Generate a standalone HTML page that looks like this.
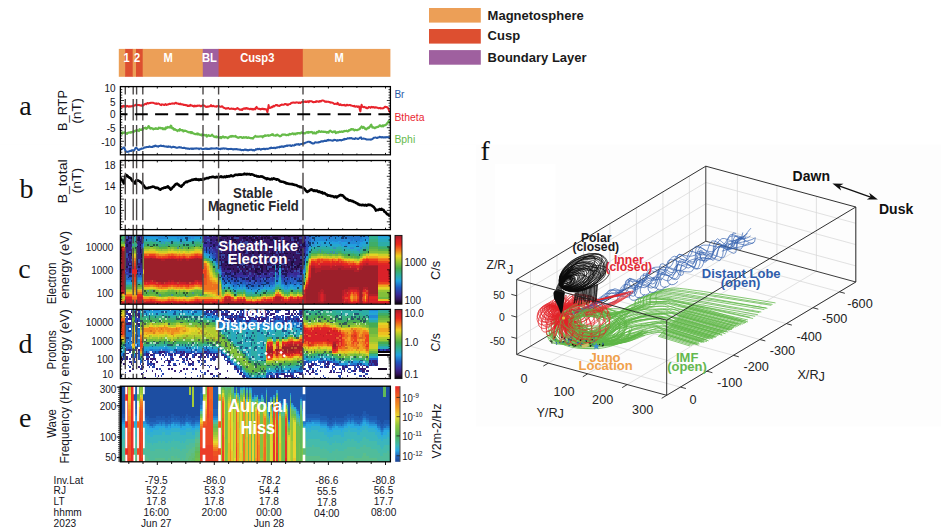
<!DOCTYPE html>
<html><head><meta charset="utf-8"><title>Figure</title>
<style>
html,body{margin:0;padding:0;background:#fff;}
body{width:941px;height:532px;overflow:hidden;font-family:"Liberation Sans",sans-serif;}
svg{display:block;position:absolute;left:0;top:0;}
text{font-family:"Liberation Sans",sans-serif;}
.se{font-family:"Liberation Serif",serif;}
</style></head><body>
<svg width="941" height="532" viewBox="0 0 941 532">
<rect x="0" y="144.6" width="941" height="282" fill="#fdfdfd"/>
<rect x="0" y="144.6" width="476" height="282" fill="#fff"/>
<rect x="495" y="164" width="60.5" height="80" fill="#fff"/>
<path fill="none" stroke="#d9d9d9" stroke-width="0.8" d="M530.5 346.3l150 40.8M530.5 346.3l0-75.1M557 330.4l149.9 40.8M557 330.4l0-75M583.5 314.5l149.9 40.8M583.5 314.5l0-75M609.9 298.6l150 40.9M609.9 298.6l0-75M636.4 282.8l150 40.8M636.4 282.8l0-75M662.9 266.9l150 40.8M662.9 266.9l0-75M689.4 251l150 40.8M689.4 251l0-75M548.3 363.1l189.1-113.3M737.4 249.8l0-75M587.7 373.8l189.2-113.3M776.9 260.5l0-75M627.2 384.6l189.2-113.3M816.4 271.3l0-75.1M666.7 395.3l189.1-113.3M855.8 282l0-75M516.7 338.4l189.1-113.3M705.8 225.1l150 40.8M516.7 317.1l189.1-113.3M705.8 203.8l150 40.8M516.7 295.8l189.1-113.3M705.8 182.5l150 40.8"/>
<path fill="none" stroke="#262626" stroke-width="0.9" d="M705.8 241.2l0-75M705.8 241.2l150 40.8M516.7 354.5l189.1-113.3"/>
<path fill="none" stroke="#5db646" stroke-width="0.75" stroke-linejoin="round" d="M565.9 323.4l2.8 2.2 3.7 3.3 4.4 4 4.9 4 5 3.8 5 2.9 4.7 1.8 4.4 .3 4.5-.7 4.5-1.5 4.5-1.8 4.5-2 4.4-1.8 4.4-1.4 4.4-.9 4.6-1 4.7-.8 4.4-.8 4.2-.6 3.7-.4 3.2-.2 2.5 0 2 .4 1.6 .5 1.3 .6 1 .7 .8 .5 .8 .4 30.5 9.4M564.6 322.4l2.2 2 2.9 2.8 3.6 3.4 3.9 3.5 4.3 3.3 4.4 2.7 4.5 1.8 4.8 .7 5.2 .1 5.5-.4 5.6-.7 5.6-1 5.4-1 5-.8 4.9-.8 4.8-1 4.8-1.2 4.6-1.1 4.2-1 3.8-.8 3.2-.5 2.6 0 2 .3 1.6 .5 1.3 .7 1 .7 .8 .6 .7 .3 30.8 9.6M562.7 315.3l1.6 2.6 2 3.6 2.4 4.4 2.7 4.5 3.2 4.3 3.7 3.6 4 2.5 4.8 1.2 5.4 .5 6-.2 6.3-.5 6.2-.9 6.1-.9 5.6-.8 5.3-1 5.5-1.3 5.3-1.5 5.1-1.6 4.7-1.4 4.2-1.1 3.5-.7 2.8-.1 2.1 .2 1.6 .6 1.2 .7 .9 .7 .7 .6 .7 .4 33.2 10.3M566.2 318.5l.8 2.5 .8 3.6 1 4.3 1.3 4.5 1.9 4.1 2.6 3.3 3.4 2.1 4.7 .6 5.9-.3 6.7-1.1 7.1-1.6 7-1.7 6.6-1.7 5.9-1.4 5.2-1.3 5-1.4 4.8-1.5 4.5-1.5 4.1-1.3 3.6-1 3.2-.7 2.6-.1 2 .3 1.6 .5 1.3 .7 .9 .7 .8 .7 .8 .3 40 12.4M567.5 319.9l2 2.5 2.5 3.8 3 4.4 3.5 4.6 3.7 4.2 3.8 3.3 4 1.9 4.1 .3 4.5-1 4.7-1.8 4.9-2.2 4.8-2.5 4.8-2.2 4.6-1.7 4.5-1.4 4.7-1.3 4.6-1.3 4.5-1.1 4.2-1 3.8-.8 3.1-.5 2.6 0 2 .3 1.6 .5 1.3 .7 1 .7 .8 .6 .7 .3 42.1 13M564.8 318.1l4 2.5 5.5 3.8 6.7 4.4 7.1 4.6 7 4.3 6.5 3.4 5.3 2 4.1 .6 3.4-.6 2.8-1.3 2.6-1.8 2.6-2 2.9-1.9 3.5-1.3 4.3-1.1 4.8-1.1 5.1-1.1 5.2-1 4.9-.9 4.4-.6 3.5-.4 2.7 0 2 .3 1.6 .6 1.3 .6 .9 .7 .8 .5 .7 .4 33.5 10.3M565 317l1 2.7 1.2 3.9 1.4 4.6 1.8 4.7 2.2 4.3 2.9 3.4 3.6 1.8 4.5-.1 5.6-1.4 6.2-2.4 6.5-2.8 6.6-3 6.3-2.6 5.6-1.8 5.3-1.1 5.2-.8 5-.6 4.8-.3 4.4-.3 3.9-.1 3.4 0 2.6 .1 2.1 .4 1.6 .5 1.2 .6 1 .6 .8 .5 .7 .3 44.5 13.6M563.7 324.6l3 1.8 4.1 2.6 4.9 3.1 5.4 3.2 5.6 2.9 5.4 2.3 5.1 1.3 4.7 .2 4.8-.7 4.8-1.2 4.8-1.6 4.7-1.7 4.7-1.6 4.5-1.4 4.6-1.2 4.8-1.4 4.7-1.4 4.5-1.3 4.3-1.2 3.8-.9 3.2-.6 2.5-.1 2 .2 1.6 .6 1.3 .7 1 .7 .8 .6 .8 .3 37.2 11.4M566.9 310.4l3.6 3.1 5.1 4.4 6 5.3 6.6 5.5 6.7 5.2 6.3 4.2 5.6 2.7 5 1 4.8-.1 4.6-1.1 4.5-1.5 4.3-1.8 4.1-1.7 4-1.3 4-1.1 3.9-1.3 3.7-1.3 3.6-1.3 3.3-1.1 3-.9 2.7-.5 2.2-.1 1.9 .3 1.7 .5 1.3 .7 1.1 .7 1 .6 .8 .3 36.4 11.1M554.6 323.2l4.5 1.6 6.3 2.4 7.5 2.8 8.1 2.9 7.9 2.7 7.2 1.9 5.9 .9 4.4-.2 3.6-1.2 2.9-1.8 2.6-2.2 2.6-2.2 2.8-2.1 3.3-1.5 4-1.1 4.5-1 4.8-.9 4.7-.8 4.5-.6 4-.5 3.2-.2 2.6 0 2 .4 1.6 .5 1.3 .6 1 .6 .8 .6 .7 .3 46.3 14M568.6 319.1l3.6 2.3 5 3.3 5.9 3.9 6.3 4 6.4 3.7 5.9 2.8 4.9 1.4 3.9 0 3.3-1.2 2.8-2.1 2.7-2.5 2.8-2.5 3-2.3 3.6-1.7 4.3-1.1 5-1 5.3-.8 5.3-.7 5-.5 4.5-.4 3.6-.2 2.7 .1 2.1 .3 1.6 .5 1.2 .7 .9 .6 .8 .5 .7 .3 41 12.4M569 323.1l2.8 2 3.8 3 4.5 3.5 4.9 3.5 5.1 3.3 4.8 2.4 4.4 1.2 3.9-.2 3.7-1.3 3.6-2 3.6-2.5 3.6-2.6 3.7-2.4 4-1.8 4.4-1.5 4.9-1.5 5-1.3 5-1.2 4.8-1.1 4.2-.8 3.4-.5 2.6-.1 2.1 .3 1.6 .5 1.2 .7 1 .7 .8 .5 .7 .4 45.8 13.8M563.6 315l3.5 2.4 4.9 3.5 5.9 4.1 6.3 4.2 6.5 4 6.1 3.1 5.5 1.8 4.9 .4 4.7-.6 4.5-1.4 4.4-1.8 4.3-2 4.2-1.9 4.3-1.4 4.4-1.2 4.5-1.2 4.5-1.2 4.3-1.2 4.1-1 3.6-.7 3.1-.5 2.5-.1 2 .3 1.6 .6 1.3 .6 1 .7 .8 .5 .8 .4 41.7 12.4M564.2 318.1l3.5 2.5 4.9 3.7 5.7 4.3 6.3 4.5 6.4 4.1 6.1 3.2 5.3 1.7 4.8 0 4.5-1.2 4.4-2.1 4.2-2.6 4.1-2.7 4.2-2.5 4.3-1.9 4.4-1.5 4.7-1.3 4.8-1.3 4.6-1.2 4.3-.9 3.8-.7 3.3-.5 2.5-.1 2.1 .3 1.6 .5 1.2 .7 1 .6 .8 .6 .8 .4 42.6 12.6M566.8 316.3l2.2 2.6 2.8 3.9 3.5 4.6 3.9 4.7 4.2 4.3 4.3 3.1 4.5 1.5 4.7-.5 5.2-2.1 5.5-3.2 5.6-3.6 5.5-3.7 5.3-3.3 4.8-2.2 4.4-1.3 4.3-.9 4.2-.5 3.8-.3 3.6-.1 3.3 0 2.8 0 2.4 .1 1.9 .4 1.6 .5 1.4 .5 1 .6 .9 .5 .8 .3 50.5 14.9M556.7 315.3l3.7 2.6 5.3 3.8 6.3 4.6 6.7 4.6 6.8 4.3 6.2 3.2 5.3 1.6 4.2-.1 3.5-1.5 3.2-2.5 2.9-3 3-3.1 3.3-2.8 3.8-2.1 4.5-1.4 5.1-1.3 5.4-1.2 5.4-1 5.1-.7 4.5-.6 3.6-.4 2.8 0 2.1 .2 1.6 .6 1.2 .6 .9 .6 .7 .6 .7 .3 52.2 15.4M569.3 323.2l3.6 1.7 5.1 2.4 6 2.9 6.4 2.9 6.4 2.6 6 1.8 5 .7 4-.7 3.5-1.8 3-2.4 2.9-2.9 2.8-2.9 3.1-2.6 3.4-1.9 3.9-1.3 4.3-1 4.4-.9 4.5-.7 4.2-.4 3.8-.4 3.1-.2 2.5 .1 2 .3 1.6 .5 1.3 .6 1 .6 .9 .5 .7 .3 49.7 14.5M559.2 321.2l1.8 1.9 2.2 2.8 2.6 3.3 3.1 3.3 3.7 3 4.4 2.1 5 .8 6.3-.8 7.6-2 8.4-2.8 8.6-3.2 8.5-3.3 7.6-2.9 6.5-2 5.2-1.4 4.5-1 3.9-.8 3.4-.5 3-.4 2.8-.2 2.5-.2 2.4 .1 1.9 .3 1.6 .5 1.4 .6 1.1 .6 .9 .5 .7 .3 49.1 14.3M572.8 328.5l2.2 1.3 2.9 2.1 3.5 2.4 3.8 2.5 4.1 2 4 1.3 4 .2 3.8-1.2 4-2.2 4.1-3.1 4.2-3.4 4.1-3.4 4.3-3 4.2-2.2 4.4-1.6 4.7-1.2 4.8-1 4.6-.7 4.5-.5 3.9-.3 3.2-.3 2.6 0 2.1 .3 1.6 .5 1.2 .6 1 .7 .8 .5 .7 .3 56.2 16.2M559.6 323.5l2.2 1.5 2.7 2.2 3.3 2.7 3.8 2.7 4.3 2.3 4.6 1.5 4.9 .4 5.5-1 6.4-2.2 6.8-3 7-3.4 6.9-3.3 6.4-2.8 5.7-2.1 5-1.2 4.6-.9 4.3-.5 3.9-.3 3.6-.1 3.2 0 2.9 0 2.4 .1 2 .3 1.6 .5 1.3 .6 1.1 .5 .8 .5 .8 .3 54.4 15.6M568.3 325.2l1.1 1.7 1.1 2.6 1.3 3.1 1.8 3.1 2.3 2.7 3 1.8 3.9 .4 5.1-1.3 6.3-2.6 7.1-3.5 7.4-3.9 7.5-3.9 7-3.5 6.1-2.5 5.4-1.6 5.2-1.2 5-.9 4.6-.6 4.1-.3 3.8-.3 3.2-.1 2.6 0 2.1 .3 1.6 .5 1.2 .6 1 .6 .8 .5 .7 .3 53.1 15.1M563.4 322.2l1.4 2 1.5 2.9 1.9 3.5 2.3 3.6 2.9 3.1 3.7 2.3 4.5 .9 5.8-.7 7.1-2 8-2.8 8.3-3.3 8.3-3.4 7.7-2.9 6.7-2.2 5.9-1.6 5.6-1.2 5.2-1.1 4.8-.8 4.4-.6 3.9-.5 3.3-.3 2.7 0 2.1 .3 1.6 .5 1.2 .6 .9 .6 .8 .5 .7 .4 48.9 13.7M564.3 318.5l2.3 1.9 2.9 2.9 3.6 3.4 3.9 3.4 4.3 3 4.5 2.1 4.4 .7 4.7-.9 5-2.3 5.3-3.2 5.4-3.7 5.4-3.6 5.3-3.2 5-2.2 5-1.4 5.2-1 5.2-.6 4.9-.4 4.6-.1 4.1-.1 3.5-.1 2.7 .1 2.1 .4 1.5 .4 1.3 .6 .9 .6 .8 .4 .7 .3 57.5 16.1M567.9 320.4l1.7 1.9 2.2 2.9 2.6 3.4 3.1 3.5 3.5 3 4 2.1 4.4 .8 5.2-.9 6.1-2.3 6.6-3.1 6.9-3.5 6.8-3.6 6.3-3.2 5.6-2.3 4.9-1.6 4.6-1.3 4.2-1 4-.7 3.6-.6 3.2-.4 2.8-.3 2.5 0 2 .3 1.6 .5 1.3 .6 1 .6 .9 .5 .7 .3 58 16.1M564.6 313.9l1.2 2.4 1.3 3.6 1.7 4.2 2.1 4.4 2.7 3.8 3.6 2.9 4.6 1.2 6-.6 7.6-2.1 8.4-3.1 8.9-3.6 8.8-3.7 8.1-3.2 7-2.3 6-1.4 5.5-1.1 5.1-.7 4.7-.5 4.1-.3 3.7-.2 3.3-.2 2.7 .1 2.1 .3 1.6 .5 1.2 .5 .9 .6 .8 .5 .7 .3 50.6 13.9M569.3 321.1l2.7 1.7 3.5 2.6 4.1 3.1 4.7 3.1 5 2.6 5.1 1.8 5 .5 5.3-1.2 5.8-2.5 6.1-3.3 6.1-3.8 5.9-3.7 5.5-3.4 5-2.4 4.4-1.5 4-1.2 3.7-.9 3.4-.6 3.2-.4 2.8-.2 2.6-.2 2.2 0 2 .3 1.6 .5 1.3 .6 1.2 .5 .9 .5 .8 .3 57.4 15.7M568.2 320.7l1.3 1.7 1.4 2.6 1.7 3.1 2.2 3.2 2.8 2.7 3.6 1.8 4.5 .6 6.1-1 7.5-2.3 8.5-3.2 8.9-3.5 8.7-3.6 7.9-3.1 6.8-2.3 5.5-1.5 5-1.2 4.4-.8 3.9-.6 3.4-.5 3.2-.2 2.8-.2 2.5 0 2 .3 1.6 .4 1.3 .6 1 .6 .9 .5 .7 .3 53.7 14.5M564.5 328.4l1.9 1 2.4 1.7 2.9 1.9 3.3 1.8 3.7 1.4 4.1 .7 4.4-.5 4.9-1.9 5.7-3.1 6-4 6.3-4.3 6.3-4.2 6-3.6 5.5-2.6 5.2-1.6 5.2-1.1 5-.6 4.8-.2 4.4-.1 3.9 0 3.3 0 2.7 .1 2 .3 1.6 .5 1.3 .5 .9 .5 .8 .5 .7 .3 63 16.8M561.1 317.9l2.3 1.8 2.9 2.9 3.4 3.4 4 3.5 4.4 2.9 4.7 2.1 5.1 .6 5.8-1.1 6.5-2.5 7.1-3.3 7.2-3.9 7.1-3.9 6.6-3.4 5.8-2.5 5.2-1.7 4.8-1.3 4.4-.9 4.1-.7 3.7-.5 3.3-.4 2.9-.2 2.5-.1 2 .3 1.6 .4 1.3 .6 1 .6 .9 .5 .7 .3 61.2 16.2M564.5 319.2l1 2.1 .9 3.1 1.2 3.7 1.6 3.8 2.3 3.2 3.4 2.2 4.5 .6 6.4-1.2 8.1-2.8 9.1-3.8 9.7-4.4 9.5-4.3 8.8-3.8 7.3-2.7 6.1-1.8 5.4-1.3 4.9-1 4.3-.7 3.9-.4 3.4-.3 3.1-.2 2.7-.1 2 .3 1.6 .4 1.3 .6 .9 .6 .8 .5 .7 .3 54.5 14.3M569 319.5l3.6 1.7 4.9 2.6 5.8 3.1 6.3 3 6.3 2.6 5.9 1.6 5 .3 4.2-1.5 3.8-3 3.5-3.9 3.2-4.3 3.3-4.3 3.4-3.7 3.6-2.7 4-1.8 4.4-1.2 4.4-.8 4.5-.5 4.2-.3 3.7-.2 3.1-.1 2.5 0 2 .3 1.6 .4 1.3 .6 1 .5 .9 .5 .7 .3 66.2 17.2M564.5 320.1l1 1.8 1 2.8 1.2 3.3 1.7 3.2 2.4 2.7 3.5 1.8 4.8 .2 6.7-1.7 8.6-3.3 9.8-4.3 10.2-4.8 10-4.7 9-4.1 7.3-2.9 5.6-1.7 4.7-1.1 3.8-.7 3.2-.3 2.8 0 2.5 0 2.4 0 2.4 0 1.9 .3 1.6 .4 1.4 .5 1.1 .6 .9 .4 .7 .3 61.2 15.5M571.7 318.8l2.6 1.9 3.4 3 4 3.5 4.5 3.5 4.6 3 4.6 1.9 4.2 .3 4.1-1.7 4-3.3 4-4.5 4-4.9 4.1-4.8 4.2-4.3 4.2-3 4.6-2 4.9-1.3 5-.9 5-.5 4.6-.3 4.2-.2 3.4-.2 2.6 0 2.1 .3 1.6 .4 1.2 .5 1 .6 .8 .4 .7 .3 69.7 17.4M569.4 318.9l1.1 1.9 1 3 1.3 3.5 1.8 3.5 2.4 2.9 3.3 1.8 4.3 .2 5.9-1.9 7.4-3.6 8.3-4.8 8.8-5.3 8.7-5.2 8.1-4.5 6.9-3.1 6-1.9 5.5-1.1 5-.6 4.6-.2 4.1 .1 3.7 .1 3.2 0 2.7 .1 2.1 .3 1.6 .4 1.2 .5 .9 .5 .8 .4 .7 .3 61.2 14.9M571.6 317.6l2.8 1.9 3.9 2.9 4.6 3.4 5.1 3.5 5.3 2.9 5.2 1.8 4.8 .2 4.7-1.9 4.7-3.5 4.7-4.7 4.8-5.1 4.6-5.1 4.5-4.4 4.3-3.1 4.2-1.8 4.2-1.2 4.1-.6 4-.3 3.6 0 3.3 0 2.9 0 2.3 0 2 .3 1.6 .4 1.3 .5 1.1 .5 .9 .4 .8 .3 73.3 17.5M570 316.9l1.4 1.9 1.6 3.1 2 3.6 2.4 3.5 2.9 3 3.4 1.9 3.9 .2 4.8-1.9 5.8-3.6 6.3-4.8 6.6-5.3 6.6-5.2 6.3-4.5 5.8-3.2 5.3-1.9 5.4-1.2 5.2-.7 4.9-.3 4.5 0 4 0 3.4 0 2.7 0 2.1 .3 1.6 .4 1.2 .4 .9 .5 .8 .5 .7 .2 73.5 17.2M566.1 317.1l2.1 1.8 2.6 2.9 3.1 3.4 3.6 3.3 4.2 2.8 4.6 1.7 5.2 .1 6.1-1.8 7.1-3.6 7.9-4.6 8-5.2 7.8-5 7.2-4.4 6.1-3.1 5.2-1.8 4.4-1.1 4-.6 3.5-.3 3.2 0 2.8 .1 2.7 0 2.3 0 2 .3 1.6 .4 1.3 .4 1.1 .5 .9 .4 .8 .3 70.4 16M569.6 319.3l2.2 1.8 2.8 2.8 3.4 3.3 3.9 3.2 4.3 2.7 4.6 1.5 4.8-.2 5.4-2.3 6.3-4.1 6.6-5.3 6.8-5.9 6.7-5.7 6.1-4.9 5.4-3.5 4.7-2.1 4.3-1.4 3.9-.7 3.6-.3 3.2 0 2.9 0 2.7 0 2.3-.1 1.9 .3 1.6 .4 1.4 .4 1.1 .5 .9 .4 .8 .3 76.1 16.9M567.4 321.4l1.7 1.4 2 2.2 2.4 2.6 2.9 2.5 3.4 1.9 3.9 1 4.6-.5 5.6-2.3 6.6-4 7.3-5 7.6-5.4 7.5-5.3 7-4.6 6.1-3.2 5.4-1.9 5.1-1.1 4.7-.5 4.3 0 3.9 .2 3.5 .2 3.1 0 2.6 .1 2 .2 1.6 .4 1.3 .4 .9 .5 .9 .4 .7 .2 77.1 16.7M609.4 319.7l1.8-1.3 2.6-1.9 3.1-2.1 3.2-2.2 2.9-2.1 2.5-1.5 2-1.1 1.8-.8 1.6-.6 1.4-.4 1.2-.5 1-.6 .6-.7 .2-.8-.1-.8 0-.7 .1-.7 .4-.5 .8-.5 .9-.4 1.1-.4 1.2-.3 1.3-.2 1.4-.2 1.4-.2 1.3-.1 1.5-.1 1.7 0 2 .1 2.6 .2 3.5 .4 4.4 .7 4.8 .7 4.6 .7 3.9 .7 2.8 .4 78.3 14.4M608.4 318l2-.7 2.8-1.1 3.2-1.3 3.4-1.3 3.1-1.3 2.6-1 2.1-.8 1.8-.6 1.6-.6 1.4-.6 1.2-.6 .9-.8 .6-1 .2-1.1-.1-1.2 0-1.2 .1-1.1 .4-1 .9-.8 1-.7 1.2-.6 1.3-.5 1.5-.4 1.4-.4 1.5-.2 1.3-.2 1.5-.1 1.6 .1 2.1 .1 2.5 .2 3.5 .4 4.4 .6 4.8 .7 4.6 .7 4 .6 2.7 .4 80.4 14.1M599.5 308.1l3.4 .2 4.9 .2 5.7 .2 5.9 .2 5.2 .1 4.1-.2 2.7-.3 2.1-.6 1.4-.7 1.1-.7 .9-.8 .8-.9 .5-.8 .2-1-.1-1.1 0-1 .1-1 .5-.8 .9-.7 1.1-.6 1.4-.5 1.4-.4 1.6-.4 1.5-.3 1.5-.2 1.3-.2 1.5 0 1.6 0 2.1 .1 2.5 .2 3.5 .4 4.4 .6 4.8 .6 4.6 .7 3.9 .6 2.8 .4 78.1 13.2M601.9 316.1l3.4-.9 4.9-1.3 5.6-1.5 5.8-1.5 5.3-1.5 4-1.1 2.7-.9 2-.7 1.5-.6 1.1-.5 .9-.6 .8-.7 .5-1 .2-1-.1-1.1-.1-1.1 .1-1 .6-.9 1-.7 1.2-.6 1.5-.6 1.6-.5 1.6-.4 1.6-.3 1.5-.2 1.4-.2 1.4 0 1.7 0 2 .1 2.5 .2 3.5 .4 4.4 .6 4.8 .7 4.6 .7 4 .6 2.7 .4 77.2 13.6M600.1 317.9l4-1.1 5.6-1.5 6.6-1.8 6.7-1.8 6.1-1.7 4.5-1.4 3-.9 2.1-.7 1.4-.5 1-.5 .8-.6 .7-.8 .6-1 .1-1.2-.1-1.3-.1-1.2 .1-1.2 .6-1 1.1-.8 1.3-.8 1.6-.7 1.8-.5 1.7-.5 1.7-.4 1.5-.2 1.4-.2 1.4-.1 1.7 .1 2 .1 2.5 .2 3.5 .4 4.4 .5 4.8 .7 4.6 .6 3.9 .6 2.8 .3 76.8 12.5M598.3 314.6l4.2-.5 6.1-.8 7-.8 7.2-.9 6.4-.9 4.8-.8 3.2-.7 2.1-.5 1.4-.6 .9-.6 .7-.7 .7-.9 .6-1.2 .1-1.4-.1-1.6-.1-1.5 .1-1.5 .6-1.2 1.2-1 1.5-1 1.7-.8 1.8-.7 1.9-.6 1.8-.4 1.5-.4 1.4-.1 1.4-.1 1.6 0 2 .2 2.6 .2 3.5 .4 4.3 .5 4.8 .6 4.6 .6 4 .6 2.8 .4 77.6 12.2M600.9 317.4l4.2-1 6.2-1.5 7.2-1.7 7.3-1.9 6.5-1.6 4.9-1.3 3.2-1 2.1-.6 1.4-.5 .9-.5 .6-.6 .8-.8 .5-1.2 .1-1.4-.1-1.5-.1-1.5 .1-1.4 .7-1.2 1.2-1 1.6-.9 1.8-.7 2-.7 2-.6 1.8-.4 1.6-.3 1.4-.2 1.4-.1 1.6 .1 2 .1 2.5 .3 3.5 .4 4.4 .6 4.8 .6 4.6 .7 3.9 .6 2.8 .5 75.1 13.1M606.5 318.6l4-.9 5.7-1.3 6.7-1.5 6.8-1.6 6.1-1.5 4.5-1.2 3.1-.8 2.1-.6 1.4-.4 .9-.5 .8-.7 .7-1 .6-1.3 .1-1.8-.2-1.9-.1-1.9 .2-1.8 .6-1.5 1.3-1.2 1.7-1.2 2-1 2.1-.9 2.1-.7 1.9-.6 1.6-.4 1.4-.2 1.4 0 1.6 0 2 .2 2.5 .2 3.5 .4 4.4 .5 4.8 .6 4.6 .6 3.9 .6 2.8 .3 75.2 11.7M607.8 315.4l3.9-.9 5.6-1.2 6.6-1.5 6.7-1.6 6-1.4 4.5-1.2 3-.8 2.1-.6 1.4-.5 1-.5 .8-.7 .7-.9 .6-1.2 0-1.6-.1-1.6-.1-1.7 .1-1.6 .7-1.3 1.4-1.1 1.8-1 2.1-.9 2.2-.8 2.2-.6 2-.5 1.7-.4 1.4-.1 1.4-.1 1.6 .1 1.9 .1 2.5 .2 3.5 .4 4.4 .5 4.8 .6 4.6 .7 3.9 .5 2.8 .4 75 11.8M606.5 315.8l4.7-.9 6.9-1.3 7.9-1.6 8.1-1.6 7.2-1.4 5.3-1.2 3.4-.9 2.2-.6 1.4-.4 .8-.5 .6-.7 .6-.9 .6-1.4 0-1.6-.2-1.8-.1-1.9 .2-1.7 .7-1.4 1.5-1.2 1.9-1.1 2.2-1 2.4-.9 2.3-.7 2-.5 1.7-.4 1.5-.2 1.4 0 1.5 .1 1.9 .1 2.5 .2 3.5 .4 4.4 .5 4.8 .7 4.6 .6 4 .5 2.7 .4 71.9 11.4M658 336.2l32 9.8M659 335.3l32.8 10M659.9 334.3l33.6 10.2M660.9 333.3l34.4 10.5M661.9 332.4l35.1 10.7M662.8 331.4l36 11M663.8 330.4l36.7 11.2M664.8 329.5l37.5 11.4M665.8 328.5l38.3 11.7M666.7 327.5l39.1 12M667.7 326.6l39.9 12.1M668.7 325.6l40.6 12.4M669.6 324.6l41.5 12.7M670.6 323.7l42.2 12.8M671.6 322.7l43 13.1M672.5 321.7l43.9 13.4M673.5 320.8l44.6 13.6M674.5 319.8l45.4 13.8M675.5 318.8l46.1 14.1M676.4 317.9l47 14.3M677.4 316.9l47.8 14.6M678.4 315.9l48.5 14.8M679.3 315l49.4 15M680.3 314l50.1 15.3M681.3 313l50.9 15.5M682.2 312.1l51.7 15.7M683.2 311.1l52.5 16M684.2 310.1l53.3 16.3M685.2 309.1l54 16.5M686.1 308.2l54.9 16.7M687.1 307.2l55.6 17M688.1 306.2l56.4 17.3M689 305.3l57.2 17.4M690 304.3l58 17.7M609.9 323.2l.5 2.4-.5 2.4-1.5 2.3-2.3 2.2-3.2 1.8-3.9 1.5-4.4 1.1-4.6 .6-4.8 0-4.6-.4-4.3-.9-3.8-1.3-3.2-1.8-2.3-2-1.3-2.3-.4-2.4 .6-2.4 1.6-2.3 2.5-2.1 3.3-1.8 3.9-1.5 4.4-1 4.7-.5 4.8 0 4.6 .4 4.2 1 3.8 1.4 3 1.8 2.2 2.1M624.7 328.3l-1.3 3.1-2.2 3-3.2 2.8-4 2.5-4.6 2.2-5.2 1.7-5.5 1.3-5.8 .8-5.7 .3-5.6-.3-5.3-.8-4.7-1.4-4.1-1.8-3.4-2.2-2.4-2.5-1.4-2.8-.5-3 .6-3.1 1.5-3 2.6-2.9 3.4-2.8 4.2-2.4 4.8-2.1 5.3-1.6 5.6-1.2 5.8-.6 5.7-.1 5.5 .4 5.2 1M610.8 331.1l-2.1 2.3-2.9 2-3.7 1.6-4.2 1.2-4.7 .8-5 .3-5.1-.2-5-.6-4.9-1.1-4.5-1.6-4.1-1.9-3.4-2.1-2.6-2.5-1.8-2.6-1-2.6 0-2.7 .9-2.5 1.7-2.4 2.7-2.1 3.3-1.8 4-1.4 4.5-1 4.9-.5 5 0 5.1 .4 5 1 4.7 1.3 4.3 1.7 3.6 2.1M625.3 332.4l-2.9 3.5-4.1 3.2-5.1 2.7-6 2.2-6.6 1.6-6.9 .9-7 .1-6.7-.6-6.2-1.3-5.5-2-4.5-2.5-3.3-3.1-2.1-3.3-.7-3.6 .8-3.7 2.1-3.6 3.3-3.4 4.6-3 5.5-2.5 6.2-2 6.8-1.3 6.9-.6 6.9 .2 6.6 .9 6 1.5 5.1 2.2 4 2.8 2.9 3.2 1.5 3.4M629.3 330.6l-1.5 3.7-2.8 3.3-4.1 2.9-5.1 2.3-6 1.6-6.7 1-7.2 .2-7.3-.6-7.2-1.2-6.8-2-6.2-2.6-5.3-3.1-4.3-3.4-3.1-3.8-1.7-3.9-.4-3.9 1-3.7 2.4-3.5 3.7-3 4.8-2.5 5.8-1.9 6.5-1.1 7.1-.5 7.2 .3 7.3 1.1 7 1.7 6.4 2.4 5.6 2.9 4.6 3.4M630.8 330.5l-1.2 3.2-2.1 3.1-3.1 2.8-3.9 2.6-4.6 2.3-5.3 1.8-5.7 1.3-6.1 .9-6.2 .3-6.2-.2-6-.8-5.7-1.2-5.2-1.7-4.6-2.2-3.8-2.5-2.9-2.8-2.1-3-1.1-3.2 0-3.3 1-3.2 1.9-3.2 2.9-2.9 3.8-2.6 4.5-2.3 5.1-1.9 5.6-1.5 6-.9 6.2-.5 6.2 .1M629.5 329.4l.2 3.7-1.3 3.4-2.7 3.2-3.9 2.6-5 2-5.9 1.3-6.5 .6-6.9-.2-6.9-.9-6.7-1.7-6.2-2.3-5.4-2.9-4.4-3.3-3.2-3.6-1.9-3.7-.4-3.7 .9-3.6 2.4-3.2 3.6-2.7 4.8-2.2 5.7-1.5 6.4-.7 6.8 0 7 .8 6.7 1.5 6.4 2.2 5.6 2.7 4.6 3.2 3.5 3.6M619 326.3l-1.5 2.5-2.5 2.3-3.2 2.1-4 1.8-4.4 1.4-4.8 .9-5 .3-4.8-.1-4.6-.6-4.1-1.1-3.5-1.6-2.7-1.9-1.8-2.3-.8-2.4 .1-2.5 1.2-2.6 2.1-2.4 3-2.2 3.7-1.9 4.3-1.5 4.7-1.1 4.9-.6 4.9-.1 4.7 .5 4.3 .9 3.8 1.4 3 1.8 2.1 2.2 1.2 2.3M624.4 322.8l.9 3.9-.7 4.1-2.2 3.9-3.8 3.8-5 3.3-6.1 2.8-6.9 2.1-7.5 1.4-7.6 .5-7.5-.3-7-1.2-6.3-1.9-5.1-2.6-3.9-3.2-2.5-3.7-.9-3.9 .7-4 2.3-4 3.7-3.7 5-3.4 6.2-2.7 6.9-2.2 7.5-1.3 7.6-.5 7.5 .3 7 1.2 6.2 1.9 5.2 2.6 3.9 3.2M613.7 326.6l0 2.6-.8 2.6-1.8 2.5-2.6 2.3-3.4 2-4 1.7-4.4 1.3-4.9 .9-5 .4-5-.1-4.8-.5-4.6-1-4-1.4-3.5-1.8-2.7-2.1-1.9-2.4-.9-2.5-.1-2.5 .8-2.6 1.8-2.5 2.6-2.3 3.3-2 4-1.7 4.4-1.4 4.9-.9 5-.4 5 .1 4.8 .5 4.6 1M612.7 327.8l-.9 2.6-2 2.5-2.8 2.4-3.5 2.1-4.3 1.7-4.6 1.3-5 .9-5 .3-4.9-.2-4.6-.7-4.1-1.1-3.4-1.7-2.7-2-1.7-2.3-.8-2.4 .2-2.6 1.2-2.7 2.1-2.5 3-2.3 3.8-2 4.3-1.6 4.8-1.2 4.9-.7 5.1-.2 4.8 .3 4.5 .8 4 1.3 3.2 1.7 2.5 2.1M616 327.5l-1.1 3-2.2 2.8-3.2 2.4-4.2 2-4.8 1.6-5.4 .9-5.8 .5-5.9-.2-5.9-.8-5.6-1.3-5-1.8-4.4-2.3-3.6-2.6-2.6-2.9-1.5-3.1-.4-3.1 .8-3 1.9-2.8 2.9-2.6 3.8-2.1 4.7-1.7 5.2-1.2 5.7-.6 5.9 0 5.9 .6 5.7 1.1 5.3 1.7 4.6 2.1 3.8 2.6M615 333.8l-2.6 2.9-3.7 2.4-4.6 1.9-5.5 1.2-6.1 .6-6.3-.1-6.4-.8-6.1-1.5-5.7-2.1-5-2.5-4-3-2.9-3.2-1.7-3.4-.3-3.4 .9-3.3 2.2-2.9 3.4-2.5 4.4-2.1 5.3-1.4 5.9-.8 6.3-.1 6.4 .7 6.2 1.2 5.9 1.9 5.1 2.5 4.3 2.9 3.2 3.1 2.1 3.4 .7 3.4M628.4 323.7l-1.1 3.1-2.2 3.1-3.2 2.9-4.2 2.7-4.8 2.2-5.5 1.8-5.7 1.2-5.8 .6-5.8 0-5.3-.6-4.9-1.2-4.1-1.8-3.1-2.2-2.2-2.6-1-2.9 .1-3.1 1.2-3.1 2.4-3.1 3.4-2.9 4.2-2.6 5-2.1 5.4-1.7 5.8-1.2 5.8-.5 5.7 .1 5.3 .6 4.8 1.3 4 1.8 3 2.3M610.7 325.2l-.1 2.1-.9 2-1.7 1.9-2.4 1.7-3.1 1.4-3.6 1-3.9 .7-4.1 .2-4.3-.1-4.1-.6-3.9-1-3.4-1.3-3-1.6-2.3-1.9-1.5-2-.8-2.1 0-2.2 .9-2 1.7-1.9 2.4-1.7 3-1.4 3.5-1.1 3.9-.7 4.2-.2 4.2 .1 4.1 .6 3.9 .9 3.5 1.3 3 1.6M624.8 323.7l-.3 2.6-1.1 2.6-2 2.5-2.7 2.4-3.3 2.1-3.9 1.8-4.4 1.6-4.8 1.1-4.9 .7-5 .3-4.9-.2-4.7-.6-4.4-1-3.9-1.4-3.2-1.7-2.6-2.1-1.9-2.3-1-2.5-.2-2.5 .7-2.7 1.4-2.5 2.3-2.5 3-2.3 3.6-2 4.1-1.7 4.6-1.4 4.8-.9 5-.6 5-.1M624.9 334.1l-2.8 2.6-3.7 2.2-4.6 1.7-5.3 1.1-5.7 .6-5.9-.1-6-.7-5.7-1.3-5.2-1.8-4.5-2.4-3.6-2.6-2.6-3-1.4-3.1-.3-3.1 .9-3 2.1-2.8 3.2-2.4 4.2-2 4.9-1.5 5.5-.9 5.8-.3 6 .4 5.9 1 5.5 1.5 4.9 2.1 4.1 2.5 3.2 2.8 2.1 3 .9 3.1M619.2 324.1l.6 3.8-.9 3.9-2.4 3.7-3.9 3.4-5.1 2.9-6.1 2.3-6.8 1.7-7.3 .8-7.5 .1-7.2-.8-6.8-1.5-5.9-2.3-4.9-2.9-3.5-3.3-2.2-3.7-.6-3.8 .9-3.9 2.4-3.7 3.9-3.4 5.1-2.9 6.1-2.3 6.9-1.7 7.3-.8 7.4 0 7.3 .7 6.7 1.6 5.9 2.2 4.9 2.9 3.5 3.3M618.4 331.6l-2.1 1.7-2.8 1.3-3.3 .9-3.7 .6-4 .2-4.1-.2-4.1-.7-3.9-1-3.6-1.4-3.2-1.6-2.6-1.9-2-2-1.2-2.1-.5-2.2 .4-2 1.1-2 1.9-1.7 2.5-1.4 3.1-1.1 3.6-.7 3.9-.3 4 0 4.2 .5 4 .9 3.7 1.2 3.4 1.6 2.8 1.8 2.2 2 1.5 2.1M621.6 333.9l-1.6 3.1-2.8 2.8-3.9 2.3-4.8 1.8-5.5 1.1-6.1 .5-6.4-.2-6.5-.9-6.2-1.5-5.7-2.2-5-2.6-4.2-3-3-3.3-1.9-3.4-.7-3.4 .7-3.3 1.9-3.1 3.1-2.7 4.1-2.1 5-1.6 5.8-1 6.2-.3 6.4 .4 6.4 1.1 6.1 1.6 5.6 2.3 4.8 2.7 3.8 3.1 2.8 3.4M607.4 324.2l.4 1.9-.4 2-1 2-1.8 1.8-2.4 1.6-3 1.4-3.4 1.1-3.7 .8-3.9 .4-4 0-3.9-.4-3.7-.7-3.3-1-2.8-1.4-2.3-1.6-1.6-1.8-.9-1.9-.2-2 .6-2 1.3-1.9 2-1.8 2.6-1.5 3.1-1.3 3.5-1 3.9-.7 3.9-.2 4 .1 3.8 .4 3.6 .8M608.1 326.5l-.1 2.4-1.1 2.4-2 2.2-2.9 2-3.5 1.7-4.1 1.3-4.5 .8-4.7 .4-4.7-.1-4.6-.6-4.2-1-3.7-1.5-3-1.8-2.2-2.1-1.3-2.3-.3-2.4 .6-2.4 1.5-2.3 2.4-2.1 3.2-1.8 3.9-1.5 4.3-1.1 4.6-.7 4.7-.1 4.7 .3 4.4 .8 4 1.3 3.3 1.6 2.7 2M626.6 324.1l-.4 4.3-2 4.3-3.7 3.9-5.2 3.6-6.4 2.9-7.3 2.3-7.9 1.3-8.1 .5-8-.4-7.5-1.3-6.6-2.2-5.4-2.9-4.1-3.5-2.4-4-.7-4.2 1-4.3 2.7-4.1 4.3-3.9 5.6-3.3 6.8-2.7 7.6-1.9 8-1.1 8.1-.1 7.8 .8 7.2 1.6 6.2 2.5 5 3.1 3.4 3.7 1.8 4.1M622.6 332.3l-1.9 3.3-3.2 3-4.2 2.5-5.1 2.1-5.9 1.4-6.4 .8-6.6 .1-6.6-.5-6.3-1.2-5.8-1.9-5.1-2.4-4.1-2.8-3-3.1-1.7-3.4-.5-3.5 .8-3.4 2.1-3.2 3.3-2.9 4.4-2.5 5.3-1.9 6-1.4 6.4-.7 6.6 0 6.6 .7 6.2 1.3 5.7 1.9 5 2.5 3.9 2.9 2.8 3.2M620.1 326.7l-.1 2.7-1 2.5-1.9 2.2-2.7 2-3.3 1.7-4 1.3-4.5 .8-4.8 .4-5-.1-5.1-.6-4.9-1-4.7-1.4-4.3-1.8-3.8-2.2-3.1-2.4-2.4-2.5-1.5-2.7-.7-2.7 .2-2.6 1.1-2.5 1.9-2.2 2.7-2 3.4-1.6 4.1-1.3 4.5-.8 4.8-.3 5 .1 5.1 .6 4.9 1.1M631.8 326.8l-.1 2.8-1 2.9-1.9 2.7-2.7 2.4-3.4 2.3-4.2 1.8-4.6 1.5-5.2 1.1-5.3 .6-5.6 .2-5.5-.4-5.3-.8-5-1.2-4.6-1.7-4-2-3.3-2.3-2.5-2.6-1.7-2.7-.8-2.9 .2-2.9 1-2.8 1.9-2.7 2.7-2.5 3.5-2.2 4.2-1.8 4.7-1.5 5.1-1.1 5.4-.6 5.5-.1M555.7 332.8l.4 .7 .4 1 .5 1.3 .9 1.2 1.5 1.3 2.3 1 3.3 .9 4.2 .8 4.7 .8 5.2 .7 5.2 .5 5.1 .4 5.1 .3 5.3 .2 5.4 .1 5.5-.1 5.2-.4 5.1-.8 5-1.3 5.2-1.9 5.1-2.2 4.7-2.2 3.9-1.9 2.8-1.2M551.1 329.7l.4 1.3 .3 1.8 .6 2.1 .9 2.2 1.5 2 2.3 1.5 3.3 1.2 4.3 .9 4.8 .7 5.2 .6 5.2 .4 5 .4 4.8 .2 4.8 .3 4.9 .1 4.9-.1 4.9-.4 4.8-.9 5.2-1.7 5.6-2.3 5.6-2.7 5.2-2.6 4.3-2.3 3.2-1.6M546.5 333.5l.5 .8 .4 1.1 .6 1.4 1 1.3 1.4 1.3 2.1 1.1 2.8 .8 3.3 .7 3.7 .6 4.3 .5 4.7 .4 5.3 .3 6.2 .2 7.2 .1 7.6 0 7.7-.1 7-.4 5.9-.6 4.9-1.2 4.2-1.6 3.7-1.8 3.1-1.9 2.5-1.5 1.9-1.1M554.3 330.8l.4 1.4 .3 2.1 .6 2.3 .9 2.4 1.5 2.1 2.3 1.6 3.1 .9 3.8 .6 4.3 .3 4.9 .1 5.1-.1 5.5 0 6-.1 6.8-.1 7.2-.2 7.1-.4 6.5-.6 5.6-.9 4.7-1.5 4.2-1.9 3.6-2.1 3.1-2.2 2.5-1.8 2-1.3M549.3 333.2l.4 .9 .4 1.3 .5 1.5 .9 1.6 1.5 1.4 2.3 1.2 3.3 1 4.2 .8 4.7 .7 5.1 .6 5.2 .4 5 .3 4.9 .1 5.1 0 5.1-.2 5.2-.3 5-.6 5-.9 5.2-1.4 5.4-2 5.4-2.1 5-2.2 4.2-1.8 3-1.3M551.2 330.1l.4 1.4 .4 2.1 .6 2.5 .9 2.4 1.5 2.3 2.2 1.6 3 1.2 3.6 .9 4.2 .6 4.7 .4 5 .2 5.2-.1 5.9-.3 6.5-.5 7-.8 6.8-1 6.4-1.1 5.6-1.2 4.9-1.4 4.5-1.8 4-2 3.5-1.8 3-1.6 2.2-1.2M548.6 330.7l.4 1.4 .2 2.1 .4 2.5 .9 2.4 1.5 2.2 2.6 1.5 3.8 .9 5 .4 5.6 .2 6 0 6-.2 5.4-.2 5.2-.4 5.2-.4 5-.7 5-.7 4.9-.8 4.6-.7 4.7-.9 4.7-1 4.6-1.1 4.2-1 3.5-.9 2.6-.6M553.1 331.9l.5 1.1 .4 1.6 .6 1.8 .9 1.9 1.5 1.8 2.1 1.3 2.9 1 3.5 .7 4 .6 4.4 .4 4.9 .3 5.1 .2 5.8 0 6.6-.2 6.9-.2 7-.5 6.5-.5 5.7-.7 4.9-1 4.7-1.3 4.2-1.4 3.6-1.4 3-1.2 2.3-.8M549.3 329.5l.4 1.3 .3 1.8 .4 2.2 .9 2.3 1.5 2 2.5 1.7 3.6 1.2 4.5 1.1 5.2 1 5.6 .7 5.7 .5 5.6 .3 5.7-.1 6-.3 6.2-.5 6.1-.7 5.7-.9 5-1 4.6-1.4 4.2-1.8 3.9-1.9 3.4-1.9 2.9-1.6 2.1-1.2M553.5 330.2l.4 1.2 .4 1.8 .7 2 .9 2.1 1.4 1.9 2.2 1.5 2.8 1.1 3.5 .8 4 .7 4.4 .5 4.6 .4 4.8 .3 5.3 .3 5.7 .3 6 .2 6-.1 5.9-.4 5.4-.9 5.3-1.7 5.4-2.3 5.2-2.7 4.8-2.7 3.9-2.4 3-1.5M546.4 331.1l.4 1.4 .4 2.1 .5 2.4 1 2.4 1.4 2.1 2.3 1.4 3.2 .8 4.1 .4 4.6 0 4.9-.1 5.1-.3 4.9-.3 4.8-.3 5.1-.4 5.1-.6 5.2-.6 5.1-.7 5-.8 5.2-.9 5.6-1.2 5.6-1.3 5.1-1.2 4.3-1 3.1-.7M549.5 332.9l.4 .8 .3 1.2 .5 1.3 .9 1.4 1.5 1.3 2.4 1 3.6 .8 4.5 .7 5.1 .5 5.5 .5 5.6 .4 5.2 .4 5.1 .3 5.1 .4 5.2 .3 5.2 .2 5-.2 4.8-.6 4.9-1.1 5.1-1.8 5-2 4.5-2.1 3.8-1.8 2.8-1.2M550.6 333.6l.5 .8 .4 1.1 .6 1.2 .9 1.4 1.5 1.2 2.1 1.1 2.9 .9 3.5 .8 4 .8 4.4 .6 4.8 .5 5.2 .4 5.7 .2 6.6 .1 6.9 0 7-.2 6.5-.5 5.6-.8 5-1.4 4.6-1.9 4.3-2.3 3.7-2.2 3-1.9 2.3-1.3M551.2 333.3l.4 1 .4 1.3 .5 1.6 .9 1.6 1.5 1.5 2.3 1.2 3.1 1 3.9 1 4.5 .8 4.9 .7 5.1 .5 5.2 .3 5.7 0 6.2-.1 6.4-.3 6.4-.5 6.1-.7 5.3-.8 4.9-1.2 4.7-1.6 4.3-1.7 3.8-1.6 3.1-1.5 2.4-1"/>
<path fill="none" stroke="#3361b0" stroke-width="0.68" stroke-linejoin="round" d="M574.6 313.2l2.7-.9 3.9-1.3 4.5-1.5 4.9-1.4 5.7-1.6 6.6-1.8 6.1-1.6 4.3-1.1 2.5-.3 1.6-2.3 .8-4 1.3-3.1 1.5-2.5 2.5-.3 3 .7 3.6 2.3 2.9 .8 2.1-1.3 .6-4.7 1.1-3.4 .7-4.3 2.2-1.1 3.2 1.3 3.1 1.1 3.6 2.4 2.9 .7 2.3-.9 1.2-3.3 .9-3.8 .8-4.3 1.7-1.9 2.7 .1 3.2 1.4 3.8 2.5 3.2 1.5 2.1-1.2 1.7-2.1 .8-4.1 1-3.8 1.6-2.4 2.4-.4 3.2 1.2 3.6 2.4 3.3 1.5 2.8 .4 1.3-3 .7-4.3 1-3.7 1.5-2.6 2.4-.5 4.1 3.2 3.6 2.4 3.6 2.1 1.9-1.6 1.3-2.9 1-3.7 1.3-3.2 1.5-2.5 2.9 .6 3.6 2.4 3.6 2.2 3.4 1.7 2.2-.9 1-3.8 .3-5.1 1-3.8 1.8-1.8 2.9 .5 3.8 2.7 3.3 1.7 2.9 .5 1.9-1.6 .7-4.4M577.2 313l1.8-1.1 2.5-1.6 3.5-1.9 4.4-2.1 6.5-2.7 8.1-3.2 7.7-3 5.3-2.1 1.9-1.8 1.8-1.9 3 .9 3.4 1.9 3 .9 3.1 1 2.1-1.1 1.4-3 .7-4.3 .7-4.2 1.2-3.4 2.5-.2 3.7 2.4 3.6 2.2 3.8 2.6 3 .9 1.7-2 1.2-3.2 1-3.7 .8-4.2 1.3-2.9 3.2 1.3 3.6 2.2 4.1 3.4 2.9 .6 2.3-.7 1.6-2.5 1.2-3.3 .1-5.5 1-3.7 1.8-1.9 3.2 1.2 3.6 2.2 4 3.2 2.8 .4 1.5-2.5 1.2-3.3 .1-5.6 1.1-3.6 1.8-1.8 2.9 .6 3.6 2.2 4 3.1 3.4 1.8 2.9 .7 1.5-2.5 1.4-2.8 .6-4.6 .9-3.9 1.4-2.9 2.3-.7 3.5 2.1 3.9 2.9 3 .8 2.7 .1 1.5-2.4 1.4-2.9 .7-4.4 1.2-3.1M577.2 311.6l1.5-.7 2-1 2.6-1.2 3.2-1.5 4.4-2.1 5.4-2.5 5.2-2.4 3.5-1.6 2.1-1.1 2.3-.9 2.4-.5 2.7 .2 2.5-.2 2.8 .4 2.4-.5 2.1-1.4 1.5-2.3 1.6-2.3 1.7-2.2 2.2-1 2-1.3 2.7 .1 3 .8 3 .8 2.8 .5 2.1-1.3 1.8-1.7 1.6-2.3 1.4-2.8 1.6-2.3 2.5-.2 3 .8 2.8 .3 3.5 2 3 .9 2.1-1.3 1.9-1.6 1.4-2.6 1.4-2.9 1.9-1.7 2.2-1 3.1 1.1 2.8 .5 2.8 .3 2.6 0 2.1-1.2 1.5-2.5 1.3-3.1 1.1-3.3 1.8-1.9 2.3-.8 2-1.3 2.8 .3 2.8 .5 2.9 .5 2.4-.4 2.1-1.2 1.7-2 .8-4.2 1-3.7 2-1.4 2.6-.2 2.8 .6 3.4 1.7 2.9 .5 2.4-.5 1.6-2.2 .9-4 1.4-2.7 1.5-2.6M573 311.2l2-.6 2.8-.7 3.7-1.1 4.5-1.6 6.3-2.5 7.9-3.3 7.4-3.1 5.1-2.1 2.2-1 2.3-.7 2.9 .6 3.2 1.3 3.1 1 2.4-.3 1.8-2.1 1.8-1.9 1.4-2.6 1.1-3.4 1.8-1.9 1.8-1.9 3.3 1.6 3.1 1.1 3 .7 3.2 1.5 2.3-.8 1.8-1.8 1.5-2.7 1.1-3.5 1.5-2.5 1.9-1.6 2.1-1.2 2.9 .7 3.6 2 3.2 1.5 2.7 .2 1.9-1.6 1.2-3.4 1.3-3 1-3.6 1.9-1.7 2.5-.4 2.6 .1 3.4 1.8 3.2 1.2 3 .9 2.4-.4 1.8-1.9 1.4-2.8 1-3.6 1.3-3 1.6-2.5 2.3-.8 2.8 .6 3.2 1.3 3 .9 3.3 1.4 2.2-.9 1.4-2.7 1.2-3.4 1-3.6 1.4-2.9 2-1.3 2.4-.6 2.2-.9 3.5 2 2.9 .7 2.9 .7 2.2-1.1 2.1-1.1M576.9 313.7l1.6-1 2.1-1.3 2.9-1.7 4.1-2.1 6.1-2.9 7.7-3.5 7.4-3.3 5.1-2.2 1.7-2 2.2-1.1 2.7 .1 2.7 .4 2.8 .4 2.8 .3 2.3-.8 2-1.4 1.9-1.6 1.1-3.5 1.5-2.6 2.1-1 3 .8 3.2 1.2 2.7 .4 2-1.6 1.6-2.3 1.6-2.3 1.5-2.5 1.7-2.1 2.5-.4 2.7 .3 2.9 .7 2.9 .6 2.5-.4 1.9-1.7 1.3-3 1.1-3.3 2-1.5 2.1-1.2 2.9 .6 3.3 1.7 3.2 1.2 2.2-1 1.8-1.9 1.6-2.2 1.3-2.9 1.8-1.9 2.4-.6 2.8 .5 2.6-.2 3 .9 2.5-.2 1.8-1.9 1.2-3.3 1.2-3.3 1.9-1.5 1.9-1.7 2.2-.9 3 .8 3.1 1.2 2.8 .4 2.3-.9 1.7-1.9 1.5-2.7 1.3-2.9 2-1.4 2.4-.6 3.2 1.4M570.9 314.5l3.7-1 5.3-1.5 5.7-1.7 4.6-1.8 3.3-2.1 2.8-2.4 2.1-2.2 1.6-1.5 1.8-1.7 2-1.5 2.3-.7 2.8 .4 2.6-.1 2.3-.7 2.2-1 2.3-.8 2-1.4 1.7-2.2 2.1-1.1 1.9-1.5 2.7 0 2.7 .4 3.1 1 2.5-.2 2.3-.8 1.7-2.2 1.4-2.6 1.6-2.5 1.8-1.9 2.1-1.1 2.7 .1 2.6 0 3.3 1.5 2.6-.1 2.4-.4 1.8-1.8 1.4-2.9 1.3-2.9 1.5-2.6 2.1-1.3 3 .9 3.1 1.2 2.9 .7 2.9 .5 2-1.4 2.1-1.1 1.2-3.3 1.2-3.3 2-1.4 2.2-.9 2.4-.6 2.5-.2 3.2 1.4 2.8 .4 2.7 .1 2.3-.7 2-1.4 1.6-2.4 1.2-3.1 1.6-2.3 1.7-2.2 1.9-1.6 2.7 .1 3.1 1 3.2 1.4 2.6 0 2.2-.9 1.8-1.9 1.3-3.1 1.4-2.7 1.8-1.8 2.3-.9 2.1-1 2.2-1M576.9 311.4l1.3-.7 1.7-.9 2.4-1.1 3-1.4 4.3-2 5.4-2.3 5.1-2.2 3.6-1.6 2.1-1.2 1.5-2.4 1.4-2.8 2-1.5 1.9-1.6 2.2-1 3 .9 3.1 1.1 2.6-.2 1.6-2.1 1.9-1.8 1.1-3.4 1.3-2.9 2.1-1.4 2.9 .7 3.1 1.2 3.2 1.2 2.9 .6 1.8-1.7 1.4-2.8 1.3-3.1 1.2-3.2 2.2-.9 2.9 .6 2.9 .6 3.3 1.5 2.6 0 1.5-2.5 1.1-3.5 1.1-3.5 1.2-3.2 2.1-1.2 2.7 .1 3 .9 3.2 1.4 3 .9 2.5-.3 1.7-2.3 1.1-3.4 1.2-3.2 1.6-2.3 2.6 0 3.2 1.3 3.1 1.2 3.1 .9 2.4-.4 1.9-1.7 1.2-3.1 1.2-3.5 1.2-3.1 1.7-2.2 2.6 .1 3.3 1.5 3.7 2.4 2.9 .8 2.2-1.1 .9-3.9 1.1-3.4 1.6-2.4 2.4-.5 3.1 1.1 3.9 3M573.6 311.2l2.9-.7 4.3-1.1 4.6-1.4 4.2-1.7 3.8-2.4 3.8-2.9 3.4-2.8 2.3-1.9 2.1-1.2 1.8-1.9 2.8 .4 2.3-.6 2.6-.2 2.3-.6 2.5-.3 2-1.5 1.7-2.1 1.2-3.1 2.1-1.3 1.8-1.7 2.2-1.2 2.7 .3 2.7 .1 2.8 .4 2.4-.4 2.3-.8 1.9-1.7 1.4-2.7 1.4-2.7 1.8-1.9 1.6-2.4 1.9-1.6 2.5-.4 2.5-.1 2.6-.2 2.8 .5 2.7 .3 2.5-.4 2.1-1.1 1.6-2.4 1.3-3.1 1.4-2.6 1.9-1.7 1.8-1.9 2.7 .2 3 .9 2.8 .3 2.8 .4 2.4-.4 2.4-.7 1.6-2.1 1.5-2.6 1.5-2.6 1.7-2.2 2.3-.6 2.7 .1 2.6-.1 2.8 .6 3 .8 2.8 .5 2.4-.5 2.2-1.1 2-1.4 1.7-2 1.5-2.6 1.7-2.2 2.1-1.1 2.6-.1 2.9 .7 3 .9 3 .9 2.4-.6M570.8 313.5l3.5-.6 4.9-.9 5.6-1.3 5.4-2.1 5.6-3.6 6.1-4.6 5.5-4.4 3.8-3.1 3.1 1 2.4-.4 2.1-1 1.4-2.8 1.4-2.8 1.9-1.8 2.3-.7 2.8 .5 3.5 1.9 3 .9 2.5-.3 1.3-3 1-3.7 .8-4.1 2-1.5 2.9 .6 3.9 3 3.3 1.5 2.6 .1 1.7-2.3 .9-3.9 1-3.7 2-1.4 2.8 .4 2.9 .7 3.6 2.2 2.8 .5 2.2-1.1 1.2-3.1 1-3.6 1-3.9 2.1-1.1 2.3-.7 3.2 1.2 3.6 2.2 2.9 .8 2.1-1.4 1.1-3.3 .9-3.9 1.3-3 2.4-.6 3.6 2.4 3.5 1.8 3 .9 1.9-1.7 1.1-3.4 .8-4.1 1.5-2.7 1.9-1.6 3 1 4 3 3.3 1.7 2.6 0 1.5-2.6 .9-4.1 .9-3.8 1.6-2.2 2.8 .2 2.9 .8 2.8 .3M575.7 311.6l2.4-.7 3.4-1 3.9-1.3 3.7-1.4 3.8-1.7 4-2.1 3.5-1.9 2.5-1.3 2.1-1.3 1.1-3.4 1.4-2.7 1.5-2.5 2.6-.2 2.7 .2 3.7 2.5 2.8 .3 1.9-1.5 1.4-2.8 .8-4.1 1-3.8 1.9-1.5 3.5 1.8 4.4 4 3.5 2.1 2.3-.6 1-3.9 .4-5 .8-4.1 2.8 .4 3.8 2.6 3.5 2.1 3.2 1.4 1.8-2 0-5.9 .6-4.6 1.2-3.4 2.3-.6 3.5 1.9 3.9 3 3.5 1.9 2.1-1 .4-5.2 .4-4.9 .9-3.9 2.1-1.3 3.4 1.9 4 3 3.8 2.7 2.7 .2 1.4-2.8 .6-4.7 .2-5.3 1.6-2.4 2.7 .2 3.8 2.6 3.8 2.6 3.4 1.9 2-1.5 .3-5.2 .8-4.1 1.4-2.8 1.9-1.8 3.8 2.7 4.1 3.5 3.7 2.5 2.2-1.1 .8-4.2-.1-6 1.2-3.3 2.9 .7M573.9 314.3l2.4-1.3 3.3-1.7 4-2.3 4.2-2.5 4.8-3.4 5.5-4.1 5.1-3.8 3.5-2.6 1.9-1.6 2.2-1.1 2.6 0 2.9 .6 2.7 .2 2.9 .6 1.8-1.9 1.4-2.7 .9-3.8 1.5-2.7 1.8-1.9 3.1 1.2 3.4 1.7 3 1 2.8 .3 2.1-1.2 1.3-2.9 1.1-3.6 1.3-2.9 1.5-2.5 2.2-1 2.7 .1 3.4 1.7 3.4 1.7 2.8 .5 1.8-1.8 1.1-3.4 1.5-2.5 1.2-3.4 1.5-2.5 1.9-1.7 2.2-.9 3.1 1.1 3.4 1.6 3.4 2 2.3-.7 1.8-2 1.5-2.6 1.6-2.3 .9-3.8 1.7-2.1 2.1-1.2 3.1 1.1 3.2 1.2 3.6 2.2 3 .8 2.7 .4 1.9-1.7 1.6-2.4 1.1-3.5 1.5-2.4 1.9-1.7 1.9-1.6 2.6-.1 3.1 1.1 3 .9 3.4 1.7 2.7 .1 2.1-1.2 1.7-1.9 1.4-3 .9-3.7M683.4 271.4l-.1 2.2-.8 1.4-1.3 .4-1.7-.7-1.6-1.7-1.2-2.4-.6-2.5 .1-2.1 .9-1.4 1.4-.2 1.7 .9M705.6 256.8l.1 2.1-.6 1.3-1.1 .3-1.5-.8-1.4-1.7-1.1-2.2-.6-2.3 0-2 .7-1.2 1.1-.1 1.5 .8M653.9 277.3l-.5 1.8-1.3 1.3-1.6 .6-1.8-.3-1.5-1-1-1.6-.2-1.9 .6-1.7 1.3-1.2 1.7-.5 1.8 .4M634.6 285.2l.2 2-.5 1.3-1 .2-1.3-.8-1.4-1.7-1.1-2.3-.7-2.4-.1-1.9 .6-1.1 1.1-.1 1.3 .9M706.9 258.4l-.1 2.1-.7 1.3-1.3 .4-1.6-.7-1.5-1.6-1.2-2.2-.5-2.4 .1-2 .9-1.3 1.3-.2 1.6 .8M735.9 243.4l2.4-1.4 2.4-2 2.3-2.4 2.2-2.6 2.2-2.6 1.9-2.4 1.7-1.9M731 242l2.4-1 2.6-1.1 2.6-1.1 2.6-1.1 2.4-1.3 2.1-1.4 1.9-1.5M726.8 242.4l2.8-.9 3.6-.8 4.1-.7 4.1-.7 3.8-.8 3.2-1.1 2.2-1.5M724 246l3.2-1 4.6-1 5.4-.9 5.5-1.1 5.2-1.2 4.1-1.3 2.6-1.5M721.9 251.2l3.3-1.1 4.8-1.1 5.6-1.2 5.8-1.2 5.4-1.4 4.4-1.5 2.7-1.5"/>
<path fill="none" stroke="#2c5aa8" stroke-width="0.7" d="M630.5 292l-1 2.5-.1 2.2 .6 1.8 1.3 1.3 1.7 .5 2-.1 2.3-1.1 2.2-2.1M635.7 289.4l-1 2.5-.1 2.2 .6 1.8 1.3 1.2 1.7 .6 2-.1 2.2-1.1 2.3-2.1M641.4 286.8l-1 2.5-.1 2.2 .6 1.8 1.3 1.3 1.7 .5 2-.1 2.3-1.1 2.2-2.1M649.2 284.2l-1 2.5-.1 2.2 .6 1.8 1.2 1.2 1.8 .6 2-.1 2.2-1.1 2.3-2.1M656.8 281.6l-1 2.5-.2 2.2 .7 1.8 1.2 1.3 1.7 .5 2.1-.1 2.2-1.1 2.3-2.1M661.5 279l-1 2.5-.1 2.2 .6 1.8 1.3 1.3 1.7 .5 2-.1 2.2-1.1 2.3-2.1M668.9 276.4l-1 2.5-.2 2.2 .7 1.8 1.2 1.2 1.7 .6 2.1-.1 2.2-1.1 2.3-2.1"/>
<path fill="none" stroke="#e32228" stroke-width="0.7" stroke-linejoin="round" d="M560.6 314.4l-.9 2.5-1.6 3.4-2.4 3.8-3 3.7-3.3 2.8-3.1 1.5-2.7-.2-1.7-1.8-.6-3.3 .5-4.3 1.7-4.7 2.6-4.4 3.2-3.6 3.2-2.4 3-.9 2.5 .4 1.7 1.3 .9 1.9 .4 1.7M560.7 314.6l-.8 2.8-1.4 3.9-1.9 4.5-2.3 4.3-2.4 3.5-2.3 2-1.8 .2-1.2-1.7-.3-3.5 .7-4.7 1.4-5.3 2.1-5.1 2.4-4.3 2.4-3 2.2-1.5 1.7 .1 1.1 1.3 .6 1.8 .2 1.8M560.7 314.7l-.6 3.1-.9 4.4-1.1 5.1-1.4 5-1.3 4.1-1.1 2.5-.8 .5-.3-1.6 .2-3.7 .7-5.1 1.1-5.8 1.3-5.9 1.4-4.9 1.2-3.6 1-1.9 .7-.2 .4 1.2 0 1.8-.1 1.9M560.8 314.8l-.3 3.4-.4 4.8-.3 5.6-.1 5.5 .1 4.6 .3 2.9 .5 .7 .7-1.6 .8-3.8 .7-5.5 .6-6.3 .4-6.4 .1-5.5-.2-4.1-.4-2.2-.5-.4-.6 1.1-.6 2-.4 1.9M560.9 315l0 3.5 .2 5.1 .7 5.9 1.2 5.9 1.7 4.9 1.9 3.2 2 .8 1.8-1.7 1.4-4 .8-5.8 .1-6.7-.7-6.8-1.3-5.9-1.8-4.3-2-2.4-1.9-.5-1.7 1.2-1.2 2-.8 2.1M561 315l.2 3.7 1 5.3 1.7 6.1 2.6 6 3.3 5 3.6 3.2 3.5 .8 2.9-1.8 2.1-4.3 .8-6-.5-7-1.8-7-2.8-6-3.4-4.4-3.6-2.4-3.4-.4-2.7 1.2-2 2.2-1.1 2.2M561 315.1l.6 3.7 1.6 5.3 2.7 6.1 3.9 6 4.8 4.9 5.2 2.9 4.9 .6 4.1-2.1 2.6-4.4 .8-6.2-1.1-7.1-2.8-7-4.2-6-5-4.2-5.1-2.2-4.7-.2-3.8 1.5-2.5 2.3-1.5 2.3M561.1 315.1l.9 3.7 2.1 5.2 3.6 5.9 5 5.6 6.1 4.6 6.4 2.5 6.2 .2 5-2.4 3.1-4.7 .8-6.3-1.5-7-3.8-6.8-5.3-5.7-6.4-3.8-6.4-1.8-5.8 .2-4.7 1.8-3.1 2.5-1.7 2.5M561.2 315l1 3.7 2.5 4.9 4.2 5.5 5.9 5.2 7 3.9 7.5 2 7-.4 5.7-2.8 3.4-4.9 .9-6.3-1.9-6.8-4.4-6.4-6.3-5.1-7.3-3.3-7.4-1.2-6.7 .8-5.2 2.1-3.5 2.8-1.9 2.6M561.2 315l1.2 3.4 2.7 4.6 4.6 5 6.3 4.5 7.6 3.2 8 1.3 7.5-1 6-3.3 3.7-5.1 .8-6.2-2.1-6.4-4.8-5.9-6.8-4.4-7.8-2.5-8-.5-7.1 1.3-5.6 2.5-3.7 3.1-2 2.6M561.2 314.9l1.2 3.2 2.8 4.1 4.6 4.4 6.4 3.7 7.7 2.4 8.1 .5 7.5-1.7 6.1-3.6 3.7-5.3 .8-6-2.2-6-4.9-5.1-6.8-3.7-7.9-1.7-8 .3-7.2 1.9-5.6 2.9-3.8 3.3-2 2.7M561.2 314.8l1.1 2.9 2.7 3.6 4.4 3.7 6.1 2.9 7.3 1.6 7.7-.3 7.2-2.3 5.7-4 3.6-5.3 .7-5.8-2-5.5-4.6-4.4-6.6-2.8-7.5-.9-7.7 1-6.8 2.5-5.3 3.4-3.6 3.4-1.9 2.8M561.2 314.6l1 2.6 2.3 3.2 4 3 5.4 2.1 6.5 .8 7-1.1 6.5-2.8 5.2-4.3 3.1-5.3 .8-5.4-1.8-5-4.1-3.6-5.9-2-6.8-.1-6.8 1.7-6.2 3-4.8 3.6-3.3 3.5-1.7 2.8M561.1 314.5l.8 2.3 2 2.6 3.3 2.4 4.5 1.5 5.5 0 5.9-1.6 5.5-3.3 4.4-4.5 2.7-5.1 .7-5.1-1.5-4.4-3.4-3-4.9-1.2-5.7 .6-5.8 2.2-5.2 3.4-4.1 3.8-2.8 3.6-1.5 2.7M561.1 314.3l.5 2 1.5 2.3 2.5 1.8 3.5 .8 4.3-.5 4.6-2.1 4.3-3.5 3.6-4.5 2.2-5 .7-4.7-1.1-3.8-2.6-2.3-3.8-.6-4.5 1.1-4.5 2.6-4.1 3.5-3.3 3.9-2.2 3.6-1.3 2.6M561 314.2l.4 1.7 .9 1.9 1.7 1.3 2.5 .4 3-.9 3.2-2.4 3.2-3.6 2.6-4.4 1.7-4.7 .5-4.3-.6-3.3-1.7-1.8-2.7-.2-3.1 1.5-3.3 2.8-3 3.7-2.4 3.8-1.6 3.4-.9 2.5M561 314l.1 1.5 .5 1.6 .9 1 1.4 0 1.8-1.1 2-2.5 1.9-3.5 1.7-4.3 1.2-4.3 .5-3.9-.2-2.8-.9-1.5-1.5 .2-1.9 1.7-2 2.9-1.9 3.5-1.6 3.7-1.1 3.2-.6 2.3M560.9 313.9l-.1 1.3 .1 1.3 .2 .8 .5-.2 .7-1.2 .8-2.5 1-3.4 .9-3.9 .7-4 .5-3.4 .1-2.5-.2-1.1-.5 .3-.8 1.7-.9 2.8-.9 3.4-.8 3.4-.6 3-.4 2.1M560.9 313.8l-.3 1.2-.3 1.1-.3 .6-.3-.3-.3-1.2 0-2.3 0-3.1 .2-3.6 .4-3.6 .4-3.2 .4-2.1 .4-.9 .3 .4 .2 1.6 0 2.7 0 3.1-.2 3.1-.2 2.7-.2 2M560.8 313.7l-.3 1.1-.6 .9-.8 .6-.9-.3-1-1.1-.9-2.1-.6-2.8-.3-3.3 0-3.3 .4-2.8 .7-1.9 .8-.8 1 .4 .9 1.5 .8 2.4 .6 2.8 .3 2.9 .2 2.4 0 1.8M560.8 313.7l-.4 .9-.9 .9-1.1 .5-1.4-.1-1.5-1-1.5-1.9-1.2-2.5-.7-3-.2-2.9 .3-2.6 .9-1.8 1.2-.7 1.5 .3 1.5 1.3 1.4 2.2 1.1 2.5 .7 2.6 .4 2.2 .1 1.5M560.8 313.6l-.5 .9-1 .9-1.5 .6-1.8-.1-1.9-.8-1.9-1.6-1.6-2.3-1.1-2.7-.4-2.7 .3-2.4 1-1.7 1.5-.8 1.9 .2 2 1.2 1.8 1.8 1.5 2.3 1.1 2.4 .6 2 .2 1.4M560.8 313.6l-.6 .9-1.2 .9-1.7 .7-2.1 .1-2.3-.7-2.3-1.4-2-2-1.3-2.5-.6-2.6 .3-2.2 1.2-1.7 1.8-.9 2.2 0 2.4 1 2.2 1.6 1.8 2.1 1.3 2.1 .8 1.9 .3 1.3M560.8 313.6l-.7 1-1.3 1-1.9 .7-2.4 .3-2.7-.4-2.7-1.2-2.3-1.9-1.5-2.3-.7-2.5 .3-2.2 1.2-1.8 2.1-1 2.5-.2 2.7 .7 2.6 1.5 2.1 1.9 1.6 2 .9 1.7 .3 1.4M560.7 313.7l-.7 1-1.5 1.2-2.1 .9-2.7 .5-3.1-.2-3-.9-2.5-1.7-1.9-2.3-.8-2.4 .3-2.4 1.4-1.9 2.3-1.3 2.9-.4 3.1 .5 2.9 1.3 2.4 1.7 1.7 1.9 1.1 1.7 .4 1.3M560.7 313.7l-.8 1.2-1.6 1.4-2.4 1.2-3 .8-3.4 .1-3.3-.7-2.9-1.5-2.1-2.2-.9-2.5 .4-2.6 1.5-2.2 2.6-1.5 3.1-.7 3.5 .2 3.2 1 2.7 1.6 1.9 1.8 1.2 1.8 .5 1.3M560.7 313.8l-.9 1.4-1.8 1.6-2.6 1.6-3.2 1.2-3.7 .5-3.7-.4-3.1-1.3-2.2-2.2-1-2.6 .3-2.8 1.7-2.6 2.8-1.9 3.5-1.1 3.7-.1 3.5 .7 3 1.4 2.1 1.8 1.3 1.8 .5 1.4M560.7 313.9l-1 1.6-1.9 2-2.7 2.1-3.5 1.7-3.9 .9-3.8 0-3.3-1.1-2.4-2.1-1-2.8 .4-3.1 1.8-3 3-2.4 3.6-1.6 4-.6 3.7 .4 3.1 1.2 2.2 1.7 1.3 1.8 .6 1.5M560.6 314.1l-1 1.8-1.9 2.5-2.8 2.6-3.5 2.2-3.9 1.5-3.9 .4-3.3-.8-2.4-2-.9-3 .4-3.4 1.9-3.5 3-3.1 3.7-2.2 4-1.1 3.7 0 3.1 1 2.3 1.6 1.3 1.8 .5 1.6M560.6 314.2l-1 2.2-1.8 2.9-2.7 3.2-3.4 2.9-3.7 2.2-3.7 .9-3.1-.5-2.1-1.9-.9-3.2 .5-3.8 1.8-4.1 3-3.7 3.5-2.9 3.8-1.7 3.5-.5 2.9 .7 2.1 1.5 1.2 1.9 .4 1.6M560.7 314.3l-.7 2.3-1.3 3.2-1.9 3.6-2.3 3.4-2.5 2.8-2.4 1.5-1.9 .1-1.3-1.6-.4-2.9 .5-3.9 1.4-4.3 2-4.2 2.5-3.4 2.4-2.4 2.3-1 1.8 .2 1.2 1.1 .7 1.6 .2 1.5M560.8 314.5l-.5 2.7-.8 3.8-1 4.4-1.1 4.3-1.2 3.6-.9 2.2-.6 .4-.3-1.4 .2-3.2 .6-4.4 .9-5.1 1.1-5 1.2-4.3 1.1-3.1 .8-1.7 .6-.1 .3 .9 0 1.7-.1 1.6M560.9 314.6l-.2 3.1 0 4.3 .2 4.9 .5 5 .7 4.1 1 2.7 1.1 .7 1.1-1.4 1-3.4 .6-4.9 .3-5.7-.1-5.7-.6-5-.8-3.6-1.1-2-1.1-.4-1 .9-.7 1.7-.6 1.8M561 314.8l.2 3.2 .8 4.5 1.6 5.3 2.3 5.2 2.8 4.4 3.1 2.7 3.1 .7 2.6-1.6 1.8-3.7 .7-5.2-.5-6.1-1.6-6-2.4-5.2-3-3.8-3.2-2.1-2.9-.3-2.4 1-1.7 1.9-.9 1.9M561.1 314.8l.6 3.2 1.6 4.6 2.8 5.2 3.9 5 4.7 4.1 5.2 2.4 4.8 .3 3.9-1.9 2.5-4 .8-5.4-1.2-6.1-2.9-6-4.2-5-4.9-3.5-5.1-1.7-4.6 0-3.6 1.4-2.5 2.1-1.4 2M561.1 314.8l1 3.1 2.1 4.2 3.7 4.8 5.1 4.5 6.1 3.4 6.4 1.7 6.1-.4 4.9-2.4 3-4.3 .8-5.4-1.7-5.9-3.8-5.5-5.4-4.4-6.4-2.8-6.4-1-5.8 .6-4.5 1.9-3.1 2.4-1.6 2.2M561.2 314.7l1 2.8 2.4 3.8 4 4 5.6 3.6 6.6 2.4 7 .7 6.6-1.1 5.2-3 3.2-4.5 .8-5.3-1.9-5.4-4.2-4.7-5.9-3.5-6.9-1.8-7-.1-6.2 1.4-4.9 2.4-3.3 2.7-1.7 2.4M561.2 314.5l.9 2.5 2.3 3.2 3.8 3.1 5.3 2.6 6.3 1.3 6.6-.3 6.3-2 4.9-3.5 3.1-4.6 .6-5-1.7-4.7-4-3.8-5.7-2.4-6.5-.7-6.6 .9-5.8 2.1-4.7 2.9-3.1 3-1.6 2.4M561.1 314.3l.8 2.1 1.9 2.5 3.1 2.4 4.3 1.5 5.2 .3 5.6-1.2 5.1-2.6 4.2-3.9 2.6-4.5 .6-4.6-1.4-3.9-3.3-2.9-4.6-1.3-5.4 .2-5.5 1.7-4.9 2.8-3.9 3.2-2.6 3.1-1.4 2.4M561.1 314.1l.5 1.8 1.2 1.9 2.2 1.6 3 .7 3.7-.5 3.9-1.8 3.7-3 3.1-4 1.9-4.2 .5-4.1-.9-3.3-2.2-2-3.3-.5-3.8 1-3.9 2.2-3.5 3.1-2.9 3.4-1.9 3-1 2.3M561 314l.2 1.3 .6 1.5 1.1 1 1.6 .2 2.1-1 2.2-2.1 2.2-3.1 1.8-3.7 1.2-3.9 .5-3.6-.3-2.6-1.2-1.4-1.7 .1-2.2 1.3-2.2 2.5-2.1 3.1-1.7 3.3-1.2 2.9-.6 2M560.9 313.8l0 1.1 0 1.1 .2 .7 .4-.1 .5-1.1 .8-2.1 .7-3 .8-3.4 .6-3.4 .4-3 .2-2.1-.2-1-.4 .3-.7 1.5-.7 2.4-.8 2.9-.7 3-.5 2.6-.3 1.8M560.9 313.7l-.3 .9-.4 .9-.5 .5-.6-.2-.5-1.1-.5-1.9-.3-2.6 0-2.9 .1-3 .4-2.5 .4-1.8 .6-.7 .6 .4 .5 1.3 .4 2.2 .3 2.6 .1 2.6-.1 2.2 0 1.5M560.8 313.6l-.4 .8-.7 .8-1 .4-1.2-.1-1.3-.9-1.3-1.6-1-2.2-.7-2.5-.2-2.6 .3-2.2 .8-1.5 1.1-.7 1.2 .3 1.4 1.2 1.2 1.8 .9 2.2 .7 2.2 .3 1.9 .1 1.4M560.8 313.5l-.5 .8-.9 .8-1.4 .5-1.7 0-1.8-.6-1.9-1.3-1.5-1.9-1.1-2.2-.4-2.3 .3-2 .9-1.4 1.4-.7 1.8 .1 1.9 .9 1.8 1.5 1.4 1.8 1 2 .6 1.6 .3 1.2M560.8 313.5l-.6 .9-1.1 .8-1.7 .7-2.1 .2-2.3-.3-2.3-1.1-2-1.6-1.4-2-.6-2.1 .3-2 1.1-1.5 1.8-.9 2.2-.1 2.3 .6 2.3 1.2 1.8 1.7 1.3 1.7 .8 1.5 .3 1.2M560.8 313.6l-.7 .9-1.3 1.1-2 1-2.5 .6-2.8-.1-2.7-.7-2.4-1.4-1.7-1.9-.7-2.2 .3-2.1 1.2-1.8 2.1-1.2 2.7-.4 2.8 .3 2.6 .9 2.2 1.5 1.7 1.6 .9 1.5 .4 1.1M560.7 313.7l-.8 1.2-1.5 1.4-2.2 1.4-2.9 1.1-3.2 .4-3.1-.4-2.7-1.1-2-1.9-.8-2.2 .3-2.5 1.5-2.2 2.4-1.7 3-.9 3.2-.2 3.1 .7 2.5 1.2 1.8 1.5 1.1 1.6 .5 1.2M560.7 313.9l-.9 1.5-1.6 1.9-2.4 2-3.1 1.7-3.4 1.1-3.3 .1-2.9-.8-2.1-1.8-.8-2.5 .3-2.8 1.6-2.8 2.6-2.4 3.3-1.6 3.4-.8 3.2 .2 2.7 1 2 1.4 1.1 1.6 .5 1.3M560.7 314.1l-.9 1.9-1.6 2.5-2.3 2.8-2.9 2.5-3.2 1.9-3.2 .8-2.7-.5-1.8-1.6-.8-2.7 .5-3.4 1.6-3.5 2.5-3.3 3-2.5 3.3-1.5 3-.3 2.5 .6 1.8 1.2 1 1.6 .5 1.5M560.8 314.1l-.6 2-.9 2.8-1.3 3.2-1.5 3.1-1.7 2.5-1.5 1.4-1.3 .2-.7-1.2-.2-2.4 .5-3.4 1-3.7 1.4-3.7 1.6-3.1 1.6-2.1 1.5-1.1 1.1 0 .8 .9 .4 1.3 0 1.3M560.9 314.3l-.3 2.4-.2 3.3-.3 3.9-.1 3.9 0 3.2 .2 2.1 .4 .5 .4-1.2 .6-2.6 .5-3.9 .4-4.5 .3-4.4 .1-3.9-.1-2.8-.2-1.6-.4-.2-.4 .7-.4 1.4-.2 1.4M561 314.4l.1 2.6 .6 3.7 1.1 4.3 1.7 4.2 2.1 3.5 2.4 2.3 2.3 .5 1.9-1.2 1.4-3 .6-4.2-.3-4.9-1.2-4.9-1.8-4.2-2.2-3.1-2.4-1.7-2.2-.3-1.8 .8-1.3 1.5-.7 1.6M561.1 314.5l.5 2.6 1.4 3.7 2.4 4.1 3.3 4.1 4 3.3 4.4 1.9 4.1 .2 3.3-1.7 2.1-3.2 .6-4.4-1-5-2.5-4.8-3.6-4-4.2-2.8-4.3-1.4-3.8 .1-3.1 1.2-2.1 1.7-1.2 1.7M561.1 314.4l.8 2.5 1.9 3.3 3.1 3.7 4.4 3.3 5.2 2.5 5.5 1.1 5.2-.5 4.1-2.2 2.6-3.5 .6-4.4-1.5-4.6-3.3-4.3-4.6-3.3-5.4-2-5.5-.6-4.9 .8-3.8 1.7-2.6 2-1.4 1.9M561.1 314.3l.9 2.1 1.9 2.8 3.2 2.8 4.4 2.4 5.3 1.4 5.6 .1 5.3-1.4 4.1-2.7 2.6-3.7 .5-4.2-1.5-4-3.3-3.4-4.8-2.3-5.4-.9-5.6 .4-4.9 1.6-3.9 2.2-2.6 2.3-1.4 2M561.1 314.1l.7 1.8 1.5 2.1 2.6 1.9 3.7 1.3 4.3 .4 4.7-.9 4.3-2.1 3.5-3.1 2.1-3.7 .5-3.7-1.2-3.3-2.7-2.5-3.9-1.1-4.5 .1-4.6 1.3-4.1 2.2-3.3 2.6-2.1 2.5-1.2 1.9M561 313.9l.4 1.4 1 1.5 1.6 1.2 2.3 .5 2.8-.5 3-1.5 2.9-2.5 2.3-3.1 1.5-3.5 .5-3.2-.7-2.6-1.7-1.6-2.5-.3-2.9 .8-3 1.9-2.7 2.5-2.2 2.8-1.5 2.4-.8 1.9M561 313.7l0 1.1 .3 1 .6 .7 1 0 1.1-.8 1.3-1.7 1.4-2.5 1.1-3 .8-3 .4-2.7-.2-2-.6-.9-1 .1-1.2 1.2-1.3 2-1.3 2.5-1 2.6-.8 2.2-.4 1.6M560.9 313.6l-.2 .8-.2 .8-.2 .4-.2-.2-.1-.8-.1-1.7 .1-2.2 .1-2.5 .3-2.6 .3-2.1 .3-1.6 .2-.6 .2 .3 .1 1.1 .1 1.9-.1 2.2-.1 2.2-.2 1.9-.1 1.4M560.9 313.5l-.3 .6-.6 .7-.8 .3-.9-.1-1-.7-1-1.3-.8-1.9-.5-2.1-.1-2.1 .3-1.8 .5-1.2 .9-.6 1 .3 1 .9 .9 1.5 .7 1.9 .5 1.8 .2 1.6 .1 1.1M560.8 313.4l-.4 .7-.7 .6-1.2 .4-1.4 .1-1.6-.5-1.5-1.1-1.3-1.4-.9-1.8-.4-1.8 .2-1.6 .8-1.2 1.2-.6 1.5 0 1.6 .7 1.5 1.2 1.2 1.5 .9 1.6 .5 1.3 .2 1M560.8 313.5l-.5 .6-1 .8-1.4 .6-1.8 .3-2.1-.2-2-.7-1.7-1.3-1.2-1.6-.6-1.7 .3-1.6 .9-1.3 1.6-.8 1.9-.2 2 .4 2 .9 1.6 1.3 1.2 1.3 .7 1.3 .3 .9M560.8 313.5l-.6 .9-1.2 1.1-1.7 1-2.3 .6-2.4 .2-2.5-.4-2.1-1-1.5-1.5-.7-1.8 .3-1.9 1.1-1.6 1.9-1.2 2.3-.7 2.5 .1 2.4 .6 2 1.1 1.4 1.2 .9 1.3 .3 .9M560.8 313.7l-.7 1.2-1.4 1.5-1.9 1.6-2.5 1.3-2.7 .8-2.8 0-2.3-.7-1.7-1.4-.7-2 .3-2.3 1.3-2.2 2.1-1.9 2.6-1.2 2.8-.6 2.6 .2 2.2 .8 1.6 1.2 .9 1.3 .4 1M560.7 313.9l-.6 1.6-1.3 2.1-1.9 2.3-2.3 2.2-2.6 1.6-2.5 .7-2.1-.3-1.5-1.3-.6-2.2 .4-2.8 1.3-3 2-2.7 2.5-2.1 2.5-1.3 2.4-.4 2 .4 1.4 1.1 .8 1.3 .4 1.1M560.8 313.8l-.5 1.4-.8 1.9-1.3 2.1-1.5 2.1-1.7 1.6-1.6 .9-1.3-.1-.9-.9-.3-1.8 .3-2.4 .9-2.6 1.3-2.5 1.7-2.1 1.6-1.3 1.6-.6 1.2 .2 .9 .7 .4 1 .2 .9M560.9 314l-.3 1.7-.4 2.5-.4 2.8-.5 2.8-.5 2.3-.3 1.5-.2 .3 .1-.8 .2-2.1 .4-2.8 .5-3.3 .5-3.2 .5-2.8 .4-2.1 .3-1.1 .1-.1 0 .6-.1 1-.1 1M561 314.1l0 2 .4 2.8 .6 3.2 1.1 3.3 1.3 2.7 1.5 1.7 1.6 .4 1.3-.9 .9-2.2 .4-3.2-.1-3.8-.7-3.7-1.1-3.2-1.4-2.4-1.6-1.3-1.4-.3-1.2 .7-.9 1.1-.5 1.2M561 314.1l.5 2.1 1 2.8 1.8 3.2 2.5 3.1 3.1 2.6 3.3 1.4 3.1 .2 2.5-1.2 1.7-2.5 .4-3.4-.7-3.8-1.9-3.8-2.7-3.1-3.2-2.1-3.3-1.1-3 .1-2.3 .8-1.6 1.4-.9 1.3M561.1 314.1l.6 1.8 1.5 2.6 2.4 2.7 3.4 2.5 4.1 1.8 4.3 .8 4-.5 3.2-1.7 2-2.7 .5-3.4-1.2-3.5-2.5-3.2-3.7-2.5-4.2-1.4-4.2-.4-3.8 .7-3 1.3-2.1 1.6-1 1.4M561.1 314l.6 1.5 1.5 2 2.4 2 3.3 1.6 3.9 .9 4.2-.2 3.9-1.2 3.1-2.1 1.9-2.9 .5-3.1-1.2-3-2.5-2.4-3.5-1.5-4.1-.5-4.1 .5-3.7 1.3-3 1.8-1.9 1.9-1 1.5M561.1 313.8l.4 1.2 1 1.4 1.7 1.3 2.5 .7 2.9 0 3.1-.9 2.9-1.8 2.3-2.4 1.5-2.8 .4-2.7-.8-2.3-1.8-1.6-2.6-.6-3 .3-3.1 1.2-2.8 1.9-2.1 2-1.5 2-.8 1.4M561 313.6l.2 .9 .4 1 .8 .7 1.2 .1 1.5-.5 1.6-1.3 1.5-2 1.3-2.3 .8-2.5 .4-2.3-.3-1.7-.9-.9-1.2-.1-1.6 .9-1.6 1.5-1.4 2-1.2 2-.9 1.8-.4 1.4M560.9 313.5l0 .6-.1 .7 0 .4 .1-.1 .2-.7 .2-1.3 .3-1.8 .4-2.1 .3-2 .2-1.8 .2-1.3 0-.6-.1 .3-.2 .9-.3 1.5-.3 1.7-.3 1.8-.2 1.6-.2 1.1M560.9 313.4l-.2 .5-.4 .5-.5 .3-.7-.1-.7-.6-.6-1.1-.5-1.4-.3-1.7-.1-1.7 .2-1.4 .4-1 .6-.4 .7 .2 .7 .8 .6 1.2 .4 1.4 .3 1.5 .2 1.2 0 .9M560.9 313.3l-.3 .5-.6 .5-.9 .3-1.1 0-1.2-.3-1.1-.8-1-1.2-.7-1.3-.3-1.4 .2-1.3 .5-.9 1-.5 1.1 .1 1.2 .5 1.2 1 .9 1.1 .6 1.2 .4 1 .2 .8M560.9 313.4l-.4 .5-.8 .6-1.1 .5-1.5 .3-1.6-.2-1.6-.5-1.3-1-1-1.2-.4-1.3 .1-1.3 .8-1 1.2-.6 1.5-.2 1.6 .3 1.6 .7 1.3 .9 .9 1 .5 1 .3 .7M560.8 313.4l-.5 .8-.9 .9-1.4 .8-1.8 .6-1.9 .3-2-.2-1.7-.8-1.2-1.1-.5-1.4 .2-1.5 .9-1.4 1.5-1.1 1.8-.5 2-.1 1.9 .4 1.6 .8 1.2 .9 .7 1 .2 .7M560.8 313.6l-.5 1-1.1 1.4-1.5 1.4-1.9 1.2-2.1 .9-2.1 .2-1.8-.4-1.2-1.1-.6-1.6 .3-1.9 1-1.9 1.6-1.7 2-1.2 2.2-.6 2-.1 1.7 .6 1.2 .8 .7 1 .3 .9M560.9 313.6l-.3 1.1-.4 1.6-.6 1.8-.8 1.7-.7 1.5-.7 .8-.5 .1-.3-.6-.1-1.3 .3-1.9 .5-2.1 .6-2 .8-1.8 .7-1.2 .7-.6 .5-.1 .3 .5 .1 .7 0 .7M560.9 313.7l0 1.4 .1 1.9 .3 2.2 .4 2.2 .6 1.9 .6 1.2 .8 .3 .6-.6 .5-1.5 .3-2.2 .1-2.6-.3-2.5-.4-2.2-.7-1.7-.7-.9-.7-.1-.6 .4-.4 .7-.3 .8M561 313.8l.3 1.4 .7 2 1.2 2.3 1.6 2.2 2.1 1.8 2.2 1.1 2 .1 1.7-.8 1.1-1.7 .3-2.4-.5-2.7-1.2-2.6-1.8-2.2-2.1-1.6-2.2-.7-2 0-1.5 .5-1.1 1-.6 .9M561.1 313.7l.4 1.4 1 1.7 1.8 1.9 2.4 1.7 2.8 1.3 3 .5 2.9-.4 2.2-1.2 1.4-1.9 .3-2.4-.8-2.4-1.8-2.3-2.5-1.7-3-.9-3-.2-2.7 .4-2.1 1-1.4 1.1-.7 1M561.1 313.6l.4 1.1 .9 1.3 1.6 1.3 2.3 1 2.6 .4 2.8-.2 2.6-1 2.1-1.6 1.3-2 .3-2.1-.7-2-1.7-1.5-2.4-1-2.7-.2-2.8 .5-2.5 1.1-2 1.3-1.3 1.3-.7 1.1M561 313.5l.3 .8 .5 .8 1 .7 1.3 .4 1.7-.2 1.8-.8 1.6-1.3 1.4-1.7 .9-1.9 .2-1.8-.4-1.5-1-.9-1.5-.2-1.7 .4-1.8 1-1.5 1.3-1.3 1.5-.9 1.3-.4 1M561 313.4l0 .5 .1 .5 .2 .4 .4 0 .5-.5 .5-.9 .6-1.4 .5-1.5 .4-1.6 .2-1.4 0-1-.3-.5-.4 .1-.5 .7-.6 1-.5 1.4-.5 1.3-.3 1.2-.2 .8M560.9 313.3l-.1 .4-.2 .3-.3 .2-.3 0-.4-.5-.3-.8-.2-1.1-.1-1.2 0-1.2 .1-1.1 .3-.7 .3-.4 .4 .2 .3 .6 .3 .9 .2 1.1 .1 1 0 1 0 .6M560.9 313.2l-.2 .4-.4 .3-.6 .2-.7 0-.8-.3-.8-.5-.7-.9-.4-.9-.2-1 .1-.9 .4-.6 .6-.4 .8 .1 .8 .4 .8 .7 .6 .8 .4 .8 .3 .8 .1 .5M560.9 313.3l-.3 .3-.5 .5-.8 .3-1 .2-1.2-.1-1.1-.3-1-.7-.7-.8-.3-1 .1-.9 .6-.7 .8-.4 1.1-.2 1.2 .2 1 .5 1 .6 .6 .8 .4 .6 .2 .5M560.9 313.3l-.4 .6-.7 .7-1 .6-1.3 .6-1.4 .2-1.4-.1-1.2-.5-.9-.8-.4-1 .2-1.1 .6-1 1.1-.8 1.4-.5 1.4-.1 1.4 .2 1.1 .5 .9 .7 .5 .6 .2 .6M560.9 313.5l-.4 .8-.7 1.1-1 1.2-1.3 1-1.5 .8-1.3 .4-1.2-.2-.9-.8-.3-1.1 .2-1.5 .7-1.5 1.1-1.4 1.4-1.1 1.4-.6 1.3-.2 1.1 .3 .8 .6 .5 .7 .2 .6M561 313l4.8-.1 4 .8 3.3 1.5 2.4 1.8 1.7 1.9M561 313l0 2.9-1 2.3-1.3 1.9-.9 1.7 .3 1.7M561 313l3.2 .6 2.3 1.1 1.8 1.4 1.4 1.7 1.3 1.8M561 313l3.2 5.1 1.2 4.9 .2 4.5-.1 3.6 .6 2.5M561 313l4.1-.1 3.4 .6 2.8 1.3 2.1 1.6 1.5 1.8M561 313l1.5 5.2-.4 4.6-1.1 3.9-.9 3.2 .2 2.2M561 313l4.8 2.2 3.5 2.8 2.4 3.1 1.7 2.9 1.3 2.3M561 313l3 5 1.1 4.9 0 4.4-.2 3.6 .6 2.5M561 313l-.4 4.2-1.7 3.4-2.2 2.6-1.5 2.1 0 1.9M561 313l3 4.7 1.2 4.6 .2 4.2 0 3.5 .6 2.4M561 313l-.4 4.6-1.8 3.6-2.2 2.9-1.6 2.3 0 1.9M561 313l2.4 6.4 .2 6-1 5.2-.9 4 .2 2.6M561 313l1.1 3-.2 2.7-.6 2.3-.4 2.1 .5 1.8M561 313l-.6 4.7-2 3.7-2.5 2.9-1.8 2.3-.1 2M561 313l3.4 2.8 2 2.9 1.1 3 .8 2.7 .9 2.1M561 313l-.8 6.1-2.7 4.9-3.1 3.8-2.4 2.9-.3 2.1M561 313l3.5 3.7 1.8 3.9 .9 3.7 .5 3.1 .8 2.4M561 313l-.3 4.4-1.8 3.4-2.1 2.7-1.6 2.2 .1 1.9M561 313l0 3.6-1.2 2.9-1.6 2.4-1.2 2 .3 1.8M561 313l2.5 2.7 1.3 2.8 .5 2.6 .4 2.4 .8 2.1M561 313l4.4 2.1 3.1 2.6 2.1 2.8 1.5 2.7 1.3 2.2M561 313l1.9 3.3 .6 3.1-.2 2.9-.1 2.4 .6 2.1M561 313l6.4 2.2 4.9 3.3 3.6 3.7 2.5 3.5 1.5 2.5M561 313l3.3 1.4 2.4 1.8 1.6 2 1.3 2 1.1 1.9M561 313l6.2 1.9 4.7 3 3.5 3.4 2.5 3.3 1.5 2.4M561 313l2.9 2.9 1.6 3 .8 2.9 .5 2.6 .8 2.2M561 311l6-3.3 6.7-2.6 7.3-1.9 7.6-1.6 7.9-1.4 8-1.3 7.8-1.5 7.7-1.9M620 295.5l.5 .9-.9 1.2-2.2 1.7-3.5 2-4.9 2.4-6.3 2.6-7.7 2.8-9 2.9M561 311l6-3 6.8-2.5 7.3-2.1 7.9-1.8 8.1-1.6 8.4-1.6 8.6-1.8 8.5-2M622.6 294.6l.4 .9-1.2 1.4-2.6 2-4 2.4-5.4 2.7-6.7 2.9-7.9 3-9.2 3.1M561 311l6-2.8 6.8-2.4 7.5-2.1 8-1.9 8.5-1.9 8.8-1.8 9.2-2 9.4-2.1M625.2 294l.2 1-1.4 1.6-3 2.2-4.5 2.6-5.9 3-7.1 3.1-8.2 3.3-9.3 3.2M561 311l6-2.5 6.9-2.3 7.5-2.2 8.2-2.2 8.8-2 9.3-2.1 9.9-2.2 10.2-2.3M627.8 293.2l.1 1-1.7 1.8-3.5 2.5-4.9 2.9-6.4 3.3-7.5 3.5-8.5 3.5-9.4 3.3M561 311l6-2.3 6.9-2.2 7.6-2.3 8.4-2.3 9.1-2.4 9.8-2.4 10.5-2.5 11.1-2.6M630.4 292l0 1.1-2 2-3.9 2.8-5.4 3.4-6.8 3.6-8 3.8-8.8 3.8-9.5 3.5M561 311l6-2 6.9-2.2 7.8-2.4 8.5-2.5 9.5-2.6 10.2-2.8 11.1-2.8 12-2.8M633 290.9l-.1 1.2-2.3 2.2-4.3 3.1-5.9 3.7-7.3 4.1-8.4 4.1-9.1 4.1-9.6 3.6"/>
<path fill="none" stroke="#5db646" stroke-width="0.55" d="M595.3 329.6l-1.9 .9-2.2 .6-2.2 .4-2.2 .1-2.3-.2-2.2-.5-2-.7-1.9-.9-1.7-1.2-1.3-1.3-1.1-1.5-.7-1.6-.3-1.6 0-1.7 .4-1.6 .8-1.6 1.1-1.4 1.4-1.3 1.7-1.2 1.9-.9 2.1-.6M618.1 320.7l-1.8 1.5-3.3 1.4-4.6 1.1-5.5 .7-6.2 .4-6.3 0-6.1-.4-5.5-.8-4.5-1.2-3.1-1.3-1.7-1.6 0-1.6 1.6-1.5 3.2-1.4 4.4-1.1 5.5-.9 6.1-.4 6.3 0 6.2 .4 5.5 .7 4.6 1.1M600.6 319.6l-.7 2.1-1 1.9-1.5 1.7-1.7 1.4-1.9 1-2.2 .6-2.2 .2-2.2-.2-2.1-.7-1.9-1-1.7-1.4-1.4-1.6-1.1-2-.6-2-.3-2.2 .2-2.2 .7-2.1 1-1.9 1.4-1.7 1.7-1.4 1.9-1.1M584.3 328.1l-2.6-.4-2.4-.6-2-.7-1.7-.9-1.3-1-.8-1.1-.3-1.1 .2-1.1 .7-1.1 1.1-1 1.6-.9 2-.8 2.3-.6 2.5-.5 2.7-.2 2.8-.1 2.7 .1 2.7 .4 2.4 .5 2.2 .7 1.8 .9M588 331.3l-3.9 .1-3.8-.3-3.7-.5-3.5-.8-3.3-1-2.9-1.3-2.4-1.5-2-1.6-1.5-1.7-.9-1.9-.4-1.9 .2-1.9 .8-1.8 1.3-1.8 1.9-1.7 2.4-1.5 2.8-1.3 3.1-1.1 3.5-.9 3.6-.5 3.8-.4M608.8 324.5l-2.1 1.2-2.6 1.1-3.1 .9-3.4 .7-3.7 .4-3.7 .1-3.8-.1-3.7-.4-3.4-.6-3.1-.9-2.6-1.1-2.1-1.3-1.6-1.4-.9-1.5-.2-1.5 .4-1.5 1.1-1.5 1.7-1.4 2.3-1.2 2.7-1 3.2-.8M598.6 329.1l-1.6 1.2-1.7 .9-1.9 .5-2 .2-1.9-.2-1.9-.6-1.7-.9-1.6-1.2-1.3-1.4-1.1-1.7-.8-1.9-.4-2 0-2 .2-2 .7-2 .9-1.7 1.2-1.6 1.5-1.3 1.7-1.1 1.9-.6 1.9-.4M591.8 335.6l-1.5 .1-1.4-.2-1.5-.5-1.4-.7-1.3-1.1-1.1-1.2-1-1.5-.9-1.6-.7-1.8-.4-1.9-.3-2-.1-2 .2-2 .4-1.9 .5-1.8 .8-1.8 .9-1.5 1.1-1.4 1.3-1.1 1.3-.9 1.4-.6M615.4 333.8l-3.1 1.8-3.6 1.3-3.8 1-4.1 .6-4.1 .1-4.1-.3-4-.7-3.7-1.2-3.4-1.5-2.9-1.9-2.4-2.2-1.7-2.4-1.1-2.5-.4-2.6 .3-2.6 1-2.6 1.6-2.4 2.3-2.2 2.8-1.9 3.3-1.6 3.7-1.2M617 322.5l-2.4 1.4-3 1.3-3.7 1-4 .6-4.2 .4-4.4 0-4.2-.4-4-.7-3.6-1-3-1.3-2.4-1.4-1.6-1.7-.7-1.7 0-1.8 .9-1.7 1.8-1.6 2.4-1.5 3.1-1.2 3.7-1 4-.6 4.3-.3M605.3 334.4l-4.1 3-5.1 2.4-6 1.4-6.2 .4-6.3-.7-5.7-1.6-5-2.5-3.8-3.2-2.4-3.8-.8-4 .8-4 2.3-3.7 3.7-3.3 5-2.5 5.7-1.7 6.2-.6 6.3 .3 6 1.4 5.2 2.3 4.1 3 2.8 3.7M603.5 324.3l-.6 2-1.6 1.8-2.5 1.6-3.2 1.2-3.8 .8-4 .2-4-.3-3.8-.7-3.2-1.2-2.5-1.6-1.6-1.9-.5-2 .5-1.9 1.5-1.9 2.4-1.6 3.2-1.2 3.8-.8 4-.3 4 .2 3.8 .7 3.3 1.2M579.6 334.2l-3.2-.8-2.9-1.1-2.7-1.4-2.4-1.7-2-1.8-1.6-2.1-1.1-2.1-.7-2.3-.2-2.3 .3-2.3 .8-2.2 1.2-2.2 1.7-2 2.1-1.8 2.5-1.6 2.8-1.3 3-1.1 3.2-.7 3.3-.5 3.4-.1 3.4 .3M597.6 331.5l-2.1 .1-2.1-.3-2.1-.5-1.8-.7-1.7-1-1.4-1.1-1-1.3-.8-1.4-.3-1.5 0-1.5 .3-1.5 .8-1.4 1.1-1.3 1.4-1.2 1.6-.9 1.9-.8 2-.5 2.1-.2 2.1 0 2.1 .3 2 .6M599.6 331.8l-4.4 .4-4.5 .1-4.6-.2-4.3-.5-3.9-.9-3.4-1-2.7-1.4-2-1.4-1.1-1.6-.2-1.6 .7-1.6 1.5-1.6 2.4-1.4 3.1-1.2 3.6-.9 4.2-.7 4.4-.4 4.6 0 4.5 .2 4.3 .6 3.8 .8M586.7 340.1l-2.2-.6-2.1-1.1-1.9-1.8-1.5-2.2-1.2-2.5-.8-2.9-.3-2.9 .2-3 .6-2.9 1.1-2.7 1.4-2.3 1.8-1.9 2-1.3 2.2-.8 2.3-.2 2.3 .5 2.1 1 1.9 1.7 1.6 2 1.3 2.5 .9 2.8"/>
<path fill="none" stroke="#0b0b0b" stroke-width="0.75" stroke-linejoin="round" d="M567.2 281.9l.2 .6-.1 .7-.3 .7-.4 .7-.7 .7-.8 .5-.9 .5-.9 .3-.9 .2-.8-.1-.7-.2-.5-.4-.3-.5-.1-.6 .2-.7 .4-.7 .6-.7 .7-.6 .9-.6 .9-.3 .9-.3 .8 0 .8 .1 .6 .3 .4 .4M571 279.7l.3 .9-.1 .9-.4 1.1-.7 1-1 1-1.2 .8-1.3 .7-1.3 .4-1.3 .2-1.2 0-1-.3-.7-.6-.4-.7-.1-.9 .2-1 .6-1.1 .8-1 1.1-.9 1.2-.8 1.4-.5 1.3-.4 1.3 0 1 .1 .9 .5 .6 .6M573.5 278.7l.3 1-.1 1.2-.5 1.3-.8 1.3-1.2 1.2-1.5 1-1.6 .8-1.6 .6-1.6 .2-1.5 0-1.2-.4-.9-.7-.5-.9-.2-1.2 .3-1.2 .7-1.3 1.1-1.2 1.3-1.2 1.5-.9 1.7-.7 1.6-.4 1.6-.1 1.3 .2 1.1 .6 .7 .8M575 277.2l.4 1.3-.1 1.4-.5 1.6-1 1.5-1.4 1.4-1.7 1.3-1.9 .9-1.9 .7-1.9 .2-1.7-.1-1.5-.5-1.1-.8-.6-1.2-.2-1.3 .3-1.5 .8-1.6 1.2-1.5 1.6-1.3 1.8-1.1 1.9-.8 1.9-.5 1.9-.1 1.6 .4 1.2 .6 .9 1M577.1 276.1l.4 1.4-.1 1.7-.6 1.7-1.2 1.7-1.5 1.6-1.9 1.4-2.2 1.1-2.2 .8-2.1 .3-2-.2-1.6-.5-1.2-1-.8-1.2-.1-1.6 .3-1.7 .9-1.7 1.4-1.7 1.8-1.5 2-1.2 2.2-1 2.2-.5 2-.1 1.8 .4 1.5 .7 1 1.1M579 274.9l.5 1.6-.1 1.9-.7 1.9-1.2 2-1.8 1.8-2.1 1.5-2.4 1.2-2.4 .8-2.4 .4-2.2-.2-1.9-.6-1.3-1.1-.9-1.5-.2-1.7 .4-1.9 1-1.9 1.5-1.9 2-1.7 2.2-1.4 2.5-1.1 2.4-.5 2.3-.1 2.1 .4 1.6 .9 1.1 1.2M580.7 274.3l.5 1.7-.1 1.9-.9 2-1.4 2.1-1.9 1.9-2.4 1.7-2.6 1.4-2.6 .9-2.7 .4-2.3-.1-2-.6-1.4-1.1-.9-1.5-.2-1.8 .5-2 1.2-2.1 1.7-2 2.1-1.8 2.5-1.6 2.7-1.1 2.6-.7 2.5-.1 2.2 .3 1.7 .9 1.2 1.3M582.5 273.1l.6 1.8-.2 2.1-.9 2.2-1.5 2.3-2.1 2.1-2.6 1.8-2.8 1.5-2.9 1-2.8 .4-2.6-.1-2.1-.7-1.6-1.2-1-1.6-.2-2 .5-2.2 1.3-2.3 1.8-2.2 2.4-1.9 2.7-1.7 2.8-1.2 2.9-.8 2.8-.1 2.4 .4 1.8 .9 1.3 1.5M583.9 271.9l.6 1.9-.2 2.3-1 2.4-1.6 2.4-2.3 2.3-2.7 2-3.1 1.5-3.1 1.1-3.1 .5-2.7-.1-2.3-.8-1.7-1.2-1-1.8-.3-2.1 .6-2.4 1.3-2.4 2-2.4 2.5-2.1 3-1.8 3.1-1.3 3.1-.8 2.9-.2 2.6 .4 2 1 1.4 1.6M586.2 271.5l.6 2.1-.2 2.3-1 2.6-1.8 2.6-2.4 2.4-3 2.1-3.2 1.7-3.4 1.2-3.2 .5-3-.1-2.4-.8-1.8-1.3-1.1-1.9-.2-2.2 .6-2.5 1.4-2.6 2.1-2.6 2.7-2.2 3.2-2 3.3-1.4 3.3-.8 3.2-.2 2.7 .4 2.1 1.1 1.5 1.6M588.3 270.5l.7 2.3-.1 2.7-1 2.8-1.9 2.8-2.5 2.7-3.2 2.3-3.4 1.7-3.6 1.2-3.5 .5-3.2-.2-2.7-.9-2-1.6-1.2-2.1-.3-2.5 .6-2.8 1.4-2.9 2.3-2.7 2.8-2.5 3.3-2 3.6-1.5 3.6-.9 3.3-.1 3 .6 2.4 1.2 1.6 1.9M589.7 269l.8 2.4-.2 2.9-1.1 2.9-1.9 3-2.7 2.8-3.3 2.4-3.7 1.9-3.8 1.3-3.7 .5-3.4-.2-2.8-1-2.1-1.6-1.3-2.3-.3-2.6 .6-2.9 1.6-3 2.3-2.9 3.1-2.7 3.5-2.1 3.7-1.6 3.8-.9 3.6-.2 3.1 .6 2.5 1.3 1.7 2M590.7 268.6l.7 2.4-.2 2.9-1.2 3-2.2 3.1-2.9 2.9-3.5 2.5-3.8 2-4 1.3-3.9 .7-3.5-.2-2.9-.9-2.1-1.6-1.3-2.2-.3-2.6 .8-3 1.7-3.1 2.5-3 3.2-2.7 3.7-2.3 4-1.7 3.9-1 3.7-.2 3.3 .5 2.5 1.3 1.8 1.9M592.2 267.4l.9 2.7-.2 3.2-1.2 3.3-2.1 3.3-3 3.1-3.7 2.7-4.1 2.1-4.2 1.3-4.1 .6-3.7-.3-3.2-1-2.3-1.9-1.4-2.4-.4-3 .7-3.3 1.7-3.3 2.6-3.2 3.4-2.9 3.9-2.4 4.1-1.8 4.2-1 4-.1 3.5 .6 2.7 1.5 1.9 2.2M593.8 267.1l.9 2.8-.2 3.2-1.3 3.5-2.3 3.4-3.1 3.2-3.9 2.8-4.2 2.2-4.4 1.5-4.3 .6-3.9-.2-3.3-1.1-2.4-1.9-1.5-2.5-.3-3.1 .7-3.4 1.8-3.4 2.8-3.4 3.5-3 4.1-2.5 4.3-1.9 4.4-1 4.2-.2 3.6 .7 2.9 1.4 1.9 2.3M595.1 266.5l.9 2.8-.3 3.3-1.4 3.5-2.4 3.5-3.3 3.3-4.1 2.9-4.4 2.3-4.6 1.6-4.4 .7-4.1-.2-3.3-1-2.5-1.9-1.5-2.5-.3-3.1 .9-3.4 1.9-3.5 2.9-3.5 3.7-3.1 4.3-2.6 4.5-2 4.6-1.1 4.3-.3 3.7 .6 2.9 1.5 2 2.2M596.4 265.7l.9 2.9-.2 3.4-1.5 3.7-2.5 3.7-3.5 3.4-4.2 3.1-4.6 2.4-4.8 1.6-4.6 .7-4.3-.1-3.5-1.1-2.6-2-1.5-2.6-.3-3.3 .9-3.5 2-3.7 3-3.6 3.9-3.3 4.4-2.7 4.8-2.1 4.7-1.2 4.5-.2 3.9 .6 3 1.5 2.1 2.4M598 264.4l1 3.2-.2 3.6-1.5 3.9-2.6 3.9-3.6 3.6-4.3 3.2-4.8 2.5-5 1.6-4.9 .8-4.4-.3-3.7-1.2-2.7-2.1-1.7-2.8-.3-3.5 .8-3.8 2.1-3.9 3.1-3.8 4-3.4 4.6-2.8 5-2.1 4.9-1.2 4.7-.3 4.1 .8 3.2 1.6 2.2 2.5M599.6 263.2l1 3.2-.3 3.7-1.5 4-2.8 4-3.7 3.7-4.5 3.3-5 2.6-5.2 1.7-5 .8-4.6-.2-3.8-1.2-2.8-2.1-1.7-2.9-.3-3.5 .9-3.9 2.2-4 3.2-3.9 4.2-3.6 4.8-2.9 5.1-2.2 5.1-1.3 4.9-.3 4.2 .7 3.3 1.7 2.3 2.6M601.2 262.6l1.1 3.5-.2 4-1.5 4.2-2.8 4.3-3.9 3.9-4.6 3.4-5.2 2.7-5.4 1.8-5.3 .7-4.7-.4-4.1-1.3-3-2.4-1.8-3.2-.4-3.7 .8-4.2 2.2-4.3 3.4-4.1 4.2-3.7 5-3.1 5.3-2.2 5.4-1.3 5.1-.2 4.4 .9 3.5 1.9 2.5 2.8M602.7 261.6l1.1 3.5-.3 4-1.6 4.4-2.9 4.3-4 4-4.9 3.5-5.3 2.8-5.6 1.9-5.4 .8-4.9-.3-4.1-1.3-3-2.4-1.8-3.1-.5-3.8 1-4.2 2.3-4.4 3.5-4.2 4.4-3.8 5.2-3.2 5.5-2.3 5.5-1.4 5.2-.2 4.6 .8 3.6 1.8 2.4 2.8M604.1 261.5l1.2 3.7-.2 4.3-1.7 4.5-3 4.5-4.1 4.2-5 3.7-5.5 2.8-5.8 1.9-5.6 .8-5.1-.3-4.3-1.5-3.2-2.5-1.9-3.4-.5-4 1-4.5 2.3-4.5 3.6-4.4 4.5-4 5.4-3.3 5.7-2.4 5.7-1.3 5.4-.2 4.7 .9 3.8 2 2.6 3M605.4 259.8l1.2 3.9-.2 4.4-1.7 4.7-3.1 4.6-4.2 4.4-5.2 3.8-5.7 2.9-5.9 1.9-5.8 .9-5.3-.4-4.4-1.5-3.3-2.6-2-3.5-.5-4.1 1-4.6 2.4-4.7 3.7-4.6 4.7-4.1 5.5-3.3 5.8-2.5 5.9-1.4 5.6-.2 4.9 .9 3.9 2.1 2.7 3M606.5 259.5l1.3 3.8-.4 4.4-1.8 4.7-3.2 4.7-4.4 4.4-5.3 3.9-5.9 3-6.1 2.1-5.9 .9-5.4-.3-4.5-1.4-3.3-2.5-2-3.5-.4-4.1 1.1-4.6 2.5-4.7 3.8-4.6 4.9-4.2 5.7-3.5 6-2.6 6.1-1.4 5.7-.4 5 .9 3.9 2 2.6 3M596.8 266.3l.5 2.7-1.1 3.3-2.5 3.7-3.9 3.7-4.7 3.3-5.3 2.7-5.2 1.9-4.9 .8-3.9-.3-2.8-1.3-1.3-2.3 .3-3.1 1.8-3.5 3.3-3.7 4.3-3.5 5.1-3.1 5.3-2.3 5.1-1.3 4.4-.3 3.4 .8 2.1 1.8M599.2 273l-.2 2.3-1.8 2.6-3.2 2.7-4.5 2.6-5.2 2.3-5.6 1.7-5.4 1.1-4.7 .2-3.7-.6-2.2-1.3-.7-2 1-2.4 2.5-2.7 3.9-2.7 4.9-2.5 5.5-2 5.5-1.4 5.1-.7 4.3 .2 3 1 1.5 1.6M578.7 275.7l.2 1.2-.4 1.6-1.2 1.8-1.9 1.8-2.2 1.7-2.5 1.5-2.5 1-2.4 .5-1.9 0-1.3-.6-.7-1 .2-1.5 .8-1.7 1.5-1.8 2.1-1.8 2.4-1.6 2.5-1.2 2.5-.8 2.1-.2 1.7 .3 1 .8M593.1 272.3l.4 2.7-1.1 3-2.4 3.2-3.4 2.9-4.3 2.5-4.7 1.8-4.7 1-4.2 0-3.5-.8-2.4-1.8-1-2.4 .3-2.9 1.8-3.1 2.9-3.1 3.9-2.7 4.6-2.2 4.7-1.4 4.5-.5 3.9 .4 3 1.3 1.7 2.1M594.4 257.2l.8 2.3-.7 3.4-2.1 4.2-3.4 4.6-4.3 4.5-4.9 4.2-5 3.3-4.8 2.3-3.9 .9-2.9-.4-1.6-1.7 0-2.9 1.4-3.8 2.8-4.5 3.9-4.6 4.7-4.4 5-3.8 4.9-2.8 4.4-1.6 3.5-.3 2.2 1.1M605.5 271.9l-.2 2.9-2 3.3-3.8 3.3-5.2 3.1-6.1 2.6-6.5 1.9-6.3 .9-5.6-.1-4.3-1-2.7-1.9-.9-2.6 1.1-3.2 3-3.3 4.5-3.3 5.7-2.8 6.4-2.3 6.5-1.4 6-.5 5 .6 3.6 1.5 1.8 2.3M593.3 271l.1 2.1-1.3 2.5-2.6 2.7-3.6 2.8-4.3 2.5-4.7 2-4.6 1.4-4.2 .7-3.2-.2-2.2-1-.8-1.7 .6-2.3 2-2.7 3.1-2.7 4-2.7 4.6-2.3 4.7-1.8 4.4-1 3.8-.2 2.7 .6 1.5 1.3M603.4 263.2l1 4-.9 4.7-2.8 4.9-4.3 4.7-5.6 4-6.3 3.1-6.4 1.8-6 .4-5.1-1-3.6-2.4-2-3.6 0-4.3 1.8-4.9 3.6-4.8 5.1-4.4 5.9-3.7 6.5-2.4 6.3-1.2 5.6 .4 4.4 1.7 2.8 3M600.3 272.2l.3 3.5-1.4 3.8-3 3.7-4.4 3.4-5.3 2.7-5.8 1.7-5.7 .7-5.2-.4-4.1-1.6-2.8-2.5-1.1-3.2 .6-3.7 2.2-3.8 3.8-3.6 4.8-3.1 5.6-2.2 5.8-1.3 5.6-.1 4.7 1 3.5 2.1 1.9 2.9M601.4 255.5l.8 2.8-1 4-2.8 4.6-4.2 5-5.3 4.9-5.9 4.4-6.1 3.4-5.6 2.1-4.7 .8-3.3-.8-1.7-2.2 .1-3.4 1.9-4.3 3.5-4.9 4.8-5 5.7-4.7 6.1-3.9 5.9-2.8 5.2-1.5 4 0 2.6 1.5M589.2 279.3l-.1 2.1-1.4 2.2-2.4 2.1-3.2 1.9-3.9 1.3-4 .8-3.9 .2-3.5-.5-2.7-1.2-1.6-1.6-.5-2 .8-2.2 1.9-2.2 2.8-2 3.6-1.6 4-1.1 4.1-.5 3.7 .2 3.1 .8 2.2 1.4 1 1.9M609.3 270.7l-.1 3.3-2.2 3.7-4.1 3.7-5.6 3.4-6.6 2.9-7.1 2-6.9 1-6.1-.2-4.8-1.2-2.9-2.2-1-3 1.2-3.6 3.1-3.7 5-3.6 6.2-3.2 6.9-2.5 7.1-1.5 6.5-.4 5.5 .7 3.9 1.7 2 2.7M585 275.9l.2 1.9-.8 2.1-1.8 2.2-2.6 2.1-3.2 1.8-3.4 1.3-3.5 .8-3.1 .1-2.5-.6-1.7-1.1-.7-1.7 .3-2 1.4-2.2 2.2-2.2 2.9-1.9 3.4-1.6 3.5-1.1 3.3-.4 2.8 .2 2.1 .9 1.2 1.4M571.8 280.6l.1 1.5-1.3 1.9-2.2 1.8-2.7 1.3-2.5 .6-1.8-.4-.7-1.2 .6-1.8 1.8-1.9 2.5-1.6 2.7-.9 2.2-.1 1.3 .8M571 279.7l.1 1.3-.9 1.6-1.7 1.5-2.2 1.1-2.1 .3-1.5-.4-.6-1.1 .5-1.5 1.3-1.6 2-1.3 2.2-.7 1.8 0 1.1 .8M572.4 277.8l.2 2-1.3 2.3-2.5 2.2-3.1 1.5-3 .5-2.2-.7-.9-1.6 .6-2.2 2-2.3 2.8-1.9 3.1-1 2.7 .1 1.6 1.1M570.9 277.9l.1 1.3-.9 1.5-1.7 1.5-2.1 1-2 .3-1.4-.4-.6-1 .4-1.5 1.3-1.5 1.9-1.3 2.1-.7 1.8 0 1.1 .8M571.6 279.2l.2 1.5-.9 1.7-1.7 1.6-2.2 1-2.2 .3-1.6-.5-.7-1.3 .4-1.7 1.3-1.7 2-1.3 2.3-.7 1.9 .1 1.2 1M572.2 277.8l.1 1.3-1 1.7-1.9 1.5-2.2 1.1-2.2 .4-1.5-.4-.7-1.1 .5-1.5 1.5-1.6 2.1-1.4 2.3-.8 1.9 0 1.1 .8M570.7 277l.1 1.1-.8 1.3-1.5 1.2-1.8 .9-1.7 .3-1.2-.3-.5-.8 .3-1.3 1.2-1.3 1.7-1.1 1.8-.6 1.5 0 .9 .6M574.4 277.1l.2 2.4-1.5 2.9-3 2.6-3.7 1.8-3.6 .5-2.7-.8-1.2-2.1 .7-2.7 2.3-2.8 3.4-2.3 3.8-1.2 3.3 .2 2 1.5M573.3 277.3l.1 1.3-1 1.6-1.7 1.6-2.2 1-2.2 .4-1.5-.4-.6-1.1 .5-1.5 1.4-1.6 2-1.3 2.2-.8 1.9 0 1.1 .8M574.9 279.2l0 2-1.6 2.4-2.9 2.4-3.5 1.7-3.4 .8-2.3-.5-.9-1.6 .8-2.2 2.3-2.5 3.3-2.1 3.6-1.3 2.9-.1 1.7 1M575.3 292.4l-.6 5.7-.8 5.7M575.9 292.7l-.6 5.1-.8 5.2M576.9 290.7l-.6 4.9-.8 5M577.6 291.3l-.6 6-.8 6M578.5 291.2l-.6 4.2-.8 4.2M579.1 290.5l-.6 5-.8 5M580.1 290.7l-.6 7-.8 7.1M581.3 289.6l-.6 5.2-.8 5.3M582.4 289.3l-.6 5.6-.8 5.6M582.7 288.6l-.6 7.9-.8 7.8M584.1 288.9l-.6 5.4-.8 5.4M584.7 287.6l-.6 6.4-.8 6.3M585.4 288.8l-.6 6.4-.8 6.5M586.3 288.5l-.6 6.6-.8 6.6M587 287.1l-.6 7.3-.8 7.4M588.1 287.7l-.6 8.5-.8 8.5M589.2 287.9l-.6 7-.8 7M590 286.7l-.6 7.1-.8 7.1M590.6 287.1l-.6 8.1-.8 8.1M591.5 286.8l-.6 6.5-.8 6.6M592.4 285.6l-.6 7.6-.8 7.6M593.5 286.3l-.6 8.6-.8 8.5M594.7 284.6l-.6 9-.8 9M595.1 285.1l-.6 7.9-.8 7.8M596.2 284.7l-.6 9.4-.8 9.4M597 284l-.6 8.8-.8 8.9M597.5 284.2l-.6 8-.8 8.1M556 296l0-1.4 0-2 .1-2.3 .5-2.3 .9-2.2 1.2-2.2 1.4-2.3 1.4-2.3 1.7-2.5 1.9-2.6 1.7-2.3 1.2-1.6M556.5 296l0-1.3 .1-1.9 .2-2.3 .5-2.2 .9-2.3 1.2-2.5 1.4-2.5 1.5-2.4 1.7-2.5 2-2.7 1.8-2.3 1.2-1.6M557 296l.1-1.3 .1-1.8 .2-2.1 .6-2.2 .9-2.4 1.3-2.7 1.4-2.7 1.5-2.6 1.8-2.6 2-2.7 1.8-2.3 1.3-1.6M557.5 296l.1-1.2 .2-1.7 .3-2 .6-2.2 1-2.5 1.2-2.9 1.5-3 1.5-2.7 1.8-2.7 2.1-2.6 1.9-2.4 1.3-1.6M558 296l.2-1.1 .2-1.6 .3-1.9 .7-2.2 1-2.7 1.3-3 1.4-3.2 1.6-2.9 1.9-2.7 2.1-2.7 1.9-2.4 1.4-1.6M558.5 296l.2-1 .3-1.5 .4-1.8 .7-2.2 1-2.8 1.3-3.3 1.5-3.3 1.6-3.1 1.9-2.8 2.2-2.7 2-2.4 1.4-1.6M559 296l.2-.9 .4-1.4 .4-1.7 .8-2.2 1.1-2.9 1.3-3.5 1.5-3.6 1.6-3.2 2-2.9 2.2-2.7 2.1-2.4 1.4-1.6M559.5 296l.3-.9 .3-1.2 .6-1.6 .8-2.2 1.1-3 1.3-3.7 1.6-3.8 1.6-3.4 2-2.9 2.3-2.8 2.1-2.4 1.5-1.6"/>
<path fill="#0b0b0b" d="M553.4 293 Q554.4 289.6 558.4 289.4 L563.4 290.4 Q565.6 291.6 564.6 294.4 L564 300.6 L562.6 310.8 L561 314 L558.2 306.4 L554 298.6 Z"/>
<rect x="599" y="343.9" width="1.2" height="1.2" fill="#111"/><rect x="602.3" y="342.7" width="1.2" height="1.2" fill="#2c5aa8"/><rect x="585.2" y="340" width="1.2" height="1.2" fill="#2c5aa8"/><rect x="549.9" y="340.4" width="1.2" height="1.2" fill="#111"/><rect x="551.3" y="342.3" width="1.2" height="1.2" fill="#111"/><rect x="555.7" y="341.9" width="1.2" height="1.2" fill="#2c5aa8"/><rect x="568.1" y="340.3" width="1.2" height="1.2" fill="#2c5aa8"/><rect x="568.3" y="338.6" width="1.2" height="1.2" fill="#111"/><rect x="585.8" y="340.6" width="1.2" height="1.2" fill="#111"/><rect x="602.5" y="343.8" width="1.2" height="1.2" fill="#2c5aa8"/><rect x="556" y="343.5" width="1.2" height="1.2" fill="#2c5aa8"/><rect x="589.4" y="342.6" width="1.2" height="1.2" fill="#111"/><rect x="601.9" y="345.1" width="1.2" height="1.2" fill="#111"/><rect x="559.1" y="342" width="1.2" height="1.2" fill="#2c5aa8"/><rect x="593.5" y="337.3" width="1.2" height="1.2" fill="#2c5aa8"/><rect x="591.6" y="339.1" width="1.2" height="1.2" fill="#111"/><rect x="570.4" y="339.4" width="1.2" height="1.2" fill="#111"/><rect x="570.6" y="338.9" width="1.2" height="1.2" fill="#2c5aa8"/><rect x="568.2" y="338.5" width="1.2" height="1.2" fill="#2c5aa8"/><rect x="554.2" y="336.5" width="1.2" height="1.2" fill="#111"/><rect x="563.2" y="341.1" width="1.2" height="1.2" fill="#111"/><rect x="577" y="342" width="1.2" height="1.2" fill="#2c5aa8"/><rect x="593.6" y="340.3" width="1.2" height="1.2" fill="#2c5aa8"/><rect x="590.2" y="344.9" width="1.2" height="1.2" fill="#111"/><rect x="573.5" y="345.5" width="1.2" height="1.2" fill="#111"/><rect x="570.2" y="336.7" width="1.2" height="1.2" fill="#2c5aa8"/><rect x="584.8" y="345.2" width="1.2" height="1.2" fill="#2c5aa8"/><rect x="574.9" y="345.1" width="1.2" height="1.2" fill="#111"/><rect x="561.2" y="336.7" width="1.2" height="1.2" fill="#111"/><rect x="592.1" y="343.6" width="1.2" height="1.2" fill="#2c5aa8"/><rect x="554.9" y="339.1" width="1.2" height="1.2" fill="#2c5aa8"/><rect x="589.8" y="345.5" width="1.2" height="1.2" fill="#111"/><rect x="571.9" y="344" width="1.2" height="1.2" fill="#111"/><rect x="568.6" y="345" width="1.2" height="1.2" fill="#2c5aa8"/><rect x="565" y="339.1" width="1.2" height="1.2" fill="#2c5aa8"/><rect x="551.1" y="340.7" width="1.2" height="1.2" fill="#111"/><rect x="564" y="337.5" width="1.2" height="1.2" fill="#111"/><rect x="581.2" y="342.8" width="1.2" height="1.2" fill="#2c5aa8"/><rect x="580.1" y="344.7" width="1.2" height="1.2" fill="#2c5aa8"/><rect x="579.9" y="339.6" width="1.2" height="1.2" fill="#111"/><rect x="602.7" y="344.5" width="1.2" height="1.2" fill="#111"/><rect x="577.6" y="342.1" width="1.2" height="1.2" fill="#2c5aa8"/><rect x="567.4" y="342.2" width="1.2" height="1.2" fill="#2c5aa8"/><rect x="596" y="344.2" width="1.2" height="1.2" fill="#111"/><rect x="572.5" y="344.4" width="1.2" height="1.2" fill="#111"/><rect x="562" y="341.6" width="1.2" height="1.2" fill="#2c5aa8"/>
<rect x="582" y="344.2" width="7" height="3.2" fill="#c9c26a" transform="rotate(-18 585 346)"/>
<path d="M596.2 342.6 l1 2.4 l2.6 0.2 l-2 1.6 l0.8 2.6 l-2.4 -1.5 l-2.2 1.5 l0.7 -2.6 l-2 -1.6 l2.6 -0.2z" fill="#3d8ecf"/>
<circle cx="563.6" cy="318" r="1.6" fill="#e8c040"/>
<path fill="none" stroke="#262626" stroke-width="0.95" d="M516.7 354.5l0-75M516.7 354.5l150 40.8M666.7 395.3l189.1-113.3M516.7 279.5l150 40.8M516.7 279.5l189.1-113.3M705.8 166.2l150 40.8M666.7 320.3l189.1-113.3M666.7 395.3l0-75M855.8 282l0-75"/>
<path fill="none" stroke="#262626" stroke-width="0.9" d="M680.5 387.1l5.4 1.4M706.9 371.2l5.5 1.5M733.4 355.3l5.4 1.5M759.9 339.5l5.4 1.4M786.4 323.6l5.4 1.5M812.9 307.7l5.4 1.5M839.4 291.8l5.4 1.5M548.3 363.1l-5 3M587.7 373.8l-4.9 3M627.2 384.6l-5 3M666.7 395.3l-5 3M516.7 338.4l-5.4-1.4M516.7 317.1l-5.4-1.5M516.7 295.8l-5.4-1.5"/>
<text x="693" y="404" font-size="12.7" fill="#222" text-anchor="middle">0</text>
<text x="729.7" y="387.2" font-size="12.7" fill="#222" text-anchor="middle">-100</text>
<text x="756.2" y="371" font-size="12.7" fill="#222" text-anchor="middle">-200</text>
<text x="782.4" y="355.2" font-size="12.7" fill="#222" text-anchor="middle">-300</text>
<text x="809.2" y="341" font-size="12.7" fill="#222" text-anchor="middle">-400</text>
<text x="834.6" y="323.2" font-size="12.7" fill="#222" text-anchor="middle">-500</text>
<text x="860" y="308.2" font-size="12.7" fill="#222" text-anchor="middle">-600</text>
<text x="524" y="383" font-size="12.7" fill="#222" text-anchor="middle">0</text>
<text x="564" y="396.4" font-size="12.7" fill="#222" text-anchor="middle">100</text>
<text x="602.7" y="404.4" font-size="12.7" fill="#222" text-anchor="middle">200</text>
<text x="642.7" y="414.4" font-size="12.7" fill="#222" text-anchor="middle">300</text>
<text x="504.8" y="298.8" font-size="10.4" fill="#222" text-anchor="end">50</text>
<text x="504.8" y="321" font-size="10.4" fill="#222" text-anchor="end">0</text>
<text x="504.8" y="345.4" font-size="10.4" fill="#222" text-anchor="end">-50</text>
<text x="797.4" y="378.9" font-size="12.7" fill="#222">X/R<tspan dy="2.1">J</tspan></text>
<text x="536.4" y="416.6" font-size="12.7" fill="#222">Y/R<tspan dy="1.6">J</tspan></text>
<text x="486.6" y="268.9" font-size="12.1" fill="#222">Z/R<tspan dx="1.2" dy="4.7">J</tspan></text>
<text x="596.2" y="242.4" font-size="12.2" fill="#1a1a1e" text-anchor="middle" font-weight="bold">Polar</text>
<text x="595.8" y="251.2" font-size="12.2" fill="#1a1a1e" text-anchor="middle" font-weight="bold">(closed)</text>
<text x="628.8" y="263.6" font-size="12.2" fill="#e32a36" text-anchor="middle" font-weight="bold">Inner</text>
<text x="628.8" y="271.4" font-size="12.2" fill="#e32a36" text-anchor="middle" font-weight="bold">(closed)</text>
<text x="741.2" y="277.8" font-size="13" fill="#2f5cab" text-anchor="middle" font-weight="bold">Distant Lobe</text>
<text x="740.6" y="286.8" font-size="13" fill="#2f5cab" text-anchor="middle" font-weight="bold">(open)</text>
<text x="687.2" y="362" font-size="13" fill="#63b84e" text-anchor="middle" font-weight="bold">IMF</text>
<text x="687" y="370.6" font-size="13" fill="#63b84e" text-anchor="middle" font-weight="bold">(open)</text>
<text x="605" y="361.6" font-size="13" fill="#f0a04a" text-anchor="middle" font-weight="bold">Juno</text>
<text x="605.6" y="370.2" font-size="13" fill="#f0a04a" text-anchor="middle" font-weight="bold">Location</text>
<text x="792.6" y="180.8" font-size="14" fill="#111" font-weight="bold">Dawn</text>
<text x="879" y="213.8" font-size="14" fill="#111" font-weight="bold">Dusk</text>
<line x1="836.2" y1="184.9" x2="874.1" y2="198.3" stroke="#111" stroke-width="1.3"/>
<path fill="#111" d="M832.4 183.6L841.1 190.5L839.6 186.1L843.5 183.7Z"/>
<path fill="#111" d="M877.9 199.6L866.8 199.5L870.7 197.1L869.2 192.7Z"/>
<g shape-rendering="crispEdges">
<g transform="translate(121.2 235.4) scale(1.5000 1.7200)" stroke-width="1.02" fill="none">
<path stroke="#351662" d="M66 0v2M67 0v9M68 0v19M69 0v19M70 0v19M71 0v18M72 0v19M73 0v19M74 0v20M75 0v20M76 0v21M77 0v21M78 0v20M79 0v20M80 0v20M81 0v21M82 0v20M83 0v21M84 0v22M85 0v22M86 0v22M87 0v21M88 0v22M89 0v22M90 0v22M91 0v21M92 0v21M93 0v21M94 0v21M95 0v20M96 0v20M97 0v21M98 0v20M99 0v20M100 0v20M101 0v20M102 0v20M103 0v17M104 0v18M105 0v17M106 0v17M107 0v19M108 0v19M109 0v20M110 0v20M111 0v21M112 0v20M113 0v19M114 0v19M115 0v20M116 0v20M117 0v20M118 0v19M119 0v20M120 0v20M121 0v19"/>
<path stroke="#371e78" d="M3 0v18M4 0v18M5 0v18M6 0v18M7 0v18M11 0v17M12 0v17M13 0v17M14 0v17M59 0v1M60 0v2M61 0v3M62 0v4M63 0v6M64 0v8M65 0v9M66 2v14M67 9v9M68 19v2M69 19v2M70 19v1M71 18v2M72 19v1M73 19v1M74 20v1M75 20v1M76 21v1M77 21v1M78 20v1M79 20v2M80 20v1M81 21v1M82 20v1M83 21v1M84 22v1M85 22v1M86 22v1M87 21v1M88 22v1M89 22v1M90 22v1M91 21v1M92 21v2M93 21v2M94 21v1M95 20v2M96 20v1M97 21v1M98 20v2M99 20v2M100 20v2M101 20v2M102 20v1M104 18v1M105 17v2M107 19v1M108 19v2M109 20v2M110 20v2M111 21v1M112 20v1M113 19v1M114 19v2M115 20v1M116 20v1M117 20v1M118 19v1M119 20v1M120 20v1M121 19v1M122 0v8"/>
<path stroke="#39268e" d="M3 18v2M4 18v2M5 18v2M6 18v2M7 18v2M11 17v2M12 17v2M13 17v2M14 17v2M55 0v4M56 0v4M57 0v4M58 0v5M59 1v6M60 2v6M61 3v5M62 4v4M63 6v3M64 8v2M65 9v5M67 18v1M68 21v1M69 21v1M70 20v1M71 20v1M72 20v1M73 20v2M74 21v1M75 21v2M76 22v2M77 22v2M78 21v2M79 22v1M80 21v2M81 22v1M82 21v1M83 22v1M84 23v1M85 23v1M86 23v1M87 22v2M88 23v2M89 23v1M90 23v1M91 22v2M92 23v1M93 23v1M94 22v1M95 22v1M96 21v2M97 22v2M98 22v1M99 22v1M100 22v1M101 22v1M102 21v1M104 19v1M105 19v1M107 20v2M108 21v1M109 22v1M110 22v1M111 22v1M112 21v2M113 20v2M114 21v1M115 21v1M116 21v2M117 21v2M118 20v2M119 21v1M120 21v1M121 20v2M122 8v5M123 0v2"/>
<path stroke="#36309e" d="M3 20v2M4 20v2M5 20v2M6 20v2M7 20v2M11 19v2M12 19v2M13 19v2M14 19v2M55 4v4M56 4v4M57 4v4M58 5v3M59 7v1M61 8v1M62 8v1M63 9v1M64 10v3M65 14v1M66 16v1M67 19v1M68 22v1M69 22v1M70 21v2M71 21v1M72 21v2M73 22v1M74 22v2M75 23v1M76 24v1M77 24v1M78 23v1M79 23v1M80 23v1M81 23v2M82 22v2M83 23v2M84 24v2M85 24v2M86 24v2M87 24v1M88 25v1M89 24v2M90 24v2M91 24v1M92 24v1M93 24v1M94 23v2M95 23v1M96 23v1M97 24v1M98 23v2M99 23v1M100 23v1M101 23v2M102 22v2M104 20v2M105 20v1M107 22v1M108 22v1M109 23v2M110 23v1M111 23v2M112 23v1M113 22v1M114 22v1M115 22v2M116 23v1M117 23v1M118 22v1M119 22v2M120 22v2M121 22v1M122 13v2M123 2v6"/>
<path stroke="#303ca8" d="M3 22v1M4 22v1M5 22v1M6 22v1M7 22v1M11 21v1M12 21v1M13 21v1M14 21v1M59 8v1M60 8v1M61 9v1M62 9v1M63 10v2M64 13v1M65 15v1M67 20v1M68 23v1M69 23v1M70 23v1M71 22v1M72 23v1M73 23v1M74 24v1M75 24v1M76 25v1M77 25v1M78 24v1M79 24v1M80 24v1M81 25v1M82 24v1M83 25v1M84 26v1M85 26v1M86 26v1M87 25v1M88 26v1M89 26v1M90 26v1M91 25v1M92 25v2M93 25v2M94 25v1M95 24v1M96 24v1M97 25v1M98 25v1M99 24v1M100 24v1M101 25v1M102 24v1M104 22v1M105 21v1M107 23v1M108 23v2M109 25v1M110 24v1M111 25v1M112 24v1M113 23v1M114 23v1M115 24v1M116 24v1M117 24v1M118 23v1M119 24v1M120 24v1M121 23v1M122 15v1M123 8v2M124 0v4"/>
<path stroke="#2948b2" d="M3 23v1M4 23v1M5 23v1M6 23v1M7 23v1M11 22v1M12 22v1M13 22v1M14 22v1M55 8v1M56 8v1M57 8v1M58 8v1M60 9v1M61 10v1M62 10v2M63 12v1M64 14v1M66 17v1M68 24v1M69 24v2M70 24v1M71 23v2M72 24v1M73 24v1M74 25v1M75 25v1M76 26v1M77 26v1M78 25v1M79 25v1M80 25v1M81 26v1M82 25v1M83 26v1M84 27v1M85 27v1M86 27v1M87 26v1M88 27v1M89 27v1M90 27v1M91 26v1M92 27v1M93 27v1M94 26v1M95 25v1M96 25v1M97 26v1M98 26v1M99 25v2M100 25v1M101 26v1M102 25v1M104 23v1M105 22v1M107 24v1M108 25v1M109 26v1M110 25v1M111 26v1M112 25v1M113 24v1M114 24v1M115 25v1M116 25v1M117 25v1M118 24v1M119 25v1M120 25v1M121 24v1M122 16v1M123 10v2M124 4v3M125 0v2"/>
<path stroke="#2254bc" d="M3 24v1M4 24v1M5 24v1M6 24v1M7 24v1M11 23v1M12 23v1M13 23v1M14 23v1M15 0v2M59 9v1M60 10v1M61 11v1M62 12v1M63 13v1M65 16v1M66 18v1M67 21v1M68 25v1M69 26v1M70 25v1M71 25v1M72 25v1M73 25v1M74 26v1M75 26v1M76 27v1M77 27v1M78 26v1M79 26v1M80 26v1M81 27v1M82 26v1M83 27v1M84 28v1M85 28v1M86 28v1M87 27v1M88 28v1M89 28v1M90 28v1M91 27v1M92 28v1M93 28v1M94 27v1M95 26v1M96 26v1M97 27v1M98 27v1M99 27v1M100 26v1M101 27v1M102 26v1M104 24v1M105 23v1M107 25v1M108 26v1M109 27v1M110 26v1M111 27v1M112 26v1M113 25v1M114 25v1M115 26v1M116 26v1M117 26v1M118 25v1M119 26v1M120 26v1M121 25v1M122 17v1M123 12v1M124 7v2M125 2v3"/>
<path stroke="#2064c5" d="M3 25v1M4 25v1M5 25v1M6 25v1M7 25v1M15 2v1M57 9v1M58 9v1M59 10v1M60 11v1M61 12v1M62 13v1M63 14v1M64 15v1M67 22v1M68 26v1M69 27v1M70 26v1M71 26v1M72 26v1M73 26v1M74 27v1M75 27v1M76 28v1M77 28v1M78 27v1M79 27v2M80 27v1M81 28v1M82 27v1M83 28v1M84 29v1M85 29v1M86 29v1M87 28v1M88 29v1M89 29v1M90 29v1M91 28v1M92 29v1M93 29v1M94 28v1M95 27v1M96 27v1M97 28v1M98 28v1M99 28v1M100 27v2M101 28v1M102 27v1M104 25v1M105 24v1M107 26v1M108 27v1M109 28v1M110 27v1M111 28v1M112 27v1M113 26v1M114 26v2M115 27v1M116 27v1M117 27v1M118 26v1M119 27v1M120 27v1M121 26v1M122 18v1M123 13v1M124 9v2M125 5v2M126 0v3"/>
<path stroke="#2178cd" d="M11 24v1M12 24v1M13 24v1M14 24v1M15 3v1M55 9v1M56 9v1M58 10v1M65 17v1M66 19v1M67 23v1M68 27v1M70 27v1M72 27v1M73 27v1M74 28v1M75 28v1M76 29v1M77 29v1M78 28v1M80 28v1M81 29v1M82 28v1M83 29v1M84 30v1M85 30v1M86 30v1M87 29v1M88 30v1M89 30v1M90 30v1M91 29v1M94 29v1M95 28v1M96 28v1M97 29v1M101 29v1M102 28v1M104 26v1M105 25v1M107 27v1M110 28v1M111 29v1M112 28v1M113 27v1M115 28v1M116 28v1M117 28v1M118 27v1M119 28v1M120 28v1M121 27v1M122 19v1M123 14v1M124 11v1M125 7v1M126 3v2M127 0v1M128 0v1M129 0v1M130 0v1M131 0v1M132 0v1M133 0v1M134 0v1M135 0v1M136 0v1M137 0v1M138 0v1M139 0v1M140 0v1M141 0v1M142 0v1M143 0v1M144 0v1M145 0v1M146 0v1M147 0v1M148 0v2M149 0v2M150 0v2M151 0v2M152 0v2M153 0v3M154 0v3M155 0v2M156 0v3M157 0v3M158 0v3M159 0v3M160 0v2M161 0v1M162 0v1M163 0v1"/>
<path stroke="#218bd6" d="M3 26v1M4 26v1M5 26v1M6 26v1M7 26v1M11 25v1M12 25v1M13 25v1M14 25v1M15 4v1M16 0v1M17 0v1M18 0v1M19 0v1M20 0v1M21 0v1M22 0v1M23 0v1M24 0v1M25 0v2M26 0v2M27 0v2M28 0v2M29 0v2M30 0v2M31 0v1M32 0v1M33 0v1M34 0v1M35 0v1M36 0v1M37 0v1M38 0v2M39 0v1M40 0v2M41 0v2M42 0v1M43 0v2M44 0v2M45 0v2M46 0v2M47 0v1M48 0v1M49 0v1M50 0v1M51 0v1M52 0v1M53 0v1M54 0v1M57 10v1M59 11v1M60 12v1M61 13v1M62 14v1M63 15v1M64 16v1M66 20v1M67 24v1M69 28v1M71 27v1M73 28v1M74 29v1M75 29v1M76 30v1M77 30v1M78 29v1M79 29v1M80 29v1M82 29v1M87 30v1M88 31v1M89 31v1M91 30v1M92 30v1M93 30v1M94 30v1M95 29v1M96 29v1M97 30v1M98 29v1M99 29v1M100 29v1M104 27v1M105 26v1M107 28v1M108 28v1M109 29v1M110 29v1M111 30v1M112 29v1M113 28v1M114 28v1M115 29v1M116 29v1M117 29v1M118 28v1M119 29v1M121 28v1M122 20v1M125 8v1M126 5v2M127 1v3M128 1v3M129 1v3M130 1v3M131 1v2M132 1v2M133 1v2M134 1v2M135 1v2M136 1v2M137 1v2M138 1v2M139 1v2M140 1v3M141 1v2M142 1v2M143 1v3M144 1v3M145 1v2M146 1v2M147 1v3M148 2v2M149 2v2M150 2v2M151 2v3M152 2v3M153 3v2M154 3v2M155 2v3M156 3v2M157 3v2M158 3v3M159 3v2M160 2v2M161 1v3M162 1v2M163 1v2M164 0v2M165 0v3"/>
<path stroke="#229fde" d="M15 5v1M16 1v1M17 1v1M18 1v1M19 1v1M20 1v1M21 1v1M22 1v1M23 1v1M24 1v1M25 2v1M26 2v1M27 2v1M28 2v1M29 2v1M30 2v1M31 1v1M32 1v1M33 1v1M34 1v1M35 1v1M36 1v1M37 1v1M38 2v1M39 1v1M40 2v1M41 2v1M42 1v1M43 2v1M44 2v1M45 2v1M46 2v1M47 1v1M48 1v1M49 1v1M50 1v1M51 1v1M52 1v1M53 1v1M54 1v1M55 10v1M56 10v1M58 11v1M59 12v1M60 13v1M61 14v1M65 18v1M68 28v1M69 29v1M70 28v1M71 28v1M72 28v1M73 29v1M75 30v1M76 31v1M77 31v1M78 30v1M79 30v1M80 30v1M81 30v1M83 30v1M84 31v1M85 31v1M86 31v1M87 31v1M88 32v1M90 31v1M91 31v1M92 31v1M93 31v1M95 30v1M96 30v1M97 31v1M98 30v1M99 30v1M100 30v1M101 30v1M102 29v1M105 27v1M107 29v1M108 29v1M109 30v1M110 30v1M112 30v1M113 29v1M114 29v1M116 30v1M117 30v1M118 29v1M120 29v1M121 29v1M122 21v2M123 15v1M124 12v1M125 9v1M126 7v1M127 4v1M128 4v1M129 4v1M130 4v1M131 3v2M132 3v2M133 3v2M134 3v1M135 3v2M136 3v2M137 3v2M138 3v2M139 3v2M140 4v1M141 3v2M142 3v2M143 4v1M144 4v1M145 3v2M146 3v2M147 4v1M148 4v2M149 4v2M150 4v2M151 5v1M152 5v1M153 5v1M154 5v1M155 5v1M156 5v2M157 5v2M158 6v1M159 5v2M160 4v2M161 4v1M162 3v2M163 3v1M164 2v2M165 3v1M172 0v1M173 0v1M174 0v1M175 0v1M176 0v1M177 0v1M178 0v1M179 0v1"/>
<path stroke="#25a7d0" d="M3 27v1M4 27v1M5 27v1M6 27v1M7 27v1M8 0v1M9 0v1M10 0v1M11 26v1M12 26v1M13 26v1M14 26v1M15 6v1M23 2v1M24 2v1M31 2v1M32 2v1M33 2v1M34 2v1M35 2v1M36 2v1M37 2v1M39 2v1M42 2v1M45 3v1M47 2v1M48 2v1M49 2v1M53 2v1M54 2v1M55 11v1M56 11v1M57 11v1M58 12v1M63 16v1M64 17v1M65 19v1M66 21v1M67 25v1M68 29v1M69 30v1M70 29v1M71 29v1M72 29v1M74 30v1M79 31v1M81 31v1M82 30v1M83 31v1M84 32v1M85 32v1M86 32v1M89 32v1M90 32v1M92 32v1M93 32v1M94 31v1M98 31v1M99 31v1M100 31v1M101 31v1M102 30v1M103 17v5M104 28v1M106 17v5M108 30v1M109 31v1M111 31v1M114 30v1M115 30v1M119 30v1M120 30v1M122 23v1M123 16v1M125 10v1M126 8v1M127 5v2M128 5v2M129 5v2M130 5v2M131 5v1M132 5v1M133 5v1M134 4v2M135 5v1M136 5v1M137 5v1M138 5v1M139 5v2M140 5v2M141 5v1M142 5v1M143 5v2M144 5v2M145 5v1M146 5v1M147 5v2M148 6v1M149 6v1M150 6v1M151 6v2M152 6v2M153 6v2M154 6v2M155 6v2M156 7v1M157 7v1M158 7v2M159 7v1M160 6v1M161 5v2M162 5v1M163 4v2M164 4v1M165 4v2M172 1v1M173 1v1M174 1v1M175 1v1M176 1v1M177 1v1M178 1v1M179 1v1"/>
<path stroke="#29aabb" d="M8 1v1M9 1v1M10 1v1M15 7v1M16 2v1M17 2v1M18 2v1M19 2v1M20 2v1M21 2v1M22 2v1M24 3v1M25 3v1M26 3v1M27 3v1M28 3v1M29 3v1M30 3v1M31 3v1M33 3v1M36 3v1M37 3v1M38 3v1M40 3v1M41 3v1M43 3v1M44 3v1M46 3v1M47 3v1M48 3v1M50 2v1M51 2v1M52 2v1M57 12v1M59 13v1M60 14v1M62 15v1M64 18v1M66 22v1M67 26v1M68 30v1M73 30v1M75 31v1M76 32v1M77 32v1M78 31v1M80 31v1M87 32v1M88 33v1M91 32v1M95 31v1M96 31v1M97 32v1M103 22v8M105 28v1M106 22v8M107 30v1M110 31v1M112 31v1M113 30v1M116 31v1M117 31v1M118 30v1M121 30v1M122 24v1M123 17v1M124 13v1M125 11v1M126 9v1M129 7v1M131 6v1M132 6v1M133 6v1M134 6v1M135 6v1M136 6v1M137 6v1M138 6v1M140 7v1M141 6v1M142 6v1M145 6v1M146 6v1M148 7v1M149 7v1M150 7v1M151 8v1M153 8v1M154 8v1M155 8v1M156 8v1M157 8v1M159 8v1M160 7v1M161 7v1M162 6v1M163 6v1M164 5v1M172 2v2M173 2v2M174 2v2M175 2v2M176 2v2M177 2v2M178 2v2M179 2v2"/>
<path stroke="#2dada6" d="M3 28v1M4 28v1M5 28v1M6 28v1M7 28v1M8 2v1M9 2v1M10 2v1M11 27v1M12 27v1M13 27v1M14 27v1M16 3v1M17 3v1M18 3v1M19 3v1M21 3v1M22 3v1M23 3v1M27 4v1M28 4v1M29 4v1M32 3v1M34 3v1M35 3v1M38 4v1M39 3v1M40 4v1M42 3v1M44 4v1M45 4v1M49 3v1M50 3v1M52 3v1M53 3v1M54 3v1M55 12v1M56 12v1M63 17v1M65 20v1M70 30v1M72 30v1M74 31v1M81 32v1M82 31v1M83 32v1M84 33v1M85 33v1M86 33v1M89 33v1M90 33v1M92 33v1M94 32v1M98 32v1M101 32v1M102 31v1M104 29v1M109 32v1M111 32v1M115 31v1M119 31v1M120 31v1M122 25v1M123 18v1M124 14v1M127 7v1M128 7v1M130 7v1M131 7v1M132 7v1M133 7v1M134 7v1M135 7v1M136 7v1M137 7v1M138 7v1M139 7v1M141 7v1M142 7v1M143 7v1M144 7v1M145 7v1M146 7v1M147 7v1M148 8v1M149 8v1M150 8v1M152 8v1M154 9v1M156 9v1M157 9v1M158 9v1M159 9v1M160 8v1M162 7v1M163 7v1M164 6v1M165 6v1M172 4v2M173 4v2M174 4v2M175 4v2M176 4v2M177 4v2M178 4v2M179 4v2"/>
<path stroke="#32b091" d="M8 3v1M9 3v1M10 3v1M15 8v1M20 3v1M24 4v1M25 4v1M26 4v1M30 4v1M31 4v1M32 4v1M33 4v1M34 4v1M35 4v1M36 4v1M37 4v1M39 4v1M41 4v1M42 4v1M43 4v1M46 4v1M47 4v1M48 4v1M51 3v1M53 4v1M54 4v1M58 13v1M59 14v1M61 15v1M62 16v1M63 18v1M64 19v1M66 23v1M67 27v1M68 31v1M69 31v1M71 30v1M73 31v1M76 33v1M77 33v1M78 32v1M79 32v1M80 32v1M87 33v1M91 33v1M93 33v1M95 32v1M96 32v1M99 32v1M100 32v1M103 30v1M105 29v1M106 30v1M108 31v1M110 32v1M112 32v1M113 31v1M114 31v1M118 31v1M123 19v1M125 12v1M126 10v1M127 8v1M128 8v1M129 8v1M130 8v1M131 8v1M133 8v1M135 8v1M136 8v1M137 8v1M138 8v1M139 8v1M140 8v1M141 8v1M142 8v1M143 8v1M144 8v1M145 8v1M146 8v1M147 8v1M148 9v1M149 9v1M150 9v1M151 9v1M152 9v1M153 9v1M155 9v1M156 10v1M157 10v1M158 10v1M159 10v1M160 9v1M161 8v1M164 7v1M165 7v1M166 0v2M167 0v2M168 0v2M169 0v2M170 0v2M171 0v2"/>
<path stroke="#38af7c" d="M0 0v1M1 0v1M2 0v1M3 29v1M4 29v1M5 29v1M6 29v1M7 29v1M8 4v2M9 4v2M10 4v2M11 28v1M12 28v1M13 28v1M14 28v1M15 9v1M16 4v1M17 4v1M18 4v1M19 4v1M20 4v1M21 4v1M22 4v1M23 4v1M24 5v1M25 5v1M26 5v1M27 5v1M28 5v1M29 5v1M30 5v1M31 5v1M33 5v1M36 5v1M37 5v1M38 5v1M40 5v1M41 5v1M42 5v1M43 5v1M44 5v1M45 5v1M46 5v1M47 5v1M48 5v1M49 4v1M50 4v1M51 4v1M52 4v1M57 13v1M62 17v1M64 20v1M65 21v1M70 31v1M72 31v1M74 32v1M75 32v1M81 33v1M82 32v1M83 33v1M84 34v1M85 34v1M86 34v1M88 34v1M89 34v1M90 34v1M94 33v1M97 33v1M102 32v1M104 30v1M107 31v1M111 33v1M115 32v1M116 32v1M117 32v1M119 32v1M120 32v1M121 31v1M122 26v1M123 20v1M124 15v1M127 9v1M128 9v1M129 9v1M130 9v1M132 8v1M133 9v1M134 8v1M136 9v1M137 9v1M138 9v1M139 9v1M140 9v1M142 9v1M143 9v1M144 9v1M147 9v1M149 10v1M150 10v1M151 10v1M152 10v1M153 10v1M154 10v1M155 10v1M157 11v1M158 11v1M161 9v1M162 8v1M163 8v1M164 8v1M165 8v1M166 2v2M167 2v2M168 2v2M169 2v2M170 2v2M171 2v2M172 6v1M173 6v1M174 6v1M175 6v1M176 6v1M177 6v1M178 6v1M179 6v1"/>
<path stroke="#3fad67" d="M0 1v3M1 1v3M2 1v3M8 6v1M9 6v1M10 6v1M16 5v1M17 5v1M18 5v1M19 5v1M20 5v1M21 5v1M22 5v1M23 5v1M26 6v1M27 6v1M28 6v1M29 6v1M32 5v1M34 5v1M35 5v1M38 6v1M39 5v1M40 6v1M43 6v1M44 6v1M45 6v1M46 6v1M49 5v1M50 5v1M52 5v1M53 5v1M54 5v1M55 13v1M56 13v1M58 14v1M63 19v1M64 21v1M65 22v1M66 24v1M67 28v1M68 32v1M69 32v1M71 31v1M79 33v1M92 34v1M93 34v1M95 33v1M98 33v1M99 33v1M100 33v1M101 33v1M105 30v1M108 32v1M109 33v1M110 33v1M114 32v1M123 21v1M125 13v1M126 11v1M131 9v1M132 9v1M134 9v1M135 9v1M141 9v1M145 9v1M146 9v1M148 10v1M153 11v1M154 11v1M156 11v1M159 11v1M160 10v1M162 9v1M163 9v1M166 4v2M167 4v2M168 4v2M169 4v2M170 4v2M171 4v2M172 7v1M173 7v1M174 7v1M175 7v1M176 7v1M177 7v1M178 7v1M179 7v1"/>
<path stroke="#46ac52" d="M3 30v1M4 30v1M5 30v1M6 30v1M7 30v1M8 7v1M9 7v1M10 7v1M15 10v1M24 6v1M25 6v1M30 6v1M31 6v1M32 6v1M32 34v1M33 6v1M34 6v1M34 34v1M35 6v1M35 34v1M36 6v1M37 6v1M39 6v1M39 34v1M41 6v1M42 6v1M42 34v1M47 6v1M48 6v1M51 5v1M53 6v1M53 34v1M54 6v1M54 34v1M60 15v1M61 16v1M62 18v1M63 20v1M67 29v1M73 32v1M75 33v1M76 34v1M77 34v1M78 33v1M80 33v1M87 34v1M88 35v1M91 34v1M96 33v1M103 31v1M106 31v1M112 33v1M113 32v1M117 33v1M118 32v1M122 27v1M123 22v1M124 16v1M127 10v1M128 10v1M129 10v1M130 10v1M137 10v1M139 10v1M140 10v1M142 10v1M143 10v1M144 10v1M147 10v1M149 11v1M150 11v1M151 11v1M152 11v1M155 11v1M158 12v1M161 10v1M164 9v1M165 9v1M166 6v1M167 6v1M168 6v1M169 6v1M170 6v1M171 6v1"/>
<path stroke="#58b147" d="M0 4v1M1 4v1M2 4v1M8 8v1M9 8v1M10 8v1M11 29v1M12 29v1M13 29v1M14 29v1M15 11v1M16 6v1M16 33v2M17 6v1M17 33v2M18 6v1M18 33v2M19 6v1M19 33v1M20 6v1M20 32v2M21 6v1M21 33v1M22 6v1M22 33v1M23 6v1M23 33v2M24 33v2M25 33v2M26 7v1M26 34v1M27 7v1M27 34v2M28 7v1M28 34v1M29 7v1M29 34v1M30 7v1M30 33v2M31 33v2M32 33v1M33 33v2M34 33v1M35 33v1M36 33v2M37 33v2M38 7v1M38 34v1M39 33v1M40 7v1M40 34v1M41 7v1M41 33v2M42 33v1M43 7v1M43 33v2M44 7v1M44 34v2M45 7v1M45 34v2M46 7v1M46 33v2M47 33v2M48 33v2M49 6v1M49 33v2M50 6v1M50 33v1M51 6v1M51 32v2M52 6v1M52 33v2M53 33v1M54 33v1M57 14v1M61 17v1M62 19v1M63 21v1M64 22v1M65 23v1M66 25v1M68 33v1M74 33v1M82 33v1M83 34v1M84 35v1M85 35v1M86 35v1M89 35v1M94 34v1M97 34v1M102 33v1M104 31v1M107 32v1M111 34v1M115 33v1M116 33v1M119 33v1M121 32v1M123 23v2M124 17v1M126 12v1M131 10v1M132 10v1M133 10v1M134 10v1M135 10v1M136 10v1M138 10v1M141 10v1M145 10v1M146 10v1M148 11v1M154 12v1M156 12v1M157 12v1M159 12v1M160 11v1M162 10v1M163 10v1M166 7v1M167 7v1M168 7v1M169 7v1M170 7v1M171 7v1M172 8v1M173 8v1M174 8v1M175 8v1M176 8v1M177 8v1M178 8v1M179 8v1"/>
<path stroke="#6db841" d="M16 32v1M17 32v1M18 32v1M19 32v1M19 34v1M20 34v1M21 32v1M21 34v1M22 32v1M22 34v1M23 32v1M24 7v1M25 7v1M26 33v1M26 35v1M27 33v1M28 33v1M28 35v1M29 33v1M29 35v1M31 7v1M32 32v1M33 7v1M34 32v1M35 32v1M36 7v1M37 7v1M38 33v1M38 35v1M39 7v1M39 32v1M40 33v1M40 35v1M42 7v1M43 35v1M44 33v1M45 33v1M46 35v1M47 7v1M48 7v1M49 32v1M50 32v1M50 34v1M52 32v1M53 32v1M54 7v1M54 32v1M55 14v1M56 14v1M59 15v1M60 16v1M61 18v1M62 20v1M63 22v1M64 23v1M67 30v1M69 33v1M70 32v1M71 32v1M72 32v1M81 34v1M90 35v1M92 35v1M93 35v1M98 34v1M99 34v1M101 34v1M108 33v1M109 34v1M120 33v1M122 28v1M125 14v1M127 11v1M128 11v1M129 11v1M130 11v1M139 11v1M140 11v1M143 11v1M144 11v1M147 11v1M149 12v1M150 12v1M151 12v1M152 12v1M153 12v1M155 12v1M158 13v1M161 11v1M165 10v1M166 8v1M167 8v1M168 8v1M169 8v1M170 8v1M171 8v1M172 36v1M173 36v1M174 36v1M175 36v1M176 36v1M177 36v1M178 36v1M179 36v1"/>
<path stroke="#83c03a" d="M3 31v1M4 31v1M5 31v1M6 31v1M7 31v1M8 9v1M9 9v1M10 9v1M11 30v1M12 30v1M13 30v1M14 30v1M15 12v1M16 7v1M17 7v1M18 7v1M19 7v1M22 7v1M23 7v1M24 32v1M25 32v1M25 35v1M27 8v1M28 8v1M30 35v1M31 32v1M31 35v1M32 7v1M33 32v1M34 7v1M35 7v1M36 32v1M37 32v1M37 35v1M41 35v1M42 32v1M44 8v1M45 8v1M47 32v1M47 35v1M48 32v1M49 7v1M51 34v1M52 7v1M53 7v1M55 34v1M56 34v1M57 34v1M60 17v1M61 19v1M62 21v1M65 24v1M66 26v1M67 31v1M68 34v1M76 35v1M78 34v1M79 34v1M87 35v1M91 35v1M95 34v1M96 34v1M100 34v1M103 32v1M105 31v1M106 32v1M110 34v1M112 34v1M114 33v1M118 33v1M123 25v1M124 18v2M131 11v1M133 11v1M135 11v1M136 11v1M137 11v1M138 11v1M141 11v1M142 11v1M145 11v1M146 11v1M148 12v1M156 13v1M157 13v1M159 13v1M160 12v1M164 10v1M166 9v1M167 9v1M168 9v1M169 9v1M170 9v1M171 9v1M172 9v1M172 33v3M173 9v1M173 33v3M174 9v1M174 33v3M175 9v1M175 33v3M176 9v1M176 33v3M177 9v1M177 33v3M178 9v1M178 33v3M179 9v1M179 33v3"/>
<path stroke="#98c733" d="M0 5v1M0 35v1M1 5v1M1 35v1M2 5v1M2 35v1M15 13v1M15 32v3M19 31v1M20 7v1M20 31v1M21 7v1M21 31v1M22 31v1M24 8v1M24 35v1M25 8v1M26 8v1M26 32v1M27 32v1M28 32v1M29 8v1M29 32v1M30 8v1M30 32v1M31 8v1M33 8v1M33 35v1M36 8v1M36 35v1M37 8v1M38 8v1M38 32v1M39 35v1M40 8v1M40 32v1M41 8v1M41 32v1M42 8v1M42 35v1M43 8v1M43 32v1M46 8v1M46 32v1M47 8v1M48 8v1M48 35v1M50 7v1M50 31v1M51 7v1M51 31v1M55 35v1M56 35v1M58 15v1M58 34v1M60 18v1M61 20v1M62 22v1M63 23v1M64 24v1M67 32v1M73 33v1M75 34v1M77 35v1M80 34v1M88 36v1M97 35v1M107 33v1M111 35v1M113 33v1M115 34v1M116 34v1M117 34v1M121 33v1M124 20v1M125 15v1M126 13v1M132 11v1M134 11v1M151 13v1M153 13v1M154 13v1M155 13v1M162 11v1M163 11v1M172 10v1M172 32v1M173 10v1M173 32v1M174 10v1M174 32v1M175 10v1M175 32v1M176 10v1M176 32v1M177 10v1M177 32v1M178 10v1M178 32v1M179 10v1M179 32v1"/>
<path stroke="#b1cb2e" d="M0 36v1M1 36v1M2 36v1M3 32v1M4 32v1M5 32v1M6 32v1M7 32v1M8 10v1M9 10v1M10 10v1M15 31v1M16 8v1M16 31v1M17 8v1M17 31v1M18 8v1M18 31v1M23 8v1M23 31v1M32 8v1M32 31v1M32 35v1M34 8v1M34 31v1M34 35v1M35 8v1M35 31v1M35 35v1M39 8v1M44 32v1M45 9v1M45 32v1M49 8v1M49 31v1M52 31v1M53 8v1M53 31v1M53 35v1M54 8v1M54 35v1M57 35v1M58 35v1M59 16v1M59 34v2M60 19v1M60 35v1M61 21v1M62 23v1M63 24v1M65 25v1M66 27v1M67 33v1M70 33v1M72 33v1M74 34v1M81 35v1M82 34v1M83 35v1M84 36v1M85 36v1M86 36v1M89 36v1M90 36v1M94 35v1M102 34v1M104 32v1M119 34v1M120 34v1M122 29v1M123 26v1M124 21v1M127 12v1M128 12v1M129 12v1M130 12v1M137 12v1M139 12v1M140 12v1M143 12v1M144 12v1M147 12v1M149 13v1M150 13v1M152 13v1M158 14v1M161 12v1M165 11v1M166 10v1M167 10v1M168 10v1M169 10v1M170 10v1M171 10v1"/>
<path stroke="#cbcf29" d="M11 31v1M12 31v1M13 31v1M14 31v1M15 14v6M15 30v1M16 35v1M17 35v1M18 35v1M19 8v1M19 35v1M20 8v1M21 8v1M22 8v1M22 35v1M23 35v1M24 31v1M25 9v1M26 9v1M27 9v1M27 36v1M28 9v1M28 36v1M29 9v1M30 9v1M31 9v1M33 31v1M36 31v1M38 9v1M39 31v1M40 9v1M41 9v1M42 31v1M43 9v1M44 9v1M44 36v1M45 36v1M46 9v1M48 31v1M49 35v1M50 8v1M51 8v1M52 8v1M52 35v1M54 31v1M59 17v2M60 20v1M60 34v1M61 22v1M61 34v2M62 24v1M62 35v1M63 35v1M64 25v1M64 35v1M66 36v1M67 34v1M68 35v1M69 34v1M71 33v1M79 35v1M92 36v1M93 36v1M98 35v1M99 35v1M100 35v1M101 35v1M108 34v1M109 35v1M114 34v1M124 22v2M125 16v1M131 12v1M132 12v1M133 12v1M135 12v1M136 12v1M138 12v1M141 12v1M142 12v1M145 12v1M146 12v1M148 13v1M156 14v1M157 14v1M159 14v1M160 13v1M164 11v1M172 11v1M172 31v1M173 11v1M173 31v1M174 11v1M174 31v1M175 11v1M175 31v1M176 11v1M176 31v1M177 11v1M177 31v1M178 11v1M178 31v1M179 11v1M179 31v1"/>
<path stroke="#e4d324" d="M8 11v1M9 11v1M10 11v1M15 20v3M15 29v1M15 35v1M20 30v1M20 35v1M21 30v1M21 35v1M24 9v1M25 31v1M25 36v1M26 31v1M26 36v1M29 31v1M29 36v1M30 31v1M30 36v1M31 31v1M32 9v1M33 9v1M34 9v1M35 9v1M36 9v1M37 9v1M37 31v1M38 31v1M38 36v1M39 9v1M40 31v1M40 36v1M41 31v1M41 36v1M42 9v1M43 31v1M43 36v1M46 31v1M46 36v1M47 9v1M47 31v1M48 9v1M50 30v1M50 35v1M51 30v1M51 35v1M53 9v1M54 9v1M55 33v1M56 33v1M57 15v1M57 33v1M58 16v1M59 19v1M60 21v2M61 23v1M62 34v1M63 25v1M65 26v1M65 35v1M66 28v1M76 36v1M78 35v1M87 36v1M91 36v1M95 35v1M96 35v1M103 33v1M105 32v1M106 33v1M110 35v1M112 35v1M118 34v1M123 27v1M125 17v1M126 14v1M134 12v1M151 14v1M153 14v1M154 14v1M155 14v1M162 12v1M163 12v1M166 11v1M167 11v1M168 11v1M169 11v1M170 11v1M171 11v1M172 30v1M173 30v1M174 30v1M175 30v1M176 30v1M177 30v1M178 30v1M179 30v1"/>
<path stroke="#edc121" d="M0 6v1M0 34v1M1 6v1M1 34v1M2 6v1M2 34v1M3 33v1M4 33v1M5 33v1M6 33v1M7 33v1M8 12v1M8 33v1M9 12v1M9 33v1M10 12v1M10 33v1M15 23v3M15 27v2M16 9v1M16 30v1M17 9v1M17 30v1M18 9v1M18 30v1M19 9v1M19 30v1M20 9v1M21 9v1M22 9v1M22 30v1M23 9v1M23 30v1M24 36v1M26 10v1M27 10v1M27 31v1M28 10v1M28 31v1M29 10v1M30 10v1M31 36v1M33 36v1M34 30v1M36 36v1M37 36v1M38 10v1M39 36v1M40 10v1M41 10v1M42 36v1M43 10v1M44 10v1M44 31v1M45 10v1M45 31v1M46 10v1M47 36v1M48 36v1M49 9v1M49 30v1M50 9v1M51 9v1M52 9v1M52 30v1M55 15v1M56 15v1M58 17v1M58 33v1M59 20v2M59 33v1M60 23v1M60 33v1M61 24v2M62 25v1M62 36v1M63 26v1M63 34v1M63 36v1M64 26v1M64 36v1M65 36v1M66 29v4M67 35v1M73 34v1M74 35v1M75 35v1M77 36v1M80 35v1M82 35v1M88 37v1M97 36v1M107 34v1M111 36v1M113 34v1M115 35v1M116 35v1M117 35v1M121 34v1M122 30v1M124 24v1M125 18v1M127 13v1M128 13v1M129 13v1M130 13v1M139 13v1M140 13v1M143 13v1M144 13v1M147 13v1M149 14v1M150 14v1M152 14v1M158 15v1M161 13v1M163 35v2M165 12v1M172 12v1M172 37v1M173 12v1M173 37v1M174 12v1M174 37v1M175 12v1M175 37v1M176 12v1M176 37v1M177 12v1M177 37v1M178 12v1M178 37v1M179 12v1M179 37v1"/>
<path stroke="#eea620" d="M0 37v1M1 37v1M2 37v1M8 32v1M8 34v1M9 32v1M9 34v1M10 32v1M10 34v1M11 32v1M12 32v1M13 32v1M14 32v1M15 26v1M16 36v1M17 36v1M18 36v1M23 36v1M24 10v1M24 30v1M25 10v1M31 10v1M32 10v1M32 30v1M32 36v1M33 10v1M33 30v1M34 36v1M35 10v1M35 30v1M35 36v1M36 10v1M36 30v1M37 10v1M39 10v1M39 30v1M42 10v1M42 30v1M44 37v1M45 37v1M47 10v1M48 10v1M48 30v1M49 36v1M52 36v1M53 10v1M53 30v1M53 36v1M54 10v1M54 30v1M54 36v1M55 36v1M56 36v1M57 36v1M58 18v2M58 36v1M59 22v2M59 36v1M60 24v2M60 36v1M61 26v1M61 33v1M61 36v1M62 26v1M62 33v1M63 33v1M64 27v1M64 34v1M65 27v1M66 33v3M70 34v1M72 34v1M81 36v1M83 36v1M84 37v1M85 37v1M86 37v1M89 37v1M90 37v1M94 36v1M102 35v1M104 33v1M119 35v1M120 35v1M123 28v1M124 25v1M125 19v1M126 15v1M131 13v1M133 13v1M135 13v1M136 13v1M137 13v1M138 13v1M141 13v1M142 13v1M146 13v1M154 35v2M156 15v1M157 15v1M160 14v1M164 12v1M166 12v1M167 12v1M168 12v1M169 12v1M170 12v1M171 12v1M172 29v1M173 29v1M174 29v1M175 29v1M176 29v1M177 29v1M178 29v1M179 29v1"/>
<path stroke="#ef8b1f" d="M8 13v1M8 30v2M8 35v1M9 13v1M9 30v2M9 35v1M10 13v1M10 30v2M10 35v1M16 10v1M17 10v1M18 10v1M19 10v1M19 36v1M20 10v1M20 29v1M20 36v1M21 10v1M21 29v1M21 36v1M22 10v1M22 36v1M23 10v1M25 30v1M25 37v1M26 11v1M26 30v1M26 37v1M27 11v1M27 37v1M28 11v1M28 30v1M28 37v1M29 11v1M29 30v1M29 37v1M30 30v1M30 37v1M31 30v1M34 10v1M37 30v1M38 11v1M38 30v1M38 37v1M40 11v1M40 30v1M40 37v1M41 30v1M41 37v1M43 11v1M43 30v1M43 37v1M44 11v1M45 11v1M46 11v1M46 30v1M46 37v1M47 30v1M49 10v1M50 10v1M50 29v1M50 36v1M51 29v1M51 36v1M52 10v1M55 32v1M56 32v1M57 16v2M57 32v1M58 20v3M58 32v1M59 24v2M59 32v1M60 26v1M60 32v1M61 27v1M61 32v1M62 27v1M62 32v1M63 27v1M63 32v1M64 31v3M65 28v7M67 36v1M68 36v1M69 35v1M71 34v1M92 37v1M93 37v1M98 36v1M99 36v1M101 36v1M108 35v1M109 36v1M125 20v2M132 13v1M134 13v1M145 13v1M148 14v1M153 15v1M153 35v2M154 15v1M154 34v1M154 37v1M157 35v2M159 15v1M162 13v1M163 13v1M163 34v1M163 37v1M172 13v1M173 13v1M174 13v1M175 13v1M176 13v1M177 13v1M178 13v1M179 13v1"/>
<path stroke="#ef721f" d="M3 34v1M4 34v1M5 34v1M6 34v1M7 34v1M8 14v1M8 29v1M8 36v1M9 14v1M9 29v1M9 36v1M10 14v1M10 29v1M10 36v1M11 33v1M12 33v1M13 33v1M14 33v1M15 36v1M16 29v1M17 29v1M18 29v1M19 29v1M22 29v1M23 29v1M24 11v1M24 37v1M25 11v1M27 30v1M30 11v1M31 11v1M31 37v1M33 11v1M33 37v1M34 29v1M36 11v1M36 37v1M37 11v1M37 37v1M39 11v1M39 37v1M41 11v1M42 11v1M42 37v1M44 30v1M45 30v1M47 11v1M47 37v1M48 11v1M48 37v1M49 29v1M51 10v1M52 29v1M55 16v2M55 29v3M56 16v2M56 29v3M57 18v1M57 29v3M58 23v9M59 26v6M60 27v5M61 28v4M62 28v4M63 28v4M64 28v3M66 37v1M67 37v1M79 36v1M87 37v1M95 36v1M96 36v1M100 36v1M105 33v1M110 36v1M114 35v1M124 26v1M125 22v1M126 16v1M127 14v1M128 14v1M129 14v1M130 14v1M139 14v1M140 14v1M143 14v1M144 14v1M147 14v1M151 15v1M152 15v1M155 15v1M155 35v2M156 35v2M157 34v1M157 37v1M158 16v1M161 14v1M165 13v1M166 13v1M167 13v1M168 13v1M169 13v1M170 13v1M171 13v1M172 14v1M172 28v1M173 14v1M173 28v1M174 14v1M174 28v1M175 14v1M175 28v1M176 14v1M176 28v1M177 14v1M177 28v1M178 14v1M178 28v1M179 14v1M179 28v1"/>
<path stroke="#ed591f" d="M8 15v1M8 27v2M8 37v1M9 15v1M9 27v2M9 37v1M10 15v1M10 27v2M10 37v1M16 11v1M17 11v1M18 11v1M23 11v1M23 37v1M24 29v1M27 12v1M32 11v1M32 29v1M32 37v1M33 29v1M34 11v1M34 37v1M35 11v1M35 29v1M35 37v1M36 29v1M37 29v1M39 29v1M42 29v1M44 12v1M45 12v1M45 38v1M47 29v1M48 29v1M49 11v1M49 37v1M52 11v1M53 11v1M53 29v1M53 37v1M54 11v1M54 29v1M54 37v1M55 18v2M55 25v4M56 18v2M56 25v4M57 19v10M67 38v1M73 35v1M75 36v1M76 37v1M77 37v1M78 36v1M80 36v1M88 38v1M91 37v1M103 34v1M106 34v1M112 36v1M113 35v1M117 36v1M118 35v1M122 31v1M123 29v1M125 23v1M133 14v1M135 14v1M136 14v1M137 14v1M138 14v1M142 14v1M146 14v1M149 15v1M150 15v1M153 34v1M153 37v1M155 34v1M155 37v1M156 34v1M156 37v1M157 16v1M160 15v1M162 35v2M163 33v1M163 38v1M164 13v1"/>
<path stroke="#ec411e" d="M0 7v1M0 38v1M1 7v1M1 38v1M2 7v1M2 38v1M3 35v1M4 35v1M5 35v1M6 35v1M7 35v1M8 16v2M8 24v3M9 16v2M9 24v3M10 16v2M10 24v3M15 37v1M16 37v1M17 37v1M18 37v1M19 11v1M19 28v1M19 37v1M20 11v1M20 28v1M21 11v1M21 28v1M21 37v1M22 11v1M22 28v1M22 37v1M25 12v1M25 29v1M26 12v1M26 29v1M27 29v1M27 38v1M28 12v1M28 29v1M28 38v1M29 12v1M29 29v1M29 38v1M30 12v1M30 29v1M31 12v1M31 29v1M37 12v1M38 12v1M38 29v1M38 38v1M40 12v1M40 29v1M41 12v1M41 29v1M43 12v1M43 29v1M44 29v1M44 38v1M46 12v1M46 29v1M50 11v1M50 28v1M50 37v1M51 11v1M51 28v1M52 28v1M52 37v1M55 20v5M55 37v1M56 20v5M56 37v1M57 37v1M58 37v1M59 37v1M60 37v1M61 37v1M62 37v1M63 37v1M64 37v1M65 37v1M68 37v1M74 36v1M82 36v1M89 38v1M94 37v1M97 37v1M104 34v1M107 35v1M111 37v1M115 36v1M116 36v1M119 36v1M121 35v1M124 27v1M125 24v1M126 17v1M130 15v1M131 14v1M132 14v1M134 14v1M140 15v1M141 14v1M143 15v1M145 14v1M148 15v1M153 16v1M154 16v1M154 33v1M154 38v1M156 16v1M157 33v1M157 38v1M158 35v2M159 16v1M162 14v1M162 34v1M162 37v1M163 14v1M164 35v2M166 14v1M167 14v1M168 14v1M169 14v1M170 14v1M171 14v1M172 15v1M172 27v1M173 15v1M173 27v1M174 15v1M174 27v1M175 15v1M175 27v1M176 15v1M176 27v1M177 15v1M177 27v1M178 15v1M178 27v1M179 15v1M179 27v1"/>
<path stroke="#e92a1e" d="M0 33v1M1 33v1M2 33v1M8 18v1M8 22v2M8 38v1M9 18v1M9 22v2M9 38v1M10 18v1M10 22v2M10 38v1M11 34v1M12 34v1M13 34v1M14 34v1M16 28v1M17 28v1M18 28v1M20 37v1M23 28v1M24 12v1M25 38v1M26 38v1M30 38v1M31 38v1M32 12v1M32 28v1M33 12v1M34 28v1M35 12v1M35 28v1M36 12v1M37 38v1M39 12v1M39 28v1M40 38v1M41 38v1M42 12v1M43 38v1M45 29v1M46 38v1M47 12v1M47 38v1M48 12v1M49 28v1M51 37v1M53 12v1M53 28v1M54 12v1M54 28v1M66 38v1M70 35v1M72 35v1M81 37v1M83 37v1M84 38v1M85 38v1M86 38v1M90 38v1M101 37v1M102 36v1M109 37v1M120 36v1M125 25v1M126 18v2M127 15v1M128 15v1M129 15v1M131 15v1M132 15v1M133 15v1M135 15v1M136 15v1M137 15v1M138 15v1M139 15v1M142 15v1M144 15v1M147 15v1M149 16v1M150 16v1M151 16v1M152 16v1M152 35v2M153 33v1M153 38v1M155 16v1M155 33v1M155 38v1M156 33v1M156 38v1M158 17v1M158 34v1M158 37v1M161 15v1M162 33v1M162 38v1M164 14v1M164 34v1M164 37v1M165 14v1"/>
<path stroke="#e22523" d="M8 19v3M9 19v3M10 19v3M16 12v1M17 12v1M18 12v1M19 12v1M20 27v1M21 27v1M22 12v1M23 12v1M24 28v1M24 38v1M25 28v1M26 28v1M27 13v1M28 13v1M29 28v1M30 28v1M31 28v1M33 28v1M33 38v1M34 12v1M36 28v1M36 38v1M37 28v1M39 38v1M40 28v1M41 28v1M42 28v1M42 38v1M43 28v1M44 13v1M45 13v1M46 28v1M47 28v1M48 28v1M48 38v1M49 12v1M50 27v1M51 27v1M52 12v1M55 38v1M56 38v1M57 38v1M58 38v1M59 38v1M60 38v1M61 38v1M62 38v1M63 38v1M64 38v1M65 38v1M67 39v1M69 36v1M71 35v1M79 37v1M92 38v1M93 38v1M95 37v1M98 37v1M99 37v1M100 37v1M105 34v1M108 36v1M110 37v1M114 36v1M123 30v1M124 28v1M126 20v2M130 16v1M134 15v1M140 16v1M141 15v1M145 15v1M146 15v1M148 16v1M149 35v2M152 34v1M152 37v1M154 17v1M154 32v1M154 39v1M156 17v1M157 17v1M157 32v1M157 39v1M158 33v1M158 38v1M159 17v1M160 16v1M162 15v1M163 32v1M163 39v1M164 33v1M164 38v1M166 15v1M166 36v1M167 15v1M167 36v1M168 15v1M168 36v1M169 15v1M169 36v1M170 15v1M170 36v1M171 15v1M171 36v1M172 16v1M172 26v1M172 38v1M173 16v1M173 26v1M173 38v1M174 16v1M174 26v1M174 38v1M175 16v1M175 26v1M175 38v1M176 16v1M176 26v1M176 38v1M177 16v1M177 26v1M177 38v1M178 16v1M178 26v1M178 38v1M179 16v1M179 26v1M179 38v1"/>
<path stroke="#da2129" d="M0 8v1M0 39v1M1 8v1M1 39v1M2 8v1M2 39v1M3 36v1M4 36v1M5 36v1M6 36v1M7 36v1M8 39v1M9 39v1M10 39v1M11 35v1M12 35v1M13 35v1M14 35v1M15 38v1M16 27v1M16 38v1M17 27v1M17 38v1M18 27v1M18 38v1M19 27v1M19 38v1M20 12v1M21 12v1M21 38v1M22 27v1M22 38v1M23 27v1M23 38v1M25 13v1M26 13v1M27 28v1M27 39v1M28 28v1M28 39v1M29 13v1M29 39v1M30 13v1M31 13v1M32 27v1M32 38v1M33 13v1M34 27v1M34 38v1M35 27v1M35 38v1M36 13v1M37 13v1M38 13v1M38 28v1M38 39v1M40 13v1M41 13v1M43 13v1M44 28v1M44 39v1M45 28v1M45 39v1M46 13v1M47 13v1M49 27v1M49 38v1M50 12v1M50 38v1M51 12v1M52 27v1M52 38v1M53 27v1M53 38v1M54 27v1M54 38v1M55 39v1M56 39v1M57 39v1M58 39v1M66 39v1M68 38v2M73 36v1M76 38v1M78 37v1M87 38v1M91 38v1M96 37v1M103 35v1M106 35v1M112 37v1M113 36v1M118 36v1M122 32v1M125 26v1M126 22v2M127 16v1M128 16v1M129 16v1M130 17v1M131 16v2M132 16v1M133 16v2M134 16v1M134 34v4M135 16v1M136 16v1M137 16v1M138 16v1M139 16v1M140 17v1M141 16v1M142 16v1M143 16v1M144 16v1M145 16v1M146 16v1M147 16v1M148 17v1M149 17v1M149 34v1M149 37v1M150 17v1M150 34v4M151 17v1M151 35v2M152 17v1M152 33v1M152 38v1M153 17v1M153 32v1M153 39v1M155 17v1M155 32v1M155 39v1M156 32v1M156 39v1M157 18v1M158 18v1M161 16v1M162 32v1M162 39v1M163 15v1M164 15v1M165 15v1M166 16v1M166 35v1M166 37v2M167 16v1M167 35v1M167 37v2M168 16v1M168 35v1M168 37v2M169 16v1M169 35v1M169 37v2M170 16v1M170 35v1M170 37v2M171 16v1M171 35v1M171 37v2M172 17v9M172 39v1M173 17v9M173 39v1M174 17v9M174 39v1M175 17v9M175 39v1M176 17v9M176 39v1M177 17v9M177 39v1M178 17v9M178 39v1M179 17v9M179 39v1"/>
<path stroke="#c8202a" d="M0 32v1M1 32v1M2 32v1M3 37v2M4 37v2M5 37v2M6 37v2M7 37v2M11 36v2M12 36v2M13 36v2M14 36v2M15 39v1M20 26v1M20 38v1M24 13v1M24 27v1M24 39v1M25 27v1M25 39v1M26 27v1M26 39v1M30 27v1M30 39v1M31 27v1M31 39v1M32 13v1M32 39v1M33 27v1M33 39v1M34 13v1M35 13v1M35 39v1M36 27v1M36 39v1M37 27v1M37 39v1M39 13v1M39 27v1M39 39v1M40 27v1M40 39v1M41 27v1M41 39v1M42 13v1M42 27v1M42 39v1M43 27v1M43 39v1M46 27v1M46 39v1M47 27v1M47 39v1M48 13v1M48 27v1M48 39v1M50 26v1M51 26v1M51 38v1M53 13v1M53 39v1M54 13v1M54 39v1M59 39v1M60 39v1M61 39v1M62 39v1M63 39v1M64 39v1M65 39v1M69 37v1M70 36v1M71 36v1M72 36v1M74 37v1M75 37v1M77 38v1M79 38v1M80 37v1M81 38v1M82 37v1M83 38v1M84 39v1M85 39v1M86 39v1M88 39v1M89 39v1M90 39v1M92 39v1M93 39v1M94 38v1M95 38v1M97 38v1M98 38v1M99 38v1M100 38v1M101 38v1M102 37v1M104 35v1M105 35v1M107 36v1M108 37v1M109 38v1M110 38v1M111 38v1M114 37v1M115 37v1M116 37v1M117 37v1M119 37v1M120 37v1M121 36v1M124 29v1M125 27v1M126 24v1M127 17v1M128 17v1M129 17v1M130 18v1M131 18v1M132 17v2M133 18v1M133 34v4M134 17v1M134 33v1M134 38v1M135 17v1M135 34v4M136 17v1M137 17v1M138 17v1M139 17v1M140 18v1M141 17v1M142 17v1M143 17v1M144 17v1M145 17v1M146 17v1M147 17v1M148 35v2M149 18v1M149 32v2M149 38v2M150 18v1M150 33v1M150 38v1M151 18v1M151 33v2M151 37v2M152 18v1M152 32v1M152 39v1M153 18v1M153 31v1M154 18v1M154 31v1M155 18v1M155 31v1M156 18v1M156 31v1M157 31v1M158 19v1M158 32v1M158 39v1M159 18v1M160 17v1M161 17v1M161 34v4M162 16v1M162 31v1M163 16v1M163 31v1M164 32v1M164 39v1M165 16v1M166 39v1M167 39v1M168 39v1M169 39v1M170 39v1M171 39v1"/>
<path stroke="#b21f2a" d="M3 39v1M4 39v1M5 39v1M6 39v1M7 39v1M11 38v2M12 38v2M13 38v2M14 38v2M16 13v1M16 26v1M16 39v1M17 13v1M17 26v1M17 39v1M18 13v1M18 26v1M18 39v1M19 13v1M19 26v1M19 39v1M20 39v1M21 13v1M21 26v1M21 39v1M22 13v1M22 26v1M22 39v1M23 13v1M23 26v1M23 39v1M27 14v1M27 27v1M28 14v1M28 27v1M29 14v1M29 27v1M32 26v1M34 26v1M34 39v1M35 26v1M38 14v1M38 27v1M39 26v1M40 14v1M44 14v1M44 27v1M45 14v1M45 27v1M49 13v1M49 26v1M49 39v1M50 13v1M50 39v1M51 39v1M52 13v1M52 26v1M52 39v1M53 26v1M54 26v1M69 38v2M70 37v3M71 37v3M72 37v3M73 37v3M74 38v2M75 38v2M76 39v1M77 39v1M78 38v2M79 39v1M80 38v2M81 39v1M82 38v2M83 39v1M87 39v1M91 39v1M94 39v1M95 39v1M96 38v2M97 39v1M98 39v1M99 39v1M100 39v1M101 39v1M102 38v2M103 36v4M104 36v4M105 36v4M106 36v4M107 37v3M108 38v2M109 39v1M110 39v1M111 39v1M112 38v2M113 37v3M114 38v2M115 38v2M116 38v2M117 38v2M118 37v3M119 38v2M120 38v2M121 37v3M122 33v7M123 31v9M124 30v1M125 28v1M126 25v1M127 18v1M128 18v1M129 18v1M130 19v3M131 19v2M132 19v2M132 33v6M133 19v2M133 32v2M133 38v2M134 18v2M134 31v2M134 39v1M135 18v2M135 32v2M135 38v2M136 18v2M136 34v4M137 18v2M138 18v2M139 18v2M140 19v1M141 18v2M142 18v2M143 18v2M144 18v2M145 18v1M146 18v1M147 18v2M148 18v2M148 32v3M148 37v3M149 19v1M149 31v1M150 19v1M150 31v2M150 39v1M151 19v1M151 31v2M151 39v1M152 19v1M152 30v2M153 19v1M153 30v1M154 19v1M154 30v1M155 19v1M155 30v1M156 19v2M156 30v1M157 19v2M157 30v1M158 20v1M158 30v2M159 19v1M159 32v8M160 18v2M161 18v1M161 32v2M161 38v2M162 17v1M162 30v1M163 17v1M163 30v1M164 16v2M164 30v2M165 17v1M165 32v8M166 17v1M166 34v1M167 17v1M167 34v1M168 17v1M168 34v1M169 17v1M169 34v1M170 17v1M170 34v1M171 17v1M171 34v1"/>
<path stroke="#9c1f2a" d="M0 9v23M1 9v23M2 9v23M16 14v12M17 14v12M18 14v12M19 14v12M20 13v13M21 14v12M22 14v12M23 14v12M24 14v13M25 14v13M26 14v13M27 15v12M28 15v12M29 15v12M30 14v13M31 14v13M32 14v12M33 14v13M34 14v12M35 14v12M36 14v13M37 14v13M38 15v12M39 14v12M40 15v12M41 14v13M42 14v13M43 14v13M44 15v12M45 15v12M46 14v13M47 14v13M48 14v13M49 14v12M50 14v12M51 13v13M52 14v12M53 14v12M54 14v12M124 31v9M125 29v11M126 26v14M127 19v21M128 19v21M129 19v21M130 22v18M131 21v19M132 21v12M132 39v1M133 21v11M134 20v11M135 20v12M136 20v14M136 38v2M137 20v20M138 20v20M139 20v20M140 20v20M141 20v20M142 20v20M143 20v20M144 20v20M145 19v21M146 19v21M147 20v20M148 20v12M149 20v11M150 20v11M151 20v11M152 20v10M153 20v10M154 20v10M155 20v10M156 21v9M157 21v9M158 21v9M159 20v12M160 20v20M161 19v13M162 18v12M163 18v12M164 18v12M165 18v14M166 18v16M167 18v16M168 18v16M169 18v16M170 18v16M171 18v16"/>
<path stroke="#0a0520" stroke-opacity="0.55" d="M3 8v1M3 11v1M3 13v2M3 16v1M3 18v1M4 2v1M4 5v2M4 18v1M5 0v2M5 11v1M5 16v1M5 24v1M6 4v1M6 10v1M6 17v1M6 19v3M6 23v1M7 1v1M7 10v2M7 17v1M7 23v1M7 26v1M9 0v1M10 3v1M10 7v1M11 2v1M11 6v1M11 14v3M11 20v1M11 22v1M12 1v2M12 18v1M12 28v1M13 3v1M13 5v1M13 7v3M13 22v1M14 11v2M14 14v2M15 1v1M16 32v1M17 2v1M17 33v1M18 5v1M20 6v1M21 6v1M22 5v1M22 32v1M24 2v1M24 5v1M24 33v1M26 3v1M30 0v1M31 1v1M32 6v1M34 3v2M37 33v1M39 6v1M40 2v2M42 5v1M42 33v1M43 1v1M43 34v1M44 1v2M44 5v1M44 33v1M45 5v1M45 7v1M48 3v2M49 6v1M53 1v1M53 6v1M55 3v1M56 4v1M57 4v1M57 7v3M59 0v1M59 7v1M59 9v2M59 12v1M60 0v1M60 2v1M60 4v1M60 6v1M61 10v1M61 13v1M61 15v1M62 5v2M62 14v1M62 18v1M63 13v2M64 0v1M64 2v1M65 0v2M65 11v1M65 13v1M66 2v2M66 7v1M66 10v1M66 12v1M66 14v1M66 17v1M66 24v1M67 2v2M67 6v1M67 10v1M67 15v3M67 23v1M68 0v1M68 6v1M68 25v1M69 0v1M69 3v1M69 10v1M69 13v1M69 19v1M69 23v1M69 26v1M69 28v1M69 30v1M70 0v1M70 7v2M70 15v1M70 17v1M70 21v2M70 27v1M70 32v1M71 1v1M71 3v1M71 7v1M71 11v1M71 15v2M71 19v1M71 22v2M71 25v1M72 10v3M72 17v1M72 19v1M72 22v1M72 24v1M72 26v1M72 30v1M73 2v2M73 5v1M73 14v1M73 16v2M73 19v1M73 21v2M73 27v1M73 32v1M74 1v2M74 12v2M74 17v1M74 23v1M74 25v1M75 0v1M75 2v1M75 5v1M75 19v1M75 23v1M75 29v1M75 31v1M76 2v1M76 4v1M76 11v1M76 16v1M76 21v2M76 24v1M76 26v1M76 32v1M76 34v1M77 0v1M77 3v1M77 5v1M77 7v1M77 9v1M77 15v2M77 24v2M78 0v1M78 6v1M78 16v2M78 20v2M78 26v1M78 28v1M79 4v1M79 6v6M79 13v1M79 18v1M79 29v1M80 6v1M80 11v1M80 14v2M80 24v1M80 27v1M81 15v1M81 18v1M81 20v1M81 25v1M82 1v1M82 5v1M82 9v1M82 17v1M82 21v2M82 25v1M83 1v1M83 6v1M83 16v1M83 18v1M83 22v1M84 0v1M84 2v1M84 8v1M84 19v1M84 25v1M84 29v1M85 24v2M85 28v1M85 30v1M86 1v1M86 6v2M86 10v1M86 16v1M86 26v1M86 28v1M87 1v2M87 6v1M87 8v1M87 13v1M87 19v1M87 29v1M87 31v1M88 0v1M88 2v2M88 6v1M88 9v2M88 14v1M88 24v2M88 29v1M89 0v1M89 2v1M89 12v2M89 17v1M89 23v3M89 27v1M90 1v1M90 3v2M90 19v3M90 26v1M90 33v1M91 1v2M91 4v1M91 13v1M91 15v1M91 17v1M91 19v1M91 21v2M91 32v1M92 2v2M92 9v2M92 14v1M92 19v1M92 22v1M92 29v1M92 31v1M93 4v1M93 17v2M93 22v1M93 24v1M93 26v1M93 34v1M94 1v2M94 17v5M94 28v1M95 5v1M95 12v1M95 25v1M95 28v2M95 33v1M96 1v1M96 10v1M96 12v1M96 16v1M96 22v1M96 26v1M96 28v1M96 33v1M97 0v1M97 18v2M97 22v1M97 24v2M97 27v1M97 32v1M98 1v1M98 7v2M98 12v2M98 16v1M98 20v1M98 24v1M98 27v1M99 1v1M99 5v1M99 19v1M99 24v1M99 29v1M100 2v1M100 10v1M101 2v1M101 7v1M101 9v3M101 13v2M101 18v1M102 1v1M102 4v3M102 10v1M102 18v1M102 23v1M103 1v2M103 4v1M103 12v1M103 20v1M104 1v3M104 8v1M104 15v1M104 17v2M104 20v1M104 26v1M105 2v1M105 5v5M105 17v1M105 19v1M105 21v2M106 11v1M106 14v1M106 16v1M106 18v1M106 31v1M107 5v1M107 13v2M107 17v2M107 21v1M108 7v1M108 13v1M108 20v1M108 22v1M109 0v1M109 4v1M109 9v2M109 18v1M109 22v1M109 24v1M109 26v1M110 3v1M110 8v1M110 10v1M110 12v1M110 20v1M110 22v2M110 27v2M111 3v1M111 10v1M111 16v2M111 21v1M111 25v1M112 0v1M112 13v1M112 18v1M113 2v1M113 5v1M113 7v1M113 10v1M113 13v1M113 20v1M113 27v1M114 7v1M114 15v3M114 19v1M114 21v1M114 24v1M114 32v1M115 7v1M115 11v1M115 14v2M116 1v1M116 3v1M116 5v1M116 18v1M116 25v1M116 28v1M117 3v2M117 13v1M117 19v1M118 1v2M118 7v2M118 17v2M118 26v1M118 30v1M119 6v1M119 9v1M119 16v2M119 25v2M120 8v1M120 11v1M120 14v1M120 16v1M120 20v1M120 22v1M120 26v1M120 28v1M121 2v1M121 5v1M121 9v1M121 12v1M121 18v1M121 25v1M122 4v3M122 10v2M122 13v1M122 15v2M122 27v2M123 1v1M123 6v1M123 12v1M123 22v1M123 24v1M124 11v1M124 15v1M125 3v2M125 6v1M126 0v1M126 4v2M126 9v1M127 6v1M127 8v1M128 1v1M128 4v1M129 1v2M129 7v1M130 0v1M131 4v1M131 6v1M132 0v1M132 6v1M136 4v1M137 2v1M137 6v1M139 1v1M139 4v1M140 0v1M140 5v1M143 1v1M145 0v1M147 1v1M148 0v2M149 0v1M149 6v1M149 8v1M150 1v1M150 6v1M152 4v1M152 11v1M155 0v1M157 3v1M157 6v1M158 6v1M159 11v1M160 0v1M162 0v1M162 8v1M163 2v1M163 8v1M164 4v1M165 0v1M165 9v1"/>
<path stroke="#3c78d8" stroke-opacity="0.5" d="M2 2v1M3 0v1M3 5v2M3 17v1M3 20v1M3 30v1M4 0v2M4 10v3M4 21v1M4 23v2M4 28v1M5 3v1M5 13v2M5 18v1M6 0v1M6 2v1M6 9v1M6 16v1M7 7v1M7 14v1M7 22v1M8 5v1M10 6v1M11 3v1M11 5v1M11 10v1M11 19v1M11 23v1M11 25v1M12 14v2M12 21v1M13 1v1M13 23v1M13 25v1M14 5v3M14 26v1M17 1v1M18 32v1M19 5v1M21 2v1M21 32v1M22 3v1M24 0v1M25 0v1M26 6v1M26 34v1M27 1v1M27 4v1M28 3v1M29 4v1M31 5v1M32 3v1M33 0v1M33 4v1M34 34v1M35 3v1M37 0v1M38 7v1M39 0v1M40 4v1M41 7v1M42 4v1M44 35v1M47 0v1M48 0v2M48 33v1M49 5v1M53 3v2M53 34v1M55 2v1M55 4v1M56 7v1M57 3v1M57 10v2M58 0v1M58 2v1M58 7v1M58 10v1M59 2v2M60 7v1M60 10v3M61 0v1M61 6v1M61 8v1M63 3v1M63 10v1M63 20v1M64 6v2M64 19v1M65 5v1M65 20v1M66 0v1M66 15v2M66 22v1M66 25v1M67 9v1M67 11v2M67 20v2M68 4v1M68 11v1M68 13v1M68 15v1M68 21v1M68 28v1M68 30v1M69 2v1M69 5v2M69 11v2M69 21v1M69 24v1M70 23v1M71 5v1M71 26v1M72 4v1M72 15v1M72 29v1M73 1v1M73 9v1M73 20v1M74 5v1M74 11v1M74 14v1M74 16v1M74 27v1M75 4v1M75 8v1M75 12v1M75 22v1M75 25v1M75 32v1M76 1v1M76 7v1M76 13v1M77 1v1M77 11v1M77 34v1M78 1v1M78 5v1M78 7v1M78 13v1M78 18v1M79 19v1M79 21v1M79 25v1M79 27v1M79 30v1M80 3v3M80 16v1M80 20v1M81 2v1M81 5v1M81 11v1M81 16v2M81 30v1M82 4v1M82 16v1M82 18v1M83 3v2M83 10v1M83 13v1M83 15v1M83 24v1M84 3v2M84 9v2M84 14v1M84 17v1M84 20v1M84 24v1M84 27v1M85 0v1M85 12v1M85 14v2M85 23v1M85 31v1M86 15v1M86 19v1M86 21v2M86 27v1M87 0v1M87 3v1M87 5v1M87 24v1M87 26v1M87 30v1M87 34v1M88 11v1M88 17v2M88 26v1M89 1v1M89 8v1M89 14v1M89 19v1M89 22v1M89 28v1M89 32v1M90 8v1M90 13v1M90 27v1M90 31v1M91 0v1M91 23v1M91 30v1M92 4v2M92 15v1M92 18v1M93 0v1M93 3v1M93 14v1M93 19v1M93 21v1M93 23v1M94 4v2M94 25v1M94 29v2M95 2v1M95 8v1M95 22v1M96 4v1M96 8v1M96 11v1M96 15v1M96 25v1M97 5v1M97 15v2M97 29v1M98 15v1M98 18v2M98 29v1M99 9v1M99 18v1M99 22v1M99 25v1M100 0v1M100 18v1M100 21v1M100 24v1M100 30v1M101 6v1M101 12v1M101 17v1M101 21v1M101 27v1M102 2v1M102 11v1M102 14v1M102 16v1M102 24v1M102 28v2M102 32v1M103 14v1M103 16v1M103 25v1M104 7v1M104 9v2M104 12v1M104 22v1M105 11v1M105 14v1M105 20v1M106 6v2M106 9v1M106 23v1M107 1v2M107 16v1M107 26v2M108 1v1M108 4v1M108 8v2M108 16v1M108 19v1M109 5v1M109 11v1M109 21v1M109 28v1M109 30v1M110 17v1M110 24v1M110 31v1M111 6v1M111 8v1M111 19v1M111 24v1M111 28v1M112 5v1M112 14v1M113 18v1M113 24v2M114 1v2M114 6v1M115 2v1M115 4v1M115 12v1M115 16v1M115 18v1M115 24v2M115 28v1M116 6v1M116 8v1M116 14v1M116 17v1M116 20v1M116 26v2M116 31v1M117 2v1M117 9v2M118 4v1M118 6v1M118 10v1M118 20v1M118 23v1M118 28v1M119 1v1M119 8v1M119 10v1M119 19v3M119 23v1M119 28v1M119 30v1M120 1v1M120 5v1M120 12v2M120 17v1M120 23v1M120 27v1M121 13v1M122 12v1M123 2v1M123 20v1M124 0v5M124 9v1M125 2v1M125 7v1M125 13v1M126 1v1M127 1v1M127 4v1M128 2v1M128 5v1M129 4v2M131 8v1M133 5v1M133 8v2M135 1v1M135 10v1M136 1v1M137 1v1M138 10v1M140 1v1M140 9v1M141 1v1M141 10v1M142 3v1M142 7v1M142 9v2M143 7v1M144 10v1M146 0v1M146 2v1M146 4v1M147 3v1M147 5v1M148 2v2M149 10v1M150 5v1M151 1v1M151 6v1M153 0v1M153 2v2M153 7v1M154 7v1M155 4v1M155 7v1M156 0v1M157 1v1M158 8v1M159 8v2M160 3v1M160 7v1M161 6v1M163 7v1M165 1v1M165 7v1"/>
<path stroke="#ffd040" stroke-opacity="0.22" d="M0 6v1M0 39v1M3 33v1M7 32v1M9 14v1M10 38v1M11 31v1M15 32v1M15 36v1M16 9v1M16 38v1M17 27v1M18 11v1M19 30v1M21 26v1M22 36v1M23 39v1M24 12v1M24 27v1M26 29v1M26 32v1M27 29v1M27 31v1M27 38v1M28 8v1M29 27v1M32 30v1M34 8v1M34 39v1M36 31v1M38 27v1M38 30v1M39 9v1M39 36v1M41 37v1M42 36v1M42 38v1M45 12v1M45 32v1M45 36v1M46 9v1M46 27v1M46 29v1M49 28v1M51 27v1M54 10v1M54 31v1M55 17v2M55 21v1M55 25v1M57 33v1M58 34v1M59 33v1M60 25v1M60 39v1M61 29v1M62 25v1M63 35v1M63 37v1M64 36v1M65 31v1M66 32v1M66 38v1M67 32v1M71 33v1M71 36v1M74 37v1M75 37v1M82 34v1M87 36v1M89 38v1M95 37v1M96 38v1M101 37v1M103 34v1M105 34v1M107 37v1M115 36v1M121 35v1M122 31v1M122 33v1M124 22v1M126 13v1M129 14v1M132 16v1M133 15v1M134 15v1M139 12v1M142 14v1M143 13v1M143 17v1M144 14v1M146 12v1M146 15v1M148 12v1M149 38v1M150 36v1M151 15v1M151 33v1M151 36v1M152 16v1M153 18v1M154 33v1M154 38v1M156 33v1M157 16v1M158 19v1M161 33v1M161 36v2M162 33v1M163 13v1M163 31v1M164 32v1M164 34v1"/>
</g>
<g transform="translate(121.2 309.4) scale(1.5000 1.7300)" stroke-width="1.02" fill="none">
<path stroke="#080208" d="M172 24v1M172 26v1M173 24v1M173 26v1M174 24v1M174 26v1M175 24v1M175 26v1M176 24v1M176 26v1M177 24v1M177 26v1M178 24v1M178 26v1M179 24v1M179 26v1"/>
<path stroke="#180927" d="M172 34v1M173 34v1M174 34v1M175 34v1M176 34v1M177 34v1"/>
<path stroke="#371e78" d="M0 28v1M0 30v1M1 28v2M2 31v1M3 0v2M3 3v1M3 5v1M3 7v1M3 24v2M3 28v1M4 1v1M4 8v1M4 25v1M4 27v2M5 2v1M5 5v1M5 7v2M5 23v1M5 25v1M6 2v4M6 7v2M6 23v1M6 30v1M6 35v1M7 1v1M7 3v1M7 5v1M7 27v1M7 31v1M8 34v1M9 28v1M10 1v3M10 25v1M11 0v1M11 3v1M11 6v1M11 8v1M11 25v1M12 0v1M12 2v3M12 8v1M12 23v1M12 33v1M14 32v1M14 34v1M14 37v1M15 26v1M15 28v1M15 31v1M15 33v1M16 39v1M17 25v2M17 28v1M17 35v1M18 25v2M18 28v1M18 32v1M19 27v1M20 26v1M20 28v1M20 30v1M21 26v1M21 28v2M21 35v1M22 25v1M22 28v1M22 31v1M23 28v1M23 37v1M24 30v1M24 34v1M25 38v1M26 24v2M27 24v1M27 32v1M28 24v1M28 26v1M29 24v1M29 30v1M31 28v2M31 32v1M32 25v1M32 29v2M32 32v1M32 34v1M33 26v1M33 30v1M33 32v1M34 26v1M34 28v1M34 34v1M36 25v1M36 32v1M36 35v1M37 24v1M39 27v1M39 31v1M40 24v1M40 26v1M40 35v1M41 25v2M41 28v1M42 24v2M42 29v1M42 34v1M43 27v1M44 25v3M44 29v1M44 34v1M45 25v2M45 30v1M46 25v1M46 28v1M46 31v1M47 29v1M47 31v1M47 39v1M48 30v1M48 32v1M49 25v1M49 27v1M50 26v1M50 34v1M51 25v1M52 25v1M52 27v1M52 29v1M53 25v1M53 27v1M53 38v1M54 25v2M54 29v1M55 28v1M56 24v1M56 27v1M56 32v1M57 0v2M57 24v1M57 26v1M58 1v1M58 25v1M58 35v1M60 1v1M60 25v2M60 32v1M60 37v1M61 27v1M61 37v1M61 39v1M62 0v1M62 2v1M62 25v2M62 28v1M63 1v1M63 27v1M63 33v1M64 0v2M64 25v1M64 27v1M64 34v1M65 29v1M65 32v1M65 36v1M66 0v1M66 37v1M67 2v2M68 2v1M68 6v1M68 26v1M69 0v1M69 2v1M69 27v1M70 2v2M70 39v1M71 0v1M71 2v2M71 5v1M71 29v1M71 31v1M71 35v1M72 1v1M72 5v1M72 30v1M73 3v3M73 31v1M74 3v1M74 5v2M75 2v1M75 4v1M75 6v1M76 3v1M76 5v1M76 33v1M77 2v3M77 34v1M78 1v1M78 35v1M79 3v2M80 4v1M80 36v2M81 0v1M81 2v3M82 1v2M82 4v1M82 38v1M83 0v2M84 2v2M84 6v1M85 4v1M85 6v1M86 1v1M86 4v2M87 0v1M87 4v1M88 2v1M88 4v1M89 2v2M89 5v1M90 1v1M90 5v1M91 4v1M91 6v1M92 0v1M92 4v3M93 0v2M93 4v1M93 6v1M94 2v1M94 5v2M95 4v3M96 1v1M96 5v1M97 2v3M98 2v1M99 1v1M100 2v2M100 6v1M100 38v1M101 0v1M101 2v1M101 5v2M101 39v1M102 2v1M102 4v1M103 0v2M103 5v1M104 37v3M105 0v1M105 5v1M107 3v1M107 37v1M108 3v1M108 37v1M109 37v2M110 0v1M110 2v1M110 5v2M110 38v1M111 2v1M111 4v1M111 38v1M112 1v2M112 4v2M112 38v1M113 37v2M114 2v2M114 38v2M115 0v2M115 5v1M116 0v1M116 2v1M117 5v1M117 38v1M118 2v1M118 5v2M118 36v1M119 36v2M120 1v2M120 4v1M120 6v1M120 37v1M121 0v2M121 6v1M121 36v1M122 34v1M124 35v1M125 31v2M125 36v1M126 32v2M126 37v1M127 31v3M127 36v1M128 31v2M128 35v2M131 32v1M133 35v1M133 39v1M135 30v1M136 32v1M137 31v1M137 33v1M138 30v2M138 33v1M139 36v1M140 35v2M141 32v1M142 31v1M142 36v1M143 34v1M144 36v1M145 36v1M147 36v2M148 33v2M149 34v2M150 33v1M151 38v1M152 32v1M152 36v1M155 32v1M155 35v1M156 35v1M157 34v1M158 32v1M159 33v2M160 34v1M161 33v4M162 32v1M162 34v2M162 38v1M163 34v1M164 33v1M164 35v1M165 35v1M165 39v1M166 29v2M166 32v1M167 31v2M168 29v2M169 29v3M170 29v4M171 31v1M172 23v1M175 23v1M177 23v1M178 23v1"/>
<path stroke="#2948b2" d="M0 38v1M2 28v1M3 2v1M3 6v1M3 26v1M3 36v1M3 38v1M4 0v1M4 2v1M4 4v4M4 23v1M5 0v1M5 3v1M5 32v1M6 24v1M6 28v1M6 33v1M7 0v1M7 4v1M7 6v3M7 23v1M7 26v1M7 30v1M8 32v1M9 29v2M10 0v1M10 4v4M10 23v1M10 26v2M10 30v1M11 2v1M11 5v1M11 7v1M12 1v1M12 5v2M12 24v5M13 31v1M13 34v1M14 33v1M15 25v1M15 36v1M16 25v2M16 29v1M17 27v1M18 27v1M18 29v3M19 25v1M19 31v1M19 33v1M20 31v2M21 24v1M21 31v1M21 33v1M22 26v2M22 32v2M23 25v1M23 29v1M23 38v1M24 25v1M25 25v1M26 26v1M26 34v1M27 25v1M27 28v1M27 35v1M27 38v1M28 32v1M28 37v1M29 25v1M29 27v1M30 24v3M30 29v1M31 24v1M32 26v1M32 31v1M33 25v1M33 27v3M34 25v1M34 27v1M34 29v1M35 28v2M35 31v2M36 26v1M36 31v1M37 25v1M37 29v1M37 32v1M38 24v2M38 29v1M39 24v2M39 36v1M40 25v1M40 27v1M41 24v1M41 30v1M42 26v1M42 28v1M42 30v1M43 31v1M43 37v1M43 39v1M44 28v1M45 31v2M46 32v1M47 25v1M47 36v1M48 26v2M48 31v1M48 34v1M49 26v1M50 25v1M51 29v1M51 38v1M52 30v1M53 26v1M53 28v1M53 32v1M53 35v1M54 27v1M54 31v1M54 36v1M55 0v1M55 25v2M55 29v1M55 31v1M56 25v1M56 29v2M56 36v2M57 25v1M58 0v1M58 24v1M58 26v2M58 32v1M59 0v1M59 25v1M59 33v1M60 0v1M60 28v2M61 1v1M61 25v1M61 28v1M62 1v1M62 27v1M62 29v1M62 38v1M63 0v1M63 25v1M63 28v1M63 34v1M64 2v1M64 26v1M64 38v1M65 0v3M65 26v1M66 6v1M67 0v2M67 5v2M67 26v1M68 1v1M68 3v3M69 3v1M69 28v1M70 0v2M70 4v1M70 29v1M71 1v1M71 4v1M71 30v1M72 3v2M73 30v1M74 2v1M74 4v1M74 31v1M76 0v1M76 4v1M76 34v1M77 5v2M78 3v3M78 34v1M78 36v1M79 2v1M79 5v1M79 37v1M80 0v4M80 5v1M81 5v1M81 38v1M82 0v1M82 3v1M82 39v1M83 3v4M84 1v1M84 39v1M85 0v1M86 0v1M86 3v1M86 6v1M87 3v1M87 5v1M88 0v1M88 3v1M88 5v1M89 0v1M90 0v1M90 3v2M91 0v2M92 1v2M94 0v1M94 4v1M95 0v2M95 3v1M96 0v1M96 2v3M97 0v1M97 5v1M97 38v2M98 0v2M98 4v3M98 38v2M99 3v1M100 0v1M100 5v1M100 39v1M101 38v1M102 5v2M102 38v2M103 4v1M103 37v1M104 0v2M104 3v3M105 1v1M105 4v1M105 37v3M106 0v1M106 4v2M106 37v1M106 39v1M107 5v1M108 4v3M109 6v1M109 39v1M110 4v1M111 0v1M111 5v2M111 37v1M111 39v1M112 0v1M113 3v3M114 5v1M114 37v1M115 3v2M115 37v3M116 4v2M116 36v1M116 39v1M117 1v1M117 3v2M117 6v1M117 36v1M118 4v1M118 39v1M119 0v4M119 5v2M120 0v1M120 3v1M120 36v1M121 2v1M121 5v1M121 37v2M122 30v3M123 30v2M123 34v1M123 37v1M124 30v1M125 33v1M125 35v1M126 34v1M127 30v1M128 34v1M129 30v2M129 36v1M130 31v2M130 35v1M130 37v1M131 34v1M131 37v1M132 30v1M132 32v1M133 30v2M133 33v1M134 30v1M134 33v1M135 38v1M136 30v2M136 33v1M136 39v1M138 32v1M139 30v2M140 30v1M141 33v2M142 33v1M142 35v1M143 31v2M144 32v1M145 32v1M145 38v1M146 32v1M146 34v1M146 36v1M146 38v2M147 35v1M149 33v1M151 33v1M151 35v1M152 34v1M153 32v1M153 34v1M153 36v1M154 32v1M154 35v1M156 32v3M156 37v1M157 32v1M158 33v1M159 35v1M159 38v1M160 32v1M160 35v1M160 38v1M162 36v1M163 37v1M163 39v1M164 37v1M166 31v1M167 29v2M168 31v2M169 32v1M171 29v2M171 32v1M173 23v1M174 23v1M176 23v1M179 23v1"/>
<path stroke="#2064c5" d="M0 27v1M2 27v1M3 9v3M3 22v1M4 9v3M4 22v1M5 9v3M5 22v1M6 9v2M6 22v1M7 9v3M7 22v1M10 9v3M10 22v1M11 9v3M11 22v1M12 9v1M12 11v1M13 30v1M14 30v1M19 24v1M22 24v1M23 24v1M24 24v1M43 24v1M44 24v1M45 24v1M46 24v1M48 24v1M49 24v1M50 24v1M55 1v1M56 1v1M56 23v1M58 2v1M59 2v1M59 24v1M60 2v1M60 24v1M61 2v1M61 24v1M63 3v1M64 3v1M65 3v1M66 7v1M66 24v1M67 7v1M67 25v1M69 6v1M70 6v1M70 27v1M71 28v1M72 6v1M72 29v1M73 6v1M74 7v1M75 7v1M75 31v1M76 7v1M76 32v1M77 7v1M77 33v1M78 6v1M79 6v1M80 35v1M81 6v1M81 36v1M82 6v1M82 37v1M83 7v1M83 38v1M84 7v1M85 7v1M85 39v1M87 6v1M90 6v1M92 7v1M94 7v1M97 6v1M98 7v1M98 37v1M99 7v1M99 37v1M100 7v1M100 37v1M101 7v1M101 37v1M102 37v1M103 6v1M106 6v1M107 6v1M108 7v1M109 7v1M110 7v1M111 7v1M111 36v1M112 6v1M112 36v1M113 6v1M113 36v1M114 36v1M115 36v1M116 6v1M118 7v1M119 7v1M120 7v1M121 7v1M122 29v1M135 29v1M136 29v1M144 31v1M147 32v1M150 32v1M151 32v1M161 32v1M163 32v1M165 33v1M166 28v1M167 28v1M168 28v1M169 28v1M170 28v1M171 28v1"/>
<path stroke="#2178cd" d="M0 26v1M1 26v1M2 26v1M3 12v7M3 20v2M4 12v7M4 20v2M5 12v7M5 20v2M6 12v7M6 20v2M7 12v7M7 20v2M8 27v1M9 27v1M10 12v7M10 20v2M11 12v7M11 20v2M12 12v7M12 20v2M15 24v1M16 24v1M17 24v1M18 24v1M20 23v1M21 23v1M25 24v1M26 23v1M27 23v1M28 23v1M29 23v1M30 23v1M31 23v1M32 24v1M33 24v1M34 24v1M35 24v1M36 24v1M37 23v1M38 23v1M39 23v1M40 23v1M41 23v1M42 23v1M47 24v1M51 24v1M52 24v1M53 24v1M54 24v1M55 2v1M56 2v1M57 2v1M57 23v1M58 3v1M58 23v1M59 3v1M59 23v1M60 3v1M61 3v1M62 3v1M62 24v1M63 4v1M63 24v1M64 4v1M64 24v1M65 4v1M65 24v1M66 8v1M67 8v1M68 8v1M68 25v1M69 7v1M69 26v1M70 7v1M71 6v2M72 7v1M73 7v1M73 29v1M74 8v1M74 30v1M75 8v1M76 8v1M77 8v1M78 7v1M78 33v1M79 7v1M79 34v1M80 6v2M81 7v1M82 7v1M83 8v1M83 37v1M84 8v1M84 38v1M85 8v1M86 7v2M87 7v1M88 6v2M89 6v2M90 7v1M91 7v2M92 8v1M93 8v1M94 8v1M95 7v1M96 7v1M97 7v1M97 37v1M98 8v1M99 8v1M100 8v1M101 8v1M102 7v2M103 7v1M104 6v2M104 36v1M105 6v2M105 36v1M106 7v1M106 36v1M107 7v1M107 36v1M108 8v1M108 36v1M109 8v1M109 36v1M110 8v1M110 36v1M111 8v1M112 7v1M113 7v1M114 6v2M115 6v2M116 7v1M117 7v2M117 35v1M118 8v1M118 35v1M119 8v1M119 35v1M120 8v1M120 35v1M121 8v1M121 35v1M123 29v1M125 30v1M126 30v1M129 29v1M130 29v1M132 29v1M133 29v1M134 29v1M137 29v1M138 29v1M141 30v1M142 30v1M143 30v1M148 32v1M149 32v1M154 31v1M155 31v1M156 31v1M157 31v1M158 31v1M159 31v1M160 31v1"/>
<path stroke="#218bd6" d="M0 25v1M1 25v1M2 25v1M3 19v1M4 19v1M5 19v1M6 19v1M7 19v1M10 19v1M11 19v1M12 19v1M15 0v1M16 0v1M17 0v1M17 23v1M18 0v1M19 0v1M19 23v1M22 0v1M22 23v1M23 0v1M23 23v1M24 0v1M24 23v1M25 0v1M25 23v1M30 22v1M32 0v1M32 23v1M33 0v1M34 0v1M35 0v1M36 0v1M43 0v1M43 23v1M44 0v1M44 23v1M45 0v1M45 23v1M46 0v1M46 23v1M47 0v1M47 23v1M48 0v1M48 23v1M49 0v1M49 23v1M50 0v1M50 23v1M51 0v1M52 0v1M52 23v1M53 0v1M54 0v1M55 3v1M55 22v1M56 3v1M56 22v1M57 3v1M57 22v1M60 4v1M60 23v1M61 4v1M61 23v1M62 4v1M62 23v1M66 9v1M66 23v1M67 9v1M67 24v1M68 9v1M69 8v1M70 8v1M71 8v1M71 27v1M72 8v1M72 28v1M73 8v1M74 9v1M75 9v1M76 9v1M77 9v1M77 32v1M78 8v1M79 8v1M80 8v1M81 8v1M82 8v2M82 36v1M83 9v1M84 9v1M85 9v1M86 9v1M86 39v1M87 8v1M88 8v1M89 8v1M90 8v1M91 9v1M92 9v1M93 9v1M94 9v1M95 8v2M96 8v1M97 8v1M98 9v1M98 36v1M99 9v1M99 36v1M100 9v1M100 36v1M101 9v1M101 36v1M102 9v1M102 36v1M103 8v1M103 36v1M104 8v1M105 8v1M106 8v1M107 8v1M108 9v1M109 9v1M110 9v1M111 9v1M111 35v1M112 8v1M112 35v1M113 8v1M113 35v1M114 8v1M114 35v1M115 8v1M115 35v1M116 8v1M116 35v1M117 9v1M118 9v1M119 9v1M120 9v1M121 9v1M122 28v1M124 29v1M127 29v1M128 29v1M131 28v1M139 29v1M140 29v1M144 30v1M145 31v1M146 31v1M150 31v1M152 31v1M153 31v1M161 31v1M162 31v1M164 32v1M165 32v1M166 0v1M166 3v2M167 0v1M167 3v2M168 0v1M168 3v2M169 0v1M169 3v2M170 0v1M170 3v2M171 0v1M171 3v2"/>
<path stroke="#229fde" d="M13 29v1M14 29v1M15 1v1M15 23v1M16 1v1M16 23v1M17 1v1M18 1v1M18 23v1M19 1v1M19 22v1M20 0v1M20 22v1M21 0v1M21 22v1M22 1v1M23 1v1M23 22v1M24 1v1M25 1v1M26 0v2M26 22v1M27 0v1M27 22v1M28 0v2M28 22v1M29 0v1M29 22v1M30 0v1M31 0v1M31 22v1M32 1v1M33 1v1M33 23v1M34 1v1M34 23v1M35 1v1M35 23v1M36 1v1M36 23v1M37 0v1M37 22v1M38 0v1M38 22v1M39 0v1M39 22v1M40 0v1M40 22v1M41 0v1M41 22v1M42 0v1M42 22v1M43 1v1M43 22v1M44 1v1M45 1v1M46 1v1M47 1v1M48 1v1M49 1v1M50 1v1M51 1v1M51 23v1M52 1v1M53 1v1M53 23v1M54 1v1M54 23v1M58 4v1M58 22v1M59 4v1M59 22v1M63 23v1M64 5v1M64 23v1M65 5v1M66 10v1M67 10v1M68 10v1M69 9v2M70 9v1M70 26v1M71 9v1M72 9v1M73 9v2M74 10v1M75 10v2M75 30v1M76 10v1M76 31v1M77 10v1M78 9v1M79 9v1M80 9v1M80 34v1M81 9v1M81 35v1M82 10v1M83 10v1M84 10v2M85 10v1M85 38v1M86 10v1M87 9v1M88 9v1M89 9v1M90 9v1M90 39v1M91 10v1M91 39v1M92 10v1M92 39v1M93 10v2M93 39v1M94 10v1M94 39v1M95 10v1M95 39v1M96 9v1M96 39v1M97 9v1M97 36v1M98 10v1M99 10v1M100 10v2M101 10v1M102 10v1M103 9v1M104 9v1M104 35v1M105 9v1M105 35v1M106 9v1M106 35v1M107 9v2M107 35v1M108 10v1M108 35v1M109 10v1M109 35v1M110 10v1M110 35v1M111 10v1M112 9v2M113 9v1M114 9v1M115 9v1M116 9v1M117 10v1M117 34v1M118 10v1M118 34v1M119 10v2M119 34v1M120 10v1M120 34v1M121 10v1M121 34v1M123 28v1M125 29v1M126 29v1M129 28v1M132 28v1M133 28v1M135 28v1M136 28v1M137 28v1M138 28v1M142 29v1M143 29v1M147 31v1M148 31v1M149 31v1M151 31v1M155 30v1M156 30v1M157 30v1M159 30v1M163 31v1M166 1v1M167 1v1M168 1v1M169 1v1M170 1v1M171 1v1"/>
<path stroke="#25a7d0" d="M0 24v1M1 24v1M2 24v1M8 26v1M9 26v1M15 2v1M16 2v1M16 22v1M17 2v1M17 22v1M18 2v1M18 22v1M20 1v1M21 1v1M22 2v1M22 22v1M24 2v1M24 22v1M25 2v1M25 22v1M27 1v1M29 1v1M29 21v1M30 1v1M30 21v1M31 1v1M32 2v1M32 22v1M33 2v1M33 22v1M34 2v1M35 2v1M36 2v1M37 1v1M38 1v1M39 1v1M40 1v1M41 1v1M42 1v1M44 2v1M44 22v1M45 2v1M45 22v1M46 2v1M46 22v1M47 2v1M47 22v1M48 2v1M48 22v1M49 2v1M49 22v1M50 2v1M50 22v1M51 2v1M51 22v1M52 2v1M52 22v1M53 2v1M54 2v1M55 21v1M56 4v1M56 21v1M57 4v1M60 22v1M61 5v1M61 22v1M62 5v1M63 5v1M65 23v1M66 11v1M67 11v1M68 11v1M68 24v1M69 11v1M69 25v1M70 10v1M71 10v1M72 10v1M73 11v1M73 28v1M74 11v1M74 29v1M75 12v1M76 11v2M77 11v1M78 10v2M78 32v1M79 10v1M79 33v1M80 10v1M81 10v1M82 11v1M83 11v1M83 36v1M84 12v1M84 37v1M85 11v2M86 11v1M87 10v1M87 39v1M88 10v1M88 39v1M89 10v1M89 39v1M90 10v1M91 11v1M92 11v1M93 12v1M94 11v1M95 11v1M96 10v1M97 10v2M98 11v1M98 35v1M99 11v2M99 35v1M100 12v1M100 35v1M101 11v1M101 35v1M102 11v1M102 35v1M103 10v1M103 35v1M104 10v1M105 10v1M106 10v1M107 11v1M108 11v1M109 11v2M110 11v2M110 34v1M111 11v1M111 34v1M112 11v1M112 34v1M113 10v1M113 34v1M114 10v1M114 34v1M115 10v1M115 34v1M116 10v1M116 34v1M117 11v1M118 11v1M119 12v1M120 11v2M121 11v1M124 28v1M127 28v1M130 28v1M134 28v1M139 28v1M140 28v1M141 29v1M145 30v1M146 30v1M152 30v1M153 30v1M154 30v1M158 30v1M160 30v1M161 30v1M162 30v1M164 31v1M166 2v1M166 5v1M166 27v1M167 2v1M167 5v1M167 27v1M168 2v1M168 5v1M168 27v1M169 2v1M169 5v1M169 27v1M170 2v1M170 5v1M170 27v1M171 2v1M171 5v1M171 27v1"/>
<path stroke="#29aabb" d="M0 23v1M1 23v1M2 23v1M15 3v1M15 22v1M16 3v1M17 3v1M18 3v1M19 2v1M19 21v1M20 2v1M20 21v1M21 2v1M21 21v1M22 21v1M23 2v1M23 21v1M24 21v1M25 3v1M26 2v1M26 21v1M27 2v1M27 21v1M28 2v1M28 21v1M29 2v1M30 2v1M31 2v1M31 21v1M32 3v1M33 3v1M34 3v1M34 22v1M35 3v1M35 22v1M36 3v1M36 22v1M37 2v1M37 21v1M38 2v1M38 21v1M39 2v1M39 21v1M40 2v1M40 21v1M41 2v1M41 21v1M42 2v1M42 21v1M43 2v1M43 21v1M44 21v1M47 3v1M48 3v1M50 21v1M51 3v1M52 3v1M53 3v1M53 22v1M54 3v1M54 22v1M55 4v1M57 21v1M58 21v1M59 5v1M60 5v1M62 22v1M63 22v1M64 22v1M65 6v1M66 22v1M67 12v1M67 23v1M68 12v2M69 12v1M70 11v1M71 11v1M71 26v1M72 11v1M72 27v1M73 12v1M74 12v6M75 13v6M76 13v7M77 12v9M77 31v1M78 12v1M79 11v1M80 11v1M81 11v1M82 12v13M82 35v1M83 12v14M84 13v14M85 13v14M86 12v16M86 38v1M87 11v2M88 11v1M89 11v1M90 11v1M91 12v17M92 12v17M93 13v17M93 38v1M94 12v18M94 38v1M95 12v18M95 38v1M96 11v1M96 38v1M97 12v1M97 35v1M98 12v4M99 13v3M100 13v3M101 12v4M102 12v6M103 11v2M104 11v1M104 34v1M105 11v1M105 34v1M106 11v1M106 34v1M107 12v4M107 34v1M108 12v4M108 34v1M109 13v3M109 34v1M110 13v3M111 12v4M112 12v3M113 11v1M114 11v1M115 11v1M116 11v2M116 33v1M117 12v4M117 33v1M118 12v3M118 33v1M119 13v2M119 33v1M120 13v1M120 33v1M121 12v2M121 33v1M122 27v1M123 27v1M125 28v1M128 28v1M131 27v1M133 27v1M135 27v1M136 27v1M137 27v1M144 29v1M147 30v1M148 30v1M149 30v1M150 30v1M151 30v1M156 29v1M157 29v1M159 29v1M163 30v1M165 31v1M172 22v1M173 22v1M174 22v1M175 22v1M176 22v1M177 22v1M178 22v1M179 22v1"/>
<path stroke="#2dada6" d="M0 22v1M1 22v1M2 22v1M8 0v1M9 0v1M13 0v3M13 28v1M14 0v3M14 28v1M15 4v1M15 21v1M16 21v1M17 21v1M18 21v1M19 3v1M20 3v1M21 3v1M22 3v1M23 3v1M24 3v1M25 21v1M26 3v1M27 3v1M28 3v1M29 20v1M30 20v1M31 3v1M32 21v1M33 21v1M34 4v1M35 4v1M36 21v1M37 3v1M38 3v1M39 3v1M40 3v1M41 3v1M42 3v1M43 3v1M44 3v1M45 3v1M45 21v1M46 3v1M46 21v1M47 21v1M48 21v1M49 3v1M49 21v1M50 3v1M51 21v1M52 21v1M53 4v1M53 21v1M54 4v1M55 20v1M57 5v1M58 5v1M59 21v1M60 21v1M61 21v1M62 6v1M63 6v1M64 6v1M65 22v1M69 13v2M69 24v1M70 12v3M70 25v1M71 12v4M72 12v5M73 13v5M74 18v1M75 19v1M75 29v1M76 30v1M78 13v9M79 12v11M80 12v12M80 33v1M81 12v12M81 34v1M85 27v1M85 37v1M86 28v1M87 13v16M88 12v18M88 38v1M89 12v18M89 38v1M90 12v18M90 38v1M91 29v1M91 38v1M92 29v1M92 38v1M96 12v18M97 13v5M98 34v1M99 34v1M100 34v1M101 16v1M101 34v1M102 34v1M103 13v5M103 34v1M104 12v4M105 12v4M106 12v4M110 33v1M111 33v1M112 33v1M113 12v3M113 33v1M114 12v3M114 33v1M115 12v3M115 33v1M116 13v3M124 27v1M125 0v1M126 0v1M126 28v1M127 27v1M128 0v1M129 27v1M130 27v1M132 27v1M134 27v1M138 27v1M139 27v1M140 0v1M141 0v1M141 28v1M142 0v1M142 28v1M143 0v1M143 28v1M144 0v2M145 0v2M145 29v1M146 0v2M146 29v1M147 0v3M148 0v3M149 0v3M150 0v3M151 0v3M152 0v3M153 0v2M153 29v1M154 0v2M154 29v1M155 0v2M155 29v1M156 0v2M157 0v2M158 0v2M158 29v1M159 0v2M160 0v2M160 29v1M161 0v3M162 0v3M163 0v3M164 0v3M164 30v1M165 0v4M166 6v1M167 6v1M168 6v1M169 6v1M170 6v1M171 6v1M172 0v1M172 21v1M173 0v1M173 21v1M174 0v1M174 21v1M175 0v1M175 21v1M176 0v1M176 21v1M177 0v1M177 21v1M178 0v1M178 21v1M179 0v1M179 21v1"/>
<path stroke="#32b091" d="M0 21v1M1 21v1M2 21v1M8 1v1M8 25v1M9 1v1M9 25v1M13 3v1M14 3v1M16 4v1M17 4v1M18 4v1M19 20v1M20 20v1M21 20v1M22 4v1M22 20v1M23 4v1M23 20v1M24 4v1M24 20v1M25 4v1M26 20v1M27 20v1M28 20v1M29 3v1M30 3v1M31 20v1M32 4v1M33 4v1M34 21v1M35 21v1M36 4v1M37 20v1M38 20v1M39 20v1M40 20v1M41 20v1M42 20v1M43 4v1M43 20v1M44 4v1M44 20v1M45 4v1M45 20v1M46 4v1M46 20v1M47 4v1M48 4v1M49 4v1M49 20v1M50 4v1M50 20v1M51 4v1M52 4v1M54 21v1M55 5v1M56 5v1M56 20v1M57 20v1M58 20v1M60 6v1M61 6v1M62 21v1M63 21v1M66 12v1M68 23v1M70 15v1M71 16v1M73 27v1M74 28v1M76 20v1M77 21v1M78 31v1M79 32v1M81 24v1M82 25v1M83 35v1M84 36v1M87 29v1M87 38v1M97 34v1M104 16v1M104 33v1M105 33v1M106 16v1M106 33v1M107 16v1M107 33v1M108 33v1M109 16v1M109 33v1M110 16v1M116 32v1M117 32v1M118 15v1M118 32v1M119 32v1M120 32v1M121 32v1M122 0v1M122 26v1M123 0v1M124 0v2M125 1v1M126 1v1M127 0v2M128 1v1M128 27v1M129 0v2M130 0v2M131 0v1M131 26v1M132 0v2M133 0v1M134 0v2M135 0v1M135 26v1M136 0v1M136 26v1M137 0v1M137 26v1M138 0v2M139 0v2M140 1v1M140 27v1M141 1v2M142 1v2M143 1v2M144 2v1M144 28v1M145 2v2M146 2v2M147 3v1M147 29v1M148 3v1M149 3v1M150 3v1M150 29v1M151 3v1M151 29v1M152 3v1M152 29v1M153 2v2M154 2v2M155 2v2M156 2v1M156 28v1M157 2v1M158 2v2M159 2v1M160 2v2M161 3v1M161 29v1M162 3v1M162 29v1M163 3v1M163 29v1M164 3v2M165 4v1M165 30v1M166 26v1M167 26v1M168 26v1M169 26v1M170 26v1M171 26v1M172 1v1M173 1v1M174 1v1M175 1v1M176 1v1M177 1v1M178 1v1M179 1v1"/>
<path stroke="#38af7c" d="M8 2v1M9 2v1M13 4v1M14 4v1M15 5v1M15 20v1M16 5v1M16 20v1M17 5v1M17 20v1M18 5v1M18 20v1M19 4v1M20 4v1M20 19v1M21 4v1M25 5v1M25 20v1M26 4v1M27 4v1M27 19v1M28 4v1M29 4v1M29 19v1M30 4v1M30 19v1M31 4v1M31 19v1M32 5v1M32 20v1M33 5v1M33 20v1M34 5v1M35 5v1M35 20v1M36 5v1M36 20v1M37 4v1M38 4v1M38 19v1M39 4v1M40 4v1M41 4v1M42 4v1M45 5v1M46 5v1M47 5v1M47 20v1M48 5v1M48 20v1M49 5v1M50 5v1M51 5v1M51 20v1M52 5v1M52 20v1M53 5v1M53 20v1M54 5v1M54 20v1M55 19v1M57 6v1M58 6v1M59 6v1M59 20v1M60 20v1M61 20v1M63 7v1M64 7v1M64 21v1M65 7v1M65 21v1M66 21v1M67 13v1M67 22v1M68 14v1M71 25v1M72 17v1M72 26v1M73 18v1M76 29v1M77 30v1M78 22v1M79 23v1M81 33v1M82 34v1M83 26v1M84 27v1M85 28v1M85 36v1M86 29v1M86 37v1M89 30v1M89 37v1M90 30v1M90 37v1M91 30v1M91 37v1M92 30v1M92 37v1M93 30v1M93 37v1M94 30v1M94 37v1M95 30v1M95 37v1M96 30v1M96 37v1M97 33v1M98 16v1M98 33v1M99 33v1M100 33v1M101 33v1M102 33v1M103 33v1M110 32v1M111 32v1M112 15v1M112 32v1M113 32v1M114 32v1M115 15v1M115 32v1M120 14v1M121 14v1M122 1v1M123 1v2M123 26v1M124 2v1M124 26v1M125 2v2M125 27v1M126 2v2M126 27v1M127 2v1M128 2v1M129 2v1M129 26v1M130 2v1M130 26v1M131 1v1M132 2v1M132 26v1M133 1v2M133 26v1M134 2v1M134 26v1M135 1v1M136 1v1M137 1v2M138 2v1M138 26v1M139 2v1M139 26v1M140 2v1M141 3v1M141 27v1M142 3v1M142 27v1M143 3v1M143 27v1M144 3v1M145 4v1M145 28v1M146 4v1M147 4v1M148 4v2M148 29v1M149 4v2M149 29v1M150 4v1M151 4v1M152 4v1M153 4v1M153 28v1M154 4v1M154 28v1M155 4v1M155 28v1M156 3v2M157 3v2M157 28v1M158 4v1M158 28v1M159 3v2M159 28v1M160 4v1M160 28v1M161 4v1M162 4v1M163 4v1M164 5v1M165 5v1M166 7v1M167 7v1M168 7v1M169 7v1M170 7v1M171 7v1M172 20v1M173 20v1M174 20v1M175 20v1M176 20v1M177 20v1M178 20v1M179 20v1"/>
<path stroke="#3fad67" d="M0 20v1M1 20v1M2 20v1M8 3v1M9 3v1M13 5v1M13 27v1M14 5v1M14 27v1M15 6v1M19 5v1M19 19v1M20 5v1M21 5v1M21 19v1M22 5v1M22 19v1M23 5v1M23 19v1M24 5v1M24 19v1M26 5v1M26 19v1M27 5v1M28 5v1M28 19v1M30 18v1M31 5v1M34 6v1M34 20v1M35 6v1M37 5v1M37 19v1M38 5v1M39 5v1M39 19v1M40 5v1M40 19v1M41 5v1M41 19v1M42 5v1M42 19v1M43 5v1M43 19v1M44 5v1M44 19v1M45 19v1M46 19v1M47 6v1M48 6v1M48 19v1M49 19v1M50 19v1M51 6v1M52 6v1M52 19v1M53 6v1M54 6v1M55 6v1M56 6v1M56 19v1M57 19v1M58 19v1M60 7v1M61 7v1M62 7v1M62 20v1M63 20v1M65 8v1M69 15v1M69 23v1M70 16v1M70 24v1M74 19v1M74 27v1M75 20v1M75 28v1M76 21v1M79 31v1M80 24v1M80 32v1M81 25v1M84 35v1M87 30v1M87 37v1M88 30v1M88 37v1M92 31v1M92 36v1M93 31v1M93 36v1M94 31v1M94 36v1M95 31v1M95 36v1M96 31v1M96 36v1M97 18v1M100 16v1M102 18v1M103 18v1M103 32v1M104 32v1M105 32v1M106 32v1M107 32v1M108 32v1M109 32v1M116 31v1M117 31v1M118 31v1M119 31v1M120 31v1M121 31v1M122 2v1M122 25v1M123 3v1M124 3v1M125 4v1M126 4v1M127 3v1M127 26v1M128 3v2M128 26v1M129 3v1M130 3v1M131 2v1M131 25v1M132 3v1M133 3v1M134 3v1M135 2v2M136 2v2M136 25v1M137 3v1M138 3v1M139 3v1M140 3v1M140 26v1M141 4v1M142 4v1M143 4v1M144 4v1M144 27v1M145 5v1M146 5v1M146 28v1M147 5v2M147 28v1M148 6v1M149 6v1M150 5v2M150 28v1M151 5v2M151 28v1M152 5v1M152 28v1M153 5v1M154 5v1M155 5v1M156 5v1M157 5v1M158 5v1M159 5v1M160 5v1M161 5v1M161 28v1M162 5v1M162 28v1M163 5v2M163 28v1M164 6v1M164 29v1M165 6v1M165 29v1M172 2v1M173 2v1M174 2v1M175 2v1M176 2v1M177 2v1M178 2v1M179 2v1"/>
<path stroke="#46ac52" d="M8 4v1M8 24v1M9 4v1M9 24v1M13 6v1M14 6v1M15 19v1M16 6v1M16 19v1M17 6v1M17 19v1M18 6v1M18 19v1M20 18v1M21 18v1M22 6v1M24 6v1M25 6v1M25 19v1M26 18v1M27 18v1M28 18v1M29 5v1M29 18v1M30 5v1M31 18v1M32 6v1M32 19v1M33 6v1M33 19v1M34 19v1M35 19v1M36 6v1M36 19v1M37 18v1M38 18v1M39 18v1M40 18v1M41 18v1M42 18v1M43 6v1M43 18v1M44 6v1M45 6v1M46 6v1M47 7v1M47 19v1M49 6v1M50 6v1M51 7v1M51 19v1M52 7v1M53 7v1M53 19v1M54 7v1M54 19v1M55 18v1M56 7v1M57 7v1M58 7v1M59 7v1M59 19v1M60 19v1M61 19v1M62 8v1M63 8v1M64 8v1M64 20v1M65 20v1M66 13v1M66 20v1M67 14v1M67 21v1M68 22v1M71 17v1M71 24v1M72 18v1M72 25v1M73 19v1M73 26v1M77 22v1M77 29v1M78 23v1M78 30v1M82 26v1M82 33v1M83 27v1M83 34v1M84 28v1M85 29v1M85 35v1M86 30v1M86 36v1M88 31v1M88 36v1M89 31v1M89 36v1M90 31v1M90 36v1M91 31v1M91 36v1M92 32v1M92 35v1M93 32v1M93 35v1M94 32v1M94 35v1M95 32v1M95 35v1M96 32v1M96 35v1M97 32v1M98 32v1M99 16v1M99 32v1M100 32v1M101 32v1M102 32v1M108 16v1M109 31v1M110 31v1M111 16v1M111 31v1M112 31v1M113 31v1M114 15v1M114 31v1M115 31v1M122 3v2M123 4v1M123 25v1M124 4v1M125 5v1M125 26v1M126 5v1M126 26v1M127 4v1M128 5v1M129 4v1M129 25v1M130 4v1M130 25v1M131 3v2M132 4v1M132 25v1M133 4v1M133 25v1M134 4v1M134 25v1M135 4v1M135 25v1M136 4v1M137 4v1M137 25v1M138 4v1M138 25v1M139 4v1M140 4v1M141 5v1M141 26v1M142 5v1M143 5v1M144 5v2M145 6v1M146 6v1M147 7v1M148 7v1M148 28v1M149 7v1M149 28v1M150 7v1M151 7v1M152 6v2M153 6v1M154 6v1M154 27v1M155 6v1M155 27v1M156 6v1M156 27v1M157 6v1M157 27v1M158 6v1M159 6v1M159 27v1M160 6v1M161 6v2M162 6v2M163 7v1M164 7v1M165 7v2M166 8v2M166 25v1M167 8v2M167 25v1M168 8v2M168 25v1M169 8v2M169 25v1M170 8v2M170 25v1M171 8v2M171 25v1M172 3v1M172 19v1M173 3v1M173 19v1M174 3v1M174 19v1M175 3v1M175 19v1M176 3v1M176 19v1M177 3v1M177 19v1M178 3v1M178 19v1M179 3v1M179 19v1"/>
<path stroke="#58b147" d="M0 19v1M1 19v1M2 19v1M8 5v1M9 5v1M13 7v1M14 7v1M15 7v1M16 7v1M17 7v1M17 18v1M18 7v1M19 6v1M19 18v1M20 6v1M21 6v1M22 18v1M23 6v1M23 18v1M24 18v1M25 7v1M25 18v1M26 6v1M27 6v1M28 6v1M29 6v1M30 6v1M30 17v1M31 6v1M32 7v1M32 18v1M33 7v1M34 7v1M35 7v1M36 7v1M37 6v1M38 6v1M39 6v1M40 6v1M41 6v1M42 6v1M44 7v1M44 18v1M45 7v1M45 18v1M46 7v1M46 18v1M47 18v1M48 7v1M48 18v1M49 7v1M49 18v1M50 7v1M50 18v1M51 18v1M52 18v1M53 8v1M54 8v1M55 7v1M56 18v1M57 18v1M58 18v1M59 8v1M60 8v1M61 8v1M62 19v1M63 19v1M64 9v1M64 19v1M65 9v1M68 15v1M68 21v1M69 16v1M69 22v1M70 17v1M70 23v1M74 20v1M74 26v1M75 21v1M75 27v1M76 22v1M76 28v1M79 24v1M79 30v1M80 25v1M80 31v1M81 26v1M81 32v1M84 34v1M86 35v1M87 31v1M87 36v1M88 32v1M88 35v1M89 32v1M89 35v1M90 32v4M91 32v4M92 33v2M93 33v2M94 33v2M95 33v2M96 33v2M103 31v1M104 31v1M105 16v1M105 31v1M106 17v1M106 31v1M107 17v1M107 31v1M108 31v1M113 15v1M115 30v1M116 16v1M116 30v1M117 16v1M117 30v1M118 30v1M119 15v1M119 30v1M120 30v1M121 30v1M122 24v1M123 5v1M124 5v1M124 25v1M125 6v1M126 6v1M127 5v1M127 25v1M129 5v1M130 5v1M131 24v1M132 5v1M133 5v1M134 5v1M135 5v1M136 5v1M137 5v1M138 5v1M139 5v1M139 25v1M140 5v1M140 25v1M141 6v1M142 6v1M142 26v1M143 6v1M143 26v1M144 26v1M145 7v1M145 27v1M146 7v1M146 27v1M148 8v1M149 8v1M151 8v1M152 27v1M153 7v1M153 27v1M154 7v1M155 7v1M156 7v1M157 7v1M158 7v1M158 27v1M159 7v1M160 7v1M160 27v1M161 27v1M162 27v1M163 8v1M164 8v1M164 28v1M165 28v1M166 10v1M167 10v1M168 10v1M169 10v1M170 10v1M171 10v1M172 4v1M173 4v1M174 4v1M175 4v1M176 4v1M177 4v1M178 4v1M179 4v1"/>
<path stroke="#6db841" d="M8 6v1M9 6v1M13 8v1M14 8v1M15 18v1M16 18v1M18 18v1M19 7v1M19 17v1M20 17v1M21 7v1M21 17v1M22 7v1M23 7v1M23 17v1M24 7v1M26 7v1M26 17v1M27 17v1M28 7v1M28 17v1M29 17v1M31 17v1M33 18v1M34 8v1M34 18v1M35 18v1M36 18v1M37 7v1M37 17v1M38 17v1M39 7v1M39 17v1M40 7v1M40 17v1M41 7v1M41 17v1M42 7v1M42 17v1M43 7v1M43 17v1M44 17v1M45 17v1M46 8v1M46 17v1M47 8v1M48 8v1M48 17v1M49 8v1M49 17v1M50 8v1M50 17v1M51 8v1M52 8v1M53 18v1M54 9v1M54 18v1M55 17v1M56 8v1M56 17v1M57 8v1M57 17v1M58 8v1M59 18v1M60 18v1M61 9v1M61 18v1M62 9v1M62 18v1M63 9v1M65 19v1M66 14v1M66 19v1M67 15v1M67 20v1M68 16v1M69 17v1M70 22v1M71 18v1M71 23v1M72 19v1M72 24v1M73 20v1M73 25v1M74 21v1M75 26v1M76 27v1M77 23v1M77 28v1M78 24v1M78 29v1M79 25v1M80 26v1M80 30v1M81 31v1M82 27v1M82 32v1M83 28v1M83 33v1M84 29v1M84 33v1M85 30v1M85 34v1M86 31v4M87 32v4M88 33v2M89 33v2M97 31v1M98 31v1M99 31v1M100 31v1M101 17v1M101 31v1M102 31v1M109 30v1M110 30v1M111 30v1M112 30v1M113 30v1M114 30v1M121 29v1M122 5v1M123 24v1M124 6v1M125 25v1M126 25v1M127 6v1M128 6v1M128 25v1M129 6v1M130 6v1M131 5v1M132 6v1M133 24v1M134 6v1M135 24v1M136 24v1M137 24v1M138 6v1M139 6v1M140 6v1M141 7v1M142 7v1M143 7v1M144 7v1M145 8v1M146 8v1M147 8v1M147 27v1M148 27v1M149 27v1M150 8v1M150 27v1M151 27v1M152 8v1M153 8v1M154 8v1M155 8v1M156 26v1M157 26v1M158 8v1M159 26v1M160 8v1M161 8v1M162 8v1M163 27v1M164 9v1M165 9v1M166 11v3M166 24v1M167 11v3M167 24v1M168 11v3M168 24v1M169 11v3M169 24v1M170 11v3M170 24v1M171 11v3M171 24v1M172 5v1M172 18v1M173 5v1M173 18v1M174 5v1M174 18v1M175 5v1M175 18v1M176 5v1M176 18v1M177 5v1M177 18v1M178 5v1M178 18v1M179 5v1M179 18v1"/>
<path stroke="#83c03a" d="M8 7v1M8 23v1M9 7v1M9 23v1M13 9v1M13 26v1M14 9v1M14 26v1M15 8v1M16 8v1M16 17v1M17 8v1M17 17v1M18 8v1M18 17v1M20 7v1M22 17v1M24 17v1M25 8v1M25 17v1M27 7v1M29 7v1M29 16v1M30 7v1M30 16v1M31 7v1M32 8v1M32 17v1M33 8v1M33 17v1M35 8v1M36 8v1M36 17v1M38 7v1M44 8v1M45 8v1M47 9v1M47 17v1M48 9v1M49 16v1M50 16v1M51 9v1M51 17v1M52 9v1M52 17v1M53 9v1M53 17v1M54 17v1M55 8v1M55 16v1M56 16v1M58 9v1M58 17v1M59 9v1M59 17v1M60 9v1M60 17v1M61 17v1M62 17v1M63 18v1M64 10v1M64 18v1M65 10v1M65 18v1M66 15v4M67 16v4M68 17v4M69 18v4M70 18v4M71 19v4M72 20v4M73 21v4M74 22v4M75 22v4M76 23v4M77 24v4M78 25v4M79 26v4M80 27v3M81 27v4M82 28v4M83 29v4M84 30v3M85 31v3M97 19v1M102 19v1M103 19v1M103 30v1M104 17v1M104 30v1M105 30v1M106 30v1M107 30v1M108 30v1M110 17v1M115 29v1M116 29v1M117 29v1M118 16v1M118 29v1M119 29v1M120 29v1M122 6v1M123 6v1M124 24v1M125 7v1M126 7v1M127 7v1M127 24v1M128 7v1M129 24v1M130 24v1M131 6v1M132 24v1M133 6v1M134 24v1M135 6v1M136 6v1M137 6v1M138 24v1M139 24v1M140 7v1M140 24v1M144 8v1M145 26v1M146 9v1M146 26v1M147 9v1M148 9v1M149 9v1M150 9v1M151 9v1M152 9v1M152 26v1M153 26v1M154 26v1M155 26v1M156 8v1M157 8v1M158 26v1M159 8v1M160 26v1M161 9v1M162 9v1M162 26v1M163 9v1M164 10v1M164 27v1M165 10v1M166 14v2M167 14v2M168 14v2M169 14v2M170 14v2M171 14v2M172 6v1M173 6v1M174 6v1M175 6v1M176 6v1M177 6v1M178 6v1M179 6v1"/>
<path stroke="#98c733" d="M0 18v1M1 18v1M2 18v1M8 8v1M9 8v1M13 10v1M14 10v1M15 17v1M19 8v1M19 16v1M20 16v1M21 16v1M22 8v1M22 16v1M23 8v1M23 16v1M24 8v1M24 16v1M26 8v1M26 16v1M27 16v1M28 16v1M31 16v1M34 17v1M35 17v1M37 16v1M38 16v1M39 16v1M40 8v1M40 16v1M41 8v1M41 16v1M42 8v1M42 16v1M43 8v1M43 16v1M44 16v1M45 9v1M45 16v1M46 9v1M46 16v1M47 16v1M48 16v1M49 9v1M50 9v1M51 16v1M52 16v1M53 10v1M53 16v1M54 10v1M55 9v1M55 15v1M56 9v1M56 15v1M57 9v1M57 16v1M58 16v1M59 16v1M60 10v1M60 16v1M61 10v1M61 16v1M62 10v1M63 10v1M63 17v1M64 17v1M65 17v1M97 30v1M98 17v1M98 30v1M99 30v1M100 30v1M101 30v1M102 30v1M106 18v1M107 18v1M109 17v1M109 29v1M110 29v1M111 29v1M112 16v1M112 29v1M113 29v1M114 29v1M115 16v1M120 15v1M121 15v1M121 28v1M122 23v1M123 7v1M123 23v1M124 7v1M125 8v1M125 24v1M126 8v1M126 24v1M128 24v1M129 7v1M130 7v1M131 23v1M132 7v1M133 7v1M133 23v1M134 7v1M135 7v1M135 23v1M136 23v1M137 7v1M137 23v1M138 7v1M139 7v1M141 8v1M142 8v1M143 8v1M145 9v1M147 26v1M148 10v1M148 26v1M149 10v1M149 26v1M150 26v1M151 26v1M153 9v1M154 9v1M155 9v1M156 9v1M156 25v1M157 9v1M157 25v1M158 9v1M159 9v1M159 25v1M160 9v1M161 26v1M163 26v1M165 27v1M166 16v3M166 23v1M167 16v3M167 23v1M168 16v3M168 23v1M169 16v3M169 23v1M170 16v3M170 23v1M171 16v3M171 23v1M172 17v1M173 17v1M174 17v1M175 17v1M176 17v1M177 17v1M178 17v1M179 17v1"/>
<path stroke="#b1cb2e" d="M0 0v1M1 0v1M2 0v1M8 9v1M9 9v1M13 11v1M14 11v1M15 9v1M15 16v1M16 9v1M16 16v1M17 16v1M18 9v1M18 16v1M20 8v1M20 15v1M21 8v1M25 16v1M27 8v1M28 8v1M29 8v1M29 15v1M30 15v1M31 8v1M32 9v1M32 16v1M33 9v1M33 16v1M34 9v1M35 9v1M35 16v1M36 9v1M36 16v1M37 8v1M38 8v1M39 8v1M41 15v1M42 15v1M43 15v1M44 9v1M44 15v1M45 15v1M46 15v1M47 10v1M47 15v1M48 15v1M49 14v2M50 14v2M51 10v1M51 15v1M52 10v1M52 15v1M53 15v1M54 15v2M55 10v5M56 10v5M57 10v6M58 10v6M59 10v6M60 11v5M61 11v5M62 11v6M63 11v6M64 11v6M65 11v6M99 17v1M100 17v1M102 29v1M103 29v1M104 29v1M105 29v1M106 29v1M107 29v1M108 29v1M115 28v1M116 28v1M117 28v1M118 28v1M119 28v1M120 28v1M122 7v1M124 23v1M127 23v1M128 8v1M129 23v1M130 23v1M131 7v1M132 23v1M134 23v1M136 7v1M138 23v1M139 23v1M140 8v1M140 23v1M144 9v1M145 25v1M146 25v1M147 10v1M150 10v1M151 10v1M152 10v1M152 25v1M153 25v1M154 25v1M155 25v1M158 25v1M160 25v1M161 10v1M161 25v1M162 10v1M162 25v1M163 10v1M164 26v1M165 11v1M166 19v1M167 19v1M168 19v1M169 19v1M170 19v1M171 19v1M172 7v1M172 16v1M173 7v1M173 16v1M174 7v1M174 16v1M175 7v1M175 16v1M176 7v1M176 16v1M177 7v1M177 16v1M178 7v1M178 16v1M179 7v1M179 16v1"/>
<path stroke="#cbcf29" d="M0 1v1M0 17v1M1 1v1M1 17v1M2 1v1M2 17v1M8 10v1M8 22v1M9 10v1M9 22v1M13 12v1M13 25v1M14 12v1M14 25v1M17 9v1M19 15v1M21 15v1M22 9v1M22 15v1M23 15v1M24 9v1M24 15v1M25 9v1M26 15v1M27 15v1M28 15v1M30 8v1M30 14v1M31 15v1M34 16v1M37 15v1M38 15v1M39 15v1M40 15v1M41 9v1M42 9v1M42 14v1M43 9v1M43 14v1M44 14v1M45 14v1M46 10v1M46 14v1M47 13v2M48 10v1M48 13v2M49 10v1M49 13v1M50 10v1M50 12v2M51 11v1M51 13v2M52 13v2M53 11v1M53 13v2M54 11v1M54 14v1M97 20v1M97 29v1M101 29v1M102 20v1M103 20v1M105 17v1M106 19v1M107 19v1M108 17v1M109 28v1M110 28v1M111 17v1M111 28v1M112 28v1M113 16v1M114 16v1M119 16v1M122 22v1M123 22v1M124 8v1M125 23v1M126 23v1M127 8v1M128 23v1M129 8v1M130 8v1M131 22v1M133 22v1M134 8v1M135 22v1M136 22v1M137 22v1M138 8v1M139 8v1M141 9v1M141 25v1M144 25v1M145 10v1M146 10v1M147 25v1M148 25v1M149 25v1M150 25v1M151 25v1M153 10v1M154 10v1M155 10v1M156 24v1M157 24v1M158 10v1M159 24v1M160 10v1M163 25v1M164 11v1M165 26v1M166 20v3M167 20v3M168 20v3M169 20v3M170 20v3M171 20v3"/>
<path stroke="#e4d324" d="M0 2v1M1 2v1M2 2v1M8 11v2M9 11v2M15 10v1M15 15v1M16 15v1M17 15v1M18 15v1M19 9v1M19 14v1M20 9v1M20 14v1M21 9v1M21 14v1M23 9v1M23 14v1M25 15v1M26 9v1M26 14v1M27 9v1M27 14v1M28 9v1M28 14v1M29 14v1M31 9v1M31 14v1M32 15v1M33 15v1M34 10v1M34 15v1M35 10v1M35 15v1M36 15v1M37 9v1M37 14v1M38 9v1M38 14v1M39 9v1M39 14v1M40 9v1M40 14v1M41 14v1M43 13v1M44 10v1M44 13v1M45 10v1M45 13v1M46 11v3M47 11v2M48 11v2M49 11v2M50 11v1M51 12v1M52 11v2M53 12v1M54 12v2M100 29v1M102 28v1M103 28v1M106 28v1M107 28v1M108 28v1M114 28v1M116 17v1M116 27v1M117 17v1M117 27v1M118 27v1M123 8v1M124 22v1M125 9v1M126 9v1M127 22v1M129 22v1M130 22v1M132 8v1M132 22v1M133 8v1M134 22v1M135 8v1M137 8v1M138 22v1M139 22v1M140 22v1M142 9v1M143 9v1M145 24v1M146 24v1M148 11v1M149 11v1M152 24v1M153 24v1M154 24v1M155 24v1M156 10v1M157 10v1M158 24v1M159 10v1M160 24v1M161 24v1M162 24v1M164 25v1M172 8v1M172 15v1M173 8v1M173 15v1M174 8v1M174 15v1M175 8v1M175 15v1M176 8v1M176 15v1M177 8v1M177 15v1M178 8v1M178 15v1M179 8v1M179 15v1"/>
<path stroke="#edc121" d="M0 3v1M1 3v1M2 3v1M8 13v2M8 20v2M9 13v2M9 20v2M13 13v1M14 13v1M16 10v1M16 14v1M17 10v1M17 14v1M18 10v1M18 14v1M22 14v1M24 14v1M25 10v1M25 14v1M29 9v1M29 13v1M30 9v1M30 13v1M32 10v1M32 14v1M33 10v1M33 14v1M36 10v1M36 14v1M40 13v1M41 13v1M42 12v2M43 10v1M43 12v1M44 11v2M45 11v2M97 21v2M97 28v1M98 29v1M99 29v1M101 18v1M102 21v2M103 21v2M104 28v1M106 20v2M107 20v2M110 27v1M113 28v1M119 27v1M122 8v1M122 21v1M123 21v1M125 22v1M126 22v1M128 9v1M128 22v1M131 8v1M131 21v1M133 21v1M135 21v1M136 8v1M136 21v1M137 21v1M140 9v1M142 25v1M143 25v1M144 10v1M147 11v1M147 24v1M148 24v1M149 24v1M150 11v1M150 24v1M151 11v1M151 24v1M152 11v1M156 23v1M157 23v1M159 23v1M161 11v1M162 11v1M163 11v1M163 24v1M165 12v1M165 25v1M172 9v2M172 13v2M173 9v2M173 13v2M174 9v2M174 13v2M175 9v2M175 13v2M176 9v2M176 13v2M177 9v2M177 13v2M178 9v2M178 13v2M179 9v2M179 13v2"/>
<path stroke="#eea620" d="M0 4v1M0 16v1M1 4v1M1 16v1M2 4v1M2 16v1M8 15v5M9 15v5M13 14v1M13 24v1M14 14v1M14 24v1M15 14v1M16 13v1M17 13v1M18 13v1M19 13v1M20 13v1M21 13v1M22 10v1M22 13v1M23 13v1M24 10v1M24 13v1M25 13v1M26 13v1M27 13v1M28 13v1M29 12v1M30 12v1M31 13v1M32 13v1M33 13v1M34 14v1M35 14v1M36 13v1M37 13v1M38 13v1M39 13v1M40 10v1M40 12v1M41 10v1M41 12v1M42 10v2M43 11v1M97 23v1M98 18v1M101 28v1M102 23v1M102 27v1M103 27v1M104 18v1M105 28v1M106 22v1M106 27v1M107 22v1M107 27v1M109 18v1M109 27v1M110 18v1M112 17v1M115 17v1M115 27v1M118 17v1M120 16v1M120 27v1M121 16v1M121 27v1M124 9v1M124 21v1M127 9v1M127 21v1M129 21v1M130 9v1M130 21v1M132 21v1M134 9v1M134 21v1M138 21v1M139 9v1M139 21v1M140 21v1M141 10v1M145 11v1M145 23v1M146 11v1M146 23v1M149 12v1M150 12v1M150 23v1M151 12v1M151 22v2M152 12v2M152 21v3M153 11v1M153 22v2M154 11v1M154 23v1M155 11v1M155 23v1M158 11v1M158 23v1M159 11v1M159 22v1M160 11v3M160 20v4M161 12v1M161 22v2M162 23v1M163 23v1M164 12v1M164 24v1M165 24v1M172 11v2M173 11v2M174 11v2M175 11v2M176 11v2M177 11v2M178 11v2M179 11v2"/>
<path stroke="#ef8b1f" d="M13 15v1M14 15v1M15 11v3M16 11v2M17 11v2M18 11v2M19 10v3M20 10v3M21 10v3M22 11v2M23 10v3M24 11v2M25 11v2M26 10v3M27 10v3M28 10v3M29 10v2M30 10v2M31 10v3M32 11v2M33 11v2M34 11v3M35 11v3M36 11v2M37 10v3M38 10v3M39 10v3M40 11v1M41 11v1M97 27v1M99 18v1M100 18v1M111 27v1M122 20v1M123 9v1M123 20v1M125 10v1M126 10v1M128 21v1M129 9v1M131 20v1M132 9v1M133 9v1M135 20v1M136 20v1M137 9v1M137 20v1M138 9v1M142 10v1M143 10v1M147 23v1M148 12v1M148 23v1M149 23v1M150 13v1M150 21v2M151 13v9M152 14v7M153 12v10M154 12v1M154 22v1M155 22v1M156 11v1M156 22v1M157 11v1M157 22v1M158 12v1M158 21v2M159 12v10M160 14v6M161 13v9M162 12v1M162 21v2M163 12v1M164 23v1M165 13v1"/>
<path stroke="#ef721f" d="M0 5v1M0 15v1M1 5v1M1 15v1M2 5v1M2 15v1M13 16v1M13 23v1M14 16v1M14 23v1M102 26v1M103 26v1M105 18v1M106 26v1M107 26v1M108 18v1M111 18v1M112 27v1M113 17v1M114 17v1M114 27v1M117 26v1M118 26v1M119 17v1M122 9v1M124 20v1M125 21v1M126 21v1M128 10v1M129 20v1M130 20v1M131 9v1M132 20v1M133 20v1M134 20v1M135 9v1M136 9v1M138 20v1M139 20v1M141 24v1M144 11v1M144 24v1M145 22v1M147 12v1M148 22v1M149 13v1M149 22v1M150 14v7M154 13v1M154 20v2M155 12v1M155 21v1M156 21v1M157 12v1M157 21v1M158 13v8M162 13v8M163 13v1M163 22v1M164 13v1M165 23v1"/>
<path stroke="#ed591f" d="M0 6v3M1 6v3M2 6v3M13 17v1M13 22v1M14 17v1M14 22v1M97 26v1M98 28v1M99 28v1M100 28v1M104 27v1M107 25v1M108 27v1M113 27v1M116 18v1M116 26v1M117 18v1M122 19v1M124 10v1M127 10v1M127 20v1M128 20v1M131 19v1M136 19v1M139 10v1M140 10v1M140 20v1M145 12v1M146 12v1M146 22v1M147 22v1M148 13v1M148 21v1M149 14v8M154 14v6M155 13v1M155 20v1M156 12v1M156 20v1M157 13v1M157 20v1M163 14v1M163 20v2M164 14v1M164 22v1M165 14v1M165 22v1"/>
<path stroke="#ec411e" d="M0 9v6M1 9v6M2 9v6M13 18v4M14 18v4M98 19v1M101 19v1M102 25v1M103 25v1M104 19v1M105 27v1M106 25v1M110 26v1M112 18v1M115 18v1M115 26v1M118 18v1M119 26v1M120 17v1M120 26v1M121 17v1M121 26v1M123 19v1M125 11v1M125 20v1M126 11v1M126 20v1M129 10v1M129 19v1M130 10v1M130 19v1M132 10v1M132 19v1M133 10v1M133 19v1M134 10v1M134 19v1M135 19v1M137 19v1M138 10v1M138 19v1M141 11v1M142 11v1M142 24v1M143 11v1M143 24v1M145 21v1M148 14v7M155 14v6M156 13v7M157 14v6M163 15v5M164 15v7M165 15v7"/>
<path stroke="#e92a1e" d="M97 25v1M99 19v1M100 19v1M101 27v1M107 24v1M109 19v1M109 26v1M110 19v1M111 26v1M113 18v1M114 18v1M122 10v1M122 18v1M123 10v1M124 19v1M127 19v1M128 11v1M128 19v1M131 10v1M131 18v1M135 10v1M135 18v1M136 10v1M136 18v1M137 10v1M137 18v1M139 19v1M140 19v1M141 23v1M144 12v1M144 23v1M146 21v1M147 13v1M147 21v1"/>
<path stroke="#e22523" d="M98 27v1M99 27v1M100 27v1M102 24v1M103 24v1M105 19v1M106 24v1M108 19v1M108 26v1M111 19v1M112 26v1M113 26v1M114 26v1M116 25v1M117 25v1M118 25v1M119 18v1M123 11v1M123 18v1M124 11v1M124 18v1M125 12v1M125 19v1M126 12v1M126 19v1M127 11v1M127 18v1M129 11v1M129 18v1M130 11v1M130 18v1M132 11v1M132 18v1M133 11v1M133 18v1M134 11v1M134 18v1M135 11v1M136 11v1M137 11v1M138 11v1M138 18v1M139 11v1M139 18v1M140 11v1M141 12v1M141 22v1M142 12v1M143 12v1M145 13v1M145 20v1M146 13v1M146 20v1"/>
<path stroke="#da2129" d="M97 24v1M98 20v1M99 20v1M100 20v1M101 20v1M104 20v1M104 26v1M105 26v1M107 23v1M112 19v1M115 19v1M115 25v1M116 19v1M117 19v1M118 19v1M119 25v1M120 18v1M120 25v1M121 18v1M121 25v1M122 11v7M123 12v6M124 12v6M125 13v6M126 13v6M127 12v6M128 12v7M129 12v6M130 12v6M131 11v7M132 12v6M133 12v6M134 12v6M135 12v6M136 12v6M137 12v6M138 12v6M139 12v6M140 12v7M141 13v9M142 13v5M142 23v1M143 13v5M143 23v1M144 13v7M144 22v1M145 14v6M146 14v6M147 14v7"/>
<path stroke="#c8202a" d="M98 26v1M99 26v1M100 26v1M101 26v1M103 23v1M105 20v1M106 23v1M108 20v1M108 25v1M109 20v1M109 25v1M110 20v1M110 25v1M111 20v1M111 25v1M112 25v1M113 19v1M113 25v1M114 19v1M114 25v1M117 24v1M118 24v1M119 19v1M120 19v1M142 18v1M143 18v1M144 20v2"/>
<path stroke="#b21f2a" d="M98 21v2M98 25v1M99 21v2M99 25v1M100 21v2M100 25v1M101 21v2M101 25v1M104 21v1M104 24v2M105 21v1M105 24v2M108 21v1M108 24v1M109 21v1M109 24v1M110 21v1M110 24v1M111 21v1M111 24v1M112 20v2M112 24v1M113 20v1M113 24v1M114 20v1M114 24v1M115 20v1M115 24v1M116 20v1M116 23v2M117 20v1M117 23v1M118 20v1M118 23v1M119 20v1M119 23v2M120 20v1M120 23v2M121 19v2M121 23v2M142 19v1M142 22v1M143 19v1M143 22v1"/>
<path stroke="#9c1f2a" d="M98 23v2M99 23v2M100 23v2M101 23v2M104 22v2M105 22v2M108 22v2M109 22v2M110 22v2M111 22v2M112 22v2M113 21v3M114 21v3M115 21v3M116 21v2M117 21v2M118 21v2M119 21v2M120 21v2M121 21v2M142 20v2M143 20v2"/>
<path stroke="#141060" stroke-opacity="0.55" d="M0 19v1M0 24v1M1 22v1M2 20v1M2 25v2M3 12v1M3 14v1M3 16v1M3 20v2M4 16v1M5 10v1M5 12v1M5 16v1M5 19v1M6 12v1M7 18v1M8 23v1M8 26v1M9 1v1M9 6v1M9 23v1M10 22v1M11 15v1M11 20v2M12 9v1M13 6v1M13 28v1M14 0v1M14 6v1M14 9v1M14 27v1M14 29v1M15 7v1M15 21v3M16 1v1M16 8v1M16 18v1M17 2v2M17 17v1M17 19v1M17 24v1M18 19v1M19 0v1M19 3v3M20 6v1M21 21v1M22 18v1M23 4v1M23 7v1M23 20v1M23 24v1M24 2v1M24 19v1M25 19v1M25 24v1M26 6v1M26 18v1M27 1v1M27 7v1M28 1v1M28 3v1M29 7v1M29 18v2M30 1v1M30 4v1M31 20v1M32 4v1M32 8v1M32 18v1M32 20v1M33 20v1M34 20v1M35 2v1M35 19v1M36 1v2M36 18v1M36 23v1M37 4v2M37 23v1M38 5v1M39 0v1M39 2v1M39 5v1M39 20v1M40 4v1M40 7v1M41 0v2M41 5v1M41 7v1M41 20v1M42 4v1M43 4v1M43 20v2M44 4v1M44 22v1M45 1v1M45 6v1M45 20v1M46 4v1M46 22v1M47 5v1M47 20v1M47 23v2M48 2v1M48 19v1M49 1v1M49 4v1M49 6v1M50 1v1M50 4v2M50 23v1M51 4v1M51 20v1M52 7v1M52 17v1M53 4v1M53 6v1M53 8v1M54 4v1M54 6v1M55 2v1M55 21v1M56 2v1M57 2v1M57 4v1M57 8v1M57 17v1M57 21v2M58 3v1M58 8v1M58 17v1M58 19v1M58 23v1M59 3v1M59 7v1M59 24v1M60 19v1M61 4v1M61 6v1M61 17v1M61 20v1M61 22v1M62 6v1M62 20v1M63 5v1M64 3v1M64 8v2M64 18v2M65 8v1M66 12v1M66 15v1M66 19v1M66 21v1M67 18v1M67 23v3M68 16v1M69 14v1M69 16v1M69 18v1M70 9v1M70 11v2M70 19v3M70 26v2M71 6v1M71 9v1M71 16v1M71 21v1M71 24v1M72 13v1M72 17v1M72 24v1M72 26v1M72 28v1M73 17v2M73 20v1M73 22v1M74 11v1M75 7v1M75 9v1M75 20v1M75 25v1M76 11v1M76 21v1M76 28v1M77 9v2M77 14v1M77 16v1M77 32v2M78 13v1M78 19v1M78 24v1M79 6v1M79 10v1M79 12v1M79 19v1M79 30v2M80 6v2M80 18v2M80 21v2M80 33v2M81 11v1M81 15v1M81 21v1M81 24v1M81 36v1M82 9v1M82 11v1M82 25v1M82 27v1M82 29v1M83 10v1M83 17v2M83 22v1M83 25v2M84 8v1M84 10v1M84 13v1M84 16v1M84 22v1M84 33v1M85 11v1M85 24v1M85 30v1M85 37v1M86 9v1M86 11v1M86 16v1M86 28v1M86 30v1M86 38v1M87 7v1M87 15v1M87 17v1M87 19v2M87 37v1M88 11v1M88 13v1M88 17v1M88 27v1M88 35v1M89 15v1M89 19v1M89 22v2M89 31v1M90 21v2M90 31v3M90 36v1M91 12v1M91 30v1M91 38v1M92 11v2M92 31v1M92 37v1M93 27v1M93 32v1M93 34v1M93 39v1M94 13v1M94 22v1M94 25v1M94 27v1M94 29v1M94 35v1M95 19v2M95 34v1M95 37v1M96 29v1M96 35v1M97 10v2M97 15v1M98 7v1M98 13v2M98 32v1M99 32v1M99 36v1M100 36v1M101 7v1M101 11v1M101 16v1M101 31v1M102 32v1M103 8v1M103 12v1M103 30v1M103 34v1M104 16v1M104 33v1M104 35v1M105 7v2M105 16v1M105 34v2M106 31v2M107 10v1M107 31v1M107 33v3M108 7v2M108 11v2M108 16v1M108 35v1M109 8v1M109 12v1M109 30v1M110 7v1M110 11v2M110 15v1M111 9v1M112 13v1M112 32v1M112 35v1M113 7v1M113 9v2M113 31v1M113 34v1M114 6v1M114 11v1M115 9v1M115 13v1M116 6v1M116 15v1M116 35v1M117 10v1M117 12v1M117 16v1M117 32v1M118 10v1M118 16v1M118 30v1M118 32v1M119 10v1M119 30v1M119 34v1M120 9v1M120 11v1M120 29v1M120 31v1M120 33v2M121 7v2M121 32v2M122 0v1M124 1v1M124 4v2M124 24v1M124 27v1M125 29v1M126 2v1M126 6v1M127 0v1M127 24v1M127 27v1M128 0v1M129 5v1M129 24v1M129 27v1M130 2v1M132 1v1M132 4v1M132 6v1M132 26v1M133 0v1M133 2v1M133 6v1M133 28v1M134 0v1M134 4v1M134 26v1M134 28v1M135 25v1M136 5v1M136 24v1M137 26v1M137 28v1M138 6v1M139 0v1M139 24v1M140 0v1M140 5v1M140 7v1M140 24v1M140 28v1M141 7v1M141 26v1M142 28v2M143 4v3M144 3v2M144 31v1M145 5v1M145 31v1M146 3v1M146 5v1M146 8v1M146 26v1M146 28v1M146 30v1M147 2v1M147 4v2M147 9v1M147 29v1M148 8v1M148 28v1M148 32v1M149 7v2M150 7v2M150 32v1M151 3v1M151 5v2M152 9v1M152 30v1M153 0v1M154 4v2M154 30v1M155 5v1M155 7v1M156 2v1M156 4v1M156 7v1M156 27v1M157 2v1M158 2v1M158 5v1M158 31v1M159 0v1M159 4v2M159 30v1M160 0v1M160 6v1M160 29v1M160 31v1M161 5v1M161 29v1M162 4v1M162 6v2M163 5v2M164 3v1M164 27v1M165 4v1M165 31v1"/>
<path stroke="#fff" stroke-opacity="0.55" d="M1 23v1M3 10v2M3 22v1M5 18v1M7 16v2M7 20v1M10 13v1M10 20v1M12 16v1M14 1v1M15 0v1M15 19v1M16 3v1M16 17v1M17 5v1M17 7v1M19 2v1M19 24v1M20 19v1M21 0v1M21 2v1M21 7v1M22 7v1M22 19v1M23 19v1M26 5v1M27 6v1M27 23v1M28 4v1M29 1v1M29 21v1M30 5v1M30 16v1M31 17v1M33 0v1M33 24v1M34 24v1M35 18v1M37 20v1M37 22v1M38 20v1M39 4v1M40 0v1M40 2v1M42 2v1M42 17v1M43 5v1M45 5v1M45 19v1M46 8v1M47 1v1M47 8v1M47 17v1M47 21v1M48 0v1M48 4v1M48 17v1M48 20v1M48 23v1M49 19v1M49 22v1M50 24v1M51 19v1M51 21v2M52 4v2M54 3v1M54 5v1M56 16v1M56 21v1M57 3v1M58 6v1M58 21v1M59 20v1M60 21v1M61 3v1M62 19v1M66 24v1M67 11v1M67 13v1M68 22v1M69 12v1M69 23v1M70 7v1M71 7v1M71 15v1M71 23v1M72 6v2M73 19v1M73 23v1M73 28v1M74 7v1M74 18v1M74 26v1M75 12v1M75 22v1M75 27v1M75 30v1M76 8v2M77 13v1M77 21v1M78 11v1M78 21v1M78 23v1M78 27v1M79 24v2M80 8v1M80 27v1M80 32v1M81 8v1M81 10v1M81 17v1M81 19v1M81 35v1M82 23v1M83 14v2M83 23v1M83 29v1M83 31v1M84 18v1M84 24v1M85 26v1M85 32v1M86 18v1M86 22v1M87 27v1M88 28v1M88 38v1M89 28v1M89 30v1M89 33v1M90 7v1M90 23v1M91 19v1M92 10v1M92 19v1M92 21v1M92 26v1M92 29v1M92 36v1M93 18v1M93 29v1M94 18v1M94 37v1M95 39v1M96 14v1M96 19v1M96 31v1M97 7v1M97 9v1M97 12v1M97 36v1M99 7v2M99 13v1M99 34v1M101 14v1M101 17v1M101 36v1M102 14v1M102 37v1M104 30v1M105 9v1M107 8v1M109 13v1M109 15v1M109 33v1M110 35v1M111 8v1M112 11v1M113 6v1M113 8v1M113 14v1M113 35v1M114 12v1M114 14v1M115 15v1M116 8v1M116 13v1M118 9v1M119 7v3M119 15v1M119 31v1M120 7v1M120 13v1M121 31v1M122 25v1M122 29v1M123 24v1M123 29v1M124 2v1M125 2v1M125 7v1M125 26v1M126 0v1M126 7v1M126 25v1M129 0v1M129 6v1M131 5v2M133 27v1M134 1v1M135 27v1M136 28v1M137 1v1M138 1v1M138 3v1M138 26v1M139 3v1M140 1v1M140 4v1M141 27v1M142 5v1M142 7v1M145 26v1M146 4v1M147 1v1M147 30v1M148 30v1M149 27v1M149 29v1M150 2v2M151 2v1M152 5v1M152 31v1M153 27v2M154 0v1M154 27v1M154 29v1M155 2v2M157 8v1M159 8v1M159 27v1M160 27v1M161 7v1M161 32v1M162 30v1M163 8v1M163 28v1M164 5v1"/>
<path stroke="#ffe040" stroke-opacity="0.3" d="M0 3v1M1 10v1M1 16v1M8 14v1M8 16v1M8 18v1M8 22v1M9 15v1M9 18v1M15 16v1M16 13v1M17 13v1M17 15v1M19 14v1M20 8v1M20 16v1M21 15v1M23 9v3M24 12v2M25 11v1M25 13v1M25 16v1M27 12v1M28 9v1M29 11v1M29 15v1M31 16v1M33 12v1M34 10v1M34 17v1M36 10v1M37 16v1M38 10v1M39 8v2M39 12v1M40 11v2M41 11v1M42 11v1M45 13v1M46 11v2M47 10v1M47 14v1M48 16v1M49 12v1M49 14v1M50 14v1M53 11v1M53 13v2M54 16v1M56 12v1M57 12v1M57 15v1M58 14v1M59 13v1M60 14v1M61 15v1M62 10v1M64 11v1M64 13v1M64 16v1M97 23v1M97 30v1M98 18v1M98 29v1M99 20v2M100 25v1M101 20v1M102 20v2M102 26v1M102 28v1M103 22v1M103 24v1M103 29v1M104 21v2M105 24v1M105 26v2M107 20v1M107 24v1M108 17v1M108 23v1M108 29v1M109 20v1M110 17v1M110 28v1M111 23v2M112 28v2M113 26v1M113 29v1M114 22v1M115 17v1M115 19v2M115 25v1M116 22v1M117 22v1M117 28v1M118 20v1M119 26v1M120 15v1M120 18v1M120 24v1M121 21v1M122 14v1M122 17v1M123 10v1M124 10v1M124 14v1M124 18v2M125 9v1M125 15v1M126 15v1M126 19v1M127 12v1M127 22v1M128 11v1M128 24v1M129 21v1M130 14v1M131 20v1M133 8v1M133 11v1M135 19v1M135 22v1M136 22v1M137 14v1M138 23v1M139 12v1M140 10v1M140 14v1M141 11v1M142 8v1M144 16v1M144 20v1M145 12v1M145 16v1M146 15v1M146 17v1M146 19v2M147 11v3M147 21v1M148 16v1M149 16v1M150 17v1M150 21v1M151 19v1M152 16v2M152 26v1M153 10v2M153 13v1M153 19v1M153 23v1M154 18v1M154 22v1M155 17v1M155 23v1M156 19v2M157 12v1M157 19v1M157 24v2M158 9v1M158 17v1M158 20v1M159 14v2M159 19v2M160 17v1M161 26v1M162 17v1M162 23v1M162 25v1M163 16v1M163 20v1M164 11v1M164 19v1M164 25v1"/>
<path stroke="#901020" stroke-opacity="0.25" d="M0 4v2M0 14v1M1 13v2M8 9v1M8 13v1M8 19v1M9 20v1M13 15v1M14 11v1M14 18v1M15 9v3M15 14v1M16 16v1M17 14v1M17 16v1M19 10v1M19 15v1M20 12v1M21 8v1M22 13v1M25 10v1M27 11v1M27 16v1M29 9v1M33 17v1M34 14v1M35 15v1M35 17v1M37 11v1M38 16v1M42 12v1M42 16v1M43 9v1M43 12v1M43 16v1M44 15v1M49 15v2M50 9v1M51 10v1M52 11v1M52 13v1M53 12v1M54 12v2M56 9v2M56 14v1M57 13v1M59 14v1M60 16v1M62 16v2M64 12v1M97 24v1M99 25v1M101 18v1M101 25v2M102 29v1M103 23v1M103 26v1M104 23v1M104 26v1M106 21v1M107 22v1M108 22v1M109 21v1M109 27v1M110 24v1M110 26v1M111 19v1M112 17v1M112 26v1M114 16v1M114 18v1M114 23v1M115 24v1M116 25v1M118 28v1M119 23v3M119 27v1M120 26v1M121 22v1M122 21v1M123 12v1M123 22v1M124 15v1M125 19v1M125 22v1M126 20v1M127 11v1M127 20v2M128 20v1M129 11v1M129 23v1M130 13v1M131 9v1M131 19v1M132 22v1M133 7v1M133 14v1M134 7v1M135 15v1M136 8v1M137 7v1M138 13v1M138 17v1M138 19v2M139 7v1M139 13v1M139 18v1M141 21v1M142 12v1M143 14v1M143 16v1M143 20v1M144 12v1M144 18v1M146 12v1M147 10v1M149 25v1M150 20v1M150 22v1M150 26v1M151 13v1M151 15v1M151 22v1M154 11v1M154 15v1M155 12v1M155 18v1M156 15v1M157 23v1M158 19v1M158 22v1M159 16v1M159 24v2M160 16v1M161 14v3M161 18v1M164 21v1M164 23v1"/>
</g>
<g transform="translate(121.2 386.2) scale(1.5000 2.1000)" stroke-width="1.02" fill="none">
<path stroke="#1d4ea2" d="M0 0v13M1 0v13M2 0v13M15 0v13M16 0v13M17 0v14M18 0v14M19 0v15M20 0v15M21 0v15M22 0v15M23 0v15M24 0v14M25 0v14M26 0v14M27 0v15M28 0v14M29 0v14M30 0v15M31 0v15M32 0v14M33 0v15M34 0v13M35 0v13M36 0v14M37 0v14M38 0v14M39 0v14M40 0v15M41 0v14M42 0v15M43 0v14M44 0v13M45 0v14M46 4v10M47 0v15M48 10v5M49 0v15M50 0v14M51 0v14M52 0v14M122 0v2M123 0v2M124 0v13M125 0v13M126 0v13M127 0v13M128 0v13M129 0v13M130 0v13M131 0v13M132 0v13M133 0v14M134 0v14M135 0v14M136 0v14M137 0v14M138 0v15M139 0v16M140 0v16M141 0v15M142 0v15M143 0v14M144 0v15M145 0v15M146 0v15M147 0v15M148 0v15M149 0v14M150 0v14M151 0v13M152 0v13M153 0v14M154 0v13M155 0v13M156 0v14M157 0v14M158 0v14M159 0v15M160 0v14M161 0v13M162 0v12M163 0v12M164 0v13M165 0v13M166 0v14M167 0v14M168 0v14M169 0v14M170 0v14M171 0v16M172 0v16M173 0v17M174 0v18M175 5v12M176 5v11M177 0v16M178 0v16M179 0v16"/>
<path stroke="#1f59af" d="M0 13v2M1 13v2M2 13v2M9 0v11M10 0v11M15 13v2M16 13v2M17 14v1M18 14v2M19 15v2M20 15v2M21 15v2M22 15v2M23 15v2M24 14v2M25 14v2M26 14v2M27 15v1M28 14v2M29 14v2M30 15v2M31 15v2M32 14v2M33 15v2M34 13v2M35 13v2M36 14v2M37 14v1M38 14v2M39 14v2M40 15v2M41 14v2M42 15v2M43 14v2M44 13v2M45 14v2M46 14v2M47 15v1M48 15v2M49 15v2M50 14v2M51 14v2M52 14v2M53 0v3M54 0v3M62 0v11M63 0v11M64 0v11M76 0v2M78 0v2M79 0v4M83 0v6M85 0v5M88 0v5M89 0v3M90 0v4M91 0v4M92 0v6M93 0v6M94 0v3M95 0v5M96 0v8M97 0v1M98 0v10M99 0v13M100 0v5M101 0v10M102 0v4M103 0v9M104 0v2M105 0v11M106 0v7M107 0v9M108 0v8M109 0v6M110 0v7M111 0v8M112 0v16M113 0v3M114 0v8M115 0v9M116 0v10M117 0v10M118 0v11M119 0v13M120 0v5M121 0v11M122 2v12M123 2v12M124 13v2M125 13v2M126 13v2M127 13v2M128 13v2M129 13v2M130 13v2M131 13v2M132 13v2M133 14v2M134 14v2M135 14v2M136 14v2M137 14v2M138 15v2M139 16v2M140 16v2M141 15v2M142 15v2M143 14v2M144 15v2M145 15v2M146 15v2M147 15v2M148 15v2M149 14v2M150 14v2M151 13v2M152 13v2M153 14v2M154 13v2M155 13v2M156 14v2M157 14v2M158 14v2M159 15v1M160 14v2M161 13v2M162 12v2M163 12v2M164 13v2M165 13v2M166 14v2M167 14v2M168 14v2M169 14v2M170 14v2M171 16v2M172 16v2M173 17v2M174 18v2M175 17v2M176 16v2M177 16v2M178 16v2M179 16v2"/>
<path stroke="#2166bc" d="M0 15v1M1 15v1M2 15v1M9 11v2M10 11v2M15 15v1M16 15v1M17 15v2M18 16v2M19 17v1M20 17v2M21 17v2M22 17v1M23 17v1M24 16v2M25 16v2M26 16v1M27 16v2M28 16v1M29 16v1M30 17v1M31 17v1M32 16v2M33 17v1M34 15v2M35 15v2M36 16v1M37 15v2M38 16v1M39 16v1M40 17v1M41 16v2M42 17v1M43 16v1M44 15v2M45 16v1M46 16v1M47 16v2M48 17v1M49 17v1M50 16v1M51 16v1M52 16v1M53 3v6M54 3v6M62 11v3M63 11v3M64 11v3M76 2v1M78 2v1M87 0v1M89 3v1M94 3v1M99 13v1M105 11v1M107 9v1M109 6v1M110 7v1M117 10v1M118 11v1M120 5v1M122 14v3M123 14v3M124 15v2M125 15v1M126 15v2M127 15v1M128 15v1M129 15v1M130 15v1M131 15v1M132 15v1M133 16v1M134 16v1M135 16v1M136 16v1M137 16v1M138 17v2M139 18v1M140 18v1M141 17v2M142 17v1M143 16v1M144 17v1M145 17v1M146 17v1M147 17v2M148 17v1M149 16v1M150 16v1M151 15v2M152 15v1M153 16v1M154 15v1M155 15v1M156 16v1M157 16v1M158 16v2M159 16v2M160 16v1M161 15v1M162 14v1M163 14v1M164 15v1M165 15v1M166 16v1M167 16v1M168 16v1M169 16v1M170 16v2M171 18v1M172 18v1M173 19v1M174 20v1M175 19v1M176 18v2M177 18v1M178 18v1M179 18v1"/>
<path stroke="#237dca" d="M0 16v1M1 16v1M2 16v1M9 13v1M10 13v1M15 16v1M16 16v1M17 17v1M19 18v1M21 19v1M22 18v1M23 18v1M26 17v1M27 18v1M28 17v1M29 17v1M30 18v1M31 18v1M33 18v1M34 17v1M36 17v1M37 17v1M38 17v1M39 17v1M40 18v1M42 18v1M43 17v1M45 17v1M46 17v1M47 18v1M48 18v1M49 18v1M50 17v1M51 17v1M52 17v1M53 9v2M54 9v2M62 14v1M63 14v1M64 14v1M79 4v1M80 0v1M81 0v1M84 0v1M85 5v1M86 0v1M88 5v1M90 4v1M93 6v1M95 5v1M97 1v1M108 8v1M111 8v1M112 16v1M119 13v1M121 11v1M122 17v1M123 17v1M125 16v1M127 16v1M128 16v1M129 16v1M130 16v1M131 16v1M132 16v1M133 17v1M134 17v1M135 17v1M136 17v1M137 17v1M139 19v1M140 19v1M142 18v1M143 17v1M144 18v1M145 18v1M146 18v1M148 18v1M149 17v1M150 17v1M152 16v1M153 17v1M154 16v1M155 16v1M156 17v1M157 17v1M159 18v1M160 17v1M161 16v1M162 15v1M163 15v1M164 16v1M165 16v1M166 17v1M167 17v1M168 17v1M169 17v1M171 19v1M172 19v1M173 20v1M174 21v1M175 20v1M177 19v1M178 19v1M179 19v1"/>
<path stroke="#2694d8" d="M0 17v1M1 17v1M2 17v1M9 14v2M10 14v2M15 17v1M16 17v1M18 18v1M19 19v1M20 19v1M22 19v1M24 18v1M25 18v1M26 18v1M28 18v1M29 18v1M30 19v1M31 19v1M32 18v1M33 19v1M35 17v1M36 18v1M38 18v1M39 18v1M40 19v1M41 18v1M43 18v1M44 17v1M46 18v1M48 19v1M49 19v1M50 18v1M51 18v1M52 18v1M62 15v1M63 15v1M64 15v1M77 0v1M82 0v1M83 6v1M87 1v1M89 4v1M92 6v1M98 10v1M99 14v1M100 5v1M101 10v1M102 4v1M104 2v1M105 12v1M109 7v1M113 3v1M114 8v1M115 9v1M117 11v1M118 12v1M120 6v1M122 18v1M123 18v1M124 17v1M125 17v1M126 17v1M127 17v1M129 17v1M130 17v1M131 17v1M132 17v1M133 18v1M134 18v1M135 18v1M136 18v1M137 18v1M138 19v1M139 20v1M140 20v1M141 19v1M142 19v1M143 18v1M145 19v1M146 19v1M147 19v1M148 19v1M149 18v1M150 18v1M151 17v1M152 17v1M154 17v1M155 17v1M156 18v1M157 18v1M158 18v1M160 18v1M161 17v1M162 16v1M163 16v1M164 17v1M165 17v1M166 18v1M167 18v1M168 18v1M169 18v1M170 18v1M172 20v1M173 21v1M174 22v1M175 21v1M176 20v1M177 20v1M178 20v1M179 20v1"/>
<path stroke="#29a9e1" d="M0 18v1M1 18v1M2 18v1M9 16v2M10 16v2M15 18v1M16 18v1M17 18v2M18 19v2M19 20v1M20 20v2M21 20v2M22 20v1M23 19v2M24 19v2M25 19v2M26 19v1M27 19v2M28 19v1M29 19v1M30 20v1M31 20v1M32 19v2M33 20v1M34 18v2M35 18v2M36 19v1M37 18v2M38 19v1M39 19v1M40 20v1M41 19v2M42 19v2M43 19v2M44 18v2M45 18v2M46 19v1M47 19v2M48 20v1M49 20v1M50 19v1M51 19v1M52 19v1M53 11v1M54 11v1M76 3v1M79 5v1M81 1v1M85 6v1M87 2v1M94 4v1M98 11v1M103 9v1M105 13v1M106 7v1M107 10v1M108 9v1M116 10v1M117 12v1M119 14v1M121 12v1M124 18v2M125 18v1M126 18v2M127 18v1M128 17v2M129 18v1M130 18v1M131 18v1M132 18v1M133 19v1M134 19v1M135 19v1M136 19v1M137 19v2M138 20v2M139 21v1M140 21v1M141 20v2M142 20v1M143 19v2M144 19v2M145 20v1M146 20v1M147 20v2M148 20v1M149 19v1M150 19v1M151 18v2M152 18v1M153 18v2M154 18v2M155 18v2M156 19v1M157 19v1M158 19v2M159 19v2M160 19v1M161 18v1M162 17v2M163 17v1M164 18v1M165 18v2M166 19v1M167 19v1M168 19v1M169 19v1M170 19v2M171 20v2M172 21v1M173 22v1M174 23v1M175 22v1M176 21v2M177 21v2M178 21v1M179 21v1"/>
<path stroke="#32b0cf" d="M0 19v2M1 19v2M2 19v2M9 18v3M10 18v3M15 19v2M16 19v2M17 20v2M18 21v2M19 21v2M20 22v2M21 22v2M22 21v2M23 21v2M24 21v2M25 21v2M26 20v3M27 21v2M28 20v2M29 20v2M30 21v2M31 21v2M32 21v2M33 21v2M34 20v2M35 20v2M36 20v2M37 20v2M38 20v2M39 20v2M40 21v2M41 21v2M42 21v2M43 21v2M44 20v2M45 20v2M46 20v2M47 21v1M48 21v2M49 21v2M50 20v1M51 20v1M52 20v1M78 3v1M80 1v1M83 7v1M84 1v1M85 7v1M86 1v1M88 6v1M89 5v1M91 4v1M93 7v1M96 8v1M97 2v1M99 15v1M101 11v1M108 10v1M109 8v1M111 9v1M112 17v1M114 9v1M118 13v1M120 7v1M122 19v1M123 19v1M124 20v2M125 19v2M126 20v2M127 19v2M128 19v2M129 19v2M130 19v2M131 19v2M132 19v3M133 20v2M134 20v2M135 20v2M136 20v3M137 21v2M138 22v2M139 22v3M140 22v2M141 22v2M142 21v2M143 21v2M144 21v2M145 21v2M146 21v2M147 22v2M148 21v3M149 20v2M150 20v2M151 20v2M152 19v2M153 20v2M154 20v2M155 20v2M156 20v2M157 20v2M158 21v2M159 21v2M160 20v2M161 19v2M162 19v2M163 18v2M164 19v2M165 20v2M166 20v2M167 20v2M168 20v2M169 20v2M170 21v2M171 22v2M172 22v3M173 23v2M174 24v2M175 23v2M176 23v2M177 23v2M178 22v2M179 22v3"/>
<path stroke="#3bb6bd" d="M0 21v4M1 21v4M2 21v4M9 21v3M10 21v3M15 21v4M16 21v4M17 22v4M18 23v4M19 23v4M20 24v3M21 24v4M22 23v4M23 23v4M24 23v4M25 23v3M26 23v3M27 23v4M28 22v4M29 22v4M30 23v4M31 23v4M32 23v3M33 23v4M34 22v4M35 22v3M36 22v4M37 22v4M38 22v4M39 22v4M40 23v4M41 23v3M42 23v4M43 23v3M44 22v3M45 22v3M46 22v3M47 22v3M48 23v2M49 23v2M50 21v1M51 21v1M52 21v1M62 16v1M63 16v1M64 16v1M81 2v1M87 3v1M89 6v1M90 5v1M94 5v1M95 6v1M98 12v1M100 6v1M105 14v1M107 11v1M109 9v1M113 4v1M115 10v1M117 13v1M118 14v1M119 15v1M120 8v1M121 13v1M122 20v1M123 20v1M124 22v4M125 21v4M126 22v3M127 21v4M128 21v4M129 21v4M130 21v4M131 21v4M132 22v3M133 22v4M134 22v4M135 22v4M136 23v3M137 23v3M138 24v3M139 25v3M140 24v4M141 24v3M142 23v4M143 23v3M144 23v4M145 23v4M146 23v4M147 24v4M148 24v3M149 22v4M150 22v4M151 22v3M152 21v4M153 22v4M154 22v3M155 22v3M156 22v4M157 22v4M158 23v4M159 23v4M160 22v4M161 21v4M162 21v3M163 20v4M164 21v4M165 22v3M166 22v4M167 22v4M168 22v4M169 22v4M170 23v3M171 24v4M172 25v3M173 25v4M174 26v4M175 25v4M176 25v3M177 25v3M178 24v4M179 25v3"/>
<path stroke="#45bbab" d="M0 25v4M1 25v4M2 25v4M9 24v3M10 24v3M15 25v4M16 25v4M17 26v3M18 27v3M19 27v3M20 27v4M21 28v3M22 27v4M23 27v3M24 27v3M25 26v4M26 26v4M27 27v3M28 26v4M29 26v4M30 27v4M31 27v4M32 26v4M33 27v4M34 26v3M35 25v4M36 26v4M37 26v3M38 26v4M39 26v4M40 27v4M41 26v4M42 27v3M43 26v4M44 25v3M45 25v3M46 25v2M47 25v2M48 25v2M49 25v2M50 22v2M51 22v2M52 22v2M76 4v1M79 6v1M82 1v1M85 8v1M87 4v1M92 7v1M93 8v1M94 6v1M97 3v1M99 16v1M103 10v1M105 15v1M106 8v1M107 12v1M108 11v1M110 8v1M111 10v1M114 10v1M116 11v1M117 14v1M119 16v1M122 21v1M123 21v1M124 26v3M125 25v4M126 25v4M127 25v4M128 25v3M129 25v4M130 25v4M131 25v4M132 25v4M133 26v4M134 26v4M135 26v3M136 26v4M137 26v4M138 27v4M139 28v4M140 28v4M141 27v4M142 27v4M143 26v4M144 27v3M145 27v4M146 27v4M147 28v3M148 27v4M149 26v4M150 26v4M151 25v4M152 25v4M153 26v3M154 25v4M155 25v4M156 26v3M157 26v4M158 27v3M159 27v3M160 26v3M161 25v4M162 24v4M163 24v4M164 25v4M165 25v4M166 26v3M167 26v4M168 26v4M169 26v4M170 26v4M171 28v3M172 28v4M173 29v4M174 30v3M175 29v3M176 28v4M177 28v4M178 28v3M179 28v4"/>
<path stroke="#50bc9b" d="M0 29v4M1 29v4M2 29v4M9 27v4M10 27v4M15 29v4M16 29v4M17 29v4M18 30v4M19 30v5M20 31v4M21 31v4M22 31v4M23 30v4M24 30v4M25 30v4M26 30v4M27 30v4M28 30v4M29 30v4M30 31v4M31 31v4M32 30v4M33 31v4M34 29v4M35 29v4M36 30v4M37 29v4M38 30v4M39 30v4M40 31v4M41 30v4M42 30v5M43 30v4M44 28v4M45 28v3M46 27v3M47 27v3M48 27v2M49 27v2M50 24v1M51 24v1M52 24v1M53 12v1M54 12v1M62 17v1M63 17v1M64 17v1M77 1v1M78 4v1M80 2v1M83 8v1M84 2v1M85 9v1M86 2v1M87 5v1M88 7v1M89 7v1M93 9v1M98 13v1M100 7v1M101 12v1M102 5v1M104 3v1M108 12v1M109 10v1M112 18v1M113 5v1M118 15v1M120 9v1M121 14v1M122 22v3M123 22v3M124 29v4M125 29v4M126 29v4M127 29v4M128 28v5M129 29v4M130 29v4M131 29v4M132 29v4M133 30v4M134 30v4M135 29v5M136 30v4M137 30v4M138 31v4M139 32v4M140 32v4M141 31v4M142 31v4M143 30v4M144 30v5M145 31v4M146 31v4M147 31v4M148 31v4M149 30v4M150 30v4M151 29v4M152 29v4M153 29v4M154 29v4M155 29v4M156 29v5M157 30v4M158 30v4M159 30v4M160 29v5M161 29v4M162 28v4M163 28v4M164 29v4M165 29v4M166 29v5M167 30v4M168 30v4M169 30v4M170 30v4M171 31v4M172 32v4M173 33v3M174 33v3M175 32v4M176 32v4M177 32v4M178 31v5M179 32v4"/>
<path stroke="#5bbe8b" d="M0 33v3M1 33v3M2 33v3M9 31v3M10 31v3M15 33v3M16 33v3M17 33v3M18 34v2M19 35v1M20 35v1M21 35v1M22 35v1M23 34v2M24 34v2M25 34v2M26 34v2M27 34v2M28 34v2M29 34v2M30 35v1M31 35v1M32 34v2M33 35v1M34 33v3M35 33v3M36 34v2M37 33v3M38 34v2M39 34v2M40 35v1M41 34v2M42 35v1M43 34v2M44 32v4M45 31v3M46 30v3M47 30v2M48 29v3M49 29v2M50 25v2M51 25v2M52 25v2M70 0v1M72 0v1M74 0v3M75 0v1M76 5v1M79 7v1M81 3v1M89 8v1M90 6v1M94 7v1M95 7v1M96 9v1M97 4v1M98 14v1M99 17v1M103 11v1M105 16v1M106 9v1M107 13v1M108 13v1M109 11v1M115 11v1M117 15v1M118 16v1M119 17v1M120 10v1M121 15v1M122 25v4M123 25v4M124 33v3M125 33v3M126 33v3M127 33v3M128 33v3M129 33v3M130 33v3M131 33v3M132 33v3M133 34v2M134 34v2M135 34v2M136 34v2M137 34v2M138 35v1M141 35v1M142 35v1M143 34v2M144 35v1M145 35v1M146 35v1M147 35v1M148 35v1M149 34v2M150 34v2M151 33v3M152 33v3M153 33v3M154 33v3M155 33v3M156 34v2M157 34v2M158 34v2M159 34v2M160 34v2M161 33v3M162 32v4M163 32v4M164 33v3M165 33v3M166 34v2M167 34v2M168 34v2M169 34v2M170 34v2M171 35v1"/>
<path stroke="#5fbd7a" d="M9 34v2M10 34v2M45 34v2M46 33v3M47 32v3M48 32v2M49 31v2M50 27v2M51 27v2M52 27v2M65 0v1M67 0v1M69 0v1M70 1v1M71 0v1M75 1v1M80 3v1M83 9v1M85 10v1M87 6v1M88 8v1M91 5v1M92 8v1M93 10v1M99 18v1M101 13v1M105 17v1M109 12v1M111 11v1M112 19v1M113 6v1M114 11v1M116 12v1M117 16v1M119 18v1M120 11v1M122 29v4M123 29v4"/>
<path stroke="#5fbc6a" d="M11 0v1M12 0v1M47 35v1M48 34v2M49 33v2M50 29v2M51 29v2M52 29v2M62 18v1M63 18v1M64 18v1M65 1v2M66 0v1M67 1v1M68 0v1M70 2v2M71 1v2M72 1v1M73 0v1M74 3v1M75 2v1M76 6v1M78 5v1M79 8v1M81 4v1M82 2v1M83 10v1M84 3v1M85 11v1M86 3v1M87 7v1M89 9v1M94 8v1M97 5v1M98 15v1M100 8v1M105 18v1M107 14v1M108 14v1M109 13v1M114 12v1M115 12v1M117 17v1M118 17v1M120 12v1M121 16v1M122 33v3M123 33v3"/>
<path stroke="#60ba59" d="M11 1v2M12 1v2M49 35v1M50 31v1M51 31v1M52 31v1M53 13v1M54 13v1M62 19v1M63 19v1M64 19v1M65 3v2M67 2v1M69 1v1M70 4v2M71 3v1M75 3v1M77 2v1M81 5v1M85 12v3M87 8v19M89 10v1M90 7v1M93 11v1M97 6v1M98 16v1M99 19v1M101 14v1M102 6v1M103 12v1M104 4v1M105 19v8M106 10v1M108 15v9M109 14v12M110 9v1M111 12v1M113 7v1M116 13v1M117 18v11M118 18v1M119 19v1M120 13v17M121 17v1M175 0v5M176 0v5"/>
<path stroke="#69bc52" d="M11 3v2M12 3v2M50 32v2M51 32v2M52 32v2M65 5v2M67 3v1M70 6v2M71 4v2M72 2v1M73 1v1M74 4v1M75 4v1M76 7v1M79 9v1M80 4v1M83 11v1M85 15v20M87 27v9M88 9v1M89 11v15M94 9v1M95 8v1M96 10v1M98 17v7M100 9v1M105 27v9M107 15v1M108 24v12M109 26v10M112 20v1M114 13v1M117 29v7M118 19v17M119 20v7M120 30v6"/>
<path stroke="#72bf4c" d="M11 5v1M12 5v1M50 34v2M51 34v2M52 34v2M62 20v1M63 20v1M64 20v1M65 7v1M67 4v1M69 2v1M70 8v17M71 6v1M74 5v1M75 5v1M78 6v1M81 6v1M82 3v1M84 4v1M85 35v1M86 4v1M89 26v10M91 6v1M92 9v1M93 12v1M94 10v1M97 7v1M98 24v12M99 20v1M103 13v1M106 11v1M107 16v1M111 13v1M113 8v1M115 13v1M119 27v9M121 18v9"/>
<path stroke="#7cc246" d="M14 0v1M53 14v1M54 14v1M62 21v1M63 21v1M64 21v1M66 1v1M67 5v2M68 1v1M70 25v11M71 7v9M72 3v1M73 2v1M75 6v1M76 8v1M79 10v1M80 5v1M83 12v1M88 10v1M90 8v1M93 13v5M94 11v7M99 21v11M100 10v1M101 15v1M107 17v9M112 21v1M114 14v1M116 14v1M121 27v9"/>
<path stroke="#85c440" d="M11 6v1M12 6v1M13 0v1M14 1v1M55 0v2M56 0v2M57 0v2M65 8v1M67 7v1M69 3v1M71 16v16M72 4v1M74 6v1M75 7v1M77 3v1M81 7v1M84 5v1M86 5v1M93 18v16M94 18v16M95 9v1M97 8v2M99 32v4M103 14v1M107 26v10M110 10v1M111 14v1M113 9v1M115 14v1"/>
<path stroke="#92c73b" d="M13 1v1M14 2v1M55 2v2M56 2v2M57 2v2M62 22v1M63 22v1M64 22v1M65 9v1M66 2v1M67 8v13M69 4v1M71 32v4M73 3v1M74 7v1M75 8v9M76 9v1M78 7v1M79 11v1M80 6v1M81 8v9M82 4v1M83 13v12M88 11v1M90 9v1M91 7v1M92 10v1M93 34v2M94 34v2M96 11v1M97 10v15M100 11v1M101 16v1M102 7v1M104 5v1M106 12v1M112 22v1M114 15v11M116 15v1"/>
<path stroke="#a5cc39" d="M11 7v1M12 7v1M13 2v1M14 3v1M46 0v4M48 0v10M55 4v1M56 4v1M57 4v1M62 23v1M63 23v1M64 23v1M67 21v14M68 2v1M72 5v1M74 8v1M75 17v14M79 12v8M81 17v14M83 25v11M97 25v11M103 15v1M111 15v7M113 10v11M114 26v10"/>
<path stroke="#b9d136" d="M5 0v2M6 0v2M13 3v1M53 15v1M54 15v1M55 5v1M56 5v1M57 5v1M62 24v1M63 24v1M64 24v1M65 10v1M67 35v1M69 5v1M72 6v1M73 4v1M75 31v5M76 10v11M79 20v14M81 31v5M84 6v1M86 6v1M88 12v1M95 10v1M100 12v1M101 17v9M106 13v1M111 22v14M113 21v14M115 15v1M116 16v1"/>
<path stroke="#ccd534" d="M5 2v2M6 2v2M11 8v1M12 8v1M14 4v1M55 6v1M56 6v1M57 6v1M62 25v1M63 25v1M64 25v1M66 3v1M69 6v1M72 7v1M74 9v1M76 21v13M77 4v1M78 8v1M79 34v2M80 7v1M82 5v1M88 13v8M90 10v1M92 11v1M96 12v1M100 13v9M101 26v10M103 16v2M104 6v1M110 11v1M112 23v1M113 35v1"/>
<path stroke="#e0da31" d="M5 4v2M6 4v2M55 7v1M56 7v1M57 7v1M62 26v1M63 26v1M64 26v1M65 11v1M68 3v1M73 5v1M74 10v9M76 34v2M80 8v12M84 7v1M86 7v1M88 21v12M91 8v1M95 11v1M100 22v13M102 8v1M103 18v13M106 14v1M112 24v12M115 16v6M116 17v5"/>
<path stroke="#e9d42e" d="M5 6v1M6 6v1M11 9v1M12 9v1M13 4v1M53 16v1M54 16v1M55 8v1M56 8v1M57 8v1M65 12v1M69 7v6M72 8v8M74 19v12M78 9v1M80 20v12M84 8v5M86 8v4M88 33v3M90 11v1M92 12v1M100 35v1M103 31v5M106 15v12M115 22v12M116 22v12"/>
<path stroke="#ebc52b" d="M5 7v1M6 7v1M14 5v1M55 9v1M56 9v1M57 9v1M62 27v1M63 27v1M64 27v1M66 4v1M68 4v1M69 13v11M72 16v11M73 6v1M74 31v5M80 32v4M82 6v1M84 13v11M86 12v11M96 13v1M106 27v9M115 34v2M116 34v2"/>
<path stroke="#ecb728" d="M5 8v1M6 8v1M13 5v1M53 17v1M54 17v1M55 10v1M56 10v1M57 10v1M65 13v1M69 24v11M72 27v9M77 5v1M78 10v7M84 24v12M86 23v12M90 12v11M91 9v1M95 12v1M102 9v1M104 7v1M110 12v1"/>
<path stroke="#eea925" d="M5 9v2M6 9v2M11 10v1M12 10v1M14 6v1M62 28v1M63 28v1M64 28v1M65 14v1M66 5v1M69 35v1M73 7v3M78 17v10M86 35v1M90 23v11M92 13v1"/>
<path stroke="#f09b22" d="M5 11v1M6 11v1M11 11v1M12 11v1M55 11v1M56 11v1M57 11v1M65 15v1M68 5v1M73 10v10M78 27v9M82 7v1M90 34v2M92 14v4M95 13v9M96 14v1"/>
<path stroke="#f09122" d="M5 12v2M6 12v2M11 12v1M12 12v1M13 6v1M53 18v1M54 18v1M55 12v1M56 12v1M57 12v1M66 6v1M73 20v10M77 6v1M92 18v10M95 22v10"/>
<path stroke="#ef8622" d="M5 14v2M6 14v2M11 13v1M12 13v1M14 7v1M62 29v1M63 29v1M64 29v1M65 16v1M68 6v1M73 30v6M82 8v9M91 10v1M92 28v8M95 32v4M102 10v1M104 8v1M110 13v1"/>
<path stroke="#ef7c22" d="M5 16v2M6 16v2M11 14v1M12 14v1M13 7v1M14 8v1M53 19v1M54 19v1M55 13v1M56 13v1M57 13v1M65 17v1M82 17v10M96 15v5"/>
<path stroke="#ef7222" d="M5 18v2M6 18v2M11 15v1M12 15v1M13 8v1M14 9v1M55 14v1M56 14v1M57 14v1M62 30v1M63 30v1M64 30v1M65 18v1M66 7v1M77 7v1M82 27v9M96 20v9"/>
<path stroke="#ee6822" d="M5 20v2M6 20v2M11 16v1M12 16v1M13 9v1M14 10v1M53 20v1M54 20v1M55 15v1M56 15v1M57 15v1M59 0v7M60 0v6M61 0v7M65 19v1M66 8v7M68 7v1M91 11v7M96 29v7M104 9v1M110 14v1"/>
<path stroke="#ee5d22" d="M5 22v6M6 22v6M11 17v3M12 17v3M13 10v1M14 11v1M55 16v2M56 16v2M57 16v2M59 7v6M60 6v6M61 7v6M65 20v1M66 15v9M68 8v7M77 8v5M91 18v8M102 11v1"/>
<path stroke="#ed5323" d="M5 28v6M6 28v6M11 20v9M12 20v9M13 11v1M14 12v10M55 18v1M56 18v1M57 18v1M59 13v4M60 12v4M61 13v4M62 31v2M63 31v2M64 31v2M65 21v6M66 24v8M68 15v8M77 13v8M91 26v9M104 10v6"/>
<path stroke="#ec4825" d="M5 34v2M6 34v2M11 29v7M12 29v7M13 12v3M14 22v12M53 21v8M54 21v8M55 19v9M56 19v9M57 19v9M58 15v13M59 17v11M60 16v12M61 17v11M62 33v3M63 33v3M64 33v3M65 27v9M66 32v4M68 23v8M77 21v8M91 35v1M102 12v7M104 16v8M110 15v4"/>
<path stroke="#eb3d27" d="M3 0v36M13 15v12M14 34v2M53 29v7M54 29v7M55 28v8M56 28v8M57 28v8M58 0v15M58 28v8M59 28v8M60 28v8M61 28v8M68 31v5M77 29v7M102 19v8M104 24v8M110 19v7"/>
<path stroke="#e93328" d="M8 0v36M13 27v9M102 27v8M104 32v4M110 26v8"/>
<path stroke="#e8282a" d="M4 0v36M7 0v36M102 35v1M110 34v2"/>
</g>
</g>
<g stroke="#fff" stroke-width="2.3" stroke-dasharray="2.5 2.1" fill="none"><line x1="216.4" y1="344.6" x2="241" y2="365.4"/><line x1="265.2" y1="352.6" x2="270.6" y2="359.2"/><line x1="280.2" y1="351.6" x2="285.8" y2="357.4"/></g>
<clipPath id="cpa"><rect x="120.4" y="86.6" width="270" height="68.2"/></clipPath>
<g clip-path="url(#cpa)"><polyline fill="none" stroke="#2558a8" stroke-width="2" stroke-linejoin="round" points="120.4,150 121,149.3 121.6,149.1 122.2,148.4 122.8,148.2 123.4,147.8 124,147.4 124.6,148.1 125.2,150.2 125.8,151.8 126.4,151.6 127,151.9 127.6,151.8 128.2,151.7 128.8,151.5 129.4,151.2 130,151.1 130.6,150.8 131.2,151 131.8,150.3 132.4,150.2 133,150.3 133.6,150.8 134.2,150.6 134.8,149.4 135.4,148.2 136,147.8 136.6,148 137.2,148.6 137.8,149.3 138.4,150 139,150.1 139.6,149.2 140.2,149.3 140.8,149.2 141.4,148.5 142,148.7 142.6,148.6 143.2,148.4 143.8,147.9 144.4,147.4 145,147.6 145.6,147.3 146.2,147.2 146.8,147 147.4,147.1 148,146.9 148.6,147 149.2,146.4 149.8,146.8 150.4,146.8 151,147 151.6,146.9 152.2,146.8 152.8,146.9 153.4,146.3 154,146.5 154.6,145.8 155.2,146 155.8,145.6 156.4,146.3 157,146.3 157.6,146.2 158.2,146.7 158.8,146.1 159.4,146 160,145.9 160.6,145.5 161.2,145.7 161.8,146.1 162.4,145.9 163,146.2 163.6,145.8 164.2,146.3 164.8,146.4 165.4,146.4 166,146.5 166.6,146.7 167.2,146.5 167.8,147 168.4,146.4 169,146.8 169.6,146.8 170.2,146.5 170.8,146.9 171.4,147.4 172,147.3 172.6,147.1 173.2,146.7 173.8,147 174.4,147 175,147.2 175.6,147.3 176.2,147.8 176.8,147.7 177.4,147.7 178,147.6 178.6,147.3 179.2,147.1 179.8,147.5 180.4,147.5 181,147.3 181.6,147.7 182.2,147.9 182.8,148.1 183.4,147.8 184,147.9 184.6,147.7 185.2,148.2 185.8,148.5 186.4,148.5 187,148.3 187.6,148.7 188.2,148.8 188.8,148.5 189.4,148.9 190,148.8 190.6,148.6 191.2,148.5 191.8,148.9 192.4,148.5 193,149 193.6,148.7 194.2,148.4 194.8,148.7 195.4,148.6 196,148.3 196.6,148.5 197.2,148.5 197.8,148.5 198.4,148.5 199,149.1 199.6,148.7 200.2,148.4 200.8,148.5 201.4,148.6 202,148.9 202.6,149.3 203.2,149.1 203.8,149 204.4,148.8 205,148.7 205.6,148.5 206.2,148.9 206.8,148.5 207.4,149 208,148.8 208.6,149 209.2,149 209.8,148.8 210.4,148.5 211,148.8 211.6,148.2 212.2,148.5 212.8,148.5 213.4,148.5 214,148.4 214.6,148.5 215.2,148.4 215.8,148.6 216.4,148.1 217,148.5 217.6,148.5 218.2,148.3 218.8,149.2 219.4,148.9 220,148.7 220.6,149.1 221.2,148.5 221.8,148.7 222.4,148.7 223,148.3 223.6,148.5 224.2,148.5 224.8,148.7 225.4,148.4 226,148.6 226.6,148.7 227.2,149.1 227.8,148.9 228.4,149.3 229,148.9 229.6,149 230.2,149.1 230.8,148.8 231.4,149 232,149.1 232.6,149.2 233.2,149.5 233.8,149.2 234.4,149.2 235,149.1 235.6,149.3 236.2,149 236.8,149.2 237.4,149.2 238,149.6 238.6,149.6 239.2,149.6 239.8,149.7 240.4,149.6 241,150.1 241.6,150.2 242.2,150.1 242.8,150.1 243.4,150.2 244,150 244.6,149.6 245.2,149.9 245.8,149.5 246.4,149.8 247,150.3 247.6,150 248.2,150.4 248.8,150.1 249.4,149.8 250,149.9 250.6,149.7 251.2,149.8 251.8,149.6 252.4,150.2 253,150.2 253.6,150.1 254.2,150.5 254.8,150.2 255.4,149.9 256,149.1 256.6,149.5 257.2,149.3 257.8,148.8 258.4,149.2 259,149 259.6,148.8 260.2,149.3 260.8,149.8 261.4,149.3 262,149 262.6,148.9 263.2,149 263.8,148.7 264.4,148.7 265,149.3 265.6,149.1 266.2,148.7 266.8,148.7 267.4,148.9 268,148.8 268.6,148.7 269.2,148.4 269.8,148 270.4,148.3 271,147.5 271.6,147.8 272.2,148.1 272.8,147.9 273.4,148 274,147.7 274.6,147.7 275.2,148.3 275.8,147.8 276.4,147.5 277,147.7 277.6,147.2 278.2,147.3 278.8,147.1 279.4,147.4 280,146.5 280.6,146.9 281.2,146.8 281.8,146.3 282.4,146.8 283,146.5 283.6,146.9 284.2,146.2 284.8,146.5 285.4,146 286,146 286.6,145.5 287.2,145.9 287.8,145.4 288.4,145.5 289,145.4 289.6,145.5 290.2,145.3 290.8,145.9 291.4,146 292,145.5 292.6,145.3 293.2,145.5 293.8,145.6 294.4,145.5 295,144.6 295.6,144.9 296.2,144.4 296.8,144.2 297.4,144.3 298,144.6 298.6,144.1 299.2,144.9 299.8,144.6 300.4,144.2 301,144.1 301.6,143.9 302.2,144 302.8,143.6 303.4,143.2 304,143.5 304.6,143.3 305.2,142.7 305.8,142.7 306.4,142.4 307,142.2 307.6,141.9 308.2,141.7 308.8,141.8 309.4,141.7 310,142.3 310.6,142 311.2,142.9 311.8,142.9 312.4,143.5 313,143.3 313.6,143.4 314.2,143.3 314.8,142.6 315.4,142.2 316,142.4 316.6,142.4 317.2,142.4 317.8,142.5 318.4,142.5 319,141.9 319.6,142.2 320.2,142.1 320.8,141.6 321.4,141.2 322,141.5 322.6,141.3 323.2,141.5 323.8,141.1 324.4,141.1 325,140.5 325.6,141.1 326.2,141 326.8,140.7 327.4,140 328,140.5 328.6,139.7 329.2,140.2 329.8,140.3 330.4,140.1 331,140.3 331.6,140.4 332.2,140.7 332.8,140.5 333.4,140.6 334,139.8 334.6,140 335.2,140 335.8,140.1 336.4,140.4 337,140.8 337.6,140.1 338.2,140.3 338.8,140.4 339.4,140 340,140.1 340.6,140.1 341.2,140.5 341.8,139.9 342.4,140 343,139.7 343.6,139.7 344.2,138.8 344.8,139.4 345.4,139 346,139.1 346.6,139.1 347.2,138.6 347.8,138.2 348.4,138.4 349,138.4 349.6,138 350.2,138.4 350.8,138.2 351.4,138 352,138.4 352.6,138.8 353.2,138.7 353.8,138.7 354.4,139 355,138.8 355.6,138.1 356.2,138.4 356.8,138.6 357.4,138.7 358,139.1 358.6,138.7 359.2,138.4 359.8,137.8 360.4,137.7 361,137.4 361.6,138.9 362.2,138.8 362.8,138.6 363.4,138.4 364,138.8 364.6,138.7 365.2,138.9 365.8,139 366.4,139.6 367,139.4 367.6,139.5 368.2,139.5 368.8,139.6 369.4,139.6 370,139.4 370.6,139.7 371.2,139.5 371.8,139.3 372.4,139.1 373,138.5 373.6,137.8 374.2,137.8 374.8,137.6 375.4,137.4 376,137.6 376.6,137.9 377.2,138 377.8,137.4 378.4,137.5 379,137.4 379.6,136.8 380.2,137 380.8,137.3 381.4,137.4 382,137 382.6,137.2 383.2,137.6 383.8,137.4 384.4,137.5 385,137.1 385.6,137.6 386.2,137.4 386.8,137 387.4,137.2 388,137.2 388.6,137.4 389.2,137.2 389.8,137.6 390.4,137.5"/>
<polyline fill="none" stroke="#66bb48" stroke-width="2.2" stroke-linejoin="round" points="120.4,133 121,133.2 121.6,132.6 122.2,133.7 122.8,132.5 123.4,132.8 124,133 124.6,132.4 125.2,132.5 125.8,133 126.4,133 127,133.9 127.6,133.1 128.2,132.7 128.8,132.6 129.4,132.5 130,132.4 130.6,132.6 131.2,132.1 131.8,132.4 132.4,131.8 133,131.7 133.6,132 134.2,131.2 134.8,130.9 135.4,130.9 136,130.6 136.6,130.3 137.2,130.2 137.8,130.7 138.4,130.7 139,131 139.6,129.2 140.2,129.9 140.8,129.8 141.4,129.4 142,129.9 142.6,129.9 143.2,128.5 143.8,128.1 144.4,128.1 145,128.1 145.6,127.6 146.2,128.8 146.8,128.7 147.4,127.8 148,127.3 148.6,126.1 149.2,126.8 149.8,128.2 150.4,128.7 151,128 151.6,128.1 152.2,128.4 152.8,128.9 153.4,129.3 154,128.6 154.6,129 155.2,128.9 155.8,128.2 156.4,128.7 157,128.8 157.6,128.7 158.2,128.8 158.8,127.7 159.4,128.2 160,127.9 160.6,127.8 161.2,128.4 161.8,128.4 162.4,128.1 163,129.2 163.6,128.5 164.2,129.1 164.8,128.4 165.4,129.1 166,127.3 166.6,128 167.2,127.7 167.8,127 168.4,127.3 169,127.3 169.6,127.5 170.2,127.6 170.8,125.7 171.4,126.2 172,128.3 172.6,128.3 173.2,128.1 173.8,129.7 174.4,129.4 175,129.1 175.6,129.8 176.2,130.2 176.8,130 177.4,131 178,130.5 178.6,130.2 179.2,130.6 179.8,129.1 180.4,130.2 181,130.2 181.6,130.1 182.2,130.5 182.8,130.2 183.4,131.4 184,131.1 184.6,130.7 185.2,130.7 185.8,131 186.4,131.1 187,131.5 187.6,131.8 188.2,132.1 188.8,132.3 189.4,132.2 190,132.4 190.6,132.1 191.2,133.1 191.8,132.2 192.4,132.7 193,133.4 193.6,133.4 194.2,133.8 194.8,134 195.4,134.2 196,134.1 196.6,133.6 197.2,134.3 197.8,133.5 198.4,134.2 199,134.5 199.6,134.3 200.2,135 200.8,134.9 201.4,135.3 202,134.3 202.6,135.1 203.2,135 203.8,135 204.4,134.9 205,135.5 205.6,135.2 206.2,135 206.8,136.6 207.4,135.7 208,135.6 208.6,135.2 209.2,135.7 209.8,135.9 210.4,135.8 211,135.8 211.6,135.2 212.2,134.7 212.8,135.7 213.4,136.1 214,136.7 214.6,136.6 215.2,137.2 215.8,136.5 216.4,136.4 217,137.3 217.6,137 218.2,136.9 218.8,137.5 219.4,137.7 220,137.4 220.6,137.1 221.2,138.1 221.8,137.1 222.4,137.2 223,136.3 223.6,137.3 224.2,137.6 224.8,137.2 225.4,137.1 226,137.4 226.6,137.4 227.2,137.5 227.8,138.1 228.4,137.7 229,137.2 229.6,136.7 230.2,136.7 230.8,136.2 231.4,136.7 232,135.9 232.6,136.3 233.2,136.2 233.8,136.5 234.4,136.4 235,136.4 235.6,136 236.2,137 236.8,136.8 237.4,137.6 238,137.6 238.6,137.8 239.2,137.5 239.8,137 240.4,137.1 241,137.1 241.6,137.4 242.2,137.8 242.8,137.8 243.4,137.1 244,137.6 244.6,137.6 245.2,137.3 245.8,137.6 246.4,137.2 247,137.9 247.6,137.8 248.2,137.4 248.8,137.6 249.4,137.9 250,137.8 250.6,138.2 251.2,138.3 251.8,138 252.4,138.1 253,138.5 253.6,137.7 254.2,136.9 254.8,136.6 255.4,135.9 256,136.6 256.6,136.5 257.2,136.7 257.8,136.6 258.4,136.6 259,136.6 259.6,136.5 260.2,136.3 260.8,136.4 261.4,136.3 262,136.3 262.6,137.3 263.2,136.1 263.8,136.4 264.4,136 265,135.3 265.6,135.8 266.2,135.5 266.8,135.6 267.4,135.5 268,135.2 268.6,135.8 269.2,135.7 269.8,135.3 270.4,135.3 271,135 271.6,134.5 272.2,134.9 272.8,134.2 273.4,135.2 274,135.5 274.6,135.5 275.2,135.4 275.8,135.7 276.4,134.8 277,135.1 277.6,134.7 278.2,135.3 278.8,135.7 279.4,135.9 280,136.3 280.6,136.1 281.2,135.8 281.8,134.9 282.4,134.6 283,134.7 283.6,134.5 284.2,134.5 284.8,134.7 285.4,134.7 286,135.1 286.6,135.2 287.2,135 287.8,134.8 288.4,135.2 289,134.3 289.6,133.9 290.2,134.4 290.8,134.1 291.4,134.1 292,133.8 292.6,133.3 293.2,133.5 293.8,134.3 294.4,133.9 295,133.6 295.6,134.3 296.2,133.3 296.8,133.3 297.4,133.6 298,133.1 298.6,133.1 299.2,133.3 299.8,133.2 300.4,133.5 301,133 301.6,132.4 302.2,132.5 302.8,133.1 303.4,133.4 304,133.2 304.6,133.3 305.2,133.4 305.8,132.5 306.4,132.5 307,132 307.6,132.3 308.2,132.8 308.8,132 309.4,132.3 310,132.3 310.6,132.1 311.2,132.2 311.8,131.9 312.4,132.3 313,133.4 313.6,132.8 314.2,132.5 314.8,133.4 315.4,133.3 316,133.4 316.6,132.4 317.2,131.8 317.8,132.4 318.4,131.9 319,131 319.6,131.7 320.2,131.8 320.8,131.9 321.4,131.4 322,131.6 322.6,131.8 323.2,131.8 323.8,131.7 324.4,131.8 325,131.9 325.6,131.9 326.2,132.1 326.8,132.7 327.4,132.2 328,132.2 328.6,132.6 329.2,131.3 329.8,130.9 330.4,130.7 331,131.3 331.6,131.9 332.2,131.9 332.8,132.3 333.4,131.7 334,131.4 334.6,131.9 335.2,131.4 335.8,133.1 336.4,132.8 337,132.3 337.6,132.5 338.2,132.1 338.8,132.3 339.4,131.7 340,131.7 340.6,131.9 341.2,131.7 341.8,131.4 342.4,131.9 343,131.7 343.6,131.7 344.2,130.8 344.8,131.2 345.4,131 346,131 346.6,130.7 347.2,131.3 347.8,131.3 348.4,131.1 349,130.2 349.6,130.4 350.2,129.9 350.8,129.4 351.4,129.1 352,129.6 352.6,129.3 353.2,129.2 353.8,129.8 354.4,130.3 355,129.8 355.6,129.9 356.2,130 356.8,130.1 357.4,130.1 358,129.8 358.6,129.5 359.2,129.2 359.8,129 360.4,127.8 361,127.4 361.6,126.5 362.2,127.4 362.8,128 363.4,127 364,127.4 364.6,128 365.2,129 365.8,128.6 366.4,129.3 367,128.5 367.6,128.1 368.2,127.6 368.8,128.1 369.4,127.1 370,126.8 370.6,125.4 371.2,124.7 371.8,126.1 372.4,127.5 373,127.2 373.6,127.4 374.2,127.9 374.8,128.2 375.4,127.5 376,127.3 376.6,127.3 377.2,126.8 377.8,126.9 378.4,126.8 379,126.2 379.6,125.4 380.2,125.3 380.8,126.1 381.4,126.3 382,125.9 382.6,125.5 383.2,126.4 383.8,125.4 384.4,125.4 385,125.3 385.6,124.6 386.2,124.7 386.8,124 387.4,122.9 388,122.5 388.6,121.1 389.2,121.4 389.8,122.8 390.4,123.8"/>
<polyline fill="none" stroke="#e8242c" stroke-width="2" stroke-linejoin="round" points="120.4,107.3 121,106.8 121.6,106.7 122.2,106.2 122.8,106.7 123.4,105.8 124,106.6 124.6,106 125.2,106.2 125.8,106 126.4,106.6 127,105.8 127.6,106.2 128.2,106.3 128.8,106.8 129.4,106.2 130,106.4 130.6,106.3 131.2,106.4 131.8,106.2 132.4,105.8 133,106.4 133.6,106.1 134.2,105.6 134.8,105.5 135.4,104.8 136,104.9 136.6,104.8 137.2,105 137.8,105.2 138.4,104.9 139,105.2 139.6,105.1 140.2,105.3 140.8,105.6 141.4,105.8 142,105.1 142.6,105.3 143.2,105.5 143.8,104.8 144.4,104.4 145,104 145.6,103.8 146.2,104.3 146.8,103.5 147.4,103 148,103.3 148.6,103.6 149.2,102.9 149.8,103.1 150.4,103 151,102.7 151.6,102.7 152.2,102.7 152.8,102.8 153.4,102.8 154,103.1 154.6,103.4 155.2,103.5 155.8,103.8 156.4,103.4 157,104 157.6,103.6 158.2,103.4 158.8,103.7 159.4,103.9 160,104.4 160.6,104.9 161.2,105.2 161.8,104.3 162.4,104.4 163,104.6 163.6,104.7 164.2,105.1 164.8,104.8 165.4,104 166,104.5 166.6,104.9 167.2,104.4 167.8,104.6 168.4,104.3 169,104 169.6,103.8 170.2,104 170.8,103.9 171.4,103.6 172,103.4 172.6,103.7 173.2,103.4 173.8,103.4 174.4,103.8 175,103.2 175.6,102.8 176.2,102.8 176.8,103.5 177.4,103.5 178,103.6 178.6,104 179.2,103.8 179.8,104.2 180.4,103.6 181,104.2 181.6,104.3 182.2,104.6 182.8,104.3 183.4,104.8 184,105.1 184.6,104.8 185.2,105 185.8,105.2 186.4,105.1 187,105.3 187.6,106 188.2,105.8 188.8,106 189.4,105.3 190,105.9 190.6,104.9 191.2,105.6 191.8,105.5 192.4,105.9 193,105.7 193.6,106.4 194.2,106.5 194.8,105.5 195.4,106 196,106.3 196.6,106 197.2,105.5 197.8,105.9 198.4,105.7 199,105.6 199.6,105.4 200.2,106.2 200.8,106.3 201.4,106 202,105.8 202.6,105.3 203.2,105.5 203.8,105.5 204.4,105.7 205,106.1 205.6,106.7 206.2,106.8 206.8,106.9 207.4,106.5 208,106.7 208.6,106.5 209.2,106.4 209.8,106.2 210.4,106 211,105.1 211.6,106 212.2,106.3 212.8,106 213.4,105.8 214,106.2 214.6,106.4 215.2,106.5 215.8,106.4 216.4,106.7 217,106.1 217.6,106.2 218.2,106.2 218.8,106.1 219.4,106.2 220,106.7 220.6,106.7 221.2,106.8 221.8,106.2 222.4,106.4 223,107.1 223.6,107.8 224.2,107.8 224.8,108.1 225.4,108.5 226,108.8 226.6,108.3 227.2,108.5 227.8,108.3 228.4,108 229,108.6 229.6,108.9 230.2,108.9 230.8,108.7 231.4,108.5 232,108.8 232.6,108.8 233.2,109 233.8,108.7 234.4,109.3 235,109.1 235.6,109.4 236.2,108.8 236.8,108.7 237.4,108 238,108.7 238.6,108.8 239.2,109.3 239.8,109.7 240.4,109.6 241,109.9 241.6,109.3 242.2,110 242.8,108.9 243.4,108.6 244,108.5 244.6,108.7 245.2,108.1 245.8,108.8 246.4,108.1 247,108.1 247.6,108.7 248.2,108.6 248.8,108.7 249.4,109.2 250,109.1 250.6,108.7 251.2,109.2 251.8,108.7 252.4,109.4 253,108.9 253.6,109.5 254.2,109.1 254.8,108.7 255.4,109.3 256,107.4 256.6,106.9 257.2,108.1 257.8,108.4 258.4,108.8 259,108.9 259.6,108.8 260.2,109.4 260.8,109.3 261.4,108.9 262,108.7 262.6,109 263.2,108.8 263.8,109.3 264.4,109 265,109.1 265.6,109.3 266.2,109.3 266.8,110.4 267.4,112.3 268,109.1 268.6,105.1 269.2,108.1 269.8,107.6 270.4,107.9 271,107.6 271.6,106.8 272.2,107.2 272.8,106.7 273.4,105.9 274,106.4 274.6,105.9 275.2,105.6 275.8,105 276.4,105.2 277,105 277.6,105.7 278.2,105.6 278.8,105.8 279.4,106 280,105.6 280.6,105 281.2,105.1 281.8,104.5 282.4,104.8 283,104.7 283.6,104.8 284.2,104.6 284.8,104.1 285.4,104 286,104.1 286.6,104.8 287.2,104.4 287.8,105.2 288.4,104.5 289,104.3 289.6,104.1 290.2,104.1 290.8,103.3 291.4,102.9 292,102.7 292.6,102.8 293.2,102.4 293.8,102.5 294.4,102.7 295,102.8 295.6,102.7 296.2,102.3 296.8,102.6 297.4,102.6 298,102.6 298.6,103 299.2,102.4 299.8,102.9 300.4,103.1 301,102.4 301.6,102.1 302.2,101.9 302.8,101.7 303.4,102.2 304,101.6 304.6,101.7 305.2,101.9 305.8,101.4 306.4,102 307,101.8 307.6,101.5 308.2,101.2 308.8,102.2 309.4,101.2 310,101.1 310.6,101.3 311.2,101.2 311.8,101.3 312.4,101.9 313,102 313.6,102.3 314.2,101.9 314.8,102 315.4,102.1 316,101.2 316.6,101.7 317.2,101.3 317.8,101.6 318.4,101.4 319,101.9 319.6,101 320.2,101.2 320.8,101.5 321.4,100.9 322,100.5 322.6,100.5 323.2,100.6 323.8,100.8 324.4,101.3 325,101.8 325.6,101.5 326.2,101.9 326.8,101.6 327.4,101.8 328,101.6 328.6,101.9 329.2,102.2 329.8,101.9 330.4,102.5 331,102.7 331.6,102.4 332.2,102.6 332.8,102.9 333.4,103.2 334,103.8 334.6,103.9 335.2,103.9 335.8,103.7 336.4,103.7 337,104.1 337.6,102.9 338.2,103.7 338.8,104.3 339.4,105.1 340,104.9 340.6,104.2 341.2,105.1 341.8,105.2 342.4,105.2 343,104.9 343.6,105.2 344.2,104.8 344.8,105.4 345.4,105.2 346,105.7 346.6,105 347.2,104.7 347.8,105.3 348.4,105.3 349,105.2 349.6,104.9 350.2,105 350.8,105.5 351.4,105.4 352,105.7 352.6,105.9 353.2,106 353.8,106.3 354.4,105.9 355,106.8 355.6,106.5 356.2,106.6 356.8,106.2 357.4,106.9 358,106.4 358.6,106.7 359.2,106.5 359.8,109.6 360.4,111.4 361,107.1 361.6,104.7 362.2,106.5 362.8,106.8 363.4,107.2 364,106.8 364.6,106.9 365.2,107.4 365.8,107.8 366.4,107.5 367,108.3 367.6,108.3 368.2,107.7 368.8,106.9 369.4,107.1 370,107.3 370.6,107.9 371.2,107.2 371.8,106.8 372.4,107.2 373,107.5 373.6,107 374.2,107.3 374.8,107.8 375.4,107.2 376,107.3 376.6,107.6 377.2,107.7 377.8,107.8 378.4,108.3 379,108.2 379.6,108.1 380.2,107.8 380.8,108.5 381.4,108.2 382,108.2 382.6,108.4 383.2,108.3 383.8,107.8 384.4,107.4 385,106.7 385.6,106.8 386.2,107.2 386.8,106.9 387.4,107.5 388,108 388.6,109.3 389.2,110.9 389.8,112 390.4,109.9"/>
</g>
<clipPath id="cpb"><rect x="120.4" y="160.5" width="270" height="69.1"/></clipPath>
<g clip-path="url(#cpb)"><polyline fill="none" stroke="#000" stroke-width="2.6" stroke-linejoin="round" points="120.4,178 121.1,178.6 121.8,180.3 122.5,180.2 123.2,181.7 123.9,183.5 124.6,180.6 125.3,176.3 126,174.9 126.7,175.2 127.4,175.7 128.1,176.8 128.8,177.1 129.5,177.7 130.2,177.8 130.9,178.5 131.6,179.7 132.3,180.8 133,180.6 133.7,182 134.4,182.9 135.1,183.6 135.8,181.8 136.5,180.1 137.2,180.5 137.9,180.5 138.6,180.8 139.3,181 140,181.7 140.7,182.2 141.4,182.9 142.1,182.7 142.8,184.4 143.5,185.1 144.2,186.2 144.9,187.3 145.6,188.3 146.3,188.3 147,188 147.7,188.3 148.4,187.6 149.1,187.6 149.8,187.5 150.5,187.4 151.2,187.1 151.9,186.9 152.6,186.6 153.3,186.8 154,186.7 154.7,187.2 155.4,188 156.1,188 156.8,187.6 157.5,188 158.2,188.1 158.9,189.1 159.6,189.2 160.3,189.7 161,189.1 161.7,188.7 162.4,188.2 163.1,188.3 163.8,187.9 164.5,187.5 165.2,187.8 165.9,187.4 166.6,187.3 167.3,186.5 168,186.4 168.7,187.6 169.4,187.5 170.1,188.8 170.8,189.6 171.5,188.9 172.2,188 172.9,187 173.6,186.8 174.3,185.7 175,185 175.7,184.1 176.4,184.1 177.1,183.7 177.8,184.4 178.5,184.6 179.2,185.5 179.9,185.9 180.6,186.1 181.3,186.7 182,185.7 182.7,185 183.4,184.5 184.1,183.3 184.8,182.8 185.5,182.3 186.2,181.7 186.9,182.1 187.6,181.6 188.3,181.3 189,181.1 189.7,180.8 190.4,180.7 191.1,180.2 191.8,179.7 192.5,180 193.2,179.8 193.9,179.4 194.6,179.2 195.3,179.6 196,178.9 196.7,179.6 197.4,179.7 198.1,179.4 198.8,180.1 199.5,179.9 200.2,179.4 200.9,179.5 201.6,179.8 202.3,179.8 203,178.8 203.7,179 204.4,179.1 205.1,178.6 205.8,178.5 206.5,178.3 207.2,178 207.9,178 208.6,178.2 209.3,177.5 210,177.3 210.7,177.2 211.4,177.2 212.1,176.8 212.8,177 213.5,176.8 214.2,177.3 214.9,177.4 215.6,177.4 216.3,176.9 217,177 217.7,177.3 218.4,177.1 219.1,177.2 219.8,177.1 220.5,176.5 221.2,176.4 221.9,177.1 222.6,176.9 223.3,177.2 224,176.9 224.7,176.5 225.4,177.2 226.1,176.9 226.8,176.2 227.5,176.6 228.2,176.5 228.9,176.1 229.6,176.4 230.3,175.8 231,175.4 231.7,175.9 232.4,176.1 233.1,176.1 233.8,175.7 234.5,175.4 235.2,174.9 235.9,174.8 236.6,174.7 237.3,175 238,174.9 238.7,174.5 239.4,174.7 240.1,174.4 240.8,174.7 241.5,174.6 242.2,174.5 242.9,174.5 243.6,174.3 244.3,173.7 245,174.3 245.7,174.1 246.4,174.4 247.1,173.9 247.8,174.1 248.5,174.2 249.2,174 249.9,174.4 250.6,174.7 251.3,174.3 252,174.4 252.7,174.6 253.4,174.9 254.1,175.2 254.8,175.8 255.5,175.8 256.2,175.7 256.9,176.4 257.6,176.5 258.3,176.3 259,176.8 259.7,176.7 260.4,176.5 261.1,176.3 261.8,176.7 262.5,176.6 263.2,177.1 263.9,177.5 264.6,177.9 265.3,178.3 266,178.2 266.7,179.1 267.4,178.4 268.1,178.7 268.8,178.8 269.5,179.2 270.2,179.4 270.9,179.3 271.6,178.7 272.3,179.3 273,178.8 273.7,178.3 274.4,178.8 275.1,179 275.8,179.1 276.5,179.6 277.2,179.2 277.9,179.5 278.6,179.7 279.3,180.6 280,181.2 280.7,181.5 281.4,181.6 282.1,181.7 282.8,181.8 283.5,182 284.2,182.3 284.9,182.7 285.6,182.5 286.3,183.5 287,183.3 287.7,183.5 288.4,183.8 289.1,183.9 289.8,184 290.5,184 291.2,184.1 291.9,184.1 292.6,184.1 293.3,184.6 294,184.6 294.7,185 295.4,185 296.1,185.1 296.8,185.4 297.5,185.9 298.2,186.3 298.9,186.4 299.6,186.6 300.3,187.2 301,186.8 301.7,187.3 302.4,187.8 303.1,187.9 303.8,188.2 304.5,188.7 305.2,189.7 305.9,190.6 306.6,191.5 307.3,192 308,191.4 308.7,191 309.4,190.6 310.1,190.2 310.8,189.5 311.5,189.4 312.2,190.2 312.9,190.1 313.6,190.8 314.3,190.4 315,190.9 315.7,190.6 316.4,191 317.1,190.6 317.8,191.5 318.5,191.9 319.2,191.4 319.9,192.2 320.6,192.1 321.3,192.6 322,192.1 322.7,193.5 323.4,193.1 324.1,193 324.8,193.3 325.5,193.9 326.2,194.5 326.9,194.6 327.6,195.6 328.3,195.3 329,195.6 329.7,195.5 330.4,195.7 331.1,196.2 331.8,196.1 332.5,196.3 333.2,196.4 333.9,197 334.6,197.1 335.3,196.4 336,196.6 336.7,197.4 337.4,196.6 338.1,196.4 338.8,195.9 339.5,195.5 340.2,195.1 340.9,194.9 341.6,195.5 342.3,195.3 343,195.6 343.7,196.6 344.4,197.4 345.1,197.9 345.8,198.5 346.5,199.3 347.2,199 347.9,199.7 348.6,200.4 349.3,200.6 350,200.3 350.7,200.5 351.4,201.1 352.1,200.9 352.8,201.1 353.5,201.9 354.2,201.8 354.9,202.3 355.6,202.6 356.3,203 357,203.4 357.7,203.6 358.4,204.5 359.1,204.4 359.8,205 360.5,204.9 361.2,205.1 361.9,205.1 362.6,204.7 363.3,205.2 364,205 364.7,205.5 365.4,204.8 366.1,205.2 366.8,205.6 367.5,204.9 368.2,204.6 368.9,205 369.6,204.8 370.3,204.7 371,205.2 371.7,205.4 372.4,206.1 373.1,206.5 373.8,207.1 374.5,208 375.2,208.9 375.9,210.6 376.6,210 377.3,209.9 378,210.1 378.7,209.8 379.4,209.1 380.1,209.2 380.8,209.7 381.5,208.8 382.2,209.6 382.9,209.7 383.6,209.9 384.3,211.6 385,211.9 385.7,212.4 386.4,213.3 387.1,214.3 387.8,214.4 388.5,214.9 389.2,215.5 389.9,215.4"/>
</g>
<rect x="429" y="8" width="51.8" height="14.6" fill="#EC9F57"/>
<text x="487.6" y="19.8" font-size="13" fill="#1a1a1a" font-weight="bold">Magnetosphere</text>
<rect x="429" y="29" width="51.8" height="14.6" fill="#DD4F30"/>
<text x="487.6" y="39.7" font-size="13" fill="#1a1a1a" font-weight="bold">Cusp</text>
<rect x="429" y="50.1" width="51.8" height="14.6" fill="#9F609F"/>
<text x="487.6" y="61.7" font-size="13" fill="#1a1a1a" font-weight="bold">Boundary Layer</text>
<rect x="118.8" y="48.9" width="6.7" height="27.9" fill="#EC9F57"/>
<rect x="125.1" y="48.9" width="8" height="27.9" fill="#DD4F30"/>
<rect x="132.7" y="48.9" width="3.7" height="27.9" fill="#EC9F57"/>
<rect x="136" y="48.9" width="7.1" height="27.9" fill="#DD4F30"/>
<rect x="142.7" y="48.9" width="60.5" height="27.9" fill="#EC9F57"/>
<rect x="202.8" y="48.9" width="16.2" height="27.9" fill="#9F609F"/>
<rect x="218.6" y="48.9" width="84.6" height="27.9" fill="#DD4F30"/>
<rect x="302.8" y="48.9" width="87.6" height="27.9" fill="#EC9F57"/>
<text x="126.7" y="62.4" font-size="13" fill="#fff" transform="translate(126.7 0) scale(0.860 1) translate(-126.7 0)" text-anchor="middle" font-weight="bold">1</text>
<text x="137.1" y="62.4" font-size="13" fill="#fff" transform="translate(137.1 0) scale(0.860 1) translate(-137.1 0)" text-anchor="middle" font-weight="bold">2</text>
<text x="168.2" y="62.4" font-size="13" fill="#fff" transform="translate(168.2 0) scale(0.860 1) translate(-168.2 0)" text-anchor="middle" font-weight="bold">M</text>
<text x="209.5" y="62.4" font-size="13" fill="#fff" transform="translate(209.5 0) scale(0.860 1) translate(-209.5 0)" text-anchor="middle" font-weight="bold">BL</text>
<text x="257.3" y="62.4" font-size="13" fill="#fff" transform="translate(257.3 0) scale(0.860 1) translate(-257.3 0)" text-anchor="middle" font-weight="bold">Cusp3</text>
<text x="339.2" y="62.4" font-size="13" fill="#fff" transform="translate(339.2 0) scale(0.860 1) translate(-339.2 0)" text-anchor="middle" font-weight="bold">M</text>
<line x1="125.3" y1="86.6" x2="125.3" y2="160.5" stroke="#4c4848" stroke-width="1.4" stroke-dasharray="21.5 4.5" stroke-dashoffset="13.7"/>
<line x1="125.3" y1="160.5" x2="125.3" y2="235.4" stroke="#4c4848" stroke-width="1.4" stroke-dasharray="21.5 4.5" stroke-dashoffset="13.7"/>
<line x1="125.3" y1="235.4" x2="125.3" y2="309.4" stroke="#4c4848" stroke-width="1.4" stroke-dasharray="21.5 4.5" stroke-dashoffset="13.7"/>
<line x1="125.3" y1="309.4" x2="125.3" y2="378.6" stroke="#4c4848" stroke-width="1.4" stroke-dasharray="21.5 4.5" stroke-dashoffset="13.7"/>
<line x1="133.2" y1="86.6" x2="133.2" y2="160.5" stroke="#4c4848" stroke-width="1.4" stroke-dasharray="21.5 4.5" stroke-dashoffset="13.7"/>
<line x1="133.2" y1="160.5" x2="133.2" y2="235.4" stroke="#4c4848" stroke-width="1.4" stroke-dasharray="21.5 4.5" stroke-dashoffset="13.7"/>
<line x1="133.2" y1="235.4" x2="133.2" y2="309.4" stroke="#4c4848" stroke-width="1.4" stroke-dasharray="21.5 4.5" stroke-dashoffset="13.7"/>
<line x1="133.2" y1="309.4" x2="133.2" y2="378.6" stroke="#4c4848" stroke-width="1.4" stroke-dasharray="21.5 4.5" stroke-dashoffset="13.7"/>
<line x1="136.6" y1="86.6" x2="136.6" y2="160.5" stroke="#4c4848" stroke-width="1.4" stroke-dasharray="21.5 4.5" stroke-dashoffset="13.7"/>
<line x1="136.6" y1="160.5" x2="136.6" y2="235.4" stroke="#4c4848" stroke-width="1.4" stroke-dasharray="21.5 4.5" stroke-dashoffset="13.7"/>
<line x1="136.6" y1="235.4" x2="136.6" y2="309.4" stroke="#4c4848" stroke-width="1.4" stroke-dasharray="21.5 4.5" stroke-dashoffset="13.7"/>
<line x1="136.6" y1="309.4" x2="136.6" y2="378.6" stroke="#4c4848" stroke-width="1.4" stroke-dasharray="21.5 4.5" stroke-dashoffset="13.7"/>
<line x1="142.8" y1="86.6" x2="142.8" y2="160.5" stroke="#4c4848" stroke-width="1.4" stroke-dasharray="21.5 4.5" stroke-dashoffset="13.7"/>
<line x1="142.8" y1="160.5" x2="142.8" y2="235.4" stroke="#4c4848" stroke-width="1.4" stroke-dasharray="21.5 4.5" stroke-dashoffset="13.7"/>
<line x1="142.8" y1="235.4" x2="142.8" y2="309.4" stroke="#4c4848" stroke-width="1.4" stroke-dasharray="21.5 4.5" stroke-dashoffset="13.7"/>
<line x1="142.8" y1="309.4" x2="142.8" y2="378.6" stroke="#4c4848" stroke-width="1.4" stroke-dasharray="21.5 4.5" stroke-dashoffset="13.7"/>
<line x1="203" y1="86.6" x2="203" y2="160.5" stroke="#4c4848" stroke-width="1.4" stroke-dasharray="21.5 4.5" stroke-dashoffset="13.7"/>
<line x1="203" y1="160.5" x2="203" y2="235.4" stroke="#4c4848" stroke-width="1.4" stroke-dasharray="21.5 4.5" stroke-dashoffset="13.7"/>
<line x1="203" y1="235.4" x2="203" y2="309.4" stroke="#4c4848" stroke-width="1.4" stroke-dasharray="21.5 4.5" stroke-dashoffset="13.7"/>
<line x1="203" y1="309.4" x2="203" y2="378.6" stroke="#4c4848" stroke-width="1.4" stroke-dasharray="21.5 4.5" stroke-dashoffset="13.7"/>
<line x1="218.6" y1="86.6" x2="218.6" y2="160.5" stroke="#4c4848" stroke-width="1.4" stroke-dasharray="21.5 4.5" stroke-dashoffset="13.7"/>
<line x1="218.6" y1="160.5" x2="218.6" y2="235.4" stroke="#4c4848" stroke-width="1.4" stroke-dasharray="21.5 4.5" stroke-dashoffset="13.7"/>
<line x1="218.6" y1="235.4" x2="218.6" y2="309.4" stroke="#4c4848" stroke-width="1.4" stroke-dasharray="21.5 4.5" stroke-dashoffset="13.7"/>
<line x1="218.6" y1="309.4" x2="218.6" y2="378.6" stroke="#4c4848" stroke-width="1.4" stroke-dasharray="21.5 4.5" stroke-dashoffset="13.7"/>
<line x1="303" y1="86.6" x2="303" y2="160.5" stroke="#4c4848" stroke-width="1.4" stroke-dasharray="21.5 4.5" stroke-dashoffset="13.7"/>
<line x1="303" y1="160.5" x2="303" y2="235.4" stroke="#4c4848" stroke-width="1.4" stroke-dasharray="21.5 4.5" stroke-dashoffset="13.7"/>
<line x1="303" y1="235.4" x2="303" y2="309.4" stroke="#4c4848" stroke-width="1.4" stroke-dasharray="21.5 4.5" stroke-dashoffset="13.7"/>
<line x1="303" y1="309.4" x2="303" y2="378.6" stroke="#4c4848" stroke-width="1.4" stroke-dasharray="21.5 4.5" stroke-dashoffset="13.7"/>
<line x1="126.3" y1="386.2" x2="126.3" y2="461.8" stroke="#fff" stroke-width="2" stroke-dasharray="20.6 6.4" stroke-dashoffset="12.5"/>
<line x1="134.3" y1="386.2" x2="134.3" y2="461.8" stroke="#fff" stroke-width="1.7" stroke-dasharray="20.6 6.4" stroke-dashoffset="12.5"/>
<line x1="138" y1="386.2" x2="138" y2="461.8" stroke="#fff" stroke-width="1.7" stroke-dasharray="20.6 6.4" stroke-dashoffset="12.5"/>
<line x1="143.9" y1="386.2" x2="143.9" y2="461.8" stroke="#fff" stroke-width="1.7" stroke-dasharray="20.6 6.4" stroke-dashoffset="12.5"/>
<line x1="204" y1="386.2" x2="204" y2="461.8" stroke="#fff" stroke-width="2.7" stroke-dasharray="20.6 6.4" stroke-dashoffset="12.5"/>
<line x1="219.6" y1="386.2" x2="219.6" y2="461.8" stroke="#fff" stroke-width="2.5" stroke-dasharray="20.6 6.4" stroke-dashoffset="12.5"/>
<line x1="304" y1="386.2" x2="304" y2="461.8" stroke="#fff" stroke-width="2.6" stroke-dasharray="20.6 6.4" stroke-dashoffset="12.5"/>
<rect x="120.4" y="86.6" width="270" height="68.2" fill="none" stroke="#000" stroke-width="1.3"/>
<rect x="120.4" y="160.5" width="270" height="69.1" fill="none" stroke="#000" stroke-width="1.3"/>
<rect x="120.4" y="235.4" width="270" height="68.8" fill="none" stroke="#000" stroke-width="1.3"/>
<rect x="120.4" y="309.4" width="270" height="69.2" fill="none" stroke="#000" stroke-width="1.3"/>
<rect x="120.4" y="386.2" width="270" height="75.6" fill="none" stroke="#000" stroke-width="1.3"/>
<line x1="128.8" y1="154.8" x2="128.8" y2="153.5" stroke="#000" stroke-width="0.9"/>
<line x1="128.8" y1="86.6" x2="128.8" y2="87.9" stroke="#000" stroke-width="0.9"/>
<line x1="143" y1="154.8" x2="143" y2="153.5" stroke="#000" stroke-width="0.9"/>
<line x1="143" y1="86.6" x2="143" y2="87.9" stroke="#000" stroke-width="0.9"/>
<line x1="157.3" y1="154.8" x2="157.3" y2="152.9" stroke="#000" stroke-width="0.9"/>
<line x1="157.3" y1="86.6" x2="157.3" y2="88.5" stroke="#000" stroke-width="0.9"/>
<line x1="171.6" y1="154.8" x2="171.6" y2="153.5" stroke="#000" stroke-width="0.9"/>
<line x1="171.6" y1="86.6" x2="171.6" y2="87.9" stroke="#000" stroke-width="0.9"/>
<line x1="185.8" y1="154.8" x2="185.8" y2="153.5" stroke="#000" stroke-width="0.9"/>
<line x1="185.8" y1="86.6" x2="185.8" y2="87.9" stroke="#000" stroke-width="0.9"/>
<line x1="200.1" y1="154.8" x2="200.1" y2="153.5" stroke="#000" stroke-width="0.9"/>
<line x1="200.1" y1="86.6" x2="200.1" y2="87.9" stroke="#000" stroke-width="0.9"/>
<line x1="214.3" y1="154.8" x2="214.3" y2="152.9" stroke="#000" stroke-width="0.9"/>
<line x1="214.3" y1="86.6" x2="214.3" y2="88.5" stroke="#000" stroke-width="0.9"/>
<line x1="228.6" y1="154.8" x2="228.6" y2="153.5" stroke="#000" stroke-width="0.9"/>
<line x1="228.6" y1="86.6" x2="228.6" y2="87.9" stroke="#000" stroke-width="0.9"/>
<line x1="242.9" y1="154.8" x2="242.9" y2="153.5" stroke="#000" stroke-width="0.9"/>
<line x1="242.9" y1="86.6" x2="242.9" y2="87.9" stroke="#000" stroke-width="0.9"/>
<line x1="257.1" y1="154.8" x2="257.1" y2="153.5" stroke="#000" stroke-width="0.9"/>
<line x1="257.1" y1="86.6" x2="257.1" y2="87.9" stroke="#000" stroke-width="0.9"/>
<line x1="271.4" y1="154.8" x2="271.4" y2="152.9" stroke="#000" stroke-width="0.9"/>
<line x1="271.4" y1="86.6" x2="271.4" y2="88.5" stroke="#000" stroke-width="0.9"/>
<line x1="285.6" y1="154.8" x2="285.6" y2="153.5" stroke="#000" stroke-width="0.9"/>
<line x1="285.6" y1="86.6" x2="285.6" y2="87.9" stroke="#000" stroke-width="0.9"/>
<line x1="299.9" y1="154.8" x2="299.9" y2="153.5" stroke="#000" stroke-width="0.9"/>
<line x1="299.9" y1="86.6" x2="299.9" y2="87.9" stroke="#000" stroke-width="0.9"/>
<line x1="314.2" y1="154.8" x2="314.2" y2="153.5" stroke="#000" stroke-width="0.9"/>
<line x1="314.2" y1="86.6" x2="314.2" y2="87.9" stroke="#000" stroke-width="0.9"/>
<line x1="328.4" y1="154.8" x2="328.4" y2="152.9" stroke="#000" stroke-width="0.9"/>
<line x1="328.4" y1="86.6" x2="328.4" y2="88.5" stroke="#000" stroke-width="0.9"/>
<line x1="342.7" y1="154.8" x2="342.7" y2="153.5" stroke="#000" stroke-width="0.9"/>
<line x1="342.7" y1="86.6" x2="342.7" y2="87.9" stroke="#000" stroke-width="0.9"/>
<line x1="356.9" y1="154.8" x2="356.9" y2="153.5" stroke="#000" stroke-width="0.9"/>
<line x1="356.9" y1="86.6" x2="356.9" y2="87.9" stroke="#000" stroke-width="0.9"/>
<line x1="371.2" y1="154.8" x2="371.2" y2="153.5" stroke="#000" stroke-width="0.9"/>
<line x1="371.2" y1="86.6" x2="371.2" y2="87.9" stroke="#000" stroke-width="0.9"/>
<line x1="385.5" y1="154.8" x2="385.5" y2="152.9" stroke="#000" stroke-width="0.9"/>
<line x1="385.5" y1="86.6" x2="385.5" y2="88.5" stroke="#000" stroke-width="0.9"/>
<line x1="128.8" y1="229.6" x2="128.8" y2="228.3" stroke="#000" stroke-width="0.9"/>
<line x1="128.8" y1="160.5" x2="128.8" y2="161.8" stroke="#000" stroke-width="0.9"/>
<line x1="143" y1="229.6" x2="143" y2="228.3" stroke="#000" stroke-width="0.9"/>
<line x1="143" y1="160.5" x2="143" y2="161.8" stroke="#000" stroke-width="0.9"/>
<line x1="157.3" y1="229.6" x2="157.3" y2="227.7" stroke="#000" stroke-width="0.9"/>
<line x1="157.3" y1="160.5" x2="157.3" y2="162.4" stroke="#000" stroke-width="0.9"/>
<line x1="171.6" y1="229.6" x2="171.6" y2="228.3" stroke="#000" stroke-width="0.9"/>
<line x1="171.6" y1="160.5" x2="171.6" y2="161.8" stroke="#000" stroke-width="0.9"/>
<line x1="185.8" y1="229.6" x2="185.8" y2="228.3" stroke="#000" stroke-width="0.9"/>
<line x1="185.8" y1="160.5" x2="185.8" y2="161.8" stroke="#000" stroke-width="0.9"/>
<line x1="200.1" y1="229.6" x2="200.1" y2="228.3" stroke="#000" stroke-width="0.9"/>
<line x1="200.1" y1="160.5" x2="200.1" y2="161.8" stroke="#000" stroke-width="0.9"/>
<line x1="214.3" y1="229.6" x2="214.3" y2="227.7" stroke="#000" stroke-width="0.9"/>
<line x1="214.3" y1="160.5" x2="214.3" y2="162.4" stroke="#000" stroke-width="0.9"/>
<line x1="228.6" y1="229.6" x2="228.6" y2="228.3" stroke="#000" stroke-width="0.9"/>
<line x1="228.6" y1="160.5" x2="228.6" y2="161.8" stroke="#000" stroke-width="0.9"/>
<line x1="242.9" y1="229.6" x2="242.9" y2="228.3" stroke="#000" stroke-width="0.9"/>
<line x1="242.9" y1="160.5" x2="242.9" y2="161.8" stroke="#000" stroke-width="0.9"/>
<line x1="257.1" y1="229.6" x2="257.1" y2="228.3" stroke="#000" stroke-width="0.9"/>
<line x1="257.1" y1="160.5" x2="257.1" y2="161.8" stroke="#000" stroke-width="0.9"/>
<line x1="271.4" y1="229.6" x2="271.4" y2="227.7" stroke="#000" stroke-width="0.9"/>
<line x1="271.4" y1="160.5" x2="271.4" y2="162.4" stroke="#000" stroke-width="0.9"/>
<line x1="285.6" y1="229.6" x2="285.6" y2="228.3" stroke="#000" stroke-width="0.9"/>
<line x1="285.6" y1="160.5" x2="285.6" y2="161.8" stroke="#000" stroke-width="0.9"/>
<line x1="299.9" y1="229.6" x2="299.9" y2="228.3" stroke="#000" stroke-width="0.9"/>
<line x1="299.9" y1="160.5" x2="299.9" y2="161.8" stroke="#000" stroke-width="0.9"/>
<line x1="314.2" y1="229.6" x2="314.2" y2="228.3" stroke="#000" stroke-width="0.9"/>
<line x1="314.2" y1="160.5" x2="314.2" y2="161.8" stroke="#000" stroke-width="0.9"/>
<line x1="328.4" y1="229.6" x2="328.4" y2="227.7" stroke="#000" stroke-width="0.9"/>
<line x1="328.4" y1="160.5" x2="328.4" y2="162.4" stroke="#000" stroke-width="0.9"/>
<line x1="342.7" y1="229.6" x2="342.7" y2="228.3" stroke="#000" stroke-width="0.9"/>
<line x1="342.7" y1="160.5" x2="342.7" y2="161.8" stroke="#000" stroke-width="0.9"/>
<line x1="356.9" y1="229.6" x2="356.9" y2="228.3" stroke="#000" stroke-width="0.9"/>
<line x1="356.9" y1="160.5" x2="356.9" y2="161.8" stroke="#000" stroke-width="0.9"/>
<line x1="371.2" y1="229.6" x2="371.2" y2="228.3" stroke="#000" stroke-width="0.9"/>
<line x1="371.2" y1="160.5" x2="371.2" y2="161.8" stroke="#000" stroke-width="0.9"/>
<line x1="385.5" y1="229.6" x2="385.5" y2="227.7" stroke="#000" stroke-width="0.9"/>
<line x1="385.5" y1="160.5" x2="385.5" y2="162.4" stroke="#000" stroke-width="0.9"/>
<line x1="128.8" y1="461.8" x2="128.8" y2="464" stroke="#000" stroke-width="0.9"/>
<line x1="128.8" y1="304.2" x2="128.8" y2="303" stroke="#000" stroke-width="0.8"/>
<line x1="128.8" y1="378.6" x2="128.8" y2="377.4" stroke="#000" stroke-width="0.8"/>
<line x1="143" y1="461.8" x2="143" y2="464" stroke="#000" stroke-width="0.9"/>
<line x1="143" y1="304.2" x2="143" y2="303" stroke="#000" stroke-width="0.8"/>
<line x1="143" y1="378.6" x2="143" y2="377.4" stroke="#000" stroke-width="0.8"/>
<line x1="157.3" y1="461.8" x2="157.3" y2="465" stroke="#000" stroke-width="0.9"/>
<line x1="157.3" y1="304.2" x2="157.3" y2="303" stroke="#000" stroke-width="0.8"/>
<line x1="157.3" y1="378.6" x2="157.3" y2="377.4" stroke="#000" stroke-width="0.8"/>
<line x1="171.6" y1="461.8" x2="171.6" y2="464" stroke="#000" stroke-width="0.9"/>
<line x1="171.6" y1="304.2" x2="171.6" y2="303" stroke="#000" stroke-width="0.8"/>
<line x1="171.6" y1="378.6" x2="171.6" y2="377.4" stroke="#000" stroke-width="0.8"/>
<line x1="185.8" y1="461.8" x2="185.8" y2="464" stroke="#000" stroke-width="0.9"/>
<line x1="185.8" y1="304.2" x2="185.8" y2="303" stroke="#000" stroke-width="0.8"/>
<line x1="185.8" y1="378.6" x2="185.8" y2="377.4" stroke="#000" stroke-width="0.8"/>
<line x1="200.1" y1="461.8" x2="200.1" y2="464" stroke="#000" stroke-width="0.9"/>
<line x1="200.1" y1="304.2" x2="200.1" y2="303" stroke="#000" stroke-width="0.8"/>
<line x1="200.1" y1="378.6" x2="200.1" y2="377.4" stroke="#000" stroke-width="0.8"/>
<line x1="214.3" y1="461.8" x2="214.3" y2="465" stroke="#000" stroke-width="0.9"/>
<line x1="214.3" y1="304.2" x2="214.3" y2="303" stroke="#000" stroke-width="0.8"/>
<line x1="214.3" y1="378.6" x2="214.3" y2="377.4" stroke="#000" stroke-width="0.8"/>
<line x1="228.6" y1="461.8" x2="228.6" y2="464" stroke="#000" stroke-width="0.9"/>
<line x1="228.6" y1="304.2" x2="228.6" y2="303" stroke="#000" stroke-width="0.8"/>
<line x1="228.6" y1="378.6" x2="228.6" y2="377.4" stroke="#000" stroke-width="0.8"/>
<line x1="242.9" y1="461.8" x2="242.9" y2="464" stroke="#000" stroke-width="0.9"/>
<line x1="242.9" y1="304.2" x2="242.9" y2="303" stroke="#000" stroke-width="0.8"/>
<line x1="242.9" y1="378.6" x2="242.9" y2="377.4" stroke="#000" stroke-width="0.8"/>
<line x1="257.1" y1="461.8" x2="257.1" y2="464" stroke="#000" stroke-width="0.9"/>
<line x1="257.1" y1="304.2" x2="257.1" y2="303" stroke="#000" stroke-width="0.8"/>
<line x1="257.1" y1="378.6" x2="257.1" y2="377.4" stroke="#000" stroke-width="0.8"/>
<line x1="271.4" y1="461.8" x2="271.4" y2="465" stroke="#000" stroke-width="0.9"/>
<line x1="271.4" y1="304.2" x2="271.4" y2="303" stroke="#000" stroke-width="0.8"/>
<line x1="271.4" y1="378.6" x2="271.4" y2="377.4" stroke="#000" stroke-width="0.8"/>
<line x1="285.6" y1="461.8" x2="285.6" y2="464" stroke="#000" stroke-width="0.9"/>
<line x1="285.6" y1="304.2" x2="285.6" y2="303" stroke="#000" stroke-width="0.8"/>
<line x1="285.6" y1="378.6" x2="285.6" y2="377.4" stroke="#000" stroke-width="0.8"/>
<line x1="299.9" y1="461.8" x2="299.9" y2="464" stroke="#000" stroke-width="0.9"/>
<line x1="299.9" y1="304.2" x2="299.9" y2="303" stroke="#000" stroke-width="0.8"/>
<line x1="299.9" y1="378.6" x2="299.9" y2="377.4" stroke="#000" stroke-width="0.8"/>
<line x1="314.2" y1="461.8" x2="314.2" y2="464" stroke="#000" stroke-width="0.9"/>
<line x1="314.2" y1="304.2" x2="314.2" y2="303" stroke="#000" stroke-width="0.8"/>
<line x1="314.2" y1="378.6" x2="314.2" y2="377.4" stroke="#000" stroke-width="0.8"/>
<line x1="328.4" y1="461.8" x2="328.4" y2="465" stroke="#000" stroke-width="0.9"/>
<line x1="328.4" y1="304.2" x2="328.4" y2="303" stroke="#000" stroke-width="0.8"/>
<line x1="328.4" y1="378.6" x2="328.4" y2="377.4" stroke="#000" stroke-width="0.8"/>
<line x1="342.7" y1="461.8" x2="342.7" y2="464" stroke="#000" stroke-width="0.9"/>
<line x1="342.7" y1="304.2" x2="342.7" y2="303" stroke="#000" stroke-width="0.8"/>
<line x1="342.7" y1="378.6" x2="342.7" y2="377.4" stroke="#000" stroke-width="0.8"/>
<line x1="356.9" y1="461.8" x2="356.9" y2="464" stroke="#000" stroke-width="0.9"/>
<line x1="356.9" y1="304.2" x2="356.9" y2="303" stroke="#000" stroke-width="0.8"/>
<line x1="356.9" y1="378.6" x2="356.9" y2="377.4" stroke="#000" stroke-width="0.8"/>
<line x1="371.2" y1="461.8" x2="371.2" y2="464" stroke="#000" stroke-width="0.9"/>
<line x1="371.2" y1="304.2" x2="371.2" y2="303" stroke="#000" stroke-width="0.8"/>
<line x1="371.2" y1="378.6" x2="371.2" y2="377.4" stroke="#000" stroke-width="0.8"/>
<line x1="385.5" y1="461.8" x2="385.5" y2="465" stroke="#000" stroke-width="0.9"/>
<line x1="385.5" y1="304.2" x2="385.5" y2="303" stroke="#000" stroke-width="0.8"/>
<line x1="385.5" y1="378.6" x2="385.5" y2="377.4" stroke="#000" stroke-width="0.8"/>
<line x1="120.4" y1="152.2" x2="122.3" y2="152.2" stroke="#000" stroke-width="0.8"/>
<line x1="390.4" y1="152.2" x2="388.5" y2="152.2" stroke="#000" stroke-width="0.8"/>
<line x1="120.4" y1="149.5" x2="122.3" y2="149.5" stroke="#000" stroke-width="0.8"/>
<line x1="390.4" y1="149.5" x2="388.5" y2="149.5" stroke="#000" stroke-width="0.8"/>
<line x1="120.4" y1="146.7" x2="122.3" y2="146.7" stroke="#000" stroke-width="0.8"/>
<line x1="390.4" y1="146.7" x2="388.5" y2="146.7" stroke="#000" stroke-width="0.8"/>
<line x1="120.4" y1="144" x2="122.3" y2="144" stroke="#000" stroke-width="0.8"/>
<line x1="390.4" y1="144" x2="388.5" y2="144" stroke="#000" stroke-width="0.8"/>
<line x1="120.4" y1="141.3" x2="124" y2="141.3" stroke="#000" stroke-width="0.8"/>
<line x1="390.4" y1="141.3" x2="386.8" y2="141.3" stroke="#000" stroke-width="0.8"/>
<line x1="120.4" y1="138.6" x2="122.3" y2="138.6" stroke="#000" stroke-width="0.8"/>
<line x1="390.4" y1="138.6" x2="388.5" y2="138.6" stroke="#000" stroke-width="0.8"/>
<line x1="120.4" y1="135.9" x2="122.3" y2="135.9" stroke="#000" stroke-width="0.8"/>
<line x1="390.4" y1="135.9" x2="388.5" y2="135.9" stroke="#000" stroke-width="0.8"/>
<line x1="120.4" y1="133.1" x2="122.3" y2="133.1" stroke="#000" stroke-width="0.8"/>
<line x1="390.4" y1="133.1" x2="388.5" y2="133.1" stroke="#000" stroke-width="0.8"/>
<line x1="120.4" y1="130.4" x2="122.3" y2="130.4" stroke="#000" stroke-width="0.8"/>
<line x1="390.4" y1="130.4" x2="388.5" y2="130.4" stroke="#000" stroke-width="0.8"/>
<line x1="120.4" y1="127.7" x2="124" y2="127.7" stroke="#000" stroke-width="0.8"/>
<line x1="390.4" y1="127.7" x2="386.8" y2="127.7" stroke="#000" stroke-width="0.8"/>
<line x1="120.4" y1="125" x2="122.3" y2="125" stroke="#000" stroke-width="0.8"/>
<line x1="390.4" y1="125" x2="388.5" y2="125" stroke="#000" stroke-width="0.8"/>
<line x1="120.4" y1="122.3" x2="122.3" y2="122.3" stroke="#000" stroke-width="0.8"/>
<line x1="390.4" y1="122.3" x2="388.5" y2="122.3" stroke="#000" stroke-width="0.8"/>
<line x1="120.4" y1="119.5" x2="122.3" y2="119.5" stroke="#000" stroke-width="0.8"/>
<line x1="390.4" y1="119.5" x2="388.5" y2="119.5" stroke="#000" stroke-width="0.8"/>
<line x1="120.4" y1="116.8" x2="122.3" y2="116.8" stroke="#000" stroke-width="0.8"/>
<line x1="390.4" y1="116.8" x2="388.5" y2="116.8" stroke="#000" stroke-width="0.8"/>
<line x1="120.4" y1="114.1" x2="124" y2="114.1" stroke="#000" stroke-width="0.8"/>
<line x1="390.4" y1="114.1" x2="386.8" y2="114.1" stroke="#000" stroke-width="0.8"/>
<line x1="120.4" y1="111.4" x2="122.3" y2="111.4" stroke="#000" stroke-width="0.8"/>
<line x1="390.4" y1="111.4" x2="388.5" y2="111.4" stroke="#000" stroke-width="0.8"/>
<line x1="120.4" y1="108.7" x2="122.3" y2="108.7" stroke="#000" stroke-width="0.8"/>
<line x1="390.4" y1="108.7" x2="388.5" y2="108.7" stroke="#000" stroke-width="0.8"/>
<line x1="120.4" y1="105.9" x2="122.3" y2="105.9" stroke="#000" stroke-width="0.8"/>
<line x1="390.4" y1="105.9" x2="388.5" y2="105.9" stroke="#000" stroke-width="0.8"/>
<line x1="120.4" y1="103.2" x2="122.3" y2="103.2" stroke="#000" stroke-width="0.8"/>
<line x1="390.4" y1="103.2" x2="388.5" y2="103.2" stroke="#000" stroke-width="0.8"/>
<line x1="120.4" y1="100.5" x2="124" y2="100.5" stroke="#000" stroke-width="0.8"/>
<line x1="390.4" y1="100.5" x2="386.8" y2="100.5" stroke="#000" stroke-width="0.8"/>
<line x1="120.4" y1="97.8" x2="122.3" y2="97.8" stroke="#000" stroke-width="0.8"/>
<line x1="390.4" y1="97.8" x2="388.5" y2="97.8" stroke="#000" stroke-width="0.8"/>
<line x1="120.4" y1="95.1" x2="122.3" y2="95.1" stroke="#000" stroke-width="0.8"/>
<line x1="390.4" y1="95.1" x2="388.5" y2="95.1" stroke="#000" stroke-width="0.8"/>
<line x1="120.4" y1="92.3" x2="122.3" y2="92.3" stroke="#000" stroke-width="0.8"/>
<line x1="390.4" y1="92.3" x2="388.5" y2="92.3" stroke="#000" stroke-width="0.8"/>
<line x1="120.4" y1="89.6" x2="122.3" y2="89.6" stroke="#000" stroke-width="0.8"/>
<line x1="390.4" y1="89.6" x2="388.5" y2="89.6" stroke="#000" stroke-width="0.8"/>
<text x="115.6" y="92.1" font-size="11.2" fill="#14141c" transform="translate(115.6 0) scale(0.890 1) translate(-115.6 0)" text-anchor="end">10</text>
<text x="115.6" y="106" font-size="11.2" fill="#14141c" transform="translate(115.6 0) scale(0.890 1) translate(-115.6 0)" text-anchor="end">5</text>
<text x="115.6" y="118" font-size="11.2" fill="#14141c" transform="translate(115.6 0) scale(0.890 1) translate(-115.6 0)" text-anchor="end">0</text>
<text x="115.6" y="132.3" font-size="11.2" fill="#14141c" transform="translate(115.6 0) scale(0.890 1) translate(-115.6 0)" text-anchor="end">-5</text>
<text x="115.6" y="146.5" font-size="11.2" fill="#14141c" transform="translate(115.6 0) scale(0.890 1) translate(-115.6 0)" text-anchor="end">-10</text>
<line x1="120.4" y1="114.2" x2="390.4" y2="114.2" stroke="#000" stroke-width="1.9" stroke-dasharray="13 7.3" stroke-dashoffset="5.9"/>
<line x1="120.4" y1="227.4" x2="122.3" y2="227.4" stroke="#000" stroke-width="0.8"/>
<line x1="390.4" y1="227.4" x2="388.5" y2="227.4" stroke="#000" stroke-width="0.8"/>
<line x1="120.4" y1="224.6" x2="122.3" y2="224.6" stroke="#000" stroke-width="0.8"/>
<line x1="390.4" y1="224.6" x2="388.5" y2="224.6" stroke="#000" stroke-width="0.8"/>
<line x1="120.4" y1="221.8" x2="124" y2="221.8" stroke="#000" stroke-width="0.8"/>
<line x1="390.4" y1="221.8" x2="386.8" y2="221.8" stroke="#000" stroke-width="0.8"/>
<line x1="120.4" y1="218.9" x2="122.3" y2="218.9" stroke="#000" stroke-width="0.8"/>
<line x1="390.4" y1="218.9" x2="388.5" y2="218.9" stroke="#000" stroke-width="0.8"/>
<line x1="120.4" y1="216.1" x2="122.3" y2="216.1" stroke="#000" stroke-width="0.8"/>
<line x1="390.4" y1="216.1" x2="388.5" y2="216.1" stroke="#000" stroke-width="0.8"/>
<line x1="120.4" y1="213.2" x2="122.3" y2="213.2" stroke="#000" stroke-width="0.8"/>
<line x1="390.4" y1="213.2" x2="388.5" y2="213.2" stroke="#000" stroke-width="0.8"/>
<line x1="120.4" y1="210.4" x2="124" y2="210.4" stroke="#000" stroke-width="0.8"/>
<line x1="390.4" y1="210.4" x2="386.8" y2="210.4" stroke="#000" stroke-width="0.8"/>
<line x1="120.4" y1="207.6" x2="122.3" y2="207.6" stroke="#000" stroke-width="0.8"/>
<line x1="390.4" y1="207.6" x2="388.5" y2="207.6" stroke="#000" stroke-width="0.8"/>
<line x1="120.4" y1="204.7" x2="122.3" y2="204.7" stroke="#000" stroke-width="0.8"/>
<line x1="390.4" y1="204.7" x2="388.5" y2="204.7" stroke="#000" stroke-width="0.8"/>
<line x1="120.4" y1="201.9" x2="122.3" y2="201.9" stroke="#000" stroke-width="0.8"/>
<line x1="390.4" y1="201.9" x2="388.5" y2="201.9" stroke="#000" stroke-width="0.8"/>
<line x1="120.4" y1="199.1" x2="124" y2="199.1" stroke="#000" stroke-width="0.8"/>
<line x1="390.4" y1="199.1" x2="386.8" y2="199.1" stroke="#000" stroke-width="0.8"/>
<line x1="120.4" y1="196.2" x2="122.3" y2="196.2" stroke="#000" stroke-width="0.8"/>
<line x1="390.4" y1="196.2" x2="388.5" y2="196.2" stroke="#000" stroke-width="0.8"/>
<line x1="120.4" y1="193.4" x2="122.3" y2="193.4" stroke="#000" stroke-width="0.8"/>
<line x1="390.4" y1="193.4" x2="388.5" y2="193.4" stroke="#000" stroke-width="0.8"/>
<line x1="120.4" y1="190.5" x2="122.3" y2="190.5" stroke="#000" stroke-width="0.8"/>
<line x1="390.4" y1="190.5" x2="388.5" y2="190.5" stroke="#000" stroke-width="0.8"/>
<line x1="120.4" y1="187.7" x2="124" y2="187.7" stroke="#000" stroke-width="0.8"/>
<line x1="390.4" y1="187.7" x2="386.8" y2="187.7" stroke="#000" stroke-width="0.8"/>
<line x1="120.4" y1="184.9" x2="122.3" y2="184.9" stroke="#000" stroke-width="0.8"/>
<line x1="390.4" y1="184.9" x2="388.5" y2="184.9" stroke="#000" stroke-width="0.8"/>
<line x1="120.4" y1="182" x2="122.3" y2="182" stroke="#000" stroke-width="0.8"/>
<line x1="390.4" y1="182" x2="388.5" y2="182" stroke="#000" stroke-width="0.8"/>
<line x1="120.4" y1="179.2" x2="122.3" y2="179.2" stroke="#000" stroke-width="0.8"/>
<line x1="390.4" y1="179.2" x2="388.5" y2="179.2" stroke="#000" stroke-width="0.8"/>
<line x1="120.4" y1="176.3" x2="124" y2="176.3" stroke="#000" stroke-width="0.8"/>
<line x1="390.4" y1="176.3" x2="386.8" y2="176.3" stroke="#000" stroke-width="0.8"/>
<line x1="120.4" y1="173.5" x2="122.3" y2="173.5" stroke="#000" stroke-width="0.8"/>
<line x1="390.4" y1="173.5" x2="388.5" y2="173.5" stroke="#000" stroke-width="0.8"/>
<line x1="120.4" y1="170.7" x2="122.3" y2="170.7" stroke="#000" stroke-width="0.8"/>
<line x1="390.4" y1="170.7" x2="388.5" y2="170.7" stroke="#000" stroke-width="0.8"/>
<line x1="120.4" y1="167.8" x2="122.3" y2="167.8" stroke="#000" stroke-width="0.8"/>
<line x1="390.4" y1="167.8" x2="388.5" y2="167.8" stroke="#000" stroke-width="0.8"/>
<line x1="120.4" y1="165" x2="124" y2="165" stroke="#000" stroke-width="0.8"/>
<line x1="390.4" y1="165" x2="386.8" y2="165" stroke="#000" stroke-width="0.8"/>
<line x1="120.4" y1="162.2" x2="122.3" y2="162.2" stroke="#000" stroke-width="0.8"/>
<line x1="390.4" y1="162.2" x2="388.5" y2="162.2" stroke="#000" stroke-width="0.8"/>
<text x="115.6" y="169.1" font-size="11.2" fill="#14141c" transform="translate(115.6 0) scale(0.890 1) translate(-115.6 0)" text-anchor="end">18</text>
<text x="115.6" y="190.1" font-size="11.2" fill="#14141c" transform="translate(115.6 0) scale(0.890 1) translate(-115.6 0)" text-anchor="end">14</text>
<text x="115.6" y="214.3" font-size="11.2" fill="#14141c" transform="translate(115.6 0) scale(0.890 1) translate(-115.6 0)" text-anchor="end">10</text>
<line x1="120.4" y1="301.8" x2="122.2" y2="301.8" stroke="#000" stroke-width="0.8"/>
<line x1="390.4" y1="301.8" x2="388.6" y2="301.8" stroke="#000" stroke-width="0.8"/>
<line x1="120.4" y1="299.6" x2="122.2" y2="299.6" stroke="#000" stroke-width="0.8"/>
<line x1="390.4" y1="299.6" x2="388.6" y2="299.6" stroke="#000" stroke-width="0.8"/>
<line x1="120.4" y1="297.8" x2="122.2" y2="297.8" stroke="#000" stroke-width="0.8"/>
<line x1="390.4" y1="297.8" x2="388.6" y2="297.8" stroke="#000" stroke-width="0.8"/>
<line x1="120.4" y1="296.2" x2="122.2" y2="296.2" stroke="#000" stroke-width="0.8"/>
<line x1="390.4" y1="296.2" x2="388.6" y2="296.2" stroke="#000" stroke-width="0.8"/>
<line x1="120.4" y1="294.9" x2="122.2" y2="294.9" stroke="#000" stroke-width="0.8"/>
<line x1="390.4" y1="294.9" x2="388.6" y2="294.9" stroke="#000" stroke-width="0.8"/>
<line x1="120.4" y1="293.7" x2="122.2" y2="293.7" stroke="#000" stroke-width="0.8"/>
<line x1="390.4" y1="293.7" x2="388.6" y2="293.7" stroke="#000" stroke-width="0.8"/>
<line x1="120.4" y1="292.7" x2="123.8" y2="292.7" stroke="#000" stroke-width="0.8"/>
<line x1="390.4" y1="292.7" x2="387" y2="292.7" stroke="#000" stroke-width="0.8"/>
<line x1="120.4" y1="285.8" x2="122.2" y2="285.8" stroke="#000" stroke-width="0.8"/>
<line x1="390.4" y1="285.8" x2="388.6" y2="285.8" stroke="#000" stroke-width="0.8"/>
<line x1="120.4" y1="281.8" x2="122.2" y2="281.8" stroke="#000" stroke-width="0.8"/>
<line x1="390.4" y1="281.8" x2="388.6" y2="281.8" stroke="#000" stroke-width="0.8"/>
<line x1="120.4" y1="278.9" x2="122.2" y2="278.9" stroke="#000" stroke-width="0.8"/>
<line x1="390.4" y1="278.9" x2="388.6" y2="278.9" stroke="#000" stroke-width="0.8"/>
<line x1="120.4" y1="276.7" x2="122.2" y2="276.7" stroke="#000" stroke-width="0.8"/>
<line x1="390.4" y1="276.7" x2="388.6" y2="276.7" stroke="#000" stroke-width="0.8"/>
<line x1="120.4" y1="274.9" x2="122.2" y2="274.9" stroke="#000" stroke-width="0.8"/>
<line x1="390.4" y1="274.9" x2="388.6" y2="274.9" stroke="#000" stroke-width="0.8"/>
<line x1="120.4" y1="273.3" x2="122.2" y2="273.3" stroke="#000" stroke-width="0.8"/>
<line x1="390.4" y1="273.3" x2="388.6" y2="273.3" stroke="#000" stroke-width="0.8"/>
<line x1="120.4" y1="272" x2="122.2" y2="272" stroke="#000" stroke-width="0.8"/>
<line x1="390.4" y1="272" x2="388.6" y2="272" stroke="#000" stroke-width="0.8"/>
<line x1="120.4" y1="270.8" x2="122.2" y2="270.8" stroke="#000" stroke-width="0.8"/>
<line x1="390.4" y1="270.8" x2="388.6" y2="270.8" stroke="#000" stroke-width="0.8"/>
<line x1="120.4" y1="269.8" x2="123.8" y2="269.8" stroke="#000" stroke-width="0.8"/>
<line x1="390.4" y1="269.8" x2="387" y2="269.8" stroke="#000" stroke-width="0.8"/>
<line x1="120.4" y1="262.9" x2="122.2" y2="262.9" stroke="#000" stroke-width="0.8"/>
<line x1="390.4" y1="262.9" x2="388.6" y2="262.9" stroke="#000" stroke-width="0.8"/>
<line x1="120.4" y1="258.9" x2="122.2" y2="258.9" stroke="#000" stroke-width="0.8"/>
<line x1="390.4" y1="258.9" x2="388.6" y2="258.9" stroke="#000" stroke-width="0.8"/>
<line x1="120.4" y1="256" x2="122.2" y2="256" stroke="#000" stroke-width="0.8"/>
<line x1="390.4" y1="256" x2="388.6" y2="256" stroke="#000" stroke-width="0.8"/>
<line x1="120.4" y1="253.8" x2="122.2" y2="253.8" stroke="#000" stroke-width="0.8"/>
<line x1="390.4" y1="253.8" x2="388.6" y2="253.8" stroke="#000" stroke-width="0.8"/>
<line x1="120.4" y1="252" x2="122.2" y2="252" stroke="#000" stroke-width="0.8"/>
<line x1="390.4" y1="252" x2="388.6" y2="252" stroke="#000" stroke-width="0.8"/>
<line x1="120.4" y1="250.4" x2="122.2" y2="250.4" stroke="#000" stroke-width="0.8"/>
<line x1="390.4" y1="250.4" x2="388.6" y2="250.4" stroke="#000" stroke-width="0.8"/>
<line x1="120.4" y1="249.1" x2="122.2" y2="249.1" stroke="#000" stroke-width="0.8"/>
<line x1="390.4" y1="249.1" x2="388.6" y2="249.1" stroke="#000" stroke-width="0.8"/>
<line x1="120.4" y1="247.9" x2="122.2" y2="247.9" stroke="#000" stroke-width="0.8"/>
<line x1="390.4" y1="247.9" x2="388.6" y2="247.9" stroke="#000" stroke-width="0.8"/>
<line x1="120.4" y1="246.9" x2="123.8" y2="246.9" stroke="#000" stroke-width="0.8"/>
<line x1="390.4" y1="246.9" x2="387" y2="246.9" stroke="#000" stroke-width="0.8"/>
<line x1="120.4" y1="240" x2="122.2" y2="240" stroke="#000" stroke-width="0.8"/>
<line x1="390.4" y1="240" x2="388.6" y2="240" stroke="#000" stroke-width="0.8"/>
<line x1="120.4" y1="236" x2="122.2" y2="236" stroke="#000" stroke-width="0.8"/>
<line x1="390.4" y1="236" x2="388.6" y2="236" stroke="#000" stroke-width="0.8"/>
<text x="113.4" y="250.7" font-size="11.2" fill="#14141c" transform="translate(113.4 0) scale(0.890 1) translate(-113.4 0)" text-anchor="end">10000</text>
<text x="113.4" y="273.9" font-size="11.2" fill="#14141c" transform="translate(113.4 0) scale(0.890 1) translate(-113.4 0)" text-anchor="end">1000</text>
<text x="113.4" y="296.6" font-size="11.2" fill="#14141c" transform="translate(113.4 0) scale(0.890 1) translate(-113.4 0)" text-anchor="end">100</text>
<line x1="120.4" y1="377" x2="122.2" y2="377" stroke="#000" stroke-width="0.8"/>
<line x1="390.4" y1="377" x2="388.6" y2="377" stroke="#000" stroke-width="0.8"/>
<line x1="120.4" y1="376" x2="122.2" y2="376" stroke="#000" stroke-width="0.8"/>
<line x1="390.4" y1="376" x2="388.6" y2="376" stroke="#000" stroke-width="0.8"/>
<line x1="120.4" y1="375.1" x2="122.2" y2="375.1" stroke="#000" stroke-width="0.8"/>
<line x1="390.4" y1="375.1" x2="388.6" y2="375.1" stroke="#000" stroke-width="0.8"/>
<line x1="120.4" y1="374.3" x2="123.8" y2="374.3" stroke="#000" stroke-width="0.8"/>
<line x1="390.4" y1="374.3" x2="387" y2="374.3" stroke="#000" stroke-width="0.8"/>
<line x1="120.4" y1="369.1" x2="122.2" y2="369.1" stroke="#000" stroke-width="0.8"/>
<line x1="390.4" y1="369.1" x2="388.6" y2="369.1" stroke="#000" stroke-width="0.8"/>
<line x1="120.4" y1="366" x2="122.2" y2="366" stroke="#000" stroke-width="0.8"/>
<line x1="390.4" y1="366" x2="388.6" y2="366" stroke="#000" stroke-width="0.8"/>
<line x1="120.4" y1="363.8" x2="122.2" y2="363.8" stroke="#000" stroke-width="0.8"/>
<line x1="390.4" y1="363.8" x2="388.6" y2="363.8" stroke="#000" stroke-width="0.8"/>
<line x1="120.4" y1="362.1" x2="122.2" y2="362.1" stroke="#000" stroke-width="0.8"/>
<line x1="390.4" y1="362.1" x2="388.6" y2="362.1" stroke="#000" stroke-width="0.8"/>
<line x1="120.4" y1="360.8" x2="122.2" y2="360.8" stroke="#000" stroke-width="0.8"/>
<line x1="390.4" y1="360.8" x2="388.6" y2="360.8" stroke="#000" stroke-width="0.8"/>
<line x1="120.4" y1="359.6" x2="122.2" y2="359.6" stroke="#000" stroke-width="0.8"/>
<line x1="390.4" y1="359.6" x2="388.6" y2="359.6" stroke="#000" stroke-width="0.8"/>
<line x1="120.4" y1="358.6" x2="122.2" y2="358.6" stroke="#000" stroke-width="0.8"/>
<line x1="390.4" y1="358.6" x2="388.6" y2="358.6" stroke="#000" stroke-width="0.8"/>
<line x1="120.4" y1="357.7" x2="122.2" y2="357.7" stroke="#000" stroke-width="0.8"/>
<line x1="390.4" y1="357.7" x2="388.6" y2="357.7" stroke="#000" stroke-width="0.8"/>
<line x1="120.4" y1="356.9" x2="123.8" y2="356.9" stroke="#000" stroke-width="0.8"/>
<line x1="390.4" y1="356.9" x2="387" y2="356.9" stroke="#000" stroke-width="0.8"/>
<line x1="120.4" y1="351.7" x2="122.2" y2="351.7" stroke="#000" stroke-width="0.8"/>
<line x1="390.4" y1="351.7" x2="388.6" y2="351.7" stroke="#000" stroke-width="0.8"/>
<line x1="120.4" y1="348.6" x2="122.2" y2="348.6" stroke="#000" stroke-width="0.8"/>
<line x1="390.4" y1="348.6" x2="388.6" y2="348.6" stroke="#000" stroke-width="0.8"/>
<line x1="120.4" y1="346.4" x2="122.2" y2="346.4" stroke="#000" stroke-width="0.8"/>
<line x1="390.4" y1="346.4" x2="388.6" y2="346.4" stroke="#000" stroke-width="0.8"/>
<line x1="120.4" y1="344.7" x2="122.2" y2="344.7" stroke="#000" stroke-width="0.8"/>
<line x1="390.4" y1="344.7" x2="388.6" y2="344.7" stroke="#000" stroke-width="0.8"/>
<line x1="120.4" y1="343.4" x2="122.2" y2="343.4" stroke="#000" stroke-width="0.8"/>
<line x1="390.4" y1="343.4" x2="388.6" y2="343.4" stroke="#000" stroke-width="0.8"/>
<line x1="120.4" y1="342.2" x2="122.2" y2="342.2" stroke="#000" stroke-width="0.8"/>
<line x1="390.4" y1="342.2" x2="388.6" y2="342.2" stroke="#000" stroke-width="0.8"/>
<line x1="120.4" y1="341.2" x2="122.2" y2="341.2" stroke="#000" stroke-width="0.8"/>
<line x1="390.4" y1="341.2" x2="388.6" y2="341.2" stroke="#000" stroke-width="0.8"/>
<line x1="120.4" y1="340.3" x2="122.2" y2="340.3" stroke="#000" stroke-width="0.8"/>
<line x1="390.4" y1="340.3" x2="388.6" y2="340.3" stroke="#000" stroke-width="0.8"/>
<line x1="120.4" y1="339.5" x2="123.8" y2="339.5" stroke="#000" stroke-width="0.8"/>
<line x1="390.4" y1="339.5" x2="387" y2="339.5" stroke="#000" stroke-width="0.8"/>
<line x1="120.4" y1="334.3" x2="122.2" y2="334.3" stroke="#000" stroke-width="0.8"/>
<line x1="390.4" y1="334.3" x2="388.6" y2="334.3" stroke="#000" stroke-width="0.8"/>
<line x1="120.4" y1="331.2" x2="122.2" y2="331.2" stroke="#000" stroke-width="0.8"/>
<line x1="390.4" y1="331.2" x2="388.6" y2="331.2" stroke="#000" stroke-width="0.8"/>
<line x1="120.4" y1="329" x2="122.2" y2="329" stroke="#000" stroke-width="0.8"/>
<line x1="390.4" y1="329" x2="388.6" y2="329" stroke="#000" stroke-width="0.8"/>
<line x1="120.4" y1="327.3" x2="122.2" y2="327.3" stroke="#000" stroke-width="0.8"/>
<line x1="390.4" y1="327.3" x2="388.6" y2="327.3" stroke="#000" stroke-width="0.8"/>
<line x1="120.4" y1="326" x2="122.2" y2="326" stroke="#000" stroke-width="0.8"/>
<line x1="390.4" y1="326" x2="388.6" y2="326" stroke="#000" stroke-width="0.8"/>
<line x1="120.4" y1="324.8" x2="122.2" y2="324.8" stroke="#000" stroke-width="0.8"/>
<line x1="390.4" y1="324.8" x2="388.6" y2="324.8" stroke="#000" stroke-width="0.8"/>
<line x1="120.4" y1="323.8" x2="122.2" y2="323.8" stroke="#000" stroke-width="0.8"/>
<line x1="390.4" y1="323.8" x2="388.6" y2="323.8" stroke="#000" stroke-width="0.8"/>
<line x1="120.4" y1="322.9" x2="122.2" y2="322.9" stroke="#000" stroke-width="0.8"/>
<line x1="390.4" y1="322.9" x2="388.6" y2="322.9" stroke="#000" stroke-width="0.8"/>
<line x1="120.4" y1="322.1" x2="123.8" y2="322.1" stroke="#000" stroke-width="0.8"/>
<line x1="390.4" y1="322.1" x2="387" y2="322.1" stroke="#000" stroke-width="0.8"/>
<line x1="120.4" y1="316.9" x2="122.2" y2="316.9" stroke="#000" stroke-width="0.8"/>
<line x1="390.4" y1="316.9" x2="388.6" y2="316.9" stroke="#000" stroke-width="0.8"/>
<line x1="120.4" y1="313.8" x2="122.2" y2="313.8" stroke="#000" stroke-width="0.8"/>
<line x1="390.4" y1="313.8" x2="388.6" y2="313.8" stroke="#000" stroke-width="0.8"/>
<line x1="120.4" y1="311.6" x2="122.2" y2="311.6" stroke="#000" stroke-width="0.8"/>
<line x1="390.4" y1="311.6" x2="388.6" y2="311.6" stroke="#000" stroke-width="0.8"/>
<line x1="120.4" y1="309.9" x2="122.2" y2="309.9" stroke="#000" stroke-width="0.8"/>
<line x1="390.4" y1="309.9" x2="388.6" y2="309.9" stroke="#000" stroke-width="0.8"/>
<text x="113.4" y="326.3" font-size="11.2" fill="#14141c" transform="translate(113.4 0) scale(0.890 1) translate(-113.4 0)" text-anchor="end">10000</text>
<text x="113.4" y="345.5" font-size="11.2" fill="#14141c" transform="translate(113.4 0) scale(0.890 1) translate(-113.4 0)" text-anchor="end">1000</text>
<text x="113.4" y="363.3" font-size="11.2" fill="#14141c" transform="translate(113.4 0) scale(0.890 1) translate(-113.4 0)" text-anchor="end">100</text>
<text x="113.4" y="378.1" font-size="11.2" fill="#14141c" transform="translate(113.4 0) scale(0.890 1) translate(-113.4 0)" text-anchor="end">10</text>
<line x1="120.7" y1="386.2" x2="120.7" y2="461.8" stroke="#000" stroke-width="2.2"/>
<line x1="119.8" y1="387.2" x2="118" y2="387.2" stroke="#000" stroke-width="0.7"/>
<line x1="119.8" y1="389.2" x2="118" y2="389.2" stroke="#000" stroke-width="0.7"/>
<line x1="119.8" y1="391.3" x2="118" y2="391.3" stroke="#000" stroke-width="0.7"/>
<line x1="119.8" y1="393.4" x2="118" y2="393.4" stroke="#000" stroke-width="0.7"/>
<line x1="119.8" y1="395.4" x2="118" y2="395.4" stroke="#000" stroke-width="0.7"/>
<line x1="119.8" y1="397.5" x2="118" y2="397.5" stroke="#000" stroke-width="0.7"/>
<line x1="119.8" y1="399.5" x2="118" y2="399.5" stroke="#000" stroke-width="0.7"/>
<line x1="119.8" y1="401.6" x2="118" y2="401.6" stroke="#000" stroke-width="0.7"/>
<line x1="119.8" y1="403.6" x2="118" y2="403.6" stroke="#000" stroke-width="0.7"/>
<line x1="119.8" y1="405.7" x2="118" y2="405.7" stroke="#000" stroke-width="0.7"/>
<line x1="119.8" y1="407.7" x2="118" y2="407.7" stroke="#000" stroke-width="0.7"/>
<line x1="119.8" y1="409.8" x2="118" y2="409.8" stroke="#000" stroke-width="0.7"/>
<line x1="119.8" y1="411.8" x2="118" y2="411.8" stroke="#000" stroke-width="0.7"/>
<line x1="119.8" y1="413.9" x2="118" y2="413.9" stroke="#000" stroke-width="0.7"/>
<line x1="119.8" y1="415.9" x2="118" y2="415.9" stroke="#000" stroke-width="0.7"/>
<line x1="119.8" y1="418" x2="118" y2="418" stroke="#000" stroke-width="0.7"/>
<line x1="119.8" y1="420" x2="118" y2="420" stroke="#000" stroke-width="0.7"/>
<line x1="119.8" y1="422.1" x2="118" y2="422.1" stroke="#000" stroke-width="0.7"/>
<line x1="119.8" y1="424.1" x2="118" y2="424.1" stroke="#000" stroke-width="0.7"/>
<line x1="119.8" y1="426.2" x2="118" y2="426.2" stroke="#000" stroke-width="0.7"/>
<line x1="119.8" y1="428.2" x2="118" y2="428.2" stroke="#000" stroke-width="0.7"/>
<line x1="119.8" y1="430.3" x2="118" y2="430.3" stroke="#000" stroke-width="0.7"/>
<line x1="119.8" y1="432.3" x2="118" y2="432.3" stroke="#000" stroke-width="0.7"/>
<line x1="119.8" y1="434.4" x2="118" y2="434.4" stroke="#000" stroke-width="0.7"/>
<line x1="119.8" y1="436.4" x2="118" y2="436.4" stroke="#000" stroke-width="0.7"/>
<line x1="119.8" y1="438.5" x2="118" y2="438.5" stroke="#000" stroke-width="0.7"/>
<line x1="119.8" y1="440.5" x2="118" y2="440.5" stroke="#000" stroke-width="0.7"/>
<line x1="119.8" y1="442.6" x2="118" y2="442.6" stroke="#000" stroke-width="0.7"/>
<line x1="119.8" y1="444.6" x2="118" y2="444.6" stroke="#000" stroke-width="0.7"/>
<line x1="119.8" y1="446.7" x2="118" y2="446.7" stroke="#000" stroke-width="0.7"/>
<line x1="119.8" y1="448.7" x2="118" y2="448.7" stroke="#000" stroke-width="0.7"/>
<line x1="119.8" y1="450.8" x2="118" y2="450.8" stroke="#000" stroke-width="0.7"/>
<line x1="119.8" y1="452.8" x2="118" y2="452.8" stroke="#000" stroke-width="0.7"/>
<line x1="119.8" y1="454.9" x2="118" y2="454.9" stroke="#000" stroke-width="0.7"/>
<line x1="119.8" y1="456.9" x2="118" y2="456.9" stroke="#000" stroke-width="0.7"/>
<line x1="119.8" y1="459" x2="118" y2="459" stroke="#000" stroke-width="0.7"/>
<line x1="119.8" y1="461" x2="118" y2="461" stroke="#000" stroke-width="0.7"/>
<line x1="119.8" y1="387.2" x2="116.8" y2="387.2" stroke="#000" stroke-width="1"/>
<line x1="119.8" y1="405.8" x2="116.8" y2="405.8" stroke="#000" stroke-width="1"/>
<line x1="119.8" y1="437" x2="116.8" y2="437" stroke="#000" stroke-width="1"/>
<line x1="119.8" y1="457.6" x2="116.8" y2="457.6" stroke="#000" stroke-width="1"/>
<text x="116.4" y="392.7" font-size="11.2" fill="#14141c" transform="translate(116.4 0) scale(0.890 1) translate(-116.4 0)" text-anchor="end">300</text>
<text x="116.4" y="410.1" font-size="11.2" fill="#14141c" transform="translate(116.4 0) scale(0.890 1) translate(-116.4 0)" text-anchor="end">200</text>
<text x="116.4" y="441" font-size="11.2" fill="#14141c" transform="translate(116.4 0) scale(0.890 1) translate(-116.4 0)" text-anchor="end">100</text>
<text x="116.4" y="461.2" font-size="11.2" fill="#14141c" transform="translate(116.4 0) scale(0.890 1) translate(-116.4 0)" text-anchor="end">50</text>
<text x="67.4" y="110.5" font-size="12.5" fill="#14141c" transform="rotate(-90 67.4 110.5) translate(67.4 0) scale(1.020 1) translate(-67.4 0)" text-anchor="middle">B_RTP</text>
<text x="81.4" y="111" font-size="12.5" fill="#14141c" transform="rotate(-90 81.4 111) translate(81.4 0) scale(1.120 1) translate(-81.4 0)" text-anchor="middle">(nT)</text>
<text x="67.4" y="181.4" font-size="12.5" fill="#14141c" transform="rotate(-90 67.4 181.4) translate(67.4 0) scale(1.140 1) translate(-67.4 0)" text-anchor="middle">B_total</text>
<text x="81.4" y="180.6" font-size="12.5" fill="#14141c" transform="rotate(-90 81.4 180.6) translate(81.4 0) scale(1.120 1) translate(-81.4 0)" text-anchor="middle">(nT)</text>
<text x="56.2" y="283.4" font-size="12" fill="#14141c" transform="rotate(-90 56.2 283.4) translate(56.2 0) scale(0.950 1) translate(-56.2 0)" text-anchor="middle">Electron</text>
<text x="69" y="264.8" font-size="12" fill="#14141c" transform="rotate(-90 69 264.8) translate(69 0) scale(1.085 1) translate(-69 0)" text-anchor="middle">energy (eV)</text>
<text x="56.2" y="349.8" font-size="12" fill="#14141c" transform="rotate(-90 56.2 349.8) translate(56.2 0) scale(0.950 1) translate(-56.2 0)" text-anchor="middle">Protons</text>
<text x="69" y="342.9" font-size="12" fill="#14141c" transform="rotate(-90 69 342.9) translate(69 0) scale(1.075 1) translate(-69 0)" text-anchor="middle">energy (eV)</text>
<text x="56.2" y="423.4" font-size="12" fill="#14141c" transform="rotate(-90 56.2 423.4) translate(56.2 0) scale(0.950 1) translate(-56.2 0)" text-anchor="middle">Wave</text>
<text x="69" y="422.4" font-size="12" fill="#14141c" transform="rotate(-90 69 422.4) translate(69 0) scale(0.995 1) translate(-69 0)" text-anchor="middle">Frequency (Hz)</text>
<text x="19.3" y="115.2" font-size="28" fill="#111" class="se">a</text>
<text x="19.6" y="197.5" font-size="28" fill="#111" class="se">b</text>
<text x="18.2" y="278.2" font-size="28" fill="#111" class="se">c</text>
<text x="18.6" y="353.2" font-size="28" fill="#111" class="se">d</text>
<text x="19" y="427.2" font-size="28" fill="#111" class="se">e</text>
<text x="480.4" y="160.2" font-size="28" fill="#111" class="se">f</text>
<text x="394.4" y="97.8" font-size="11.7" fill="#2c5aa8" transform="translate(394.4 0) scale(0.860 1) translate(-394.4 0)">Br</text>
<text x="394.4" y="120.6" font-size="11.7" fill="#ea2834" transform="translate(394.4 0) scale(0.890 1) translate(-394.4 0)">Btheta</text>
<text x="394.4" y="143.2" font-size="11.7" fill="#66ba4c" transform="translate(394.4 0) scale(0.890 1) translate(-394.4 0)">Bphi</text>
<defs><linearGradient id="cbj" x1="0" y1="0" x2="0" y2="1"><stop offset="0" stop-color="#9c1f2a"/><stop offset="0.07" stop-color="#d8202a"/><stop offset="0.13" stop-color="#ea2a1e"/><stop offset="0.22" stop-color="#f0801f"/><stop offset="0.30" stop-color="#ecd422"/><stop offset="0.38" stop-color="#9cc832"/><stop offset="0.48" stop-color="#48ac4c"/><stop offset="0.57" stop-color="#30b096"/><stop offset="0.66" stop-color="#22a4e0"/><stop offset="0.76" stop-color="#2058c0"/><stop offset="0.86" stop-color="#3a2a98"/><stop offset="0.93" stop-color="#35145c"/><stop offset="1" stop-color="#080208"/></linearGradient><linearGradient id="cbe" x1="0" y1="0" x2="0" y2="1"><stop offset="0" stop-color="#e8282a"/><stop offset="0.12" stop-color="#ee5a22"/><stop offset="0.28" stop-color="#f09a22"/><stop offset="0.40" stop-color="#e8dc30"/><stop offset="0.52" stop-color="#8cc63c"/><stop offset="0.66" stop-color="#4cb458"/><stop offset="0.78" stop-color="#3cb8b0"/><stop offset="0.85" stop-color="#28a8e4"/><stop offset="0.93" stop-color="#2060b8"/><stop offset="1" stop-color="#1c4496"/></linearGradient></defs>
<rect x="395" y="235.4" width="7" height="68.8" fill="url(#cbj)" stroke="#111" stroke-width="0.9"/>
<rect x="395" y="309.4" width="7" height="69.2" fill="url(#cbj)" stroke="#111" stroke-width="0.9"/>
<rect x="395.2" y="386.2" width="4.6" height="75.6" fill="url(#cbe)"/>
<line x1="400" y1="386.2" x2="400" y2="461.8" stroke="#222" stroke-width="0.8"/>
<text x="404.4" y="265.7" font-size="11.2" fill="#14141c" transform="translate(404.4 0) scale(0.890 1) translate(-404.4 0)">1000</text>
<text x="404.4" y="303.7" font-size="11.2" fill="#14141c" transform="translate(404.4 0) scale(0.890 1) translate(-404.4 0)">100</text>
<text x="404.4" y="316.8" font-size="11.2" fill="#14141c" transform="translate(404.4 0) scale(0.890 1) translate(-404.4 0)">10.0</text>
<text x="404.4" y="346.5" font-size="11.2" fill="#14141c" transform="translate(404.4 0) scale(0.890 1) translate(-404.4 0)">1.0</text>
<text x="404.4" y="378.5" font-size="11.2" fill="#14141c" transform="translate(404.4 0) scale(0.890 1) translate(-404.4 0)">0.1</text>
<line x1="396.5" y1="397.4" x2="400" y2="397.4" stroke="#222" stroke-width="0.8"/>
<text x="402.2" y="402" font-size="11.2" fill="#14141c" transform="translate(402.2 0) scale(0.860 1) translate(-402.2 0)">10<tspan font-size="7.8" dy="-4.4">-9</tspan></text>
<line x1="396.5" y1="416.7" x2="400" y2="416.7" stroke="#222" stroke-width="0.8"/>
<text x="402.2" y="421.3" font-size="11.2" fill="#14141c" transform="translate(402.2 0) scale(0.860 1) translate(-402.2 0)">10<tspan font-size="7.8" dy="-4.4">-10</tspan></text>
<line x1="396.5" y1="435.9" x2="400" y2="435.9" stroke="#222" stroke-width="0.8"/>
<text x="402.2" y="440.5" font-size="11.2" fill="#14141c" transform="translate(402.2 0) scale(0.860 1) translate(-402.2 0)">10<tspan font-size="7.8" dy="-4.4">-11</tspan></text>
<line x1="396.5" y1="455.8" x2="400" y2="455.8" stroke="#222" stroke-width="0.8"/>
<text x="402.2" y="460.4" font-size="11.2" fill="#14141c" transform="translate(402.2 0) scale(0.860 1) translate(-402.2 0)">10<tspan font-size="7.8" dy="-4.4">-12</tspan></text>
<text x="440.2" y="270.5" font-size="12.2" fill="#14141c" transform="rotate(-90 440.2 270.5) translate(440.2 0) scale(1.050 1) translate(-440.2 0)" text-anchor="middle">C/s</text>
<text x="440.2" y="342.4" font-size="12.2" fill="#14141c" transform="rotate(-90 440.2 342.4) translate(440.2 0) scale(1.000 1) translate(-440.2 0)" text-anchor="middle">C/s</text>
<text x="441.2" y="431" font-size="12" fill="#14141c" transform="rotate(-90 441.2 431) translate(441.2 0) scale(1.030 1) translate(-441.2 0)" text-anchor="middle">V2m-2/Hz</text>
<text x="53.6" y="483.8" font-size="11.8" fill="#14141c" transform="translate(53.6 0) scale(0.860 1) translate(-53.6 0)">Inv.Lat</text>
<text x="53.6" y="494.5" font-size="11.8" fill="#14141c" transform="translate(53.6 0) scale(0.860 1) translate(-53.6 0)">RJ</text>
<text x="53.6" y="505.3" font-size="11.8" fill="#14141c" transform="translate(53.6 0) scale(0.860 1) translate(-53.6 0)">LT</text>
<text x="53.6" y="516.3" font-size="11.8" fill="#14141c" transform="translate(53.6 0) scale(0.860 1) translate(-53.6 0)">hhmm</text>
<text x="53.6" y="527.1" font-size="11.8" fill="#14141c" transform="translate(53.6 0) scale(0.860 1) translate(-53.6 0)">2023</text>
<text x="156.2" y="483.8" font-size="11.8" fill="#14141c" transform="translate(156.2 0) scale(0.860 1) translate(-156.2 0)" text-anchor="middle">-79.5</text>
<text x="156.2" y="494.5" font-size="11.8" fill="#14141c" transform="translate(156.2 0) scale(0.860 1) translate(-156.2 0)" text-anchor="middle">52.2</text>
<text x="156.2" y="505.3" font-size="11.8" fill="#14141c" transform="translate(156.2 0) scale(0.860 1) translate(-156.2 0)" text-anchor="middle">17.8</text>
<text x="156.2" y="516.3" font-size="11.8" fill="#14141c" transform="translate(156.2 0) scale(0.860 1) translate(-156.2 0)" text-anchor="middle">16:00</text>
<text x="156.2" y="527.1" font-size="11.8" fill="#14141c" transform="translate(156.2 0) scale(0.860 1) translate(-156.2 0)" text-anchor="middle">Jun 27</text>
<text x="214.2" y="483.8" font-size="11.8" fill="#14141c" transform="translate(214.2 0) scale(0.860 1) translate(-214.2 0)" text-anchor="middle">-86.0</text>
<text x="214.2" y="494.5" font-size="11.8" fill="#14141c" transform="translate(214.2 0) scale(0.860 1) translate(-214.2 0)" text-anchor="middle">53.3</text>
<text x="214.2" y="505.3" font-size="11.8" fill="#14141c" transform="translate(214.2 0) scale(0.860 1) translate(-214.2 0)" text-anchor="middle">17.8</text>
<text x="214.2" y="516.3" font-size="11.8" fill="#14141c" transform="translate(214.2 0) scale(0.860 1) translate(-214.2 0)" text-anchor="middle">20:00</text>
<text x="269" y="483.8" font-size="11.8" fill="#14141c" transform="translate(269 0) scale(0.860 1) translate(-269 0)" text-anchor="middle">-78.2</text>
<text x="269" y="494.5" font-size="11.8" fill="#14141c" transform="translate(269 0) scale(0.860 1) translate(-269 0)" text-anchor="middle">54.4</text>
<text x="269" y="505.3" font-size="11.8" fill="#14141c" transform="translate(269 0) scale(0.860 1) translate(-269 0)" text-anchor="middle">17.8</text>
<text x="269" y="516.3" font-size="11.8" fill="#14141c" transform="translate(269 0) scale(0.860 1) translate(-269 0)" text-anchor="middle">00:00</text>
<text x="269" y="527.1" font-size="11.8" fill="#14141c" transform="translate(269 0) scale(0.860 1) translate(-269 0)" text-anchor="middle">Jun 28</text>
<text x="326.8" y="484.1" font-size="11.8" fill="#14141c" transform="translate(326.8 0) scale(0.860 1) translate(-326.8 0)" text-anchor="middle">-86.6</text>
<text x="326.8" y="495.3" font-size="11.8" fill="#14141c" transform="translate(326.8 0) scale(0.860 1) translate(-326.8 0)" text-anchor="middle">55.5</text>
<text x="326.8" y="506.5" font-size="11.8" fill="#14141c" transform="translate(326.8 0) scale(0.860 1) translate(-326.8 0)" text-anchor="middle">17.8</text>
<text x="326.8" y="517.5" font-size="11.8" fill="#14141c" transform="translate(326.8 0) scale(0.860 1) translate(-326.8 0)" text-anchor="middle">04:00</text>
<text x="383.6" y="483.8" font-size="11.8" fill="#14141c" transform="translate(383.6 0) scale(0.860 1) translate(-383.6 0)" text-anchor="middle">-80.8</text>
<text x="383.6" y="494.5" font-size="11.8" fill="#14141c" transform="translate(383.6 0) scale(0.860 1) translate(-383.6 0)" text-anchor="middle">56.5</text>
<text x="383.6" y="505.3" font-size="11.8" fill="#14141c" transform="translate(383.6 0) scale(0.860 1) translate(-383.6 0)" text-anchor="middle">17.7</text>
<text x="383.6" y="516.3" font-size="11.8" fill="#14141c" transform="translate(383.6 0) scale(0.860 1) translate(-383.6 0)" text-anchor="middle">08:00</text>
<text x="253" y="197.6" font-size="14" fill="#26262a" transform="translate(253 0) scale(0.950 1) translate(-253 0)" text-anchor="middle" font-weight="bold">Stable</text>
<text x="253.4" y="210.8" font-size="14" fill="#26262a" transform="translate(253.4 0) scale(0.935 1) translate(-253.4 0)" text-anchor="middle" font-weight="bold">Magnetic Field</text>
<text x="258.2" y="250.8" font-size="15" fill="#fff" transform="translate(258.2 0) scale(1.000 1) translate(-258.2 0)" text-anchor="middle" font-weight="bold">Sheath-like</text>
<text x="257.4" y="263.6" font-size="15" fill="#fff" transform="translate(257.4 0) scale(1.000 1) translate(-257.4 0)" text-anchor="middle" font-weight="bold">Electron</text>
<clipPath id="cpd"><rect x="120.4" y="309.4" width="270" height="69.2"/></clipPath>
<g clip-path="url(#cpd)"><text x="254.6" y="316.9" font-size="15" fill="#fff" transform="translate(254.6 0) scale(1.000 1) translate(-254.6 0)" text-anchor="middle" font-weight="bold">Ion</text>
</g>
<text x="253.8" y="330" font-size="15" fill="#fff" transform="translate(253.8 0) scale(1.000 1) translate(-253.8 0)" text-anchor="middle" font-weight="bold">Dispersion</text>
<text x="257.6" y="411.6" font-size="17.5" fill="#fff" transform="translate(257.6 0) scale(0.940 1) translate(-257.6 0)" text-anchor="middle" font-weight="bold">Auroral</text>
<text x="257.9" y="433.8" font-size="17.5" fill="#fff" transform="translate(257.9 0) scale(0.930 1) translate(-257.9 0)" text-anchor="middle" font-weight="bold">Hiss</text>
</svg>
</body></html>
